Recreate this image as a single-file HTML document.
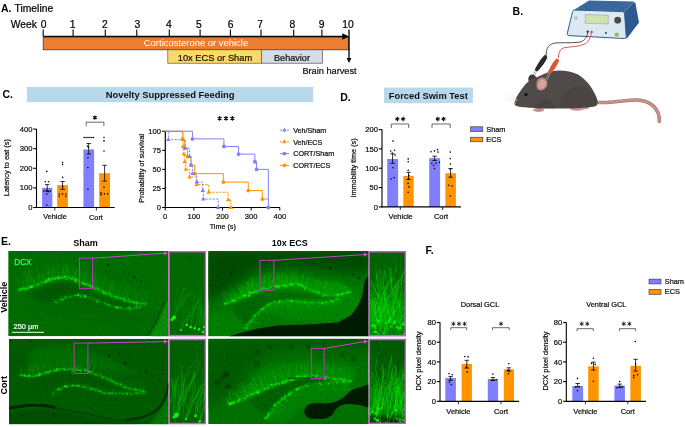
<!DOCTYPE html>
<html><head><meta charset="utf-8"><style>
html,body{margin:0;padding:0;background:#fff;width:685px;height:427px;overflow:hidden}
svg{display:block;will-change:transform;filter:blur(0.3px);font-family:"Liberation Sans", sans-serif}
</style></head><body>
<svg width="685" height="427" viewBox="0 0 685 427">
<defs>
<filter id="b03" x="-50%" y="-50%" width="200%" height="200%"><feGaussianBlur stdDeviation="0.35"/></filter>
<filter id="b05" x="-20%" y="-20%" width="140%" height="140%"><feGaussianBlur stdDeviation="0.5"/></filter>
<filter id="b1" x="-20%" y="-20%" width="140%" height="140%"><feGaussianBlur stdDeviation="1"/></filter>
<filter id="b3" x="-30%" y="-30%" width="160%" height="160%"><feGaussianBlur stdDeviation="2.5"/></filter>
<filter id="b6" x="-30%" y="-30%" width="160%" height="160%"><feGaussianBlur stdDeviation="6"/></filter>
<filter id="noise" x="0" y="0" width="100%" height="100%"><feTurbulence type="fractalNoise" baseFrequency="0.45" numOctaves="2" seed="3"/><feColorMatrix type="matrix" values="0 0 0 0 0  0 0 0 0 0  0 0 0 0 0  0 0 0 -1.4 0.85"/></filter>
</defs>
<text x="1" y="11.6" font-size="10.5" text-anchor="start" font-weight="bold" fill="#000" >A.</text>
<text x="14.6" y="11.6" font-size="10.3" text-anchor="start" font-weight="normal" fill="#000" stroke="#000" stroke-width="0.22" >Timeline</text>
<text x="10.8" y="28" font-size="10.3" text-anchor="start" font-weight="normal" fill="#000" stroke="#000" stroke-width="0.22" >Week</text>
<text x="43.5" y="28" font-size="10.3" text-anchor="middle" font-weight="normal" fill="#000" stroke="#000" stroke-width="0.22" >0</text>
<line x1="43.2" y1="29.6" x2="43.2" y2="36.5" stroke="#000" stroke-width="1.1" />
<text x="72.6" y="28" font-size="10.3" text-anchor="middle" font-weight="normal" fill="#000" stroke="#000" stroke-width="0.22" >1</text>
<line x1="73.1" y1="29.6" x2="73.1" y2="36.5" stroke="#000" stroke-width="1.1" />
<text x="104.8" y="28" font-size="10.3" text-anchor="middle" font-weight="normal" fill="#000" stroke="#000" stroke-width="0.22" >2</text>
<line x1="105.3" y1="29.6" x2="105.3" y2="36.5" stroke="#000" stroke-width="1.1" />
<text x="137.4" y="28" font-size="10.3" text-anchor="middle" font-weight="normal" fill="#000" stroke="#000" stroke-width="0.22" >3</text>
<line x1="136.8" y1="29.6" x2="136.8" y2="36.5" stroke="#000" stroke-width="1.1" />
<text x="168.9" y="28" font-size="10.3" text-anchor="middle" font-weight="normal" fill="#000" stroke="#000" stroke-width="0.22" >4</text>
<line x1="169.3" y1="29.6" x2="169.3" y2="36.5" stroke="#000" stroke-width="1.1" />
<text x="198.9" y="28" font-size="10.3" text-anchor="middle" font-weight="normal" fill="#000" stroke="#000" stroke-width="0.22" >5</text>
<line x1="200.1" y1="29.6" x2="200.1" y2="36.5" stroke="#000" stroke-width="1.1" />
<text x="230.7" y="28" font-size="10.3" text-anchor="middle" font-weight="normal" fill="#000" stroke="#000" stroke-width="0.22" >6</text>
<line x1="230.4" y1="29.6" x2="230.4" y2="36.5" stroke="#000" stroke-width="1.1" />
<text x="260.1" y="28" font-size="10.3" text-anchor="middle" font-weight="normal" fill="#000" stroke="#000" stroke-width="0.22" >7</text>
<line x1="261.0" y1="29.6" x2="261.0" y2="36.5" stroke="#000" stroke-width="1.1" />
<text x="292.3" y="28" font-size="10.3" text-anchor="middle" font-weight="normal" fill="#000" stroke="#000" stroke-width="0.22" >8</text>
<line x1="293.7" y1="29.6" x2="293.7" y2="36.5" stroke="#000" stroke-width="1.1" />
<text x="321.6" y="28" font-size="10.3" text-anchor="middle" font-weight="normal" fill="#000" stroke="#000" stroke-width="0.22" >9</text>
<line x1="321.9" y1="29.6" x2="321.9" y2="36.5" stroke="#000" stroke-width="1.1" />
<text x="348.0" y="28" font-size="10.3" text-anchor="middle" font-weight="normal" fill="#000" stroke="#000" stroke-width="0.22" >10</text>
<line x1="43.2" y1="36.5" x2="344" y2="36.5" stroke="#000" stroke-width="1.3" />
<rect x="43.2" y="37.2" width="305.6" height="12.6" fill="#ed7d31" stroke="#3a3a3a" stroke-width="0.8"/>
<text x="196" y="46.4" font-size="9.45" text-anchor="middle" font-weight="normal" fill="#fff" >Corticosterone or vehicle</text>
<path d="M342.3,33.2 L349.2,36.5 L342.3,39.8 Z" fill="#000"/>
<rect x="167.8" y="49.8" width="93.6" height="13.4" fill="#ffd966" stroke="#555" stroke-width="0.7"/>
<text x="215" y="60.6" font-size="9.3" text-anchor="middle" font-weight="normal" fill="#111" stroke="#111" stroke-width="0.22" >10x ECS or Sham</text>
<rect x="261.4" y="49.8" width="61" height="13.4" fill="#d6dce5" stroke="#555" stroke-width="0.7"/>
<text x="292" y="60.6" font-size="9.1" text-anchor="middle" font-weight="normal" fill="#111" stroke="#111" stroke-width="0.22" >Behavior</text>
<line x1="349" y1="29.4" x2="349" y2="59" stroke="#000" stroke-width="1.3" />
<path d="M346.6,58 L349,63 L351.4,58 Z" fill="#000"/>
<text x="329.5" y="74" font-size="9.2" text-anchor="middle" font-weight="normal" fill="#111" stroke="#111" stroke-width="0.22" >Brain harvest</text>
<text x="2.4" y="98.3" font-size="10.5" text-anchor="start" font-weight="bold" fill="#000" >C.</text>
<rect x="26.9" y="87" width="286.3" height="15.2" fill="#b8d8eb" />
<text x="170.2" y="98.3" font-size="9.4" text-anchor="middle" font-weight="bold" fill="#111" >Novelty Suppressed Feeding</text>
<rect x="42.1" y="187.89" width="10.2" height="19.610000000000014" fill="#8080ff" />
<rect x="57.2" y="185.1446" width="10.7" height="22.355400000000003" fill="#ff9300" />
<rect x="83.4" y="149.4544" width="10.7" height="58.04560000000001" fill="#8080ff" />
<rect x="99.2" y="173.1825" width="10.8" height="34.317499999999995" fill="#ff9300" />
<line x1="36.5" y1="129.0" x2="36.5" y2="208" stroke="#000" stroke-width="1.1" />
<line x1="33.3" y1="207.5" x2="36.5" y2="207.5" stroke="#000" stroke-width="1.1" />
<text x="32.5" y="210.1" font-size="7.6" text-anchor="end" font-weight="normal" fill="#111" stroke="#111" stroke-width="0.22" >0</text>
<line x1="33.3" y1="187.89" x2="36.5" y2="187.89" stroke="#000" stroke-width="1.1" />
<text x="32.5" y="190.48999999999998" font-size="7.6" text-anchor="end" font-weight="normal" fill="#111" stroke="#111" stroke-width="0.22" >100</text>
<line x1="33.3" y1="168.28" x2="36.5" y2="168.28" stroke="#000" stroke-width="1.1" />
<text x="32.5" y="170.88" font-size="7.6" text-anchor="end" font-weight="normal" fill="#111" stroke="#111" stroke-width="0.22" >200</text>
<line x1="33.3" y1="148.67000000000002" x2="36.5" y2="148.67000000000002" stroke="#000" stroke-width="1.1" />
<text x="32.5" y="151.27" font-size="7.6" text-anchor="end" font-weight="normal" fill="#111" stroke="#111" stroke-width="0.22" >300</text>
<line x1="33.3" y1="129.06" x2="36.5" y2="129.06" stroke="#000" stroke-width="1.1" />
<text x="32.5" y="131.66" font-size="7.6" text-anchor="end" font-weight="normal" fill="#111" stroke="#111" stroke-width="0.22" >400</text>
<line x1="36" y1="207.5" x2="114.7" y2="207.5" stroke="#000" stroke-width="1.2" />
<line x1="54.8" y1="207.5" x2="54.8" y2="210.5" stroke="#000" stroke-width="0.8" />
<line x1="96.4" y1="207.5" x2="96.4" y2="210.5" stroke="#000" stroke-width="0.8" />
<text x="55" y="219.3" font-size="7.3" text-anchor="middle" font-weight="normal" fill="#111" stroke="#111" stroke-width="0.22" >Vehicle</text>
<text x="96" y="219.8" font-size="7.3" text-anchor="middle" font-weight="normal" fill="#111" stroke="#111" stroke-width="0.22" >Cort</text>
<text x="0" y="0" font-size="7.4" text-anchor="middle" font-weight="normal" fill="#111" stroke="#111" stroke-width="0.22" transform="translate(9.4,167.6) rotate(-90)">Latency to eat (s)</text>
<line x1="47.2" y1="184.6" x2="47.2" y2="191.0" stroke="#000" stroke-width="0.8" />
<line x1="45.0" y1="184.6" x2="49.400000000000006" y2="184.6" stroke="#000" stroke-width="0.8" />
<line x1="45.0" y1="191.0" x2="49.400000000000006" y2="191.0" stroke="#000" stroke-width="0.8" />
<line x1="62.6" y1="181.5" x2="62.6" y2="189.3" stroke="#000" stroke-width="0.8" />
<line x1="60.4" y1="181.5" x2="64.8" y2="181.5" stroke="#000" stroke-width="0.8" />
<line x1="60.4" y1="189.3" x2="64.8" y2="189.3" stroke="#000" stroke-width="0.8" />
<line x1="88.7" y1="143.5" x2="88.7" y2="154.0" stroke="#000" stroke-width="0.8" />
<line x1="86.5" y1="143.5" x2="90.9" y2="143.5" stroke="#000" stroke-width="0.8" />
<line x1="86.5" y1="154.0" x2="90.9" y2="154.0" stroke="#000" stroke-width="0.8" />
<line x1="104.6" y1="165.3" x2="104.6" y2="181.1" stroke="#000" stroke-width="0.8" />
<line x1="102.39999999999999" y1="165.3" x2="106.8" y2="165.3" stroke="#000" stroke-width="0.8" />
<line x1="102.39999999999999" y1="181.1" x2="106.8" y2="181.1" stroke="#000" stroke-width="0.8" />
<circle cx="46.8" cy="171.4" r="0.8" fill="#000"/>
<circle cx="45.3" cy="181.7" r="0.8" fill="#000"/>
<circle cx="48.6" cy="181.7" r="0.8" fill="#000"/>
<circle cx="43.9" cy="191.1" r="0.8" fill="#000"/>
<circle cx="46.8" cy="191.1" r="0.8" fill="#000"/>
<circle cx="50.3" cy="191.1" r="0.8" fill="#000"/>
<circle cx="46.8" cy="194" r="0.8" fill="#000"/>
<circle cx="46.8" cy="205.1" r="0.8" fill="#000"/>
<circle cx="48.3" cy="191.6" r="0.8" fill="#000"/>
<circle cx="62.6" cy="162.6" r="0.8" fill="#000"/>
<circle cx="62.6" cy="164.5" r="0.8" fill="#000"/>
<circle cx="62.6" cy="177.4" r="0.8" fill="#000"/>
<circle cx="62.6" cy="186.7" r="0.8" fill="#000"/>
<circle cx="59.3" cy="194" r="0.8" fill="#000"/>
<circle cx="62.6" cy="194" r="0.8" fill="#000"/>
<circle cx="65.9" cy="194" r="0.8" fill="#000"/>
<circle cx="59.3" cy="196.3" r="0.8" fill="#000"/>
<circle cx="65.9" cy="196.3" r="0.8" fill="#000"/>
<circle cx="84.2" cy="137.5" r="0.8" fill="#000"/>
<circle cx="86.1" cy="137.5" r="0.8" fill="#000"/>
<circle cx="88.0" cy="137.5" r="0.8" fill="#000"/>
<circle cx="89.9" cy="137.5" r="0.8" fill="#000"/>
<circle cx="91.8" cy="137.5" r="0.8" fill="#000"/>
<circle cx="93.5" cy="137.5" r="0.8" fill="#000"/>
<circle cx="87.4" cy="146" r="0.8" fill="#000"/>
<circle cx="88.4" cy="147.3" r="0.8" fill="#000"/>
<circle cx="87.9" cy="157.8" r="0.8" fill="#000"/>
<circle cx="87.9" cy="167.6" r="0.8" fill="#000"/>
<circle cx="87.9" cy="189.2" r="0.8" fill="#000"/>
<circle cx="104" cy="137.5" r="0.8" fill="#000"/>
<circle cx="104" cy="140.9" r="0.8" fill="#000"/>
<circle cx="104" cy="151" r="0.8" fill="#000"/>
<circle cx="104" cy="187.3" r="0.8" fill="#000"/>
<circle cx="101" cy="192.9" r="0.8" fill="#000"/>
<circle cx="104.4" cy="193.9" r="0.8" fill="#000"/>
<circle cx="107.8" cy="193.9" r="0.8" fill="#000"/>
<circle cx="101" cy="194.8" r="0.8" fill="#000"/>
<path d="M86.2,126.2 L86.2,122.2 L103.9,122.2 L103.9,126.2" stroke="#444" stroke-width="0.8" fill="none"/>
<path d="M94.90,115.40L94.90,119.80M92.99,116.50L96.81,118.70M96.81,116.50L92.99,118.70" stroke="#111" stroke-width="1.15" fill="none"/>
<line x1="165.3" y1="131.0" x2="165.3" y2="208" stroke="#000" stroke-width="1.2" />
<line x1="162.1" y1="207.5" x2="165.3" y2="207.5" stroke="#000" stroke-width="1.0" />
<text x="161.0" y="210.2" font-size="7.6" text-anchor="end" font-weight="normal" fill="#111" stroke="#111" stroke-width="0.22" >0</text>
<line x1="162.1" y1="188.4375" x2="165.3" y2="188.4375" stroke="#000" stroke-width="1.0" />
<text x="161.0" y="191.1375" font-size="7.6" text-anchor="end" font-weight="normal" fill="#111" stroke="#111" stroke-width="0.22" >25</text>
<line x1="162.1" y1="169.375" x2="165.3" y2="169.375" stroke="#000" stroke-width="1.0" />
<text x="161.0" y="172.075" font-size="7.6" text-anchor="end" font-weight="normal" fill="#111" stroke="#111" stroke-width="0.22" >50</text>
<line x1="162.1" y1="150.3125" x2="165.3" y2="150.3125" stroke="#000" stroke-width="1.0" />
<text x="161.0" y="153.0125" font-size="7.6" text-anchor="end" font-weight="normal" fill="#111" stroke="#111" stroke-width="0.22" >75</text>
<line x1="162.1" y1="131.25" x2="165.3" y2="131.25" stroke="#000" stroke-width="1.0" />
<text x="161.0" y="133.95" font-size="7.6" text-anchor="end" font-weight="normal" fill="#111" stroke="#111" stroke-width="0.22" >100</text>
<line x1="165.3" y1="207.5" x2="280" y2="207.5" stroke="#000" stroke-width="1.2" />
<line x1="165.2" y1="207.5" x2="165.2" y2="210.5" stroke="#000" stroke-width="1.0" />
<text x="165.2" y="219.3" font-size="7.6" text-anchor="middle" font-weight="normal" fill="#111" stroke="#111" stroke-width="0.22" >0</text>
<line x1="193.85" y1="207.5" x2="193.85" y2="210.5" stroke="#000" stroke-width="1.0" />
<text x="193.85" y="219.3" font-size="7.6" text-anchor="middle" font-weight="normal" fill="#111" stroke="#111" stroke-width="0.22" >100</text>
<line x1="222.5" y1="207.5" x2="222.5" y2="210.5" stroke="#000" stroke-width="1.0" />
<text x="222.5" y="219.3" font-size="7.6" text-anchor="middle" font-weight="normal" fill="#111" stroke="#111" stroke-width="0.22" >200</text>
<line x1="251.14999999999998" y1="207.5" x2="251.14999999999998" y2="210.5" stroke="#000" stroke-width="1.0" />
<text x="251.14999999999998" y="219.3" font-size="7.6" text-anchor="middle" font-weight="normal" fill="#111" stroke="#111" stroke-width="0.22" >300</text>
<line x1="279.79999999999995" y1="207.5" x2="279.79999999999995" y2="210.5" stroke="#000" stroke-width="1.0" />
<text x="279.79999999999995" y="219.3" font-size="7.6" text-anchor="middle" font-weight="normal" fill="#111" stroke="#111" stroke-width="0.22" >400</text>
<text x="222.8" y="229.2" font-size="7.2" text-anchor="middle" font-weight="normal" fill="#111" stroke="#111" stroke-width="0.22" >Time (s)</text>
<text x="0" y="0" font-size="7.3" text-anchor="middle" font-weight="normal" fill="#111" stroke="#111" stroke-width="0.22" transform="translate(144.2,168.3) rotate(-90)">Probability of survival</text>
<path d="M219.60,116.10L219.60,120.70M217.61,117.25L221.59,119.55M221.59,117.25L217.61,119.55" stroke="#111" stroke-width="1.2" fill="none"/>
<path d="M226.00,116.10L226.00,120.70M224.01,117.25L227.99,119.55M227.99,117.25L224.01,119.55" stroke="#111" stroke-width="1.2" fill="none"/>
<path d="M232.40,116.10L232.40,120.70M230.41,117.25L234.39,119.55M234.39,117.25L230.41,119.55" stroke="#111" stroke-width="1.2" fill="none"/>
<path d="M165.20,131.25 H182.96 V139.71 H184.68 V148.18 H187.55 V156.64 H190.98 V165.11 H194.71 V173.65 H223.36 V182.11 H248.28 V190.57 H262.32 V199.04 H268.34" stroke="#ff9300" stroke-width="1.0" fill="none" />
<circle cx="182.96" cy="139.71" r="1.9" fill="#ff9300"/>
<circle cx="184.68" cy="148.18" r="1.9" fill="#ff9300"/>
<circle cx="187.55" cy="156.64" r="1.9" fill="#ff9300"/>
<circle cx="190.98" cy="165.11" r="1.9" fill="#ff9300"/>
<circle cx="194.71" cy="173.65" r="1.9" fill="#ff9300"/>
<circle cx="223.36" cy="182.11" r="1.9" fill="#ff9300"/>
<circle cx="248.28" cy="190.57" r="1.9" fill="#ff9300"/>
<circle cx="262.32" cy="199.04" r="1.9" fill="#ff9300"/>
<path d="M165.20,131.25 H182.39 V138.88 H182.96 V146.50 H183.82 V154.12 H184.68 V161.75 H185.83 V169.38 H189.55 V177.00 H196.71 V184.62 H208.75 V192.25 H228.23 V199.88 H230.81 V207.50" stroke="#ff9300" stroke-width="1.0" fill="none" stroke-dasharray="2.2,1.4"/>
<path d="M182.39,136.38 L184.69,140.28 L180.09,140.28 Z" fill="#ff9300"/>
<path d="M182.96,144.00 L185.26,147.90 L180.66,147.90 Z" fill="#ff9300"/>
<path d="M183.82,151.62 L186.12,155.53 L181.52,155.53 Z" fill="#ff9300"/>
<path d="M184.68,159.25 L186.98,163.15 L182.38,163.15 Z" fill="#ff9300"/>
<path d="M185.83,166.88 L188.13,170.78 L183.53,170.78 Z" fill="#ff9300"/>
<path d="M189.55,174.50 L191.85,178.40 L187.25,178.40 Z" fill="#ff9300"/>
<path d="M196.71,182.12 L199.01,186.03 L194.41,186.03 Z" fill="#ff9300"/>
<path d="M208.75,189.75 L211.05,193.65 L206.45,193.65 Z" fill="#ff9300"/>
<path d="M228.23,197.38 L230.53,201.28 L225.93,201.28 Z" fill="#ff9300"/>
<path d="M230.81,205.00 L233.11,208.90 L228.51,208.90 Z" fill="#ff9300"/>
<path d="M165.20,131.25 H168.35 V139.71 H185.25 V148.18 H189.55 V156.64 H190.98 V165.11 H192.42 V173.65 H196.71 V182.11 H202.73 V190.57 H203.30 V199.04 H218.20 V207.50" stroke="#8080ff" stroke-width="1.0" fill="none" stroke-dasharray="2.2,1.4"/>
<path d="M168.35,137.21 L170.65,141.11 L166.05,141.11 Z" fill="#8080ff"/>
<path d="M185.25,145.68 L187.56,149.58 L182.95,149.58 Z" fill="#8080ff"/>
<path d="M189.55,154.14 L191.85,158.04 L187.25,158.04 Z" fill="#8080ff"/>
<path d="M190.98,162.61 L193.28,166.51 L188.68,166.51 Z" fill="#8080ff"/>
<path d="M192.42,171.15 L194.72,175.05 L190.12,175.05 Z" fill="#8080ff"/>
<path d="M196.71,179.61 L199.01,183.51 L194.41,183.51 Z" fill="#8080ff"/>
<path d="M202.73,188.07 L205.03,191.97 L200.43,191.97 Z" fill="#8080ff"/>
<path d="M203.30,196.54 L205.60,200.44 L201.00,200.44 Z" fill="#8080ff"/>
<path d="M218.20,205.00 L220.50,208.90 L215.90,208.90 Z" fill="#8080ff"/>
<path d="M165.20,131.25 H192.42 V138.88 H223.93 V146.50 H238.54 V154.12 H254.87 V161.75 H256.59 V169.38 H268.34 V207.50" stroke="#8080ff" stroke-width="1.0" fill="none" />
<circle cx="192.42" cy="138.88" r="1.9" fill="#8080ff"/>
<circle cx="223.93" cy="146.50" r="1.9" fill="#8080ff"/>
<circle cx="238.54" cy="154.12" r="1.9" fill="#8080ff"/>
<circle cx="254.87" cy="161.75" r="1.9" fill="#8080ff"/>
<circle cx="256.59" cy="169.38" r="1.9" fill="#8080ff"/>
<circle cx="268.34" cy="207.50" r="1.9" fill="#8080ff"/>
<path d="M279.8,130.1 H289" stroke="#8080ff" stroke-width="1" stroke-dasharray="2.2,1.4"/>
<path d="M284.40,127.60 L286.70,131.50 L282.10,131.50 Z" fill="#8080ff"/>
<text x="293.2" y="132.79999999999998" font-size="7.2" text-anchor="start" font-weight="normal" fill="#111" stroke="#111" stroke-width="0.22" >Veh/Sham</text>
<path d="M279.8,141.85 H289" stroke="#ff9300" stroke-width="1" stroke-dasharray="2.2,1.4"/>
<path d="M284.40,139.35 L286.70,143.25 L282.10,143.25 Z" fill="#ff9300"/>
<text x="293.2" y="144.54999999999998" font-size="7.2" text-anchor="start" font-weight="normal" fill="#111" stroke="#111" stroke-width="0.22" >Veh/ECS</text>
<path d="M279.8,153.6 H289" stroke="#8080ff" stroke-width="1" />
<circle cx="284.40" cy="153.60" r="1.9" fill="#8080ff"/>
<text x="293.2" y="156.29999999999998" font-size="7.2" text-anchor="start" font-weight="normal" fill="#111" stroke="#111" stroke-width="0.22" >CORT/Sham</text>
<path d="M279.8,165.35 H289" stroke="#ff9300" stroke-width="1" />
<circle cx="284.40" cy="165.35" r="1.9" fill="#ff9300"/>
<text x="293.2" y="168.04999999999998" font-size="7.2" text-anchor="start" font-weight="normal" fill="#111" stroke="#111" stroke-width="0.22" >CORT/ECS</text>
<text x="340.2" y="100.8" font-size="10.5" text-anchor="start" font-weight="bold" fill="#000" >D.</text>
<rect x="384" y="87.6" width="88.9" height="15.5" fill="#b8d8eb" />
<text x="428.3" y="99" font-size="9.3" text-anchor="middle" font-weight="bold" fill="#111" >Forced Swim Test</text>
<rect x="387.2" y="158.974" width="10.9" height="47.926000000000016" fill="#8080ff" />
<rect x="403.3" y="175.98000000000002" width="10.4" height="30.919999999999987" fill="#ff9300" />
<rect x="429.2" y="158.20100000000002" width="10.9" height="48.698999999999984" fill="#8080ff" />
<rect x="445.4" y="173.2745" width="10.5" height="33.62550000000002" fill="#ff9300" />
<line x1="382" y1="129.6" x2="382" y2="207.4" stroke="#000" stroke-width="1.1" />
<line x1="378.8" y1="206.9" x2="382" y2="206.9" stroke="#000" stroke-width="1.1" />
<text x="378.0" y="209.5" font-size="7.6" text-anchor="end" font-weight="normal" fill="#111" stroke="#111" stroke-width="0.22" >0</text>
<line x1="378.8" y1="187.57500000000002" x2="382" y2="187.57500000000002" stroke="#000" stroke-width="1.1" />
<text x="378.0" y="190.175" font-size="7.6" text-anchor="end" font-weight="normal" fill="#111" stroke="#111" stroke-width="0.22" >50</text>
<line x1="378.8" y1="168.25" x2="382" y2="168.25" stroke="#000" stroke-width="1.1" />
<text x="378.0" y="170.85" font-size="7.6" text-anchor="end" font-weight="normal" fill="#111" stroke="#111" stroke-width="0.22" >100</text>
<line x1="378.8" y1="148.925" x2="382" y2="148.925" stroke="#000" stroke-width="1.1" />
<text x="378.0" y="151.525" font-size="7.6" text-anchor="end" font-weight="normal" fill="#111" stroke="#111" stroke-width="0.22" >150</text>
<line x1="378.8" y1="129.60000000000002" x2="382" y2="129.60000000000002" stroke="#000" stroke-width="1.1" />
<text x="378.0" y="132.20000000000002" font-size="7.6" text-anchor="end" font-weight="normal" fill="#111" stroke="#111" stroke-width="0.22" >200</text>
<line x1="381.5" y1="206.9" x2="460.9" y2="206.9" stroke="#000" stroke-width="1.2" />
<line x1="400.3" y1="206.9" x2="400.3" y2="210" stroke="#000" stroke-width="0.8" />
<line x1="442.6" y1="206.9" x2="442.6" y2="210" stroke="#000" stroke-width="0.8" />
<text x="400.7" y="219.1" font-size="7.5" text-anchor="middle" font-weight="normal" fill="#111" stroke="#111" stroke-width="0.22" >Vehicle</text>
<text x="441" y="219.1" font-size="7.5" text-anchor="middle" font-weight="normal" fill="#111" stroke="#111" stroke-width="0.22" >Cort</text>
<text x="0" y="0" font-size="7.3" text-anchor="middle" font-weight="normal" fill="#111" stroke="#111" stroke-width="0.22" transform="translate(356.2,168) rotate(-90)">Immobility time (s)</text>
<line x1="392.6" y1="153.9" x2="392.6" y2="163.3" stroke="#000" stroke-width="0.8" />
<line x1="390.40000000000003" y1="153.9" x2="394.8" y2="153.9" stroke="#000" stroke-width="0.8" />
<line x1="390.40000000000003" y1="163.3" x2="394.8" y2="163.3" stroke="#000" stroke-width="0.8" />
<line x1="408.5" y1="172.3" x2="408.5" y2="179.5" stroke="#000" stroke-width="0.8" />
<line x1="406.3" y1="172.3" x2="410.7" y2="172.3" stroke="#000" stroke-width="0.8" />
<line x1="406.3" y1="179.5" x2="410.7" y2="179.5" stroke="#000" stroke-width="0.8" />
<line x1="434.6" y1="156.2" x2="434.6" y2="160.5" stroke="#000" stroke-width="0.8" />
<line x1="432.40000000000003" y1="156.2" x2="436.8" y2="156.2" stroke="#000" stroke-width="0.8" />
<line x1="432.40000000000003" y1="160.5" x2="436.8" y2="160.5" stroke="#000" stroke-width="0.8" />
<line x1="450.6" y1="168.5" x2="450.6" y2="177.2" stroke="#000" stroke-width="0.8" />
<line x1="448.40000000000003" y1="168.5" x2="452.8" y2="168.5" stroke="#000" stroke-width="0.8" />
<line x1="448.40000000000003" y1="177.2" x2="452.8" y2="177.2" stroke="#000" stroke-width="0.8" />
<circle cx="393" cy="141.1" r="0.8" fill="#000"/>
<circle cx="390.7" cy="151" r="0.8" fill="#000"/>
<circle cx="394.6" cy="150.2" r="0.8" fill="#000"/>
<circle cx="392.3" cy="153" r="0.8" fill="#000"/>
<circle cx="395.1" cy="155.1" r="0.8" fill="#000"/>
<circle cx="393" cy="167.7" r="0.8" fill="#000"/>
<circle cx="390.9" cy="179" r="0.8" fill="#000"/>
<circle cx="394.1" cy="177.8" r="0.8" fill="#000"/>
<circle cx="408.2" cy="158.9" r="0.8" fill="#000"/>
<circle cx="408.2" cy="161.8" r="0.8" fill="#000"/>
<circle cx="408.2" cy="170.3" r="0.8" fill="#000"/>
<circle cx="409" cy="175.5" r="0.8" fill="#000"/>
<circle cx="408.5" cy="179" r="0.8" fill="#000"/>
<circle cx="408.1" cy="183.4" r="0.8" fill="#000"/>
<circle cx="409" cy="186.9" r="0.8" fill="#000"/>
<circle cx="408.1" cy="192.2" r="0.8" fill="#000"/>
<circle cx="431" cy="151.8" r="0.8" fill="#000"/>
<circle cx="434.5" cy="150.9" r="0.8" fill="#000"/>
<circle cx="438" cy="152.1" r="0.8" fill="#000"/>
<circle cx="431.9" cy="163.2" r="0.8" fill="#000"/>
<circle cx="435.9" cy="163.2" r="0.8" fill="#000"/>
<circle cx="439.4" cy="162.3" r="0.8" fill="#000"/>
<circle cx="433.6" cy="165.5" r="0.8" fill="#000"/>
<circle cx="434.5" cy="168.5" r="0.8" fill="#000"/>
<circle cx="437.5" cy="149.6" r="0.8" fill="#000"/>
<circle cx="450.3" cy="152.1" r="0.8" fill="#000"/>
<circle cx="450.3" cy="158.8" r="0.8" fill="#000"/>
<circle cx="450.3" cy="164.1" r="0.8" fill="#000"/>
<circle cx="450.3" cy="169.3" r="0.8" fill="#000"/>
<circle cx="448.6" cy="185.2" r="0.8" fill="#000"/>
<circle cx="452.1" cy="186" r="0.8" fill="#000"/>
<circle cx="450.3" cy="196" r="0.8" fill="#000"/>
<path d="M391.3,128 L391.3,124 L408.7,124 L408.7,128" stroke="#444" stroke-width="0.8" fill="none"/>
<path d="M432.0,128 L432.0,124 L450.2,124 L450.2,128" stroke="#444" stroke-width="0.8" fill="none"/>
<path d="M397.40,116.80L397.40,121.20M395.49,117.90L399.31,120.10M399.31,117.90L395.49,120.10" stroke="#111" stroke-width="1.15" fill="none"/>
<path d="M403.20,116.80L403.20,121.20M401.29,117.90L405.11,120.10M405.11,117.90L401.29,120.10" stroke="#111" stroke-width="1.15" fill="none"/>
<path d="M437.80,116.80L437.80,121.20M435.89,117.90L439.71,120.10M439.71,117.90L435.89,120.10" stroke="#111" stroke-width="1.15" fill="none"/>
<path d="M443.60,116.80L443.60,121.20M441.69,117.90L445.51,120.10M445.51,117.90L441.69,120.10" stroke="#111" stroke-width="1.15" fill="none"/>
<rect x="470.5" y="126.8" width="12.3" height="4.8" fill="#8080ff" stroke="#333" stroke-width="0.6"/>
<rect x="470.5" y="137.2" width="12.3" height="4.6" fill="#ff9300" stroke="#333" stroke-width="0.6"/>
<text x="486.3" y="131.6" font-size="7.35" text-anchor="start" font-weight="normal" fill="#111" stroke="#111" stroke-width="0.22" >Sham</text>
<text x="486.3" y="142.1" font-size="7.35" text-anchor="start" font-weight="normal" fill="#111" stroke="#111" stroke-width="0.22" >ECS</text>
<text x="425.6" y="254" font-size="10.5" text-anchor="start" font-weight="bold" fill="#000" >F.</text>
<rect x="649" y="279.1" width="12" height="4.8" fill="#8080ff" stroke="#333" stroke-width="0.6"/>
<rect x="649" y="289.6" width="12" height="4.7" fill="#ff9300" stroke="#333" stroke-width="0.6"/>
<text x="664.8" y="284" font-size="7.35" text-anchor="start" font-weight="normal" fill="#111" stroke="#111" stroke-width="0.22" >Sham</text>
<text x="664.8" y="294.3" font-size="7.35" text-anchor="start" font-weight="normal" fill="#111" stroke="#111" stroke-width="0.22" >ECS</text>
<text x="480" y="307.2" font-size="7.4" text-anchor="middle" font-weight="normal" fill="#111" stroke="#111" stroke-width="0.22" >Dorsal GCL</text>
<rect x="445.3" y="377.95550000000003" width="10.599999999999966" height="23.344499999999982" fill="#8080ff" />
<rect x="461.6" y="363.87" width="10.299999999999955" height="37.43000000000001" fill="#ff9300" />
<rect x="487.8" y="378.9405" width="10.300000000000011" height="22.359500000000025" fill="#8080ff" />
<rect x="503.8" y="369.386" width="10.199999999999989" height="31.913999999999987" fill="#ff9300" />
<line x1="440" y1="322.2" x2="440" y2="401.8" stroke="#000" stroke-width="1.1" />
<line x1="436.8" y1="401.3" x2="440" y2="401.3" stroke="#000" stroke-width="1.1" />
<text x="436.0" y="403.90000000000003" font-size="7.6" text-anchor="end" font-weight="normal" fill="#111" stroke="#111" stroke-width="0.22" >0</text>
<line x1="436.8" y1="381.6" x2="440" y2="381.6" stroke="#000" stroke-width="1.1" />
<text x="436.0" y="384.20000000000005" font-size="7.6" text-anchor="end" font-weight="normal" fill="#111" stroke="#111" stroke-width="0.22" >20</text>
<line x1="436.8" y1="361.90000000000003" x2="440" y2="361.90000000000003" stroke="#000" stroke-width="1.1" />
<text x="436.0" y="364.50000000000006" font-size="7.6" text-anchor="end" font-weight="normal" fill="#111" stroke="#111" stroke-width="0.22" >40</text>
<line x1="436.8" y1="342.2" x2="440" y2="342.2" stroke="#000" stroke-width="1.1" />
<text x="436.0" y="344.8" font-size="7.6" text-anchor="end" font-weight="normal" fill="#111" stroke="#111" stroke-width="0.22" >60</text>
<line x1="436.8" y1="322.5" x2="440" y2="322.5" stroke="#000" stroke-width="1.1" />
<text x="436.0" y="325.1" font-size="7.6" text-anchor="end" font-weight="normal" fill="#111" stroke="#111" stroke-width="0.22" >80</text>
<line x1="439.5" y1="401.3" x2="519.1" y2="401.3" stroke="#000" stroke-width="1.2" />
<line x1="458.4" y1="401.3" x2="458.4" y2="404.3" stroke="#000" stroke-width="0.8" />
<line x1="501" y1="401.3" x2="501" y2="404.3" stroke="#000" stroke-width="0.8" />
<text x="458.4" y="413.5" font-size="7.5" text-anchor="middle" font-weight="normal" fill="#111" stroke="#111" stroke-width="0.22" >Vehicle</text>
<text x="501" y="413.5" font-size="7.5" text-anchor="middle" font-weight="normal" fill="#111" stroke="#111" stroke-width="0.22" >Cort</text>
<text x="0" y="0" font-size="7.5" text-anchor="middle" font-weight="normal" fill="#111" stroke="#111" stroke-width="0.22" transform="translate(421.2,361) rotate(-90)">DCX pixel density</text>
<line x1="450.6" y1="376.6" x2="450.6" y2="380.3" stroke="#000" stroke-width="0.8" />
<line x1="448.40000000000003" y1="376.6" x2="452.8" y2="376.6" stroke="#000" stroke-width="0.8" />
<line x1="448.40000000000003" y1="380.3" x2="452.8" y2="380.3" stroke="#000" stroke-width="0.8" />
<line x1="466.8" y1="360.3" x2="466.8" y2="368.1" stroke="#000" stroke-width="0.8" />
<line x1="464.6" y1="360.3" x2="469.0" y2="360.3" stroke="#000" stroke-width="0.8" />
<line x1="464.6" y1="368.1" x2="469.0" y2="368.1" stroke="#000" stroke-width="0.8" />
<line x1="492.9" y1="377.5" x2="492.9" y2="380.5" stroke="#000" stroke-width="0.8" />
<line x1="490.7" y1="377.5" x2="495.09999999999997" y2="377.5" stroke="#000" stroke-width="0.8" />
<line x1="490.7" y1="380.5" x2="495.09999999999997" y2="380.5" stroke="#000" stroke-width="0.8" />
<line x1="508.9" y1="367.8" x2="508.9" y2="371" stroke="#000" stroke-width="0.8" />
<line x1="506.7" y1="367.8" x2="511.09999999999997" y2="367.8" stroke="#000" stroke-width="0.8" />
<line x1="506.7" y1="371" x2="511.09999999999997" y2="371" stroke="#000" stroke-width="0.8" />
<circle cx="449" cy="373.8" r="0.8" fill="#000"/>
<circle cx="452.2" cy="374.7" r="0.8" fill="#000"/>
<circle cx="450.3" cy="380.3" r="0.8" fill="#000"/>
<circle cx="451.3" cy="384.6" r="0.8" fill="#000"/>
<circle cx="449.4" cy="382.2" r="0.8" fill="#000"/>
<circle cx="464.8" cy="356.5" r="0.8" fill="#000"/>
<circle cx="468.1" cy="356.9" r="0.8" fill="#000"/>
<circle cx="466.3" cy="367.2" r="0.8" fill="#000"/>
<circle cx="467.2" cy="371.9" r="0.8" fill="#000"/>
<circle cx="492.9" cy="374.1" r="0.8" fill="#000"/>
<circle cx="491.6" cy="380.3" r="0.8" fill="#000"/>
<circle cx="494.4" cy="380.3" r="0.8" fill="#000"/>
<circle cx="496.3" cy="379.8" r="0.8" fill="#000"/>
<circle cx="508.8" cy="363.8" r="0.8" fill="#000"/>
<circle cx="507.5" cy="370.4" r="0.8" fill="#000"/>
<circle cx="509.4" cy="370.9" r="0.8" fill="#000"/>
<circle cx="508.4" cy="373.8" r="0.8" fill="#000"/>
<path d="M450.8,330.2 L450.8,327.7 L466.7,327.7 L466.7,330.2" stroke="#444" stroke-width="0.8" fill="none"/>
<path d="M453.40,321.60L453.40,326.00M451.49,322.70L455.31,324.90M455.31,322.70L451.49,324.90" stroke="#111" stroke-width="0.85" fill="none"/>
<path d="M459.00,321.60L459.00,326.00M457.09,322.70L460.91,324.90M460.91,322.70L457.09,324.90" stroke="#111" stroke-width="0.85" fill="none"/>
<path d="M464.60,321.60L464.60,326.00M462.69,322.70L466.51,324.90M466.51,322.70L462.69,324.90" stroke="#111" stroke-width="0.85" fill="none"/>
<path d="M492.5,330.2 L492.5,327.7 L509.2,327.7 L509.2,330.2" stroke="#444" stroke-width="0.8" fill="none"/>
<path d="M501.00,321.60L501.00,326.00M499.09,322.70L502.91,324.90M502.91,322.70L499.09,324.90" stroke="#111" stroke-width="0.85" fill="none"/>
<text x="606.3" y="307.2" font-size="7.4" text-anchor="middle" font-weight="normal" fill="#111" stroke="#111" stroke-width="0.22" >Ventral GCL</text>
<rect x="572.3" y="386.0325" width="10.800000000000068" height="15.267499999999984" fill="#8080ff" />
<rect x="588.2" y="366.3325" width="10.5" height="34.96750000000003" fill="#ff9300" />
<rect x="614.4" y="385.54" width="10.5" height="15.759999999999991" fill="#8080ff" />
<rect x="630.4" y="365.84000000000003" width="10.5" height="35.45999999999998" fill="#ff9300" />
<line x1="566.3" y1="322.2" x2="566.3" y2="401.8" stroke="#000" stroke-width="1.1" />
<line x1="563.0999999999999" y1="401.3" x2="566.3" y2="401.3" stroke="#000" stroke-width="1.1" />
<text x="562.3" y="403.90000000000003" font-size="7.6" text-anchor="end" font-weight="normal" fill="#111" stroke="#111" stroke-width="0.22" >0</text>
<line x1="563.0999999999999" y1="381.6" x2="566.3" y2="381.6" stroke="#000" stroke-width="1.1" />
<text x="562.3" y="384.20000000000005" font-size="7.6" text-anchor="end" font-weight="normal" fill="#111" stroke="#111" stroke-width="0.22" >20</text>
<line x1="563.0999999999999" y1="361.90000000000003" x2="566.3" y2="361.90000000000003" stroke="#000" stroke-width="1.1" />
<text x="562.3" y="364.50000000000006" font-size="7.6" text-anchor="end" font-weight="normal" fill="#111" stroke="#111" stroke-width="0.22" >40</text>
<line x1="563.0999999999999" y1="342.2" x2="566.3" y2="342.2" stroke="#000" stroke-width="1.1" />
<text x="562.3" y="344.8" font-size="7.6" text-anchor="end" font-weight="normal" fill="#111" stroke="#111" stroke-width="0.22" >60</text>
<line x1="563.0999999999999" y1="322.5" x2="566.3" y2="322.5" stroke="#000" stroke-width="1.1" />
<text x="562.3" y="325.1" font-size="7.6" text-anchor="end" font-weight="normal" fill="#111" stroke="#111" stroke-width="0.22" >80</text>
<line x1="565.8" y1="401.3" x2="646" y2="401.3" stroke="#000" stroke-width="1.2" />
<line x1="585.4" y1="401.3" x2="585.4" y2="404.3" stroke="#000" stroke-width="0.8" />
<line x1="627.8" y1="401.3" x2="627.8" y2="404.3" stroke="#000" stroke-width="0.8" />
<text x="585.4" y="413.5" font-size="7.5" text-anchor="middle" font-weight="normal" fill="#111" stroke="#111" stroke-width="0.22" >Vehicle</text>
<text x="627.8" y="413.5" font-size="7.5" text-anchor="middle" font-weight="normal" fill="#111" stroke="#111" stroke-width="0.22" >Cort</text>
<text x="0" y="0" font-size="7.5" text-anchor="middle" font-weight="normal" fill="#111" stroke="#111" stroke-width="0.22" transform="translate(547.6,361) rotate(-90)">DCX pixel density</text>
<line x1="577.7" y1="383.5" x2="577.7" y2="386.9" stroke="#000" stroke-width="0.8" />
<line x1="575.5" y1="383.5" x2="579.9000000000001" y2="383.5" stroke="#000" stroke-width="0.8" />
<line x1="575.5" y1="386.9" x2="579.9000000000001" y2="386.9" stroke="#000" stroke-width="0.8" />
<line x1="593.5" y1="362.1" x2="593.5" y2="370" stroke="#000" stroke-width="0.8" />
<line x1="591.3" y1="362.1" x2="595.7" y2="362.1" stroke="#000" stroke-width="0.8" />
<line x1="591.3" y1="370" x2="595.7" y2="370" stroke="#000" stroke-width="0.8" />
<line x1="619.7" y1="384.1" x2="619.7" y2="387.5" stroke="#000" stroke-width="0.8" />
<line x1="617.5" y1="384.1" x2="621.9000000000001" y2="384.1" stroke="#000" stroke-width="0.8" />
<line x1="617.5" y1="387.5" x2="621.9000000000001" y2="387.5" stroke="#000" stroke-width="0.8" />
<line x1="635.6" y1="359.3" x2="635.6" y2="371" stroke="#000" stroke-width="0.8" />
<line x1="633.4" y1="359.3" x2="637.8000000000001" y2="359.3" stroke="#000" stroke-width="0.8" />
<line x1="633.4" y1="371" x2="637.8000000000001" y2="371" stroke="#000" stroke-width="0.8" />
<circle cx="577.5" cy="378.4" r="0.8" fill="#000"/>
<circle cx="575.6" cy="386.9" r="0.8" fill="#000"/>
<circle cx="579.4" cy="386.5" r="0.8" fill="#000"/>
<circle cx="577.5" cy="390.6" r="0.8" fill="#000"/>
<circle cx="593.4" cy="358.2" r="0.8" fill="#000"/>
<circle cx="591.6" cy="363.4" r="0.8" fill="#000"/>
<circle cx="595.3" cy="364.4" r="0.8" fill="#000"/>
<circle cx="593.4" cy="381.3" r="0.8" fill="#000"/>
<circle cx="619.7" cy="381.6" r="0.8" fill="#000"/>
<circle cx="616.9" cy="387.8" r="0.8" fill="#000"/>
<circle cx="619.7" cy="386.9" r="0.8" fill="#000"/>
<circle cx="622.5" cy="386.9" r="0.8" fill="#000"/>
<circle cx="635.3" cy="341.5" r="0.8" fill="#000"/>
<circle cx="635.6" cy="364" r="0.8" fill="#000"/>
<circle cx="633.8" cy="375.6" r="0.8" fill="#000"/>
<circle cx="637.5" cy="374.7" r="0.8" fill="#000"/>
<circle cx="633.8" cy="377.5" r="0.8" fill="#000"/>
<path d="M577,331.2 L577,328.7 L593.3,328.7 L593.3,331.2" stroke="#444" stroke-width="0.8" fill="none"/>
<path d="M581.70,321.60L581.70,326.00M579.79,322.70L583.61,324.90M583.61,322.70L579.79,324.90" stroke="#111" stroke-width="0.85" fill="none"/>
<path d="M587.30,321.60L587.30,326.00M585.39,322.70L589.21,324.90M589.21,322.70L585.39,324.90" stroke="#111" stroke-width="0.85" fill="none"/>
<path d="M619.4,331.2 L619.4,328.7 L635.7,328.7 L635.7,331.2" stroke="#444" stroke-width="0.8" fill="none"/>
<path d="M623.80,321.60L623.80,326.00M621.89,322.70L625.71,324.90M625.71,322.70L621.89,324.90" stroke="#111" stroke-width="0.85" fill="none"/>
<path d="M629.40,321.60L629.40,326.00M627.49,322.70L631.31,324.90M631.31,322.70L627.49,324.90" stroke="#111" stroke-width="0.85" fill="none"/>
<text x="1" y="244.7" font-size="10.5" text-anchor="start" font-weight="bold" fill="#000" >E.</text>
<text x="85.6" y="246.4" font-size="9" text-anchor="middle" font-weight="bold" fill="#000" >Sham</text>
<text x="289.8" y="246.4" font-size="9" text-anchor="middle" font-weight="bold" fill="#000" >10x ECS</text>
<text x="0" y="0" font-size="9" text-anchor="middle" font-weight="bold" fill="#000" transform="translate(6.6,297.2) rotate(-90)">Vehicle</text>
<text x="0" y="0" font-size="9" text-anchor="middle" font-weight="bold" fill="#000" transform="translate(6.6,385.2) rotate(-90)">Cort</text>
<clipPath id="cp1"><rect x="8.2" y="251" width="160.3" height="85.3"/></clipPath>
<g clip-path="url(#cp1)">
<rect x="8.2" y="251" width="160.3" height="85.3" fill="#017001" />
<path d="M30.0,292.0 C35.0,290.5 51.7,283.8 60.0,283.0 C68.3,282.2 73.3,284.8 80.0,287.0 C86.7,289.2 92.5,293.3 100.0,296.0 C107.5,298.7 117.3,301.3 125.0,303.0 C132.7,304.7 145.2,305.0 146.0,306.0 C146.8,307.0 136.0,308.8 130.0,309.0 C124.0,309.2 116.7,308.5 110.0,307.0 C103.3,305.5 96.7,301.5 90.0,300.0 C83.3,298.5 76.7,297.7 70.0,298.0 C63.3,298.3 55.8,301.7 50.0,302.0 C44.2,302.3 38.3,301.7 35.0,300.0 C31.7,298.3 30.8,293.3 30.0,292.0 Z" fill="#015601" opacity="0.8" filter="url(#b3)"/>
<path d="M55.0,306.0 C60.0,305.3 75.0,301.0 85.0,302.0 C95.0,303.0 105.0,309.7 115.0,312.0 C125.0,314.3 136.7,316.0 145.0,316.0 C153.3,316.0 161.7,311.3 165.0,312.0 C168.3,312.7 169.2,318.0 165.0,320.0 C160.8,322.0 149.2,324.0 140.0,324.0 C130.8,324.0 120.0,322.0 110.0,320.0 C100.0,318.0 88.7,313.3 80.0,312.0 C71.3,310.7 62.2,313.0 58.0,312.0 C53.8,311.0 55.5,307.0 55.0,306.0 Z" fill="#016601" opacity="0.5" filter="url(#b3)"/>
<path d="M25.0,282.0 C28.3,280.0 38.3,272.7 45.0,270.0 C51.7,267.3 58.3,266.0 65.0,266.0 C71.7,266.0 77.5,267.3 85.0,270.0 C92.5,272.7 100.8,277.8 110.0,282.0 C119.2,286.2 138.3,292.5 140.0,295.0 C141.7,297.5 127.5,298.2 120.0,297.0 C112.5,295.8 102.5,291.0 95.0,288.0 C87.5,285.0 81.7,280.7 75.0,279.0 C68.3,277.3 61.7,276.8 55.0,278.0 C48.3,279.2 40.0,285.3 35.0,286.0 C30.0,286.7 26.7,282.7 25.0,282.0 Z" fill="#038203" opacity="0.4" filter="url(#b3)"/>
<path d="M150.0,336.0 C151.3,333.7 155.5,327.0 158.0,322.0 C160.5,317.0 162.7,309.7 165.0,306.0 C167.3,302.3 170.8,294.3 172.0,300.0 C173.2,305.7 175.7,334.0 172.0,340.0 C168.3,346.0 153.7,336.7 150.0,336.0 Z" fill="#079a07" opacity="0.8" filter="url(#b1)"/>
<path d="M164,302 C160,315 155,327 146,336" stroke="#014a01" stroke-width="1.2" fill="none" opacity="0.7" filter="url(#b05)"/>
<path d="M36,311 C60,313 80,318 100,321 C115,324 125,330 140,336" stroke="#015001" stroke-width="1" fill="none" opacity="0.3" filter="url(#b05)"/>
<path d="M100,270 C115,275 130,282 150,290" stroke="#015001" stroke-width="0.8" fill="none" opacity="0.3" filter="url(#b05)"/>
<path d="M19.0,289.5 C20.5,289.2 24.9,288.3 28.0,287.5 C31.1,286.7 34.6,286.0 37.9,284.8 C41.2,283.6 44.2,281.7 47.8,280.5 C51.4,279.3 56.1,277.9 59.7,277.5 C63.4,277.1 66.7,277.2 69.7,277.9 C72.7,278.6 74.7,280.3 77.7,281.5 C80.7,282.7 84.9,284.2 87.6,285.3 C90.3,286.4 90.6,286.4 94.0,287.8 C97.4,289.2 103.3,292.0 107.9,293.8 C112.5,295.6 117.1,297.2 121.8,298.8 C126.5,300.4 131.8,302.3 135.8,303.1 C139.8,303.9 144.0,303.6 145.7,303.7" stroke="#04c804" stroke-width="3.5" fill="none" opacity="0.35" filter="url(#b1)" stroke-linecap="round"/>
<line x1="19.0" y1="289.5" x2="17.0" y2="278.6" stroke="#0cd80a" stroke-width="0.68" opacity="0.27"/>
<line x1="20.1" y1="289.3" x2="18.1" y2="277.6" stroke="#0cd80a" stroke-width="0.46" opacity="0.29"/>
<line x1="21.2" y1="289.0" x2="20.6" y2="275.7" stroke="#0cd80a" stroke-width="0.43" opacity="0.22"/>
<line x1="22.3" y1="288.8" x2="22.1" y2="282.2" stroke="#0cd80a" stroke-width="0.61" opacity="0.14"/>
<line x1="23.4" y1="288.5" x2="24.4" y2="270.8" stroke="#0cd80a" stroke-width="0.60" opacity="0.32"/>
<line x1="24.5" y1="288.3" x2="20.9" y2="281.8" stroke="#0cd80a" stroke-width="0.56" opacity="0.15"/>
<line x1="25.6" y1="288.0" x2="22.7" y2="280.8" stroke="#0cd80a" stroke-width="0.41" opacity="0.27"/>
<line x1="26.7" y1="287.8" x2="26.5" y2="276.8" stroke="#0cd80a" stroke-width="0.56" opacity="0.33"/>
<line x1="27.7" y1="287.6" x2="26.3" y2="275.9" stroke="#0cd80a" stroke-width="0.54" opacity="0.22"/>
<line x1="28.8" y1="287.3" x2="29.4" y2="269.3" stroke="#0cd80a" stroke-width="0.65" opacity="0.35"/>
<line x1="29.9" y1="287.0" x2="26.0" y2="278.5" stroke="#0cd80a" stroke-width="0.49" opacity="0.15"/>
<line x1="31.0" y1="286.7" x2="26.2" y2="272.4" stroke="#0cd80a" stroke-width="0.65" opacity="0.25"/>
<line x1="32.1" y1="286.4" x2="31.1" y2="268.9" stroke="#0cd80a" stroke-width="0.40" opacity="0.20"/>
<line x1="33.2" y1="286.1" x2="28.4" y2="269.9" stroke="#0cd80a" stroke-width="0.69" opacity="0.25"/>
<line x1="34.2" y1="285.8" x2="33.0" y2="279.6" stroke="#0cd80a" stroke-width="0.63" opacity="0.21"/>
<line x1="35.3" y1="285.5" x2="33.0" y2="279.4" stroke="#0cd80a" stroke-width="0.69" opacity="0.36"/>
<line x1="36.4" y1="285.2" x2="33.6" y2="278.9" stroke="#0cd80a" stroke-width="0.43" opacity="0.15"/>
<line x1="37.5" y1="284.9" x2="30.6" y2="271.1" stroke="#0cd80a" stroke-width="0.57" opacity="0.27"/>
<line x1="38.5" y1="284.5" x2="36.4" y2="277.0" stroke="#0cd80a" stroke-width="0.44" opacity="0.33"/>
<line x1="39.5" y1="284.1" x2="36.5" y2="277.9" stroke="#0cd80a" stroke-width="0.46" opacity="0.21"/>
<line x1="40.6" y1="283.6" x2="36.6" y2="266.5" stroke="#0cd80a" stroke-width="0.49" opacity="0.40"/>
<line x1="41.6" y1="283.2" x2="37.9" y2="276.0" stroke="#0cd80a" stroke-width="0.66" opacity="0.33"/>
<line x1="42.6" y1="282.7" x2="41.9" y2="276.1" stroke="#0cd80a" stroke-width="0.46" opacity="0.21"/>
<line x1="43.7" y1="282.3" x2="36.2" y2="269.1" stroke="#0cd80a" stroke-width="0.49" opacity="0.15"/>
<line x1="44.7" y1="281.9" x2="42.4" y2="275.7" stroke="#0cd80a" stroke-width="0.47" opacity="0.32"/>
<line x1="45.7" y1="281.4" x2="41.4" y2="272.3" stroke="#0cd80a" stroke-width="0.69" opacity="0.28"/>
<line x1="46.7" y1="281.0" x2="44.4" y2="268.5" stroke="#0cd80a" stroke-width="0.45" opacity="0.18"/>
<line x1="47.8" y1="280.5" x2="44.1" y2="264.1" stroke="#0cd80a" stroke-width="0.47" opacity="0.19"/>
<line x1="48.9" y1="280.2" x2="49.1" y2="265.5" stroke="#0cd80a" stroke-width="0.46" opacity="0.42"/>
<line x1="49.9" y1="280.0" x2="46.9" y2="263.7" stroke="#0cd80a" stroke-width="0.53" opacity="0.16"/>
<line x1="51.0" y1="279.7" x2="51.2" y2="273.8" stroke="#0cd80a" stroke-width="0.47" opacity="0.35"/>
<line x1="52.1" y1="279.4" x2="51.7" y2="270.8" stroke="#0cd80a" stroke-width="0.58" opacity="0.22"/>
<line x1="53.2" y1="279.1" x2="52.3" y2="271.6" stroke="#0cd80a" stroke-width="0.42" opacity="0.20"/>
<line x1="54.3" y1="278.9" x2="53.8" y2="266.4" stroke="#0cd80a" stroke-width="0.58" opacity="0.22"/>
<line x1="55.4" y1="278.6" x2="48.4" y2="263.1" stroke="#0cd80a" stroke-width="0.40" opacity="0.21"/>
<line x1="56.5" y1="278.3" x2="51.1" y2="268.7" stroke="#0cd80a" stroke-width="0.45" opacity="0.24"/>
<line x1="57.5" y1="278.0" x2="51.9" y2="266.8" stroke="#0cd80a" stroke-width="0.51" opacity="0.40"/>
<line x1="58.6" y1="277.8" x2="55.9" y2="260.2" stroke="#0cd80a" stroke-width="0.61" opacity="0.31"/>
<line x1="59.7" y1="277.5" x2="58.0" y2="270.5" stroke="#0cd80a" stroke-width="0.41" opacity="0.41"/>
<line x1="60.8" y1="277.5" x2="65.3" y2="264.0" stroke="#0cd80a" stroke-width="0.41" opacity="0.33"/>
<line x1="62.0" y1="277.6" x2="64.0" y2="266.3" stroke="#0cd80a" stroke-width="0.50" opacity="0.44"/>
<line x1="63.1" y1="277.6" x2="63.5" y2="271.3" stroke="#0cd80a" stroke-width="0.62" opacity="0.41"/>
<line x1="64.2" y1="277.7" x2="66.6" y2="263.2" stroke="#0cd80a" stroke-width="0.64" opacity="0.41"/>
<line x1="65.3" y1="277.7" x2="66.8" y2="268.0" stroke="#0cd80a" stroke-width="0.67" opacity="0.40"/>
<line x1="66.4" y1="277.8" x2="68.7" y2="267.4" stroke="#0cd80a" stroke-width="0.66" opacity="0.31"/>
<line x1="67.5" y1="277.8" x2="67.1" y2="264.5" stroke="#0cd80a" stroke-width="0.57" opacity="0.32"/>
<line x1="68.7" y1="277.9" x2="69.5" y2="271.5" stroke="#0cd80a" stroke-width="0.70" opacity="0.40"/>
<line x1="69.8" y1="277.9" x2="74.9" y2="264.3" stroke="#0cd80a" stroke-width="0.62" opacity="0.31"/>
<line x1="70.8" y1="278.4" x2="77.2" y2="269.5" stroke="#0cd80a" stroke-width="0.43" opacity="0.36"/>
<line x1="71.8" y1="278.9" x2="74.5" y2="273.7" stroke="#0cd80a" stroke-width="0.54" opacity="0.20"/>
<line x1="72.8" y1="279.3" x2="78.6" y2="266.4" stroke="#0cd80a" stroke-width="0.58" opacity="0.41"/>
<line x1="73.9" y1="279.8" x2="75.0" y2="271.2" stroke="#0cd80a" stroke-width="0.49" opacity="0.34"/>
<line x1="74.9" y1="280.2" x2="76.7" y2="272.5" stroke="#0cd80a" stroke-width="0.67" opacity="0.33"/>
<line x1="75.9" y1="280.7" x2="82.6" y2="272.0" stroke="#0cd80a" stroke-width="0.50" opacity="0.33"/>
<line x1="76.9" y1="281.2" x2="79.9" y2="273.8" stroke="#0cd80a" stroke-width="0.64" opacity="0.41"/>
<line x1="78.0" y1="281.6" x2="82.8" y2="265.8" stroke="#0cd80a" stroke-width="0.57" opacity="0.23"/>
<line x1="79.0" y1="282.0" x2="81.5" y2="275.3" stroke="#0cd80a" stroke-width="0.65" opacity="0.39"/>
<line x1="80.0" y1="282.4" x2="88.6" y2="270.9" stroke="#0cd80a" stroke-width="0.48" opacity="0.18"/>
<line x1="81.1" y1="282.8" x2="83.6" y2="272.0" stroke="#0cd80a" stroke-width="0.46" opacity="0.26"/>
<line x1="82.1" y1="283.2" x2="86.9" y2="270.8" stroke="#0cd80a" stroke-width="0.49" opacity="0.39"/>
<line x1="83.2" y1="283.6" x2="89.1" y2="266.8" stroke="#0cd80a" stroke-width="0.42" opacity="0.14"/>
<line x1="84.2" y1="284.0" x2="85.7" y2="267.7" stroke="#0cd80a" stroke-width="0.61" opacity="0.31"/>
<line x1="85.3" y1="284.4" x2="90.1" y2="276.4" stroke="#0cd80a" stroke-width="0.41" opacity="0.17"/>
<line x1="86.3" y1="284.8" x2="87.2" y2="273.7" stroke="#0cd80a" stroke-width="0.65" opacity="0.20"/>
<line x1="87.4" y1="285.2" x2="88.0" y2="278.1" stroke="#0cd80a" stroke-width="0.59" opacity="0.27"/>
<line x1="88.4" y1="285.6" x2="94.4" y2="273.7" stroke="#0cd80a" stroke-width="0.64" opacity="0.42"/>
<line x1="89.5" y1="286.0" x2="92.1" y2="272.3" stroke="#0cd80a" stroke-width="0.54" opacity="0.19"/>
<line x1="90.5" y1="286.4" x2="92.4" y2="281.2" stroke="#0cd80a" stroke-width="0.61" opacity="0.19"/>
<line x1="91.5" y1="286.8" x2="94.0" y2="278.3" stroke="#0cd80a" stroke-width="0.61" opacity="0.29"/>
<line x1="92.6" y1="287.2" x2="99.2" y2="275.9" stroke="#0cd80a" stroke-width="0.52" opacity="0.37"/>
<line x1="93.6" y1="287.7" x2="95.7" y2="271.0" stroke="#0cd80a" stroke-width="0.68" opacity="0.35"/>
<line x1="94.7" y1="288.1" x2="97.3" y2="281.5" stroke="#0cd80a" stroke-width="0.59" opacity="0.41"/>
<line x1="95.7" y1="288.5" x2="100.1" y2="279.4" stroke="#0cd80a" stroke-width="0.66" opacity="0.20"/>
<line x1="96.7" y1="289.0" x2="103.2" y2="272.9" stroke="#0cd80a" stroke-width="0.60" opacity="0.10"/>
<line x1="97.7" y1="289.4" x2="105.9" y2="277.4" stroke="#0cd80a" stroke-width="0.59" opacity="0.18"/>
<line x1="98.8" y1="289.9" x2="103.6" y2="283.4" stroke="#0cd80a" stroke-width="0.69" opacity="0.22"/>
<line x1="99.8" y1="290.3" x2="106.5" y2="280.1" stroke="#0cd80a" stroke-width="0.50" opacity="0.21"/>
<line x1="100.8" y1="290.7" x2="105.9" y2="275.4" stroke="#0cd80a" stroke-width="0.42" opacity="0.14"/>
<line x1="101.9" y1="291.2" x2="108.5" y2="280.8" stroke="#0cd80a" stroke-width="0.55" opacity="0.07"/>
<line x1="102.9" y1="291.6" x2="105.2" y2="276.2" stroke="#0cd80a" stroke-width="0.64" opacity="0.10"/>
<line x1="103.9" y1="292.1" x2="109.2" y2="284.0" stroke="#0cd80a" stroke-width="0.44" opacity="0.09"/>
<line x1="104.9" y1="292.5" x2="111.1" y2="282.3" stroke="#0cd80a" stroke-width="0.65" opacity="0.18"/>
<line x1="106.0" y1="293.0" x2="112.8" y2="277.0" stroke="#0cd80a" stroke-width="0.68" opacity="0.08"/>
<line x1="107.0" y1="293.4" x2="110.4" y2="285.9" stroke="#0cd80a" stroke-width="0.49" opacity="0.18"/>
<line x1="108.0" y1="293.8" x2="112.8" y2="281.3" stroke="#0cd80a" stroke-width="0.65" opacity="0.16"/>
<line x1="109.1" y1="294.2" x2="111.6" y2="285.2" stroke="#0cd80a" stroke-width="0.65" opacity="0.21"/>
<line x1="110.1" y1="294.6" x2="114.4" y2="287.8" stroke="#0cd80a" stroke-width="0.69" opacity="0.15"/>
<line x1="111.2" y1="295.0" x2="113.3" y2="282.5" stroke="#0cd80a" stroke-width="0.56" opacity="0.15"/>
<line x1="112.2" y1="295.4" x2="113.1" y2="282.4" stroke="#0cd80a" stroke-width="0.69" opacity="0.15"/>
<line x1="113.3" y1="295.7" x2="118.5" y2="286.7" stroke="#0cd80a" stroke-width="0.57" opacity="0.15"/>
<line x1="114.4" y1="296.1" x2="115.5" y2="282.1" stroke="#0cd80a" stroke-width="0.56" opacity="0.13"/>
<line x1="115.4" y1="296.5" x2="125.3" y2="282.1" stroke="#0cd80a" stroke-width="0.48" opacity="0.14"/>
<line x1="116.5" y1="296.9" x2="118.6" y2="290.2" stroke="#0cd80a" stroke-width="0.64" opacity="0.21"/>
<line x1="117.5" y1="297.3" x2="120.2" y2="286.2" stroke="#0cd80a" stroke-width="0.46" opacity="0.17"/>
<line x1="118.6" y1="297.6" x2="120.7" y2="280.7" stroke="#0cd80a" stroke-width="0.63" opacity="0.07"/>
<line x1="119.6" y1="298.0" x2="121.0" y2="290.3" stroke="#0cd80a" stroke-width="0.61" opacity="0.12"/>
<line x1="120.7" y1="298.4" x2="124.7" y2="289.4" stroke="#0cd80a" stroke-width="0.43" opacity="0.19"/>
<line x1="121.7" y1="298.8" x2="124.1" y2="292.3" stroke="#0cd80a" stroke-width="0.48" opacity="0.10"/>
<line x1="122.8" y1="299.1" x2="125.9" y2="287.4" stroke="#0cd80a" stroke-width="0.51" opacity="0.13"/>
<line x1="123.9" y1="299.4" x2="125.0" y2="287.4" stroke="#0cd80a" stroke-width="0.46" opacity="0.17"/>
<line x1="124.9" y1="299.8" x2="129.1" y2="287.0" stroke="#0cd80a" stroke-width="0.66" opacity="0.17"/>
<line x1="126.0" y1="300.1" x2="128.2" y2="284.1" stroke="#0cd80a" stroke-width="0.62" opacity="0.20"/>
<line x1="127.1" y1="300.4" x2="130.2" y2="283.9" stroke="#0cd80a" stroke-width="0.49" opacity="0.22"/>
<line x1="128.2" y1="300.8" x2="132.7" y2="294.0" stroke="#0cd80a" stroke-width="0.67" opacity="0.09"/>
<line x1="129.2" y1="301.1" x2="132.8" y2="293.4" stroke="#0cd80a" stroke-width="0.48" opacity="0.08"/>
<line x1="130.3" y1="301.4" x2="134.2" y2="286.0" stroke="#0cd80a" stroke-width="0.64" opacity="0.09"/>
<line x1="131.4" y1="301.7" x2="135.5" y2="292.1" stroke="#0cd80a" stroke-width="0.41" opacity="0.10"/>
<line x1="132.4" y1="302.1" x2="139.7" y2="290.1" stroke="#0cd80a" stroke-width="0.69" opacity="0.09"/>
<line x1="133.5" y1="302.4" x2="138.7" y2="291.8" stroke="#0cd80a" stroke-width="0.55" opacity="0.18"/>
<line x1="134.6" y1="302.7" x2="134.9" y2="294.9" stroke="#0cd80a" stroke-width="0.43" opacity="0.07"/>
<line x1="135.6" y1="303.1" x2="139.4" y2="291.3" stroke="#0cd80a" stroke-width="0.57" opacity="0.09"/>
<line x1="136.8" y1="303.2" x2="135.9" y2="295.5" stroke="#0cd80a" stroke-width="0.65" opacity="0.23"/>
<line x1="137.9" y1="303.2" x2="134.8" y2="286.4" stroke="#0cd80a" stroke-width="0.42" opacity="0.22"/>
<line x1="139.0" y1="303.3" x2="141.4" y2="292.3" stroke="#0cd80a" stroke-width="0.50" opacity="0.14"/>
<line x1="140.1" y1="303.4" x2="140.3" y2="291.5" stroke="#0cd80a" stroke-width="0.58" opacity="0.07"/>
<line x1="141.2" y1="303.4" x2="145.0" y2="289.7" stroke="#0cd80a" stroke-width="0.45" opacity="0.14"/>
<line x1="142.3" y1="303.5" x2="142.4" y2="288.8" stroke="#0cd80a" stroke-width="0.46" opacity="0.09"/>
<line x1="143.5" y1="303.6" x2="140.8" y2="292.0" stroke="#0cd80a" stroke-width="0.67" opacity="0.20"/>
<line x1="144.6" y1="303.6" x2="148.5" y2="289.9" stroke="#0cd80a" stroke-width="0.59" opacity="0.13"/>
<line x1="145.7" y1="303.7" x2="146.5" y2="290.8" stroke="#0cd80a" stroke-width="0.69" opacity="0.20"/>
<path d="M19.0,289.5 C20.5,289.2 24.9,288.3 28.0,287.5 C31.1,286.7 34.6,286.0 37.9,284.8 C41.2,283.6 44.2,281.7 47.8,280.5 C51.4,279.3 56.1,277.9 59.7,277.5 C63.4,277.1 66.7,277.2 69.7,277.9 C72.7,278.6 74.7,280.3 77.7,281.5 C80.7,282.7 84.9,284.2 87.6,285.3 C90.3,286.4 90.6,286.4 94.0,287.8 C97.4,289.2 103.3,292.0 107.9,293.8 C112.5,295.6 117.1,297.2 121.8,298.8 C126.5,300.4 131.8,302.3 135.8,303.1 C139.8,303.9 144.0,303.6 145.7,303.7" stroke="#0cf40b" stroke-width="1.1" fill="none" opacity="0.44999999999999996" stroke-dasharray="1.8,3.7,3.2,3.3,3.4,2.2,3.7,3.6,3.1,3.3,3.3,2.2,3.2,1.2,2.0,2.4,1.0,2.1,2.9,2.9,1.7,3.8,3.0,2.0,3.0,2.7,2.6,2.2,4.0,2.9,3.1,3.3,3.9,1.1,2.8,3.2,1.8,2.2,1.2,1.6,2.1,1.3,1.8,3.7,2.7,2.5,3.9,2.7,4.0,2.9,3.4,1.2,2.8,3.3,1.1,3.8,1.5,2.4,1.5,2.5" filter="url(#b03)"/>
<circle cx="18.2" cy="289.9" r="0.70" fill="#0bf00b" opacity="0.69" filter="url(#b03)"/>
<circle cx="20.3" cy="290.3" r="0.89" fill="#0bf00b" opacity="0.63" filter="url(#b03)"/>
<circle cx="20.4" cy="288.5" r="0.51" fill="#0bf00b" opacity="0.61" filter="url(#b03)"/>
<circle cx="21.0" cy="289.3" r="1.03" fill="#0bf00b" opacity="0.69" filter="url(#b03)"/>
<circle cx="24.3" cy="289.5" r="1.16" fill="#0bf00b" opacity="0.51" filter="url(#b03)"/>
<circle cx="22.8" cy="288.3" r="0.83" fill="#0bf00b" opacity="1.00" filter="url(#b03)"/>
<circle cx="26.4" cy="289.7" r="0.67" fill="#0bf00b" opacity="0.87" filter="url(#b03)"/>
<circle cx="26.0" cy="288.4" r="0.58" fill="#0bf00b" opacity="0.96" filter="url(#b03)"/>
<circle cx="27.3" cy="288.4" r="0.97" fill="#0bf00b" opacity="0.73" filter="url(#b03)"/>
<circle cx="29.0" cy="288.0" r="1.07" fill="#0bf00b" opacity="0.54" filter="url(#b03)"/>
<circle cx="29.7" cy="287.4" r="0.84" fill="#0bf00b" opacity="0.75" filter="url(#b03)"/>
<circle cx="30.8" cy="286.1" r="0.69" fill="#0bf00b" opacity="0.86" filter="url(#b03)"/>
<circle cx="30.4" cy="286.2" r="0.94" fill="#0bf00b" opacity="0.89" filter="url(#b03)"/>
<circle cx="31.6" cy="287.1" r="1.19" fill="#0bf00b" opacity="0.99" filter="url(#b03)"/>
<circle cx="32.8" cy="286.1" r="0.68" fill="#0bf00b" opacity="0.48" filter="url(#b03)"/>
<circle cx="37.9" cy="284.0" r="0.76" fill="#0bf00b" opacity="0.74" filter="url(#b03)"/>
<circle cx="42.0" cy="282.8" r="0.58" fill="#0bf00b" opacity="0.93" filter="url(#b03)"/>
<circle cx="42.1" cy="282.9" r="0.77" fill="#0bf00b" opacity="0.55" filter="url(#b03)"/>
<circle cx="45.8" cy="282.1" r="1.02" fill="#0bf00b" opacity="0.99" filter="url(#b03)"/>
<circle cx="45.6" cy="281.5" r="0.57" fill="#0bf00b" opacity="0.96" filter="url(#b03)"/>
<circle cx="46.5" cy="281.3" r="0.89" fill="#0bf00b" opacity="0.74" filter="url(#b03)"/>
<circle cx="47.7" cy="280.5" r="0.72" fill="#0bf00b" opacity="0.98" filter="url(#b03)"/>
<circle cx="46.7" cy="279.8" r="0.85" fill="#0bf00b" opacity="0.90" filter="url(#b03)"/>
<circle cx="49.4" cy="281.3" r="0.73" fill="#0bf00b" opacity="0.98" filter="url(#b03)"/>
<circle cx="49.2" cy="279.0" r="1.16" fill="#0bf00b" opacity="0.99" filter="url(#b03)"/>
<circle cx="49.5" cy="280.3" r="0.71" fill="#0bf00b" opacity="0.65" filter="url(#b03)"/>
<circle cx="52.3" cy="280.1" r="0.76" fill="#0bf00b" opacity="0.67" filter="url(#b03)"/>
<circle cx="51.7" cy="279.8" r="0.64" fill="#0bf00b" opacity="0.79" filter="url(#b03)"/>
<circle cx="52.6" cy="278.4" r="1.09" fill="#0bf00b" opacity="0.79" filter="url(#b03)"/>
<circle cx="55.6" cy="278.1" r="0.54" fill="#0bf00b" opacity="0.56" filter="url(#b03)"/>
<circle cx="55.3" cy="278.8" r="1.09" fill="#0bf00b" opacity="0.71" filter="url(#b03)"/>
<circle cx="57.0" cy="277.9" r="0.56" fill="#0bf00b" opacity="0.89" filter="url(#b03)"/>
<circle cx="57.2" cy="278.0" r="0.94" fill="#0bf00b" opacity="0.55" filter="url(#b03)"/>
<circle cx="58.5" cy="278.4" r="1.04" fill="#0bf00b" opacity="0.76" filter="url(#b03)"/>
<circle cx="58.5" cy="277.0" r="0.74" fill="#0bf00b" opacity="1.00" filter="url(#b03)"/>
<circle cx="58.6" cy="277.6" r="0.55" fill="#0bf00b" opacity="0.82" filter="url(#b03)"/>
<circle cx="61.2" cy="277.9" r="1.19" fill="#0bf00b" opacity="0.66" filter="url(#b03)"/>
<circle cx="64.7" cy="276.4" r="0.95" fill="#0bf00b" opacity="0.76" filter="url(#b03)"/>
<circle cx="64.0" cy="278.1" r="0.60" fill="#0bf00b" opacity="0.89" filter="url(#b03)"/>
<circle cx="66.1" cy="277.1" r="0.77" fill="#0bf00b" opacity="0.77" filter="url(#b03)"/>
<circle cx="66.1" cy="279.4" r="0.83" fill="#0bf00b" opacity="0.88" filter="url(#b03)"/>
<circle cx="68.0" cy="277.3" r="0.54" fill="#0bf00b" opacity="0.73" filter="url(#b03)"/>
<circle cx="69.3" cy="278.4" r="0.75" fill="#0bf00b" opacity="0.80" filter="url(#b03)"/>
<circle cx="70.5" cy="278.2" r="0.63" fill="#0bf00b" opacity="0.63" filter="url(#b03)"/>
<circle cx="71.6" cy="279.6" r="0.72" fill="#0bf00b" opacity="0.78" filter="url(#b03)"/>
<circle cx="73.0" cy="278.4" r="0.78" fill="#0bf00b" opacity="1.00" filter="url(#b03)"/>
<circle cx="71.7" cy="278.0" r="0.56" fill="#0bf00b" opacity="0.96" filter="url(#b03)"/>
<circle cx="75.2" cy="279.3" r="0.77" fill="#0bf00b" opacity="0.77" filter="url(#b03)"/>
<circle cx="75.4" cy="280.2" r="1.15" fill="#0bf00b" opacity="0.97" filter="url(#b03)"/>
<circle cx="76.5" cy="279.2" r="0.82" fill="#0bf00b" opacity="0.61" filter="url(#b03)"/>
<circle cx="75.6" cy="281.8" r="0.60" fill="#0bf00b" opacity="0.98" filter="url(#b03)"/>
<circle cx="76.6" cy="279.8" r="0.69" fill="#0bf00b" opacity="0.77" filter="url(#b03)"/>
<circle cx="81.7" cy="284.5" r="0.60" fill="#0bf00b" opacity="0.54" filter="url(#b03)"/>
<circle cx="82.6" cy="283.1" r="0.84" fill="#0bf00b" opacity="0.73" filter="url(#b03)"/>
<circle cx="83.7" cy="283.1" r="1.10" fill="#0bf00b" opacity="0.64" filter="url(#b03)"/>
<circle cx="82.9" cy="282.6" r="1.14" fill="#0bf00b" opacity="0.52" filter="url(#b03)"/>
<circle cx="84.9" cy="284.2" r="0.85" fill="#0bf00b" opacity="1.00" filter="url(#b03)"/>
<circle cx="85.5" cy="284.8" r="0.71" fill="#0bf00b" opacity="0.73" filter="url(#b03)"/>
<circle cx="85.5" cy="283.8" r="0.98" fill="#0bf00b" opacity="0.53" filter="url(#b03)"/>
<circle cx="87.1" cy="283.7" r="0.59" fill="#0bf00b" opacity="0.72" filter="url(#b03)"/>
<circle cx="87.9" cy="284.2" r="0.83" fill="#0bf00b" opacity="0.63" filter="url(#b03)"/>
<circle cx="90.4" cy="286.0" r="0.94" fill="#0bf00b" opacity="1.00" filter="url(#b03)"/>
<circle cx="91.6" cy="285.8" r="0.56" fill="#0bf00b" opacity="0.57" filter="url(#b03)"/>
<circle cx="91.3" cy="287.1" r="0.72" fill="#0bf00b" opacity="0.62" filter="url(#b03)"/>
<circle cx="92.3" cy="287.7" r="0.57" fill="#0bf00b" opacity="0.82" filter="url(#b03)"/>
<circle cx="93.8" cy="288.2" r="0.63" fill="#0bf00b" opacity="0.58" filter="url(#b03)"/>
<circle cx="96.1" cy="288.8" r="1.19" fill="#0bf00b" opacity="0.37" filter="url(#b03)"/>
<circle cx="98.1" cy="288.9" r="0.86" fill="#0bf00b" opacity="0.44" filter="url(#b03)"/>
<circle cx="97.6" cy="287.8" r="0.77" fill="#0bf00b" opacity="0.34" filter="url(#b03)"/>
<circle cx="98.7" cy="288.8" r="0.72" fill="#0bf00b" opacity="0.48" filter="url(#b03)"/>
<circle cx="102.5" cy="291.2" r="0.74" fill="#0bf00b" opacity="0.44" filter="url(#b03)"/>
<circle cx="102.4" cy="291.6" r="0.86" fill="#0bf00b" opacity="0.48" filter="url(#b03)"/>
<circle cx="102.3" cy="290.2" r="0.61" fill="#0bf00b" opacity="0.47" filter="url(#b03)"/>
<circle cx="103.3" cy="292.9" r="0.86" fill="#0bf00b" opacity="0.41" filter="url(#b03)"/>
<circle cx="103.8" cy="293.5" r="1.20" fill="#0bf00b" opacity="0.45" filter="url(#b03)"/>
<circle cx="104.2" cy="291.4" r="0.52" fill="#0bf00b" opacity="0.44" filter="url(#b03)"/>
<circle cx="104.7" cy="293.4" r="0.99" fill="#0bf00b" opacity="0.34" filter="url(#b03)"/>
<circle cx="106.0" cy="294.6" r="0.82" fill="#0bf00b" opacity="0.46" filter="url(#b03)"/>
<circle cx="106.2" cy="294.1" r="0.88" fill="#0bf00b" opacity="0.26" filter="url(#b03)"/>
<circle cx="109.6" cy="292.4" r="1.07" fill="#0bf00b" opacity="0.42" filter="url(#b03)"/>
<circle cx="110.3" cy="294.1" r="1.03" fill="#0bf00b" opacity="0.35" filter="url(#b03)"/>
<circle cx="111.1" cy="295.7" r="1.07" fill="#0bf00b" opacity="0.38" filter="url(#b03)"/>
<circle cx="111.7" cy="296.4" r="1.02" fill="#0bf00b" opacity="0.36" filter="url(#b03)"/>
<circle cx="114.0" cy="296.5" r="0.52" fill="#0bf00b" opacity="0.40" filter="url(#b03)"/>
<circle cx="115.9" cy="296.8" r="0.90" fill="#0bf00b" opacity="0.34" filter="url(#b03)"/>
<circle cx="116.4" cy="296.7" r="0.97" fill="#0bf00b" opacity="0.29" filter="url(#b03)"/>
<circle cx="118.6" cy="297.9" r="1.13" fill="#0bf00b" opacity="0.51" filter="url(#b03)"/>
<circle cx="117.3" cy="297.1" r="0.70" fill="#0bf00b" opacity="0.51" filter="url(#b03)"/>
<circle cx="116.4" cy="297.8" r="0.98" fill="#0bf00b" opacity="0.49" filter="url(#b03)"/>
<circle cx="121.7" cy="298.9" r="1.13" fill="#0bf00b" opacity="0.34" filter="url(#b03)"/>
<circle cx="123.7" cy="299.4" r="1.13" fill="#0bf00b" opacity="0.46" filter="url(#b03)"/>
<circle cx="125.2" cy="298.4" r="0.67" fill="#0bf00b" opacity="0.49" filter="url(#b03)"/>
<circle cx="124.1" cy="301.1" r="1.18" fill="#0bf00b" opacity="0.38" filter="url(#b03)"/>
<circle cx="126.8" cy="301.2" r="0.67" fill="#0bf00b" opacity="0.26" filter="url(#b03)"/>
<circle cx="128.8" cy="299.3" r="0.97" fill="#0bf00b" opacity="0.50" filter="url(#b03)"/>
<circle cx="125.8" cy="301.1" r="0.66" fill="#0bf00b" opacity="0.46" filter="url(#b03)"/>
<circle cx="129.7" cy="301.7" r="0.59" fill="#0bf00b" opacity="0.40" filter="url(#b03)"/>
<circle cx="129.8" cy="302.6" r="0.52" fill="#0bf00b" opacity="0.29" filter="url(#b03)"/>
<circle cx="131.9" cy="301.1" r="0.75" fill="#0bf00b" opacity="0.42" filter="url(#b03)"/>
<circle cx="131.8" cy="301.9" r="1.13" fill="#0bf00b" opacity="0.33" filter="url(#b03)"/>
<circle cx="133.5" cy="301.9" r="1.10" fill="#0bf00b" opacity="0.45" filter="url(#b03)"/>
<circle cx="133.8" cy="302.5" r="1.10" fill="#0bf00b" opacity="0.51" filter="url(#b03)"/>
<circle cx="136.5" cy="304.2" r="0.63" fill="#0bf00b" opacity="0.50" filter="url(#b03)"/>
<circle cx="136.5" cy="303.2" r="1.01" fill="#0bf00b" opacity="0.34" filter="url(#b03)"/>
<circle cx="137.5" cy="302.2" r="1.00" fill="#0bf00b" opacity="0.28" filter="url(#b03)"/>
<circle cx="137.4" cy="303.5" r="1.10" fill="#0bf00b" opacity="0.28" filter="url(#b03)"/>
<circle cx="137.6" cy="302.6" r="1.00" fill="#0bf00b" opacity="0.39" filter="url(#b03)"/>
<circle cx="143.3" cy="302.8" r="0.66" fill="#0bf00b" opacity="0.33" filter="url(#b03)"/>
<circle cx="143.6" cy="303.0" r="0.69" fill="#0bf00b" opacity="0.43" filter="url(#b03)"/>
<circle cx="144.4" cy="304.7" r="0.81" fill="#0bf00b" opacity="0.40" filter="url(#b03)"/>
<circle cx="145.2" cy="303.6" r="0.88" fill="#0bf00b" opacity="0.37" filter="url(#b03)"/>
<circle cx="145.4" cy="305.0" r="0.67" fill="#0bf00b" opacity="0.33" filter="url(#b03)"/>
<path d="M55.8,302.7 C57.4,301.9 62.4,298.9 65.7,297.8 C69.0,296.7 72.1,296.0 75.7,295.8 C79.3,295.6 83.5,295.8 87.6,296.8 C91.6,297.8 95.6,300.1 100.0,301.7 C104.4,303.3 109.3,305.4 113.9,306.7 C118.5,307.9 123.2,309.3 127.8,309.2 C132.4,309.1 139.4,306.5 141.7,306.0" stroke="#04c804" stroke-width="2.5" fill="none" opacity="0.25" filter="url(#b1)" stroke-linecap="round"/>
<line x1="55.8" y1="302.7" x2="52.9" y2="298.9" stroke="#0cd80a" stroke-width="0.67" opacity="0.30"/>
<line x1="57.6" y1="301.8" x2="56.6" y2="299.8" stroke="#0cd80a" stroke-width="0.63" opacity="0.17"/>
<line x1="59.5" y1="300.9" x2="56.5" y2="294.9" stroke="#0cd80a" stroke-width="0.45" opacity="0.21"/>
<line x1="61.3" y1="300.0" x2="58.6" y2="295.5" stroke="#0cd80a" stroke-width="0.60" opacity="0.25"/>
<line x1="63.1" y1="299.1" x2="61.1" y2="294.9" stroke="#0cd80a" stroke-width="0.65" opacity="0.23"/>
<line x1="64.9" y1="298.2" x2="64.1" y2="293.6" stroke="#0cd80a" stroke-width="0.45" opacity="0.25"/>
<line x1="66.9" y1="297.6" x2="66.5" y2="294.7" stroke="#0cd80a" stroke-width="0.47" opacity="0.18"/>
<line x1="68.9" y1="297.2" x2="68.7" y2="291.3" stroke="#0cd80a" stroke-width="0.64" opacity="0.14"/>
<line x1="70.9" y1="296.8" x2="69.3" y2="292.6" stroke="#0cd80a" stroke-width="0.57" opacity="0.19"/>
<line x1="72.9" y1="296.4" x2="72.5" y2="294.1" stroke="#0cd80a" stroke-width="0.61" opacity="0.21"/>
<line x1="74.9" y1="296.0" x2="72.4" y2="290.1" stroke="#0cd80a" stroke-width="0.45" opacity="0.09"/>
<line x1="76.9" y1="295.9" x2="77.1" y2="291.4" stroke="#0cd80a" stroke-width="0.53" opacity="0.15"/>
<line x1="78.9" y1="296.1" x2="77.9" y2="290.1" stroke="#0cd80a" stroke-width="0.67" opacity="0.21"/>
<line x1="80.9" y1="296.2" x2="82.2" y2="291.6" stroke="#0cd80a" stroke-width="0.47" opacity="0.12"/>
<line x1="83.0" y1="296.4" x2="82.3" y2="292.9" stroke="#0cd80a" stroke-width="0.49" opacity="0.22"/>
<line x1="85.0" y1="296.6" x2="84.7" y2="291.9" stroke="#0cd80a" stroke-width="0.58" opacity="0.11"/>
<line x1="87.0" y1="296.8" x2="86.3" y2="290.7" stroke="#0cd80a" stroke-width="0.48" opacity="0.12"/>
<line x1="89.0" y1="297.3" x2="91.9" y2="292.7" stroke="#0cd80a" stroke-width="0.64" opacity="0.10"/>
<line x1="90.9" y1="298.1" x2="92.1" y2="294.2" stroke="#0cd80a" stroke-width="0.46" opacity="0.29"/>
<line x1="92.8" y1="298.8" x2="93.6" y2="296.7" stroke="#0cd80a" stroke-width="0.63" opacity="0.30"/>
<line x1="94.6" y1="299.6" x2="95.6" y2="296.9" stroke="#0cd80a" stroke-width="0.62" opacity="0.10"/>
<line x1="96.5" y1="300.3" x2="98.4" y2="297.6" stroke="#0cd80a" stroke-width="0.44" opacity="0.17"/>
<line x1="98.4" y1="301.1" x2="99.6" y2="297.7" stroke="#0cd80a" stroke-width="0.42" opacity="0.10"/>
<line x1="100.3" y1="301.8" x2="103.7" y2="295.7" stroke="#0cd80a" stroke-width="0.62" opacity="0.14"/>
<line x1="102.3" y1="302.5" x2="103.5" y2="299.4" stroke="#0cd80a" stroke-width="0.47" opacity="0.19"/>
<line x1="104.2" y1="303.2" x2="105.9" y2="296.8" stroke="#0cd80a" stroke-width="0.50" opacity="0.30"/>
<line x1="106.1" y1="303.9" x2="106.4" y2="298.8" stroke="#0cd80a" stroke-width="0.52" opacity="0.23"/>
<line x1="108.0" y1="304.6" x2="108.6" y2="302.3" stroke="#0cd80a" stroke-width="0.61" opacity="0.27"/>
<line x1="109.9" y1="305.3" x2="112.7" y2="301.1" stroke="#0cd80a" stroke-width="0.54" opacity="0.17"/>
<line x1="111.8" y1="306.0" x2="113.5" y2="300.0" stroke="#0cd80a" stroke-width="0.63" opacity="0.14"/>
<line x1="113.8" y1="306.7" x2="114.4" y2="302.9" stroke="#0cd80a" stroke-width="0.56" opacity="0.12"/>
<line x1="115.8" y1="307.0" x2="115.8" y2="303.9" stroke="#0cd80a" stroke-width="0.54" opacity="0.15"/>
<line x1="117.8" y1="307.4" x2="119.7" y2="303.6" stroke="#0cd80a" stroke-width="0.60" opacity="0.27"/>
<line x1="119.8" y1="307.8" x2="120.1" y2="304.7" stroke="#0cd80a" stroke-width="0.42" opacity="0.24"/>
<line x1="121.8" y1="308.1" x2="121.9" y2="304.2" stroke="#0cd80a" stroke-width="0.41" opacity="0.13"/>
<line x1="123.8" y1="308.5" x2="124.2" y2="305.1" stroke="#0cd80a" stroke-width="0.68" opacity="0.24"/>
<line x1="125.8" y1="308.8" x2="126.1" y2="305.4" stroke="#0cd80a" stroke-width="0.45" opacity="0.29"/>
<line x1="127.8" y1="309.2" x2="129.1" y2="305.6" stroke="#0cd80a" stroke-width="0.62" opacity="0.28"/>
<line x1="129.8" y1="308.7" x2="129.1" y2="306.7" stroke="#0cd80a" stroke-width="0.52" opacity="0.11"/>
<line x1="131.8" y1="308.3" x2="129.7" y2="302.2" stroke="#0cd80a" stroke-width="0.63" opacity="0.20"/>
<line x1="133.8" y1="307.8" x2="133.1" y2="305.6" stroke="#0cd80a" stroke-width="0.47" opacity="0.10"/>
<line x1="135.7" y1="307.4" x2="135.3" y2="304.6" stroke="#0cd80a" stroke-width="0.41" opacity="0.16"/>
<line x1="137.7" y1="306.9" x2="136.9" y2="302.8" stroke="#0cd80a" stroke-width="0.44" opacity="0.24"/>
<line x1="139.7" y1="306.5" x2="139.4" y2="303.1" stroke="#0cd80a" stroke-width="0.60" opacity="0.12"/>
<line x1="141.7" y1="306.0" x2="140.6" y2="303.1" stroke="#0cd80a" stroke-width="0.61" opacity="0.18"/>
<path d="M55.8,302.7 C57.4,301.9 62.4,298.9 65.7,297.8 C69.0,296.7 72.1,296.0 75.7,295.8 C79.3,295.6 83.5,295.8 87.6,296.8 C91.6,297.8 95.6,300.1 100.0,301.7 C104.4,303.3 109.3,305.4 113.9,306.7 C118.5,307.9 123.2,309.3 127.8,309.2 C132.4,309.1 139.4,306.5 141.7,306.0" stroke="#0cf40b" stroke-width="1.1" fill="none" opacity="0.3" stroke-dasharray="2.2,3.6,1.7,1.9,2.0,1.6,1.1,1.1,2.9,2.7,3.4,3.9,1.9,3.0,3.8,1.6,3.1,3.0,3.9,3.6,1.7,2.9,1.3,2.3,2.2,1.2,2.2,2.0,2.5,1.8,1.5,2.2,2.4,1.5,3.0,1.7,1.3,2.0,2.3,1.5,2.7,3.1,2.7,3.1,1.1,2.2,2.1,1.2,2.2,1.2,2.5,2.8,2.4,2.0,1.8,1.1,2.0,3.7,2.7,1.8" filter="url(#b03)"/>
<circle cx="55.3" cy="302.1" r="0.74" fill="#0bf00b" opacity="0.71" filter="url(#b03)"/>
<circle cx="60.7" cy="299.3" r="0.93" fill="#0bf00b" opacity="0.51" filter="url(#b03)"/>
<circle cx="63.7" cy="299.6" r="0.81" fill="#0bf00b" opacity="0.74" filter="url(#b03)"/>
<circle cx="61.8" cy="300.1" r="0.98" fill="#0bf00b" opacity="0.45" filter="url(#b03)"/>
<circle cx="65.7" cy="298.0" r="0.63" fill="#0bf00b" opacity="0.43" filter="url(#b03)"/>
<circle cx="65.0" cy="297.5" r="0.50" fill="#0bf00b" opacity="0.56" filter="url(#b03)"/>
<circle cx="66.3" cy="296.9" r="1.04" fill="#0bf00b" opacity="0.37" filter="url(#b03)"/>
<circle cx="70.4" cy="297.2" r="0.51" fill="#0bf00b" opacity="0.67" filter="url(#b03)"/>
<circle cx="70.6" cy="297.6" r="0.61" fill="#0bf00b" opacity="0.42" filter="url(#b03)"/>
<circle cx="75.8" cy="295.2" r="0.79" fill="#0bf00b" opacity="0.49" filter="url(#b03)"/>
<circle cx="75.1" cy="295.0" r="0.95" fill="#0bf00b" opacity="0.49" filter="url(#b03)"/>
<circle cx="78.1" cy="294.4" r="1.19" fill="#0bf00b" opacity="0.67" filter="url(#b03)"/>
<circle cx="78.7" cy="295.6" r="1.09" fill="#0bf00b" opacity="0.55" filter="url(#b03)"/>
<circle cx="78.1" cy="295.8" r="0.94" fill="#0bf00b" opacity="0.51" filter="url(#b03)"/>
<circle cx="80.8" cy="297.2" r="1.06" fill="#0bf00b" opacity="0.50" filter="url(#b03)"/>
<circle cx="80.7" cy="295.6" r="1.00" fill="#0bf00b" opacity="0.47" filter="url(#b03)"/>
<circle cx="84.2" cy="295.2" r="0.90" fill="#0bf00b" opacity="0.51" filter="url(#b03)"/>
<circle cx="86.0" cy="296.1" r="0.61" fill="#0bf00b" opacity="0.42" filter="url(#b03)"/>
<circle cx="85.6" cy="296.2" r="0.96" fill="#0bf00b" opacity="0.74" filter="url(#b03)"/>
<circle cx="84.9" cy="296.9" r="1.05" fill="#0bf00b" opacity="0.72" filter="url(#b03)"/>
<circle cx="98.1" cy="299.2" r="0.53" fill="#0bf00b" opacity="0.63" filter="url(#b03)"/>
<circle cx="96.2" cy="300.3" r="0.70" fill="#0bf00b" opacity="0.64" filter="url(#b03)"/>
<circle cx="97.0" cy="302.0" r="1.08" fill="#0bf00b" opacity="0.69" filter="url(#b03)"/>
<circle cx="106.1" cy="305.0" r="0.79" fill="#0bf00b" opacity="0.40" filter="url(#b03)"/>
<circle cx="104.8" cy="303.3" r="0.65" fill="#0bf00b" opacity="0.45" filter="url(#b03)"/>
<circle cx="108.5" cy="305.0" r="1.15" fill="#0bf00b" opacity="0.44" filter="url(#b03)"/>
<circle cx="108.0" cy="304.7" r="0.73" fill="#0bf00b" opacity="0.35" filter="url(#b03)"/>
<circle cx="110.7" cy="306.4" r="0.73" fill="#0bf00b" opacity="0.37" filter="url(#b03)"/>
<circle cx="116.1" cy="307.1" r="1.12" fill="#0bf00b" opacity="0.47" filter="url(#b03)"/>
<circle cx="116.3" cy="307.3" r="0.84" fill="#0bf00b" opacity="0.75" filter="url(#b03)"/>
<circle cx="116.3" cy="308.6" r="0.84" fill="#0bf00b" opacity="0.51" filter="url(#b03)"/>
<circle cx="118.0" cy="307.3" r="0.93" fill="#0bf00b" opacity="0.68" filter="url(#b03)"/>
<circle cx="118.5" cy="308.0" r="0.70" fill="#0bf00b" opacity="0.44" filter="url(#b03)"/>
<circle cx="121.7" cy="306.9" r="0.62" fill="#0bf00b" opacity="0.35" filter="url(#b03)"/>
<circle cx="121.3" cy="308.3" r="0.55" fill="#0bf00b" opacity="0.49" filter="url(#b03)"/>
<circle cx="121.1" cy="307.3" r="0.86" fill="#0bf00b" opacity="0.34" filter="url(#b03)"/>
<circle cx="126.3" cy="308.3" r="0.67" fill="#0bf00b" opacity="0.72" filter="url(#b03)"/>
<circle cx="129.3" cy="307.6" r="1.04" fill="#0bf00b" opacity="0.74" filter="url(#b03)"/>
<circle cx="130.4" cy="310.1" r="0.78" fill="#0bf00b" opacity="0.63" filter="url(#b03)"/>
<circle cx="134.4" cy="307.8" r="0.73" fill="#0bf00b" opacity="0.64" filter="url(#b03)"/>
<circle cx="136.8" cy="306.5" r="0.95" fill="#0bf00b" opacity="0.48" filter="url(#b03)"/>
<circle cx="136.3" cy="308.8" r="0.73" fill="#0bf00b" opacity="0.38" filter="url(#b03)"/>
<circle cx="139.4" cy="307.8" r="0.88" fill="#0bf00b" opacity="0.62" filter="url(#b03)"/>
<circle cx="107.9" cy="264.9" r="1.28" fill="#032a03" opacity="0.75" filter="url(#b05)"/>
<circle cx="123.8" cy="271.9" r="0.96" fill="#032a03" opacity="0.75" filter="url(#b05)"/>
<circle cx="134.2" cy="276.9" r="1.28" fill="#032a03" opacity="0.75" filter="url(#b05)"/>
<circle cx="140.7" cy="280.9" r="0.88" fill="#032a03" opacity="0.75" filter="url(#b05)"/>
<circle cx="146" cy="283" r="0.64" fill="#032a03" opacity="0.75" filter="url(#b05)"/>
<circle cx="129" cy="274" r="0.56" fill="#032a03" opacity="0.75" filter="url(#b05)"/>
<rect x="8.2" y="251" width="160.3" height="85.3" fill="#000" filter="url(#noise)" opacity="0.22"/>
</g>
<clipPath id="cp2"><rect x="168.5" y="251" width="37.6" height="85.3"/></clipPath>
<g clip-path="url(#cp2)">
<rect x="168.5" y="251" width="37.6" height="85.3" fill="#026c02" />
<path d="M173.7,317.5 C174.1,316.8 175.5,314.5 176.5,313.0 C177.4,311.5 178.5,310.1 179.4,308.6 C180.2,307.0 180.8,305.3 181.5,303.7 C182.3,302.1 183.1,300.5 183.7,298.9 C184.3,297.2 184.8,295.5 185.2,293.8 C185.6,292.1 185.9,289.5 186.1,288.6" stroke="#0ce80b" stroke-width="0.55" fill="none" opacity="0.24" stroke-linecap="round"/>
<path d="M181.5,303.7 C182.0,303.3 183.4,302.2 184.2,301.3 C185.0,300.4 185.5,299.3 186.1,298.2 C186.7,297.2 187.4,296.2 188.0,295.2 C188.6,294.1 188.8,292.8 189.6,291.9 C190.3,291.0 191.5,290.6 192.5,289.8 C193.4,289.0 194.6,287.7 195.1,287.3" stroke="#0ce80b" stroke-width="0.44" fill="none" opacity="0.21" stroke-linecap="round"/>
<path d="M174.4,317.5 C174.3,316.7 173.8,314.1 174.0,312.5 C174.2,310.8 175.4,309.3 175.7,307.7 C176.0,306.1 176.0,304.3 176.0,302.7 C176.0,301.0 175.5,299.3 175.7,297.6 C175.9,296.0 176.9,294.4 177.0,292.7 C177.2,291.1 176.8,288.5 176.7,287.7" stroke="#0ce80b" stroke-width="0.51" fill="none" opacity="0.30" stroke-linecap="round"/>
<path d="M175.7,307.7 C175.8,307.3 176.1,305.9 176.5,305.1 C176.8,304.3 177.5,303.6 177.9,302.8 C178.3,302.0 178.6,301.1 179.1,300.4 C179.5,299.6 180.3,299.0 180.7,298.2 C181.0,297.4 181.1,296.4 181.3,295.6 C181.6,294.7 182.1,293.4 182.2,293.0" stroke="#0ce80b" stroke-width="0.41" fill="none" opacity="0.25" stroke-linecap="round"/>
<path d="M172.2,319.5 C172.7,318.7 174.8,316.6 175.5,314.9 C176.2,313.2 175.9,311.1 176.4,309.3 C176.9,307.5 177.9,305.8 178.7,304.1 C179.4,302.3 180.3,300.6 180.9,298.9 C181.6,297.1 182.2,295.3 182.7,293.5 C183.3,291.7 184.1,289.0 184.4,288.1" stroke="#0ce80b" stroke-width="0.69" fill="none" opacity="0.38" stroke-linecap="round"/>
<path d="M176.4,309.3 C176.9,308.9 178.5,307.9 179.4,307.0 C180.4,306.2 181.1,305.1 181.9,304.1 C182.7,303.1 183.3,302.0 184.1,301.0 C184.8,300.0 185.7,299.1 186.5,298.1 C187.2,297.1 187.7,295.9 188.6,295.0 C189.4,294.1 191.0,292.9 191.5,292.5" stroke="#0ce80b" stroke-width="0.55" fill="none" opacity="0.32" stroke-linecap="round"/>
<path d="M171.7,319.5 C172.2,318.8 173.7,316.5 174.7,315.0 C175.6,313.5 176.5,312.0 177.5,310.4 C178.4,308.9 179.5,307.5 180.4,305.9 C181.3,304.4 181.7,302.5 182.8,301.1 C183.8,299.6 185.6,298.7 186.6,297.3 C187.5,295.8 188.1,293.0 188.4,292.2" stroke="#0ce80b" stroke-width="0.42" fill="none" opacity="0.21" stroke-linecap="round"/>
<path d="M177.5,310.4 C177.9,310.1 179.2,309.2 180.0,308.5 C180.8,307.8 181.5,307.1 182.2,306.3 C183.0,305.5 183.6,304.7 184.2,303.8 C184.9,303.0 185.4,302.0 186.2,301.3 C187.0,300.6 188.0,300.3 188.9,299.7 C189.8,299.2 191.1,298.3 191.6,298.0" stroke="#0ce80b" stroke-width="0.34" fill="none" opacity="0.18" stroke-linecap="round"/>
<path d="M186.5,325.0 C186.7,324.2 187.3,321.5 188.0,319.9 C188.7,318.4 189.9,317.0 190.9,315.5 C191.9,314.1 192.9,312.6 193.7,311.1 C194.5,309.5 194.9,307.8 195.7,306.2 C196.5,304.6 197.6,303.2 198.4,301.6 C199.1,300.0 199.8,297.5 200.1,296.7" stroke="#0ce80b" stroke-width="0.67" fill="none" opacity="0.39" stroke-linecap="round"/>
<path d="M193.7,311.1 C193.6,310.6 193.2,309.0 193.2,308.0 C193.2,306.9 193.6,305.9 193.8,304.9 C194.0,303.8 194.3,302.8 194.4,301.8 C194.5,300.7 194.4,299.6 194.5,298.6 C194.7,297.5 195.2,296.5 195.2,295.5 C195.2,294.5 194.8,292.9 194.7,292.4" stroke="#0ce80b" stroke-width="0.54" fill="none" opacity="0.33" stroke-linecap="round"/>
<path d="M186.4,325.0 C186.4,324.3 186.5,322.3 186.9,321.1 C187.2,319.8 187.9,318.6 188.4,317.4 C189.0,316.2 189.7,315.1 190.2,313.9 C190.7,312.6 191.1,311.4 191.5,310.1 C191.8,308.8 192.1,307.5 192.3,306.2 C192.4,304.9 192.5,302.9 192.6,302.3" stroke="#0ce80b" stroke-width="0.47" fill="none" opacity="0.21" stroke-linecap="round"/>
<path d="M190.2,313.9 C190.1,313.6 189.9,312.8 189.6,312.3 C189.4,311.8 189.2,311.4 189.0,310.9 C188.8,310.4 188.6,309.9 188.4,309.3 C188.3,308.8 188.3,308.2 188.2,307.7 C188.1,307.2 187.9,306.7 187.8,306.2 C187.7,305.6 187.7,304.8 187.7,304.5" stroke="#0ce80b" stroke-width="0.37" fill="none" opacity="0.18" stroke-linecap="round"/>
<path d="M190.7,327.2 C190.8,326.6 191.2,324.9 191.3,323.8 C191.5,322.7 191.3,321.5 191.5,320.3 C191.7,319.2 192.4,318.2 192.7,317.1 C193.0,316.0 193.0,314.8 193.1,313.7 C193.3,312.5 193.5,311.4 193.7,310.2 C193.8,309.1 194.0,307.4 194.1,306.8" stroke="#0ce80b" stroke-width="0.46" fill="none" opacity="0.34" stroke-linecap="round"/>
<path d="M192.7,317.1 C192.9,316.9 193.6,316.4 193.9,316.0 C194.3,315.6 194.5,315.0 194.7,314.5 C195.0,314.1 195.2,313.6 195.5,313.1 C195.8,312.6 196.2,312.2 196.5,311.8 C196.8,311.3 197.0,310.8 197.3,310.3 C197.7,309.9 198.3,309.3 198.5,309.1" stroke="#0ce80b" stroke-width="0.37" fill="none" opacity="0.29" stroke-linecap="round"/>
<path d="M191.0,327.2 C191.1,326.7 191.6,325.1 191.7,324.0 C191.8,323.0 191.5,321.9 191.6,320.8 C191.7,319.7 192.1,318.7 192.2,317.6 C192.4,316.6 192.5,315.5 192.5,314.4 C192.4,313.3 192.0,312.3 192.0,311.2 C192.0,310.1 192.5,308.5 192.6,308.0" stroke="#0ce80b" stroke-width="0.50" fill="none" opacity="0.26" stroke-linecap="round"/>
<path d="M191.6,320.8 C191.5,320.5 191.0,319.6 190.8,319.0 C190.6,318.3 190.6,317.6 190.3,317.1 C190.0,316.5 189.4,316.0 189.2,315.4 C188.9,314.8 189.0,314.1 188.8,313.5 C188.6,312.9 188.2,312.3 188.0,311.7 C187.7,311.1 187.6,310.1 187.5,309.7" stroke="#0ce80b" stroke-width="0.40" fill="none" opacity="0.22" stroke-linecap="round"/>
<path d="M194.7,328.2 C195.1,327.5 196.2,325.3 197.0,323.9 C197.8,322.4 198.8,321.2 199.5,319.7 C200.2,318.2 200.5,316.6 201.0,315.0 C201.4,313.5 201.6,311.8 202.2,310.3 C202.8,308.8 203.8,307.4 204.7,306.1 C205.6,304.8 207.2,302.9 207.8,302.3" stroke="#0ce80b" stroke-width="0.49" fill="none" opacity="0.39" stroke-linecap="round"/>
<path d="M201.0,315.0 C200.9,314.5 200.4,312.8 200.4,311.7 C200.3,310.6 200.6,309.5 200.7,308.4 C200.7,307.3 200.5,306.2 200.5,305.1 C200.5,303.9 200.7,302.8 200.7,301.7 C200.7,300.6 200.4,299.5 200.4,298.4 C200.5,297.3 200.7,295.6 200.8,295.0" stroke="#0ce80b" stroke-width="0.39" fill="none" opacity="0.33" stroke-linecap="round"/>
<path d="M195.1,328.2 C195.1,327.6 195.1,325.7 195.4,324.6 C195.7,323.4 196.4,322.4 196.8,321.2 C197.1,320.1 197.3,318.8 197.7,317.7 C198.2,316.6 198.9,315.6 199.4,314.5 C200.0,313.4 200.4,312.3 200.8,311.2 C201.2,310.0 201.9,308.3 202.1,307.8" stroke="#0ce80b" stroke-width="0.51" fill="none" opacity="0.24" stroke-linecap="round"/>
<path d="M197.7,317.7 C197.7,317.4 197.7,316.4 197.7,315.7 C197.7,315.1 197.5,314.4 197.5,313.7 C197.4,313.1 197.3,312.4 197.2,311.7 C197.2,311.1 197.5,310.4 197.4,309.7 C197.3,309.1 197.0,308.5 196.8,307.8 C196.5,307.2 196.2,306.3 196.1,306.0" stroke="#0ce80b" stroke-width="0.41" fill="none" opacity="0.20" stroke-linecap="round"/>
<path d="M199.2,329.3 C199.2,328.8 199.2,327.2 199.3,326.2 C199.5,325.1 199.9,324.1 200.1,323.1 C200.2,322.1 200.2,321.0 200.2,320.0 C200.2,318.9 200.2,317.9 200.2,316.8 C200.2,315.8 199.9,314.7 200.0,313.7 C200.2,312.7 200.8,311.2 200.9,310.7" stroke="#0ce80b" stroke-width="0.59" fill="none" opacity="0.28" stroke-linecap="round"/>
<path d="M200.1,323.1 C200.0,322.9 199.9,322.3 199.8,321.8 C199.8,321.4 199.8,321.0 199.7,320.6 C199.7,320.1 199.6,319.7 199.5,319.3 C199.5,318.9 199.3,318.4 199.2,318.0 C199.2,317.6 199.1,317.2 199.0,316.7 C199.0,316.3 198.8,315.7 198.8,315.5" stroke="#0ce80b" stroke-width="0.47" fill="none" opacity="0.24" stroke-linecap="round"/>
<path d="M199.4,329.3 C199.6,328.4 200.1,325.8 200.6,324.1 C201.1,322.4 201.7,320.7 202.4,319.1 C203.1,317.5 203.9,315.9 204.8,314.3 C205.6,312.7 206.5,311.2 207.4,309.7 C208.3,308.2 209.6,306.8 210.1,305.1 C210.6,303.5 210.3,300.7 210.4,299.8" stroke="#0ce80b" stroke-width="0.49" fill="none" opacity="0.38" stroke-linecap="round"/>
<path d="M204.8,314.3 C205.0,314.0 205.5,312.9 206.0,312.2 C206.4,311.5 206.8,310.7 207.3,310.1 C207.8,309.4 208.3,308.9 208.9,308.3 C209.5,307.7 210.1,307.1 210.6,306.5 C211.2,305.9 211.6,305.2 212.1,304.6 C212.7,304.0 213.7,303.2 214.0,303.0" stroke="#0ce80b" stroke-width="0.39" fill="none" opacity="0.33" stroke-linecap="round"/>
<path d="M203.5,332.0 C203.3,331.0 202.8,327.8 202.7,325.8 C202.5,323.7 202.8,321.5 202.5,319.5 C202.2,317.4 201.6,315.3 201.1,313.3 C200.6,311.3 200.0,309.3 199.4,307.2 C198.8,305.2 197.9,303.3 197.5,301.2 C197.1,299.2 197.2,296.0 197.1,294.9" stroke="#0ce80b" stroke-width="0.54" fill="none" opacity="0.34" stroke-linecap="round"/>
<path d="M202.5,319.5 C202.3,318.8 201.7,316.7 201.3,315.4 C200.9,314.0 200.8,312.6 200.2,311.3 C199.6,310.0 198.7,309.0 198.0,307.7 C197.3,306.5 196.8,305.2 196.2,303.9 C195.7,302.6 195.1,301.3 194.5,300.0 C193.9,298.7 193.1,296.8 192.9,296.1" stroke="#0ce80b" stroke-width="0.43" fill="none" opacity="0.29" stroke-linecap="round"/>
<path d="M203.2,332.0 C203.5,331.2 204.9,328.9 205.3,327.2 C205.7,325.6 205.4,323.7 205.5,322.0 C205.7,320.3 205.8,318.5 206.1,316.8 C206.4,315.1 206.8,313.4 207.4,311.7 C207.9,310.1 208.9,308.5 209.3,306.8 C209.7,305.2 209.8,302.5 209.9,301.7" stroke="#0ce80b" stroke-width="0.59" fill="none" opacity="0.22" stroke-linecap="round"/>
<path d="M205.5,322.0 C205.4,321.5 205.1,320.1 205.0,319.2 C204.8,318.2 204.5,317.3 204.4,316.3 C204.4,315.4 204.6,314.4 204.6,313.5 C204.7,312.5 204.9,311.5 204.8,310.6 C204.7,309.7 204.0,308.8 203.8,307.9 C203.7,307.0 204.0,305.5 204.0,305.0" stroke="#0ce80b" stroke-width="0.48" fill="none" opacity="0.19" stroke-linecap="round"/>
<path d="M203.7,327.0 C203.7,326.3 204.0,324.2 203.9,322.8 C203.8,321.4 203.3,320.0 203.2,318.6 C203.1,317.2 203.4,315.8 203.3,314.4 C203.1,313.0 202.5,311.6 202.2,310.3 C201.9,308.9 201.5,307.5 201.4,306.1 C201.3,304.7 201.6,302.6 201.6,301.9" stroke="#0ce80b" stroke-width="0.47" fill="none" opacity="0.31" stroke-linecap="round"/>
<path d="M203.2,318.6 C203.2,318.3 203.2,317.3 203.3,316.6 C203.5,316.0 203.9,315.4 204.0,314.8 C204.2,314.1 204.1,313.4 204.3,312.8 C204.5,312.2 204.9,311.7 205.2,311.1 C205.5,310.5 205.8,309.9 206.1,309.3 C206.4,308.7 206.8,307.8 207.0,307.5" stroke="#0ce80b" stroke-width="0.37" fill="none" opacity="0.27" stroke-linecap="round"/>
<path d="M203.7,327.0 C203.8,326.5 204.1,324.9 204.5,323.9 C204.8,322.9 205.4,322.0 205.7,321.0 C206.0,319.9 206.1,318.9 206.3,317.8 C206.5,316.8 206.6,315.7 206.7,314.6 C206.9,313.6 207.1,312.5 207.3,311.5 C207.5,310.4 207.7,308.9 207.8,308.3" stroke="#0ce80b" stroke-width="0.59" fill="none" opacity="0.32" stroke-linecap="round"/>
<path d="M205.7,321.0 C205.6,320.6 205.3,319.6 205.1,318.9 C204.8,318.3 204.4,317.6 204.3,316.9 C204.2,316.2 204.4,315.5 204.3,314.8 C204.2,314.1 204.0,313.4 203.8,312.7 C203.7,312.0 203.5,311.3 203.3,310.6 C203.1,310.0 202.8,309.0 202.7,308.6" stroke="#0ce80b" stroke-width="0.47" fill="none" opacity="0.28" stroke-linecap="round"/>
<path d="M181.1,330.0 C181.2,329.4 181.6,327.4 181.9,326.2 C182.2,324.9 182.6,323.7 183.0,322.4 C183.3,321.1 183.6,319.9 183.8,318.6 C184.1,317.3 184.3,316.0 184.6,314.7 C184.8,313.4 184.8,312.1 185.3,310.9 C185.8,309.7 187.1,308.1 187.4,307.6" stroke="#0ce80b" stroke-width="0.53" fill="none" opacity="0.21" stroke-linecap="round"/>
<path d="M183.8,318.6 C183.8,318.3 183.6,317.5 183.5,316.9 C183.4,316.4 183.4,315.8 183.5,315.3 C183.5,314.7 183.5,314.2 183.6,313.6 C183.6,313.1 183.7,312.5 183.7,312.0 C183.7,311.4 183.5,310.9 183.5,310.3 C183.5,309.8 183.7,309.0 183.8,308.7" stroke="#0ce80b" stroke-width="0.43" fill="none" opacity="0.18" stroke-linecap="round"/>
<path d="M181.0,330.0 C181.3,329.5 182.2,327.9 182.6,326.8 C183.0,325.7 183.0,324.5 183.4,323.4 C183.8,322.3 184.5,321.3 185.1,320.3 C185.8,319.3 186.5,318.4 187.1,317.3 C187.6,316.3 187.9,315.1 188.4,314.1 C189.0,313.0 190.0,311.6 190.4,311.1" stroke="#0ce80b" stroke-width="0.65" fill="none" opacity="0.38" stroke-linecap="round"/>
<path d="M185.1,320.3 C185.4,320.1 186.3,319.7 186.7,319.3 C187.1,318.9 187.4,318.3 187.7,317.8 C188.1,317.4 188.6,316.9 189.0,316.5 C189.5,316.1 190.0,315.8 190.5,315.4 C191.0,315.1 191.4,314.7 191.9,314.3 C192.4,314.0 193.2,313.5 193.5,313.3" stroke="#0ce80b" stroke-width="0.52" fill="none" opacity="0.32" stroke-linecap="round"/>
<path d="M193.7,333.1 C193.9,332.1 194.2,329.0 194.6,327.0 C195.0,325.0 195.6,323.1 196.1,321.1 C196.6,319.2 197.0,317.2 197.6,315.2 C198.1,313.2 199.1,311.4 199.4,309.4 C199.8,307.4 199.8,305.3 199.7,303.3 C199.7,301.3 199.3,298.2 199.2,297.2" stroke="#09d008" stroke-width="0.66" fill="none" opacity="0.18" stroke-linecap="round"/>
<path d="M197.6,315.2 C197.9,314.7 199.1,313.4 199.7,312.4 C200.4,311.4 200.8,310.3 201.2,309.2 C201.7,308.1 202.0,307.0 202.3,305.8 C202.7,304.7 202.9,303.5 203.3,302.4 C203.7,301.3 204.3,300.3 204.9,299.3 C205.4,298.2 206.4,296.7 206.7,296.2" stroke="#09d008" stroke-width="0.53" fill="none" opacity="0.15" stroke-linecap="round"/>
<path d="M166.6,323.0 C166.5,322.4 166.2,320.6 165.9,319.4 C165.6,318.2 165.1,317.0 164.9,315.8 C164.8,314.6 164.9,313.3 164.9,312.1 C164.9,310.9 164.8,309.6 164.7,308.4 C164.6,307.2 164.4,305.9 164.3,304.7 C164.2,303.5 164.0,301.6 164.0,301.0" stroke="#09d008" stroke-width="0.67" fill="none" opacity="0.27" stroke-linecap="round"/>
<path d="M164.9,315.8 C165.1,315.4 165.6,314.4 165.7,313.7 C165.9,313.0 165.8,312.3 165.9,311.5 C166.0,310.8 166.2,310.1 166.3,309.4 C166.3,308.6 166.1,307.9 166.2,307.2 C166.3,306.5 166.9,305.8 167.0,305.1 C167.2,304.4 167.1,303.3 167.1,302.9" stroke="#09d008" stroke-width="0.54" fill="none" opacity="0.23" stroke-linecap="round"/>
<path d="M199.9,329.6 C199.9,328.8 199.7,326.6 199.6,325.1 C199.6,323.6 199.6,322.1 199.4,320.7 C199.2,319.2 198.4,317.8 198.3,316.3 C198.2,314.9 198.6,313.4 198.7,311.9 C198.8,310.4 198.8,308.9 198.9,307.4 C198.9,305.9 199.0,303.7 199.0,302.9" stroke="#0ce80b" stroke-width="0.40" fill="none" opacity="0.18" stroke-linecap="round"/>
<path d="M198.3,316.3 C198.2,316.0 197.7,315.1 197.4,314.5 C197.2,313.8 197.0,313.2 196.8,312.5 C196.5,311.9 196.4,311.2 196.0,310.6 C195.7,310.0 195.0,309.7 194.7,309.1 C194.4,308.5 194.4,307.7 194.2,307.1 C193.9,306.5 193.1,305.7 192.9,305.4" stroke="#0ce80b" stroke-width="0.32" fill="none" opacity="0.15" stroke-linecap="round"/>
<path d="M180.1,329.2 C180.2,328.4 180.8,326.0 181.0,324.4 C181.2,322.8 181.1,321.2 181.1,319.6 C181.0,317.9 180.7,316.3 180.8,314.7 C181.0,313.1 181.5,311.5 181.9,309.9 C182.2,308.3 182.5,306.7 182.9,305.2 C183.3,303.6 184.1,301.3 184.3,300.5" stroke="#13f811" stroke-width="0.60" fill="none" opacity="0.14" stroke-linecap="round"/>
<path d="M181.1,319.6 C181.2,319.1 181.6,317.8 182.0,316.9 C182.4,316.0 182.8,315.2 183.2,314.4 C183.7,313.5 184.4,312.9 184.9,312.1 C185.3,311.2 185.4,310.2 185.9,309.4 C186.4,308.6 187.2,308.1 187.7,307.3 C188.2,306.5 188.7,305.1 188.9,304.7" stroke="#13f811" stroke-width="0.48" fill="none" opacity="0.12" stroke-linecap="round"/>
<circle cx="174.0" cy="317.5" r="2.0" fill="#11ff10" opacity="0.95" filter="url(#b03)"/>
<circle cx="172.0" cy="319.5" r="1.5" fill="#11ff10" opacity="0.95" filter="url(#b03)"/>
<circle cx="186.6" cy="325.0" r="1.3" fill="#11ff10" opacity="0.95" filter="url(#b03)"/>
<circle cx="190.7" cy="327.2" r="1.4" fill="#11ff10" opacity="0.95" filter="url(#b03)"/>
<circle cx="194.8" cy="328.2" r="1.3" fill="#11ff10" opacity="0.95" filter="url(#b03)"/>
<circle cx="199.0" cy="329.3" r="1.4" fill="#11ff10" opacity="0.95" filter="url(#b03)"/>
<circle cx="203.0" cy="332.0" r="1.5" fill="#11ff10" opacity="0.95" filter="url(#b03)"/>
<circle cx="204.0" cy="327.0" r="1.2" fill="#11ff10" opacity="0.95" filter="url(#b03)"/>
<circle cx="181.0" cy="330.0" r="1.0" fill="#11ff10" opacity="0.95" filter="url(#b03)"/>
<rect x="168.5" y="251" width="37.6" height="85.3" fill="#000" filter="url(#noise)" opacity="0.2"/>
</g>
<rect x="169.2" y="251.7" width="36.2" height="83.89999999999999" fill="none" stroke="#f040f0" stroke-width="1.4"/>
<rect x="79.5" y="258.2" width="13.099999999999994" height="30.19999999999999" fill="none" stroke="#b038b0" stroke-width="1.1"/>
<line x1="92.6" y1="258.2" x2="165" y2="253.2" stroke="#e040e0" stroke-width="0.9"/>
<path d="M164,251.1 L168,253.2 L164,255.29999999999998 Z" fill="#e040e0"/>
<text x="14.3" y="264.6" font-size="8.2" text-anchor="start" font-weight="normal" fill="#22ff66" stroke="#22ff66" stroke-width="0.25">DCX</text>
<text x="13.6" y="328.8" font-size="7.4" text-anchor="start" font-weight="normal" fill="#f0fff0" stroke="#f0fff0" stroke-width="0.2">250 µm</text>
<line x1="11.8" y1="332.3" x2="43.9" y2="332.3" stroke="#f0fff0" stroke-width="1.0" />
<clipPath id="cp3"><rect x="208.2" y="251.1" width="160.3" height="85.2"/></clipPath>
<g clip-path="url(#cp3)">
<rect x="208.2" y="251.1" width="160.3" height="85.2" fill="#027a02" />
<path d="M205.0,248.0 C220.8,248.0 272.5,248.0 300.0,248.0 C327.5,248.0 358.3,244.0 370.0,248.0 C381.7,252.0 376.7,268.0 370.0,272.0 C363.3,276.0 343.3,272.7 330.0,272.0 C316.7,271.3 301.7,268.3 290.0,268.0 C278.3,267.7 268.3,267.7 260.0,270.0 C251.7,272.3 246.7,277.8 240.0,282.0 C233.3,286.2 225.8,292.0 220.0,295.0 C214.2,298.0 207.5,307.8 205.0,300.0 C202.5,292.2 205.0,256.7 205.0,248.0 Z" fill="#004e00" opacity="1.0" filter="url(#b6)"/>
<path d="M285.0,280.0 C292.5,280.5 318.3,281.3 330.0,283.0 C341.7,284.7 350.0,286.3 355.0,290.0 C360.0,293.7 360.8,300.3 360.0,305.0 C359.2,309.7 356.7,315.2 350.0,318.0 C343.3,320.8 330.0,321.7 320.0,322.0 C310.0,322.3 298.3,321.7 290.0,320.0 C281.7,318.3 274.7,315.3 270.0,312.0 C265.3,308.7 259.5,305.3 262.0,300.0 C264.5,294.7 281.2,283.3 285.0,280.0 Z" fill="#049004" opacity="0.7" filter="url(#b3)"/>
<path d="M228.0,298.0 C230.8,295.8 239.3,288.5 245.0,285.0 C250.7,281.5 254.5,278.7 262.0,277.0 C269.5,275.3 280.3,274.5 290.0,275.0 C299.7,275.5 310.8,278.5 320.0,280.0 C329.2,281.5 340.0,282.3 345.0,284.0 C350.0,285.7 352.5,288.7 350.0,290.0 C347.5,291.3 338.3,293.0 330.0,292.0 C321.7,291.0 309.2,285.0 300.0,284.0 C290.8,283.0 282.5,284.8 275.0,286.0 C267.5,287.2 261.2,288.7 255.0,291.0 C248.8,293.3 242.5,298.8 238.0,300.0 C233.5,301.2 229.7,298.3 228.0,298.0 Z" fill="#059605" opacity="0.6" filter="url(#b3)"/>
<path d="M232.0,306.0 C235.8,304.3 247.0,298.5 255.0,296.0 C263.0,293.5 270.8,291.3 280.0,291.0 C289.2,290.7 300.8,292.8 310.0,294.0 C319.2,295.2 330.0,297.0 335.0,298.0 C340.0,299.0 343.3,299.8 340.0,300.0 C336.7,300.2 323.3,299.0 315.0,299.0 C306.7,299.0 297.5,299.2 290.0,300.0 C282.5,300.8 275.3,301.8 270.0,304.0 C264.7,306.2 261.7,309.7 258.0,313.0 C254.3,316.3 251.3,323.2 248.0,324.0 C244.7,324.8 240.7,321.0 238.0,318.0 C235.3,315.0 233.0,308.0 232.0,306.0 Z" fill="#026002" opacity="0.6" filter="url(#b1)"/>
<path d="M208.0,315.0 C210.8,314.5 219.7,311.2 225.0,312.0 C230.3,312.8 236.7,317.0 240.0,320.0 C243.3,323.0 246.7,327.0 245.0,330.0 C243.3,333.0 236.2,336.7 230.0,338.0 C223.8,339.3 211.7,341.8 208.0,338.0 C204.3,334.2 208.0,318.8 208.0,315.0 Z" fill="#048a04" opacity="0.5" filter="url(#b3)"/>
<path d="M225.0,340.0 L229.9,336.0 L241.8,332.6 L257.8,328.6 L277.7,325.6 L307.9,324.6 L337.8,322.6 L351.7,314.7 L358.6,304.7 L362.6,294.8 L364.6,280.9 L368.0,276.0 L372.0,276.0 L372.0,345.0 L225.0,345.0 Z" fill="#021c02" opacity="1.0" filter="url(#b05)"/>
<path d="M225.9,303.7 C227.9,302.9 233.9,300.4 237.9,298.8 C241.9,297.2 246.2,295.3 249.8,293.8 C253.4,292.3 255.7,291.0 259.7,289.8 C263.7,288.6 269.0,287.6 273.7,286.8 C278.4,286.0 283.9,285.2 288.0,284.8 C292.1,284.4 294.0,283.3 298.0,284.3 C302.0,285.3 306.9,288.9 311.9,290.8 C316.9,292.7 322.5,295.3 327.8,295.8 C333.1,296.3 340.1,294.5 343.7,293.8 C347.3,293.1 348.7,292.1 349.7,291.8" stroke="#04c804" stroke-width="4" fill="none" opacity="0.3" filter="url(#b1)" stroke-linecap="round"/>
<line x1="225.9" y1="303.7" x2="223.0" y2="294.0" stroke="#0cd80a" stroke-width="0.60" opacity="0.22"/>
<line x1="226.7" y1="303.4" x2="224.5" y2="299.0" stroke="#0cd80a" stroke-width="0.48" opacity="0.48"/>
<line x1="227.4" y1="303.1" x2="223.4" y2="291.2" stroke="#0cd80a" stroke-width="0.57" opacity="0.42"/>
<line x1="228.2" y1="302.8" x2="225.5" y2="296.9" stroke="#0cd80a" stroke-width="0.45" opacity="0.51"/>
<line x1="228.9" y1="302.5" x2="227.9" y2="297.1" stroke="#0cd80a" stroke-width="0.42" opacity="0.43"/>
<line x1="229.7" y1="302.2" x2="226.0" y2="294.4" stroke="#0cd80a" stroke-width="0.65" opacity="0.17"/>
<line x1="230.4" y1="301.9" x2="229.7" y2="296.4" stroke="#0cd80a" stroke-width="0.55" opacity="0.20"/>
<line x1="231.2" y1="301.5" x2="229.3" y2="285.8" stroke="#0cd80a" stroke-width="0.43" opacity="0.33"/>
<line x1="231.9" y1="301.2" x2="228.9" y2="295.7" stroke="#0cd80a" stroke-width="0.59" opacity="0.23"/>
<line x1="232.7" y1="300.9" x2="225.0" y2="290.9" stroke="#0cd80a" stroke-width="0.45" opacity="0.48"/>
<line x1="233.5" y1="300.6" x2="229.5" y2="292.2" stroke="#0cd80a" stroke-width="0.58" opacity="0.35"/>
<line x1="234.2" y1="300.3" x2="228.6" y2="293.2" stroke="#0cd80a" stroke-width="0.62" opacity="0.54"/>
<line x1="235.0" y1="300.0" x2="230.5" y2="284.9" stroke="#0cd80a" stroke-width="0.51" opacity="0.30"/>
<line x1="235.7" y1="299.7" x2="232.2" y2="287.7" stroke="#0cd80a" stroke-width="0.43" opacity="0.26"/>
<line x1="236.5" y1="299.4" x2="233.2" y2="291.1" stroke="#0cd80a" stroke-width="0.64" opacity="0.36"/>
<line x1="237.2" y1="299.1" x2="236.2" y2="294.1" stroke="#0cd80a" stroke-width="0.53" opacity="0.36"/>
<line x1="238.0" y1="298.8" x2="234.9" y2="292.2" stroke="#0cd80a" stroke-width="0.52" opacity="0.46"/>
<line x1="238.7" y1="298.5" x2="236.6" y2="292.9" stroke="#0cd80a" stroke-width="0.45" opacity="0.43"/>
<line x1="239.5" y1="298.1" x2="236.8" y2="293.6" stroke="#0cd80a" stroke-width="0.50" opacity="0.41"/>
<line x1="240.2" y1="297.8" x2="238.0" y2="292.9" stroke="#0cd80a" stroke-width="0.46" opacity="0.27"/>
<line x1="241.0" y1="297.5" x2="239.7" y2="287.4" stroke="#0cd80a" stroke-width="0.54" opacity="0.53"/>
<line x1="241.7" y1="297.2" x2="240.8" y2="290.6" stroke="#0cd80a" stroke-width="0.51" opacity="0.24"/>
<line x1="242.5" y1="296.9" x2="240.5" y2="283.8" stroke="#0cd80a" stroke-width="0.40" opacity="0.27"/>
<line x1="243.2" y1="296.6" x2="236.9" y2="284.7" stroke="#0cd80a" stroke-width="0.47" opacity="0.17"/>
<line x1="244.0" y1="296.2" x2="242.3" y2="291.3" stroke="#0cd80a" stroke-width="0.70" opacity="0.55"/>
<line x1="244.7" y1="295.9" x2="238.2" y2="287.8" stroke="#0cd80a" stroke-width="0.50" opacity="0.47"/>
<line x1="245.5" y1="295.6" x2="241.1" y2="282.2" stroke="#0cd80a" stroke-width="0.47" opacity="0.37"/>
<line x1="246.3" y1="295.3" x2="243.0" y2="285.7" stroke="#0cd80a" stroke-width="0.48" opacity="0.53"/>
<line x1="247.0" y1="295.0" x2="238.6" y2="282.8" stroke="#0cd80a" stroke-width="0.49" opacity="0.50"/>
<line x1="247.8" y1="294.7" x2="246.7" y2="286.8" stroke="#0cd80a" stroke-width="0.55" opacity="0.43"/>
<line x1="248.5" y1="294.3" x2="241.7" y2="283.7" stroke="#0cd80a" stroke-width="0.49" opacity="0.26"/>
<line x1="249.3" y1="294.0" x2="245.8" y2="282.1" stroke="#0cd80a" stroke-width="0.44" opacity="0.51"/>
<line x1="250.0" y1="293.7" x2="245.1" y2="285.6" stroke="#0cd80a" stroke-width="0.53" opacity="0.54"/>
<line x1="250.8" y1="293.4" x2="247.4" y2="282.9" stroke="#0cd80a" stroke-width="0.68" opacity="0.54"/>
<line x1="251.5" y1="293.1" x2="245.9" y2="281.0" stroke="#0cd80a" stroke-width="0.58" opacity="0.51"/>
<line x1="252.3" y1="292.8" x2="247.8" y2="279.9" stroke="#0cd80a" stroke-width="0.50" opacity="0.31"/>
<line x1="253.0" y1="292.5" x2="248.6" y2="280.2" stroke="#0cd80a" stroke-width="0.41" opacity="0.44"/>
<line x1="253.8" y1="292.2" x2="250.8" y2="277.6" stroke="#0cd80a" stroke-width="0.67" opacity="0.52"/>
<line x1="254.5" y1="291.9" x2="252.3" y2="281.3" stroke="#0cd80a" stroke-width="0.51" opacity="0.20"/>
<line x1="255.3" y1="291.6" x2="251.1" y2="283.9" stroke="#0cd80a" stroke-width="0.68" opacity="0.43"/>
<line x1="256.1" y1="291.3" x2="252.7" y2="280.9" stroke="#0cd80a" stroke-width="0.44" opacity="0.37"/>
<line x1="256.8" y1="291.0" x2="251.3" y2="279.6" stroke="#0cd80a" stroke-width="0.47" opacity="0.32"/>
<line x1="257.6" y1="290.7" x2="255.3" y2="282.5" stroke="#0cd80a" stroke-width="0.44" opacity="0.20"/>
<line x1="258.3" y1="290.4" x2="256.1" y2="282.3" stroke="#0cd80a" stroke-width="0.63" opacity="0.42"/>
<line x1="259.1" y1="290.0" x2="252.2" y2="276.4" stroke="#0cd80a" stroke-width="0.41" opacity="0.35"/>
<line x1="259.9" y1="289.8" x2="256.0" y2="280.8" stroke="#0cd80a" stroke-width="0.60" opacity="0.30"/>
<line x1="260.6" y1="289.6" x2="258.3" y2="282.5" stroke="#0cd80a" stroke-width="0.68" opacity="0.17"/>
<line x1="261.4" y1="289.4" x2="258.5" y2="281.1" stroke="#0cd80a" stroke-width="0.46" opacity="0.33"/>
<line x1="262.2" y1="289.3" x2="262.5" y2="282.0" stroke="#0cd80a" stroke-width="0.55" opacity="0.43"/>
<line x1="263.0" y1="289.1" x2="261.5" y2="282.6" stroke="#0cd80a" stroke-width="0.58" opacity="0.49"/>
<line x1="263.8" y1="288.9" x2="262.1" y2="281.5" stroke="#0cd80a" stroke-width="0.66" opacity="0.49"/>
<line x1="264.6" y1="288.7" x2="263.3" y2="281.5" stroke="#0cd80a" stroke-width="0.63" opacity="0.32"/>
<line x1="265.4" y1="288.6" x2="264.0" y2="276.3" stroke="#0cd80a" stroke-width="0.69" opacity="0.38"/>
<line x1="266.2" y1="288.4" x2="262.5" y2="276.5" stroke="#0cd80a" stroke-width="0.62" opacity="0.29"/>
<line x1="267.0" y1="288.2" x2="264.0" y2="278.3" stroke="#0cd80a" stroke-width="0.49" opacity="0.22"/>
<line x1="267.8" y1="288.1" x2="266.5" y2="280.9" stroke="#0cd80a" stroke-width="0.48" opacity="0.18"/>
<line x1="268.6" y1="287.9" x2="264.0" y2="274.9" stroke="#0cd80a" stroke-width="0.68" opacity="0.40"/>
<line x1="269.4" y1="287.7" x2="269.5" y2="278.6" stroke="#0cd80a" stroke-width="0.67" opacity="0.29"/>
<line x1="270.2" y1="287.5" x2="269.4" y2="281.4" stroke="#0cd80a" stroke-width="0.65" opacity="0.40"/>
<line x1="271.0" y1="287.4" x2="267.5" y2="274.3" stroke="#0cd80a" stroke-width="0.59" opacity="0.27"/>
<line x1="271.8" y1="287.2" x2="269.2" y2="278.2" stroke="#0cd80a" stroke-width="0.52" opacity="0.32"/>
<line x1="272.6" y1="287.0" x2="267.1" y2="274.3" stroke="#0cd80a" stroke-width="0.46" opacity="0.26"/>
<line x1="273.4" y1="286.9" x2="270.3" y2="271.5" stroke="#0cd80a" stroke-width="0.42" opacity="0.49"/>
<line x1="274.2" y1="286.7" x2="275.0" y2="272.2" stroke="#0cd80a" stroke-width="0.51" opacity="0.45"/>
<line x1="275.0" y1="286.6" x2="272.1" y2="278.9" stroke="#0cd80a" stroke-width="0.66" opacity="0.49"/>
<line x1="275.8" y1="286.5" x2="276.5" y2="279.4" stroke="#0cd80a" stroke-width="0.41" opacity="0.28"/>
<line x1="276.6" y1="286.4" x2="275.0" y2="281.7" stroke="#0cd80a" stroke-width="0.45" opacity="0.44"/>
<line x1="277.4" y1="286.3" x2="274.9" y2="278.6" stroke="#0cd80a" stroke-width="0.46" opacity="0.29"/>
<line x1="278.3" y1="286.2" x2="277.2" y2="271.7" stroke="#0cd80a" stroke-width="0.43" opacity="0.43"/>
<line x1="279.1" y1="286.1" x2="277.2" y2="275.4" stroke="#0cd80a" stroke-width="0.56" opacity="0.42"/>
<line x1="279.9" y1="285.9" x2="278.0" y2="272.3" stroke="#0cd80a" stroke-width="0.59" opacity="0.34"/>
<line x1="280.7" y1="285.8" x2="278.2" y2="274.2" stroke="#0cd80a" stroke-width="0.52" opacity="0.36"/>
<line x1="281.5" y1="285.7" x2="278.0" y2="273.4" stroke="#0cd80a" stroke-width="0.68" opacity="0.35"/>
<line x1="282.3" y1="285.6" x2="281.9" y2="271.2" stroke="#0cd80a" stroke-width="0.69" opacity="0.43"/>
<line x1="283.1" y1="285.5" x2="281.2" y2="276.1" stroke="#0cd80a" stroke-width="0.58" opacity="0.46"/>
<line x1="283.9" y1="285.4" x2="278.9" y2="272.1" stroke="#0cd80a" stroke-width="0.42" opacity="0.21"/>
<line x1="284.7" y1="285.3" x2="282.4" y2="280.0" stroke="#0cd80a" stroke-width="0.40" opacity="0.26"/>
<line x1="285.5" y1="285.1" x2="285.4" y2="279.1" stroke="#0cd80a" stroke-width="0.58" opacity="0.54"/>
<line x1="286.3" y1="285.0" x2="286.5" y2="269.5" stroke="#0cd80a" stroke-width="0.68" opacity="0.18"/>
<line x1="287.1" y1="284.9" x2="288.0" y2="277.6" stroke="#0cd80a" stroke-width="0.54" opacity="0.24"/>
<line x1="287.9" y1="284.8" x2="285.5" y2="271.8" stroke="#0cd80a" stroke-width="0.56" opacity="0.29"/>
<line x1="288.8" y1="284.8" x2="286.6" y2="277.6" stroke="#0cd80a" stroke-width="0.58" opacity="0.53"/>
<line x1="289.6" y1="284.7" x2="291.3" y2="269.0" stroke="#0cd80a" stroke-width="0.68" opacity="0.30"/>
<line x1="290.4" y1="284.7" x2="292.0" y2="276.7" stroke="#0cd80a" stroke-width="0.58" opacity="0.42"/>
<line x1="291.2" y1="284.6" x2="290.2" y2="279.8" stroke="#0cd80a" stroke-width="0.54" opacity="0.45"/>
<line x1="292.0" y1="284.6" x2="293.5" y2="270.6" stroke="#0cd80a" stroke-width="0.50" opacity="0.31"/>
<line x1="292.8" y1="284.6" x2="296.3" y2="270.5" stroke="#0cd80a" stroke-width="0.55" opacity="0.24"/>
<line x1="293.6" y1="284.5" x2="293.3" y2="272.7" stroke="#0cd80a" stroke-width="0.51" opacity="0.25"/>
<line x1="294.5" y1="284.5" x2="294.6" y2="275.4" stroke="#0cd80a" stroke-width="0.44" opacity="0.37"/>
<line x1="295.3" y1="284.4" x2="296.8" y2="269.0" stroke="#0cd80a" stroke-width="0.48" opacity="0.33"/>
<line x1="296.1" y1="284.4" x2="296.6" y2="278.5" stroke="#0cd80a" stroke-width="0.59" opacity="0.23"/>
<line x1="296.9" y1="284.4" x2="297.0" y2="273.4" stroke="#0cd80a" stroke-width="0.57" opacity="0.31"/>
<line x1="297.7" y1="284.3" x2="296.6" y2="276.1" stroke="#0cd80a" stroke-width="0.70" opacity="0.29"/>
<line x1="298.5" y1="284.5" x2="302.7" y2="275.0" stroke="#0cd80a" stroke-width="0.45" opacity="0.32"/>
<line x1="299.2" y1="284.9" x2="301.5" y2="278.2" stroke="#0cd80a" stroke-width="0.51" opacity="0.30"/>
<line x1="300.0" y1="285.2" x2="304.7" y2="270.7" stroke="#0cd80a" stroke-width="0.50" opacity="0.42"/>
<line x1="300.7" y1="285.6" x2="304.7" y2="277.2" stroke="#0cd80a" stroke-width="0.59" opacity="0.13"/>
<line x1="301.4" y1="285.9" x2="303.9" y2="273.8" stroke="#0cd80a" stroke-width="0.48" opacity="0.33"/>
<line x1="302.2" y1="286.3" x2="310.4" y2="272.6" stroke="#0cd80a" stroke-width="0.45" opacity="0.23"/>
<line x1="302.9" y1="286.6" x2="307.7" y2="280.2" stroke="#0cd80a" stroke-width="0.47" opacity="0.16"/>
<line x1="303.7" y1="286.9" x2="309.6" y2="276.6" stroke="#0cd80a" stroke-width="0.58" opacity="0.24"/>
<line x1="304.4" y1="287.3" x2="310.6" y2="273.1" stroke="#0cd80a" stroke-width="0.68" opacity="0.22"/>
<line x1="305.1" y1="287.6" x2="308.6" y2="278.2" stroke="#0cd80a" stroke-width="0.61" opacity="0.31"/>
<line x1="305.9" y1="288.0" x2="309.1" y2="281.3" stroke="#0cd80a" stroke-width="0.62" opacity="0.24"/>
<line x1="306.6" y1="288.3" x2="312.5" y2="277.6" stroke="#0cd80a" stroke-width="0.61" opacity="0.21"/>
<line x1="307.3" y1="288.7" x2="308.6" y2="280.5" stroke="#0cd80a" stroke-width="0.67" opacity="0.32"/>
<line x1="308.1" y1="289.0" x2="314.1" y2="282.1" stroke="#0cd80a" stroke-width="0.67" opacity="0.15"/>
<line x1="308.8" y1="289.4" x2="314.2" y2="276.3" stroke="#0cd80a" stroke-width="0.49" opacity="0.18"/>
<line x1="309.6" y1="289.7" x2="311.1" y2="280.4" stroke="#0cd80a" stroke-width="0.42" opacity="0.14"/>
<line x1="310.3" y1="290.1" x2="312.2" y2="282.0" stroke="#0cd80a" stroke-width="0.44" opacity="0.33"/>
<line x1="311.0" y1="290.4" x2="314.8" y2="282.2" stroke="#0cd80a" stroke-width="0.58" opacity="0.36"/>
<line x1="311.8" y1="290.7" x2="313.5" y2="284.5" stroke="#0cd80a" stroke-width="0.66" opacity="0.35"/>
<line x1="312.6" y1="291.0" x2="317.4" y2="276.6" stroke="#0cd80a" stroke-width="0.51" opacity="0.16"/>
<line x1="313.3" y1="291.3" x2="320.0" y2="277.8" stroke="#0cd80a" stroke-width="0.57" opacity="0.32"/>
<line x1="314.1" y1="291.5" x2="316.6" y2="284.2" stroke="#0cd80a" stroke-width="0.67" opacity="0.14"/>
<line x1="314.9" y1="291.7" x2="316.2" y2="280.1" stroke="#0cd80a" stroke-width="0.65" opacity="0.33"/>
<line x1="315.7" y1="292.0" x2="318.8" y2="280.4" stroke="#0cd80a" stroke-width="0.41" opacity="0.24"/>
<line x1="316.4" y1="292.2" x2="318.6" y2="283.7" stroke="#0cd80a" stroke-width="0.42" opacity="0.35"/>
<line x1="317.2" y1="292.5" x2="320.8" y2="282.4" stroke="#0cd80a" stroke-width="0.65" opacity="0.35"/>
<line x1="318.0" y1="292.7" x2="321.6" y2="282.4" stroke="#0cd80a" stroke-width="0.65" opacity="0.21"/>
<line x1="318.8" y1="293.0" x2="319.1" y2="278.1" stroke="#0cd80a" stroke-width="0.64" opacity="0.25"/>
<line x1="319.6" y1="293.2" x2="326.2" y2="283.5" stroke="#0cd80a" stroke-width="0.47" opacity="0.22"/>
<line x1="320.3" y1="293.5" x2="326.4" y2="281.1" stroke="#0cd80a" stroke-width="0.56" opacity="0.32"/>
<line x1="321.1" y1="293.7" x2="327.3" y2="283.0" stroke="#0cd80a" stroke-width="0.60" opacity="0.21"/>
<line x1="321.9" y1="293.9" x2="322.3" y2="285.9" stroke="#0cd80a" stroke-width="0.44" opacity="0.12"/>
<line x1="322.7" y1="294.2" x2="324.1" y2="278.5" stroke="#0cd80a" stroke-width="0.58" opacity="0.15"/>
<line x1="323.4" y1="294.4" x2="328.4" y2="279.6" stroke="#0cd80a" stroke-width="0.45" opacity="0.33"/>
<line x1="324.2" y1="294.7" x2="332.3" y2="282.7" stroke="#0cd80a" stroke-width="0.47" opacity="0.22"/>
<line x1="325.0" y1="294.9" x2="327.1" y2="282.9" stroke="#0cd80a" stroke-width="0.57" opacity="0.30"/>
<line x1="325.8" y1="295.2" x2="332.1" y2="283.6" stroke="#0cd80a" stroke-width="0.63" opacity="0.19"/>
<line x1="326.6" y1="295.4" x2="330.0" y2="282.6" stroke="#0cd80a" stroke-width="0.45" opacity="0.12"/>
<line x1="327.3" y1="295.7" x2="329.9" y2="284.2" stroke="#0cd80a" stroke-width="0.43" opacity="0.24"/>
<line x1="328.1" y1="295.8" x2="326.0" y2="286.6" stroke="#0cd80a" stroke-width="0.57" opacity="0.25"/>
<line x1="328.9" y1="295.7" x2="330.7" y2="285.1" stroke="#0cd80a" stroke-width="0.67" opacity="0.19"/>
<line x1="329.7" y1="295.6" x2="326.3" y2="281.4" stroke="#0cd80a" stroke-width="0.68" opacity="0.13"/>
<line x1="330.6" y1="295.5" x2="331.7" y2="287.2" stroke="#0cd80a" stroke-width="0.60" opacity="0.30"/>
<line x1="331.4" y1="295.4" x2="328.9" y2="288.7" stroke="#0cd80a" stroke-width="0.69" opacity="0.13"/>
<line x1="332.2" y1="295.3" x2="331.1" y2="288.6" stroke="#0cd80a" stroke-width="0.65" opacity="0.29"/>
<line x1="333.0" y1="295.1" x2="333.7" y2="279.2" stroke="#0cd80a" stroke-width="0.53" opacity="0.35"/>
<line x1="333.8" y1="295.0" x2="330.6" y2="287.3" stroke="#0cd80a" stroke-width="0.69" opacity="0.34"/>
<line x1="334.6" y1="294.9" x2="332.9" y2="282.9" stroke="#0cd80a" stroke-width="0.46" opacity="0.17"/>
<line x1="335.4" y1="294.8" x2="333.4" y2="289.7" stroke="#0cd80a" stroke-width="0.54" opacity="0.35"/>
<line x1="336.2" y1="294.7" x2="334.4" y2="279.6" stroke="#0cd80a" stroke-width="0.60" opacity="0.24"/>
<line x1="337.0" y1="294.6" x2="337.0" y2="281.1" stroke="#0cd80a" stroke-width="0.70" opacity="0.33"/>
<line x1="337.8" y1="294.5" x2="337.0" y2="282.2" stroke="#0cd80a" stroke-width="0.45" opacity="0.24"/>
<line x1="338.6" y1="294.4" x2="335.4" y2="285.2" stroke="#0cd80a" stroke-width="0.46" opacity="0.22"/>
<line x1="339.5" y1="294.3" x2="339.1" y2="287.6" stroke="#0cd80a" stroke-width="0.50" opacity="0.37"/>
<line x1="340.3" y1="294.2" x2="338.8" y2="281.9" stroke="#0cd80a" stroke-width="0.53" opacity="0.22"/>
<line x1="341.1" y1="294.1" x2="342.1" y2="287.2" stroke="#0cd80a" stroke-width="0.67" opacity="0.28"/>
<line x1="341.9" y1="294.0" x2="337.9" y2="282.6" stroke="#0cd80a" stroke-width="0.56" opacity="0.16"/>
<line x1="342.7" y1="293.9" x2="342.1" y2="285.5" stroke="#0cd80a" stroke-width="0.45" opacity="0.17"/>
<line x1="343.5" y1="293.8" x2="341.8" y2="281.0" stroke="#0cd80a" stroke-width="0.67" opacity="0.15"/>
<line x1="344.3" y1="293.6" x2="343.9" y2="287.8" stroke="#0cd80a" stroke-width="0.58" opacity="0.29"/>
<line x1="345.1" y1="293.3" x2="339.5" y2="283.8" stroke="#0cd80a" stroke-width="0.69" opacity="0.24"/>
<line x1="345.8" y1="293.1" x2="338.2" y2="280.2" stroke="#0cd80a" stroke-width="0.48" opacity="0.26"/>
<line x1="346.6" y1="292.8" x2="345.8" y2="285.3" stroke="#0cd80a" stroke-width="0.48" opacity="0.13"/>
<line x1="347.4" y1="292.6" x2="344.4" y2="286.6" stroke="#0cd80a" stroke-width="0.68" opacity="0.34"/>
<line x1="348.2" y1="292.3" x2="343.8" y2="280.8" stroke="#0cd80a" stroke-width="0.41" opacity="0.33"/>
<line x1="348.9" y1="292.1" x2="345.9" y2="286.6" stroke="#0cd80a" stroke-width="0.53" opacity="0.34"/>
<line x1="349.7" y1="291.8" x2="345.9" y2="286.1" stroke="#0cd80a" stroke-width="0.67" opacity="0.11"/>
<path d="M225.9,303.7 C227.9,302.9 233.9,300.4 237.9,298.8 C241.9,297.2 246.2,295.3 249.8,293.8 C253.4,292.3 255.7,291.0 259.7,289.8 C263.7,288.6 269.0,287.6 273.7,286.8 C278.4,286.0 283.9,285.2 288.0,284.8 C292.1,284.4 294.0,283.3 298.0,284.3 C302.0,285.3 306.9,288.9 311.9,290.8 C316.9,292.7 322.5,295.3 327.8,295.8 C333.1,296.3 340.1,294.5 343.7,293.8 C347.3,293.1 348.7,292.1 349.7,291.8" stroke="#0cf40b" stroke-width="1.1" fill="none" opacity="0.44999999999999996" stroke-dasharray="3.2,1.4,1.9,1.6,2.3,3.8,3.5,2.6,1.3,1.5,1.9,3.4,3.7,1.1,2.0,3.9,1.5,1.2,1.8,3.7,1.8,3.2,1.4,3.0,1.5,2.8,3.2,3.6,2.3,4.0,2.2,3.8,3.7,4.0,1.3,1.8,3.1,3.7,1.8,3.3,2.4,1.0,1.3,1.0,1.7,3.8,3.0,3.6,3.7,2.2,3.1,3.0,3.1,1.3,3.7,1.5,2.3,3.1,3.2,3.5" filter="url(#b03)"/>
<circle cx="226.5" cy="303.6" r="0.50" fill="#0bf00b" opacity="0.55" filter="url(#b03)"/>
<circle cx="224.9" cy="303.7" r="1.03" fill="#0bf00b" opacity="0.98" filter="url(#b03)"/>
<circle cx="227.5" cy="303.1" r="0.73" fill="#0bf00b" opacity="0.65" filter="url(#b03)"/>
<circle cx="229.2" cy="302.7" r="0.74" fill="#0bf00b" opacity="0.50" filter="url(#b03)"/>
<circle cx="229.1" cy="302.5" r="0.54" fill="#0bf00b" opacity="0.52" filter="url(#b03)"/>
<circle cx="232.0" cy="300.2" r="0.66" fill="#0bf00b" opacity="0.50" filter="url(#b03)"/>
<circle cx="232.7" cy="301.3" r="1.01" fill="#0bf00b" opacity="0.52" filter="url(#b03)"/>
<circle cx="231.8" cy="300.5" r="0.56" fill="#0bf00b" opacity="0.56" filter="url(#b03)"/>
<circle cx="234.5" cy="301.6" r="1.15" fill="#0bf00b" opacity="0.75" filter="url(#b03)"/>
<circle cx="233.7" cy="300.2" r="0.94" fill="#0bf00b" opacity="0.84" filter="url(#b03)"/>
<circle cx="233.2" cy="300.9" r="1.02" fill="#0bf00b" opacity="0.61" filter="url(#b03)"/>
<circle cx="235.5" cy="299.9" r="0.86" fill="#0bf00b" opacity="0.58" filter="url(#b03)"/>
<circle cx="237.6" cy="299.0" r="0.80" fill="#0bf00b" opacity="0.67" filter="url(#b03)"/>
<circle cx="239.4" cy="297.7" r="0.57" fill="#0bf00b" opacity="0.93" filter="url(#b03)"/>
<circle cx="242.9" cy="295.7" r="0.95" fill="#0bf00b" opacity="0.71" filter="url(#b03)"/>
<circle cx="243.4" cy="295.9" r="0.88" fill="#0bf00b" opacity="0.67" filter="url(#b03)"/>
<circle cx="245.5" cy="296.0" r="1.18" fill="#0bf00b" opacity="0.54" filter="url(#b03)"/>
<circle cx="246.0" cy="295.7" r="0.70" fill="#0bf00b" opacity="0.77" filter="url(#b03)"/>
<circle cx="244.7" cy="295.4" r="1.08" fill="#0bf00b" opacity="0.90" filter="url(#b03)"/>
<circle cx="249.9" cy="292.8" r="0.99" fill="#0bf00b" opacity="0.81" filter="url(#b03)"/>
<circle cx="249.2" cy="295.9" r="1.12" fill="#0bf00b" opacity="0.94" filter="url(#b03)"/>
<circle cx="249.5" cy="292.0" r="1.19" fill="#0bf00b" opacity="0.46" filter="url(#b03)"/>
<circle cx="250.6" cy="293.5" r="1.16" fill="#0bf00b" opacity="0.88" filter="url(#b03)"/>
<circle cx="253.8" cy="292.8" r="1.16" fill="#0bf00b" opacity="0.68" filter="url(#b03)"/>
<circle cx="255.0" cy="292.5" r="0.59" fill="#0bf00b" opacity="0.81" filter="url(#b03)"/>
<circle cx="253.6" cy="292.0" r="0.85" fill="#0bf00b" opacity="0.46" filter="url(#b03)"/>
<circle cx="256.1" cy="291.2" r="1.13" fill="#0bf00b" opacity="0.51" filter="url(#b03)"/>
<circle cx="255.1" cy="292.1" r="0.52" fill="#0bf00b" opacity="0.69" filter="url(#b03)"/>
<circle cx="256.1" cy="290.6" r="0.62" fill="#0bf00b" opacity="0.48" filter="url(#b03)"/>
<circle cx="257.5" cy="292.4" r="0.89" fill="#0bf00b" opacity="0.65" filter="url(#b03)"/>
<circle cx="261.7" cy="291.2" r="0.65" fill="#0bf00b" opacity="0.71" filter="url(#b03)"/>
<circle cx="260.3" cy="289.8" r="1.10" fill="#0bf00b" opacity="0.86" filter="url(#b03)"/>
<circle cx="264.8" cy="289.5" r="0.60" fill="#0bf00b" opacity="0.88" filter="url(#b03)"/>
<circle cx="263.7" cy="288.2" r="0.85" fill="#0bf00b" opacity="0.77" filter="url(#b03)"/>
<circle cx="262.6" cy="288.6" r="0.80" fill="#0bf00b" opacity="0.82" filter="url(#b03)"/>
<circle cx="268.9" cy="289.4" r="0.73" fill="#0bf00b" opacity="0.45" filter="url(#b03)"/>
<circle cx="267.6" cy="289.0" r="0.93" fill="#0bf00b" opacity="0.89" filter="url(#b03)"/>
<circle cx="270.4" cy="287.2" r="0.71" fill="#0bf00b" opacity="0.53" filter="url(#b03)"/>
<circle cx="275.5" cy="285.5" r="0.53" fill="#0bf00b" opacity="0.63" filter="url(#b03)"/>
<circle cx="275.4" cy="286.5" r="0.69" fill="#0bf00b" opacity="0.88" filter="url(#b03)"/>
<circle cx="277.1" cy="286.3" r="0.84" fill="#0bf00b" opacity="0.99" filter="url(#b03)"/>
<circle cx="277.3" cy="286.2" r="1.16" fill="#0bf00b" opacity="0.90" filter="url(#b03)"/>
<circle cx="276.6" cy="287.3" r="1.14" fill="#0bf00b" opacity="0.57" filter="url(#b03)"/>
<circle cx="278.4" cy="286.6" r="0.98" fill="#0bf00b" opacity="0.51" filter="url(#b03)"/>
<circle cx="279.4" cy="286.4" r="1.08" fill="#0bf00b" opacity="0.66" filter="url(#b03)"/>
<circle cx="279.1" cy="287.2" r="1.19" fill="#0bf00b" opacity="0.52" filter="url(#b03)"/>
<circle cx="282.0" cy="285.9" r="0.60" fill="#0bf00b" opacity="0.92" filter="url(#b03)"/>
<circle cx="283.8" cy="285.1" r="0.91" fill="#0bf00b" opacity="0.97" filter="url(#b03)"/>
<circle cx="283.4" cy="286.3" r="0.97" fill="#0bf00b" opacity="0.80" filter="url(#b03)"/>
<circle cx="286.1" cy="287.0" r="0.80" fill="#0bf00b" opacity="0.82" filter="url(#b03)"/>
<circle cx="285.9" cy="286.0" r="1.02" fill="#0bf00b" opacity="0.58" filter="url(#b03)"/>
<circle cx="287.5" cy="285.3" r="0.60" fill="#0bf00b" opacity="0.93" filter="url(#b03)"/>
<circle cx="287.8" cy="284.4" r="1.02" fill="#0bf00b" opacity="0.55" filter="url(#b03)"/>
<circle cx="291.1" cy="284.8" r="0.92" fill="#0bf00b" opacity="0.89" filter="url(#b03)"/>
<circle cx="290.3" cy="285.0" r="0.76" fill="#0bf00b" opacity="0.85" filter="url(#b03)"/>
<circle cx="290.4" cy="283.8" r="1.02" fill="#0bf00b" opacity="0.61" filter="url(#b03)"/>
<circle cx="292.5" cy="285.1" r="0.79" fill="#0bf00b" opacity="0.76" filter="url(#b03)"/>
<circle cx="293.2" cy="285.3" r="0.72" fill="#0bf00b" opacity="0.93" filter="url(#b03)"/>
<circle cx="292.8" cy="283.8" r="0.87" fill="#0bf00b" opacity="0.70" filter="url(#b03)"/>
<circle cx="298.6" cy="284.5" r="1.01" fill="#0bf00b" opacity="0.67" filter="url(#b03)"/>
<circle cx="295.8" cy="283.8" r="1.06" fill="#0bf00b" opacity="0.52" filter="url(#b03)"/>
<circle cx="299.7" cy="284.1" r="0.80" fill="#0bf00b" opacity="0.52" filter="url(#b03)"/>
<circle cx="299.2" cy="286.0" r="0.86" fill="#0bf00b" opacity="0.45" filter="url(#b03)"/>
<circle cx="302.4" cy="284.7" r="0.98" fill="#0bf00b" opacity="0.49" filter="url(#b03)"/>
<circle cx="301.3" cy="285.3" r="0.98" fill="#0bf00b" opacity="0.48" filter="url(#b03)"/>
<circle cx="302.0" cy="285.4" r="0.99" fill="#0bf00b" opacity="0.50" filter="url(#b03)"/>
<circle cx="302.8" cy="286.6" r="1.10" fill="#0bf00b" opacity="0.46" filter="url(#b03)"/>
<circle cx="301.6" cy="286.3" r="0.59" fill="#0bf00b" opacity="0.49" filter="url(#b03)"/>
<circle cx="305.1" cy="288.2" r="0.66" fill="#0bf00b" opacity="0.51" filter="url(#b03)"/>
<circle cx="304.5" cy="289.3" r="1.11" fill="#0bf00b" opacity="0.57" filter="url(#b03)"/>
<circle cx="305.6" cy="287.8" r="1.17" fill="#0bf00b" opacity="0.35" filter="url(#b03)"/>
<circle cx="307.0" cy="286.8" r="0.78" fill="#0bf00b" opacity="0.43" filter="url(#b03)"/>
<circle cx="311.1" cy="290.5" r="0.62" fill="#0bf00b" opacity="0.64" filter="url(#b03)"/>
<circle cx="315.2" cy="291.8" r="0.93" fill="#0bf00b" opacity="0.39" filter="url(#b03)"/>
<circle cx="315.7" cy="291.0" r="0.52" fill="#0bf00b" opacity="0.67" filter="url(#b03)"/>
<circle cx="317.1" cy="292.2" r="0.90" fill="#0bf00b" opacity="0.49" filter="url(#b03)"/>
<circle cx="318.4" cy="292.6" r="1.06" fill="#0bf00b" opacity="0.66" filter="url(#b03)"/>
<circle cx="318.3" cy="292.0" r="0.84" fill="#0bf00b" opacity="0.53" filter="url(#b03)"/>
<circle cx="319.0" cy="292.8" r="1.11" fill="#0bf00b" opacity="0.40" filter="url(#b03)"/>
<circle cx="323.0" cy="293.6" r="0.77" fill="#0bf00b" opacity="0.65" filter="url(#b03)"/>
<circle cx="325.7" cy="294.5" r="1.14" fill="#0bf00b" opacity="0.44" filter="url(#b03)"/>
<circle cx="323.1" cy="296.0" r="1.08" fill="#0bf00b" opacity="0.52" filter="url(#b03)"/>
<circle cx="325.6" cy="295.6" r="0.68" fill="#0bf00b" opacity="0.41" filter="url(#b03)"/>
<circle cx="337.4" cy="296.5" r="0.52" fill="#0bf00b" opacity="0.46" filter="url(#b03)"/>
<circle cx="337.4" cy="294.2" r="1.18" fill="#0bf00b" opacity="0.61" filter="url(#b03)"/>
<circle cx="338.1" cy="295.8" r="0.87" fill="#0bf00b" opacity="0.55" filter="url(#b03)"/>
<circle cx="337.6" cy="294.5" r="0.93" fill="#0bf00b" opacity="0.44" filter="url(#b03)"/>
<circle cx="339.2" cy="294.9" r="1.09" fill="#0bf00b" opacity="0.61" filter="url(#b03)"/>
<circle cx="341.1" cy="294.3" r="0.87" fill="#0bf00b" opacity="0.46" filter="url(#b03)"/>
<circle cx="342.5" cy="294.5" r="0.57" fill="#0bf00b" opacity="0.61" filter="url(#b03)"/>
<circle cx="341.7" cy="294.6" r="1.00" fill="#0bf00b" opacity="0.32" filter="url(#b03)"/>
<circle cx="342.4" cy="293.7" r="0.99" fill="#0bf00b" opacity="0.51" filter="url(#b03)"/>
<circle cx="344.3" cy="293.2" r="0.74" fill="#0bf00b" opacity="0.40" filter="url(#b03)"/>
<circle cx="343.1" cy="293.4" r="1.11" fill="#0bf00b" opacity="0.33" filter="url(#b03)"/>
<circle cx="346.6" cy="293.4" r="1.20" fill="#0bf00b" opacity="0.67" filter="url(#b03)"/>
<circle cx="347.6" cy="292.7" r="1.13" fill="#0bf00b" opacity="0.35" filter="url(#b03)"/>
<circle cx="350.4" cy="291.7" r="1.06" fill="#0bf00b" opacity="0.44" filter="url(#b03)"/>
<circle cx="349.3" cy="292.5" r="0.90" fill="#0bf00b" opacity="0.63" filter="url(#b03)"/>
<path d="M245.8,327.6 C247.5,325.5 252.2,318.5 255.8,314.7 C259.4,310.9 263.7,306.9 267.7,304.7 C271.7,302.5 276.2,302.4 279.6,301.7 C283.0,301.0 284.6,300.5 288.0,300.5 C291.4,300.5 295.2,301.3 299.9,301.7 C304.5,302.1 310.6,302.7 315.9,302.7 C321.2,302.7 327.8,302.3 331.8,301.7 C335.8,301.1 338.4,299.3 339.7,298.8" stroke="#04c804" stroke-width="3" fill="none" opacity="0.3" filter="url(#b1)" stroke-linecap="round"/>
<line x1="245.8" y1="327.6" x2="252.8" y2="331.4" stroke="#0cd80a" stroke-width="0.51" opacity="0.31"/>
<line x1="246.5" y1="326.7" x2="249.5" y2="328.8" stroke="#0cd80a" stroke-width="0.53" opacity="0.38"/>
<line x1="247.2" y1="325.7" x2="250.3" y2="328.0" stroke="#0cd80a" stroke-width="0.48" opacity="0.37"/>
<line x1="248.0" y1="324.8" x2="256.0" y2="328.9" stroke="#0cd80a" stroke-width="0.49" opacity="0.32"/>
<line x1="248.7" y1="323.9" x2="252.0" y2="326.7" stroke="#0cd80a" stroke-width="0.48" opacity="0.33"/>
<line x1="249.4" y1="322.9" x2="252.6" y2="327.0" stroke="#0cd80a" stroke-width="0.58" opacity="0.31"/>
<line x1="250.1" y1="322.0" x2="254.3" y2="325.5" stroke="#0cd80a" stroke-width="0.51" opacity="0.24"/>
<line x1="250.9" y1="321.1" x2="257.0" y2="323.8" stroke="#0cd80a" stroke-width="0.60" opacity="0.39"/>
<line x1="251.6" y1="320.1" x2="254.0" y2="323.5" stroke="#0cd80a" stroke-width="0.54" opacity="0.28"/>
<line x1="252.3" y1="319.2" x2="259.8" y2="325.0" stroke="#0cd80a" stroke-width="0.64" opacity="0.36"/>
<line x1="253.0" y1="318.3" x2="257.3" y2="323.3" stroke="#0cd80a" stroke-width="0.47" opacity="0.34"/>
<line x1="253.7" y1="317.3" x2="256.3" y2="319.8" stroke="#0cd80a" stroke-width="0.68" opacity="0.17"/>
<line x1="254.5" y1="316.4" x2="260.2" y2="320.1" stroke="#0cd80a" stroke-width="0.53" opacity="0.23"/>
<line x1="255.2" y1="315.5" x2="261.8" y2="318.1" stroke="#0cd80a" stroke-width="0.51" opacity="0.18"/>
<line x1="255.9" y1="314.6" x2="260.5" y2="322.8" stroke="#0cd80a" stroke-width="0.44" opacity="0.28"/>
<line x1="256.8" y1="313.8" x2="262.4" y2="320.1" stroke="#0cd80a" stroke-width="0.59" opacity="0.31"/>
<line x1="257.8" y1="313.1" x2="259.5" y2="316.9" stroke="#0cd80a" stroke-width="0.49" opacity="0.15"/>
<line x1="258.7" y1="312.3" x2="264.7" y2="319.9" stroke="#0cd80a" stroke-width="0.69" opacity="0.20"/>
<line x1="259.6" y1="311.5" x2="264.6" y2="315.3" stroke="#0cd80a" stroke-width="0.61" opacity="0.15"/>
<line x1="260.5" y1="310.8" x2="262.9" y2="312.8" stroke="#0cd80a" stroke-width="0.68" opacity="0.32"/>
<line x1="261.4" y1="310.0" x2="268.2" y2="316.4" stroke="#0cd80a" stroke-width="0.49" opacity="0.28"/>
<line x1="262.3" y1="309.3" x2="268.0" y2="314.1" stroke="#0cd80a" stroke-width="0.70" opacity="0.38"/>
<line x1="263.2" y1="308.5" x2="268.0" y2="312.1" stroke="#0cd80a" stroke-width="0.62" opacity="0.37"/>
<line x1="264.1" y1="307.8" x2="267.7" y2="315.5" stroke="#0cd80a" stroke-width="0.68" opacity="0.28"/>
<line x1="265.0" y1="307.0" x2="270.8" y2="314.0" stroke="#0cd80a" stroke-width="0.54" opacity="0.36"/>
<line x1="265.9" y1="306.2" x2="271.2" y2="309.7" stroke="#0cd80a" stroke-width="0.41" opacity="0.38"/>
<line x1="266.8" y1="305.5" x2="268.2" y2="308.5" stroke="#0cd80a" stroke-width="0.46" opacity="0.34"/>
<line x1="267.7" y1="304.7" x2="270.6" y2="309.7" stroke="#0cd80a" stroke-width="0.45" opacity="0.20"/>
<line x1="268.8" y1="304.4" x2="269.5" y2="307.9" stroke="#0cd80a" stroke-width="0.49" opacity="0.15"/>
<line x1="270.0" y1="304.1" x2="272.4" y2="308.6" stroke="#0cd80a" stroke-width="0.49" opacity="0.28"/>
<line x1="271.1" y1="303.8" x2="271.8" y2="312.2" stroke="#0cd80a" stroke-width="0.55" opacity="0.23"/>
<line x1="272.3" y1="303.6" x2="272.4" y2="307.5" stroke="#0cd80a" stroke-width="0.55" opacity="0.20"/>
<line x1="273.4" y1="303.3" x2="275.2" y2="307.1" stroke="#0cd80a" stroke-width="0.50" opacity="0.31"/>
<line x1="274.5" y1="303.0" x2="277.7" y2="309.8" stroke="#0cd80a" stroke-width="0.63" opacity="0.36"/>
<line x1="275.7" y1="302.7" x2="277.4" y2="306.2" stroke="#0cd80a" stroke-width="0.60" opacity="0.13"/>
<line x1="276.8" y1="302.4" x2="277.0" y2="308.7" stroke="#0cd80a" stroke-width="0.64" opacity="0.29"/>
<line x1="278.0" y1="302.1" x2="281.2" y2="308.5" stroke="#0cd80a" stroke-width="0.70" opacity="0.39"/>
<line x1="279.1" y1="301.8" x2="282.8" y2="309.4" stroke="#0cd80a" stroke-width="0.44" opacity="0.27"/>
<line x1="280.3" y1="301.6" x2="280.9" y2="305.7" stroke="#0cd80a" stroke-width="0.61" opacity="0.14"/>
<line x1="281.4" y1="301.4" x2="281.9" y2="305.8" stroke="#0cd80a" stroke-width="0.51" opacity="0.15"/>
<line x1="282.6" y1="301.3" x2="285.3" y2="308.6" stroke="#0cd80a" stroke-width="0.51" opacity="0.18"/>
<line x1="283.8" y1="301.1" x2="283.3" y2="308.6" stroke="#0cd80a" stroke-width="0.45" opacity="0.39"/>
<line x1="284.9" y1="300.9" x2="284.7" y2="306.5" stroke="#0cd80a" stroke-width="0.69" opacity="0.33"/>
<line x1="286.1" y1="300.8" x2="286.4" y2="304.8" stroke="#0cd80a" stroke-width="0.41" opacity="0.18"/>
<line x1="287.3" y1="300.6" x2="290.3" y2="308.8" stroke="#0cd80a" stroke-width="0.69" opacity="0.14"/>
<line x1="288.4" y1="300.5" x2="287.1" y2="307.8" stroke="#0cd80a" stroke-width="0.56" opacity="0.37"/>
<line x1="289.6" y1="300.7" x2="287.9" y2="308.3" stroke="#0cd80a" stroke-width="0.68" opacity="0.12"/>
<line x1="290.8" y1="300.8" x2="288.2" y2="309.8" stroke="#0cd80a" stroke-width="0.55" opacity="0.26"/>
<line x1="292.0" y1="300.9" x2="290.0" y2="307.4" stroke="#0cd80a" stroke-width="0.70" opacity="0.15"/>
<line x1="293.1" y1="301.0" x2="293.1" y2="305.8" stroke="#0cd80a" stroke-width="0.43" opacity="0.17"/>
<line x1="294.3" y1="301.1" x2="292.0" y2="308.7" stroke="#0cd80a" stroke-width="0.60" opacity="0.21"/>
<line x1="295.5" y1="301.3" x2="296.6" y2="307.2" stroke="#0cd80a" stroke-width="0.43" opacity="0.17"/>
<line x1="296.7" y1="301.4" x2="296.5" y2="304.8" stroke="#0cd80a" stroke-width="0.64" opacity="0.17"/>
<line x1="297.8" y1="301.5" x2="299.3" y2="308.6" stroke="#0cd80a" stroke-width="0.46" opacity="0.33"/>
<line x1="299.0" y1="301.6" x2="298.8" y2="306.4" stroke="#0cd80a" stroke-width="0.67" opacity="0.27"/>
<line x1="300.2" y1="301.7" x2="297.2" y2="310.3" stroke="#0cd80a" stroke-width="0.65" opacity="0.28"/>
<line x1="301.4" y1="301.8" x2="300.9" y2="306.0" stroke="#0cd80a" stroke-width="0.56" opacity="0.30"/>
<line x1="302.5" y1="301.9" x2="299.7" y2="311.4" stroke="#0cd80a" stroke-width="0.43" opacity="0.38"/>
<line x1="303.7" y1="301.9" x2="301.7" y2="311.0" stroke="#0cd80a" stroke-width="0.55" opacity="0.22"/>
<line x1="304.9" y1="302.0" x2="303.4" y2="307.1" stroke="#0cd80a" stroke-width="0.65" opacity="0.29"/>
<line x1="306.1" y1="302.1" x2="306.1" y2="311.2" stroke="#0cd80a" stroke-width="0.67" opacity="0.18"/>
<line x1="307.2" y1="302.2" x2="307.6" y2="308.1" stroke="#0cd80a" stroke-width="0.58" opacity="0.19"/>
<line x1="308.4" y1="302.2" x2="307.4" y2="307.8" stroke="#0cd80a" stroke-width="0.54" opacity="0.23"/>
<line x1="309.6" y1="302.3" x2="308.9" y2="306.5" stroke="#0cd80a" stroke-width="0.44" opacity="0.38"/>
<line x1="310.8" y1="302.4" x2="309.7" y2="310.6" stroke="#0cd80a" stroke-width="0.42" opacity="0.27"/>
<line x1="312.0" y1="302.5" x2="310.2" y2="309.9" stroke="#0cd80a" stroke-width="0.64" opacity="0.39"/>
<line x1="313.1" y1="302.5" x2="310.0" y2="311.2" stroke="#0cd80a" stroke-width="0.42" opacity="0.16"/>
<line x1="314.3" y1="302.6" x2="314.6" y2="307.8" stroke="#0cd80a" stroke-width="0.43" opacity="0.21"/>
<line x1="315.5" y1="302.7" x2="317.1" y2="311.7" stroke="#0cd80a" stroke-width="0.49" opacity="0.19"/>
<line x1="316.7" y1="302.7" x2="318.1" y2="306.6" stroke="#0cd80a" stroke-width="0.52" opacity="0.25"/>
<line x1="317.8" y1="302.6" x2="318.3" y2="308.4" stroke="#0cd80a" stroke-width="0.59" opacity="0.12"/>
<line x1="319.0" y1="302.5" x2="320.0" y2="308.0" stroke="#0cd80a" stroke-width="0.45" opacity="0.29"/>
<line x1="320.2" y1="302.4" x2="321.9" y2="307.4" stroke="#0cd80a" stroke-width="0.67" opacity="0.22"/>
<line x1="321.4" y1="302.4" x2="321.7" y2="307.6" stroke="#0cd80a" stroke-width="0.45" opacity="0.20"/>
<line x1="322.5" y1="302.3" x2="323.5" y2="306.7" stroke="#0cd80a" stroke-width="0.49" opacity="0.17"/>
<line x1="323.7" y1="302.2" x2="323.3" y2="308.8" stroke="#0cd80a" stroke-width="0.48" opacity="0.19"/>
<line x1="324.9" y1="302.1" x2="324.6" y2="306.2" stroke="#0cd80a" stroke-width="0.56" opacity="0.36"/>
<line x1="326.1" y1="302.1" x2="327.1" y2="308.2" stroke="#0cd80a" stroke-width="0.63" opacity="0.33"/>
<line x1="327.3" y1="302.0" x2="327.0" y2="306.9" stroke="#0cd80a" stroke-width="0.69" opacity="0.28"/>
<line x1="328.4" y1="301.9" x2="328.9" y2="305.2" stroke="#0cd80a" stroke-width="0.53" opacity="0.27"/>
<line x1="329.6" y1="301.8" x2="328.7" y2="306.0" stroke="#0cd80a" stroke-width="0.51" opacity="0.26"/>
<line x1="330.8" y1="301.8" x2="331.0" y2="308.2" stroke="#0cd80a" stroke-width="0.61" opacity="0.15"/>
<line x1="332.0" y1="301.6" x2="333.6" y2="308.0" stroke="#0cd80a" stroke-width="0.55" opacity="0.16"/>
<line x1="333.1" y1="301.2" x2="334.5" y2="305.4" stroke="#0cd80a" stroke-width="0.48" opacity="0.28"/>
<line x1="334.2" y1="300.8" x2="338.9" y2="307.1" stroke="#0cd80a" stroke-width="0.58" opacity="0.19"/>
<line x1="335.3" y1="300.4" x2="338.3" y2="308.5" stroke="#0cd80a" stroke-width="0.50" opacity="0.26"/>
<line x1="336.4" y1="300.0" x2="337.1" y2="304.8" stroke="#0cd80a" stroke-width="0.53" opacity="0.16"/>
<line x1="337.5" y1="299.6" x2="339.0" y2="303.2" stroke="#0cd80a" stroke-width="0.61" opacity="0.29"/>
<line x1="338.6" y1="299.2" x2="341.2" y2="305.7" stroke="#0cd80a" stroke-width="0.51" opacity="0.31"/>
<line x1="339.7" y1="298.8" x2="340.6" y2="302.9" stroke="#0cd80a" stroke-width="0.56" opacity="0.36"/>
<path d="M245.8,327.6 C247.5,325.5 252.2,318.5 255.8,314.7 C259.4,310.9 263.7,306.9 267.7,304.7 C271.7,302.5 276.2,302.4 279.6,301.7 C283.0,301.0 284.6,300.5 288.0,300.5 C291.4,300.5 295.2,301.3 299.9,301.7 C304.5,302.1 310.6,302.7 315.9,302.7 C321.2,302.7 327.8,302.3 331.8,301.7 C335.8,301.1 338.4,299.3 339.7,298.8" stroke="#0cf40b" stroke-width="1.1" fill="none" opacity="0.36" stroke-dasharray="1.7,3.5,2.2,3.3,3.6,3.2,2.7,4.0,3.2,3.8,1.3,1.4,1.7,1.5,2.2,2.8,2.7,3.8,3.5,1.6,3.0,3.1,2.9,3.2,1.3,1.4,2.5,2.4,1.2,1.4,3.8,3.8,1.8,2.8,3.2,1.6,1.6,1.1,3.6,3.3,3.9,2.1,3.2,3.1,1.2,3.2,2.4,3.4,2.6,1.8,3.4,2.6,3.7,2.8,1.1,2.8,3.1,2.2,2.3,2.3" filter="url(#b03)"/>
<circle cx="244.4" cy="328.2" r="1.08" fill="#0bf00b" opacity="0.53" filter="url(#b03)"/>
<circle cx="246.8" cy="327.8" r="0.66" fill="#0bf00b" opacity="0.63" filter="url(#b03)"/>
<circle cx="246.9" cy="328.4" r="1.10" fill="#0bf00b" opacity="0.44" filter="url(#b03)"/>
<circle cx="246.8" cy="324.7" r="0.95" fill="#0bf00b" opacity="0.65" filter="url(#b03)"/>
<circle cx="249.4" cy="321.7" r="0.67" fill="#0bf00b" opacity="0.47" filter="url(#b03)"/>
<circle cx="251.0" cy="321.4" r="0.74" fill="#0bf00b" opacity="0.57" filter="url(#b03)"/>
<circle cx="250.6" cy="321.1" r="1.02" fill="#0bf00b" opacity="0.40" filter="url(#b03)"/>
<circle cx="252.6" cy="320.0" r="0.61" fill="#0bf00b" opacity="0.78" filter="url(#b03)"/>
<circle cx="252.1" cy="319.2" r="0.64" fill="#0bf00b" opacity="0.46" filter="url(#b03)"/>
<circle cx="254.9" cy="315.4" r="1.17" fill="#0bf00b" opacity="0.58" filter="url(#b03)"/>
<circle cx="254.5" cy="315.9" r="0.97" fill="#0bf00b" opacity="0.54" filter="url(#b03)"/>
<circle cx="258.5" cy="313.9" r="1.10" fill="#0bf00b" opacity="0.39" filter="url(#b03)"/>
<circle cx="260.1" cy="311.5" r="1.06" fill="#0bf00b" opacity="0.58" filter="url(#b03)"/>
<circle cx="260.5" cy="311.1" r="0.60" fill="#0bf00b" opacity="0.44" filter="url(#b03)"/>
<circle cx="262.5" cy="309.5" r="0.86" fill="#0bf00b" opacity="0.50" filter="url(#b03)"/>
<circle cx="261.8" cy="309.2" r="0.89" fill="#0bf00b" opacity="0.71" filter="url(#b03)"/>
<circle cx="261.7" cy="309.0" r="1.10" fill="#0bf00b" opacity="0.50" filter="url(#b03)"/>
<circle cx="263.1" cy="309.3" r="1.13" fill="#0bf00b" opacity="0.55" filter="url(#b03)"/>
<circle cx="265.0" cy="305.3" r="0.54" fill="#0bf00b" opacity="0.48" filter="url(#b03)"/>
<circle cx="267.3" cy="305.9" r="0.89" fill="#0bf00b" opacity="0.57" filter="url(#b03)"/>
<circle cx="265.2" cy="308.3" r="0.76" fill="#0bf00b" opacity="0.41" filter="url(#b03)"/>
<circle cx="267.8" cy="304.8" r="1.14" fill="#0bf00b" opacity="0.70" filter="url(#b03)"/>
<circle cx="269.8" cy="304.1" r="0.79" fill="#0bf00b" opacity="0.78" filter="url(#b03)"/>
<circle cx="270.7" cy="303.3" r="0.74" fill="#0bf00b" opacity="0.72" filter="url(#b03)"/>
<circle cx="276.7" cy="303.8" r="0.57" fill="#0bf00b" opacity="0.41" filter="url(#b03)"/>
<circle cx="274.6" cy="301.6" r="0.98" fill="#0bf00b" opacity="0.74" filter="url(#b03)"/>
<circle cx="280.4" cy="301.0" r="1.09" fill="#0bf00b" opacity="0.42" filter="url(#b03)"/>
<circle cx="278.4" cy="302.8" r="0.88" fill="#0bf00b" opacity="0.56" filter="url(#b03)"/>
<circle cx="279.4" cy="301.3" r="1.15" fill="#0bf00b" opacity="0.80" filter="url(#b03)"/>
<circle cx="288.0" cy="299.9" r="0.84" fill="#0bf00b" opacity="0.37" filter="url(#b03)"/>
<circle cx="292.4" cy="300.4" r="0.95" fill="#0bf00b" opacity="0.80" filter="url(#b03)"/>
<circle cx="291.1" cy="301.3" r="1.19" fill="#0bf00b" opacity="0.61" filter="url(#b03)"/>
<circle cx="292.9" cy="301.0" r="0.59" fill="#0bf00b" opacity="0.38" filter="url(#b03)"/>
<circle cx="293.1" cy="302.2" r="0.65" fill="#0bf00b" opacity="0.38" filter="url(#b03)"/>
<circle cx="300.3" cy="301.7" r="0.94" fill="#0bf00b" opacity="0.41" filter="url(#b03)"/>
<circle cx="299.3" cy="300.7" r="0.60" fill="#0bf00b" opacity="0.57" filter="url(#b03)"/>
<circle cx="304.8" cy="302.4" r="1.01" fill="#0bf00b" opacity="0.57" filter="url(#b03)"/>
<circle cx="305.7" cy="302.5" r="0.77" fill="#0bf00b" opacity="0.48" filter="url(#b03)"/>
<circle cx="310.3" cy="302.4" r="0.62" fill="#0bf00b" opacity="0.57" filter="url(#b03)"/>
<circle cx="318.7" cy="302.6" r="0.61" fill="#0bf00b" opacity="0.67" filter="url(#b03)"/>
<circle cx="321.6" cy="303.4" r="0.94" fill="#0bf00b" opacity="0.48" filter="url(#b03)"/>
<circle cx="322.8" cy="303.0" r="1.15" fill="#0bf00b" opacity="0.51" filter="url(#b03)"/>
<circle cx="322.5" cy="303.2" r="0.63" fill="#0bf00b" opacity="0.38" filter="url(#b03)"/>
<circle cx="325.4" cy="301.3" r="0.52" fill="#0bf00b" opacity="0.76" filter="url(#b03)"/>
<circle cx="326.4" cy="302.4" r="1.05" fill="#0bf00b" opacity="0.46" filter="url(#b03)"/>
<circle cx="326.2" cy="302.3" r="0.83" fill="#0bf00b" opacity="0.69" filter="url(#b03)"/>
<circle cx="333.0" cy="301.5" r="0.91" fill="#0bf00b" opacity="0.74" filter="url(#b03)"/>
<circle cx="331.8" cy="301.6" r="0.58" fill="#0bf00b" opacity="0.40" filter="url(#b03)"/>
<circle cx="331.3" cy="301.0" r="0.95" fill="#0bf00b" opacity="0.73" filter="url(#b03)"/>
<circle cx="335.8" cy="298.9" r="0.89" fill="#0bf00b" opacity="0.53" filter="url(#b03)"/>
<circle cx="337.4" cy="298.7" r="1.00" fill="#0bf00b" opacity="0.68" filter="url(#b03)"/>
<circle cx="217" cy="275.3" r="1.04" fill="#032a03" opacity="0.75" filter="url(#b05)"/>
<circle cx="230.9" cy="273.3" r="1.20" fill="#032a03" opacity="0.75" filter="url(#b05)"/>
<circle cx="221.9" cy="278.9" r="0.80" fill="#032a03" opacity="0.75" filter="url(#b05)"/>
<circle cx="211" cy="285.2" r="1.04" fill="#032a03" opacity="0.75" filter="url(#b05)"/>
<circle cx="236.5" cy="260" r="0.88" fill="#032a03" opacity="0.75" filter="url(#b05)"/>
<circle cx="266.7" cy="259" r="1.04" fill="#032a03" opacity="0.75" filter="url(#b05)"/>
<circle cx="279.6" cy="256.6" r="0.96" fill="#032a03" opacity="0.75" filter="url(#b05)"/>
<circle cx="228.9" cy="279.9" r="0.72" fill="#032a03" opacity="0.75" filter="url(#b05)"/>
<circle cx="312.5" cy="263" r="0.96" fill="#032a03" opacity="0.75" filter="url(#b05)"/>
<circle cx="330.2" cy="267.9" r="1.28" fill="#032a03" opacity="0.75" filter="url(#b05)"/>
<circle cx="352.7" cy="274.5" r="1.04" fill="#032a03" opacity="0.75" filter="url(#b05)"/>
<circle cx="358.6" cy="277.9" r="1.28" fill="#032a03" opacity="0.75" filter="url(#b05)"/>
<circle cx="343.7" cy="273.9" r="0.64" fill="#032a03" opacity="0.75" filter="url(#b05)"/>
<rect x="208.2" y="251" width="160.3" height="85.3" fill="#000" filter="url(#noise)" opacity="0.22"/>
</g>
<clipPath id="cp4"><rect x="368.5" y="251.1" width="37.5" height="85.2"/></clipPath>
<g clip-path="url(#cp4)">
<rect x="368.5" y="251.1" width="37.5" height="85.2" fill="#026602" />
<rect x="363.5" y="305" width="47.5" height="36.30000000000001" fill="#06a006" filter="url(#b6)" opacity="0.5"/>
<path d="M407.2,333.8 C407.5,333.4 408.3,332.4 408.9,331.7 C409.4,331.0 410.1,330.4 410.5,329.6 C410.9,328.8 411.0,327.8 411.3,327.0 C411.5,326.2 412.0,325.4 412.3,324.5 C412.5,323.7 412.6,322.7 413.0,321.9 C413.4,321.2 414.5,320.3 414.8,320.0" stroke="#09d008" stroke-width="0.30" fill="none" opacity="0.37" stroke-linecap="round"/>
<path d="M410.5,329.6 C410.7,329.3 411.2,328.5 411.7,328.2 C412.1,327.8 412.8,327.7 413.3,327.4 C413.8,327.1 414.3,326.7 414.8,326.3 C415.3,326.0 415.7,325.5 416.1,325.1 C416.6,324.7 416.9,324.2 417.4,323.8 C417.9,323.5 418.8,323.1 419.0,323.0" stroke="#09d008" stroke-width="0.24" fill="none" opacity="0.31" stroke-linecap="round"/>
<path d="M390.9,319.4 C391.4,318.1 393.0,314.3 394.0,311.7 C394.9,309.1 395.5,306.4 396.5,303.8 C397.5,301.2 398.5,298.6 399.9,296.2 C401.3,293.9 403.3,291.9 405.0,289.7 C406.7,287.5 408.4,285.3 410.1,283.1 C411.8,281.0 414.5,277.8 415.4,276.7" stroke="#09d008" stroke-width="0.39" fill="none" opacity="0.75" stroke-linecap="round"/>
<path d="M396.5,303.8 C397.0,303.3 398.3,301.8 399.2,300.8 C400.1,299.8 400.7,298.6 401.7,297.6 C402.6,296.7 403.9,296.1 404.8,295.2 C405.7,294.2 406.3,292.8 407.3,292.0 C408.3,291.1 409.7,290.9 410.8,290.1 C411.9,289.4 413.4,288.0 414.0,287.6" stroke="#09d008" stroke-width="0.31" fill="none" opacity="0.64" stroke-linecap="round"/>
<path d="M388.0,328.9 C388.2,327.7 388.6,323.9 389.5,321.6 C390.3,319.3 391.7,317.2 392.8,315.0 C394.0,312.8 395.1,310.5 396.2,308.3 C397.3,306.1 398.2,303.7 399.4,301.6 C400.6,299.4 402.0,297.3 403.4,295.3 C404.8,293.2 407.0,290.3 407.8,289.2" stroke="#09d008" stroke-width="0.33" fill="none" opacity="0.53" stroke-linecap="round"/>
<path d="M396.2,308.3 C396.5,307.9 397.6,306.7 398.3,305.9 C399.0,305.2 399.6,304.3 400.4,303.6 C401.2,302.9 402.2,302.4 403.1,301.8 C404.0,301.2 404.9,300.8 405.7,300.1 C406.6,299.4 407.3,298.6 408.0,297.8 C408.7,297.0 409.7,295.8 410.1,295.4" stroke="#09d008" stroke-width="0.26" fill="none" opacity="0.45" stroke-linecap="round"/>
<path d="M369.7,320.2 C369.8,319.6 370.3,317.7 370.5,316.5 C370.7,315.2 370.9,314.0 370.9,312.7 C370.9,311.5 370.6,310.2 370.6,308.9 C370.5,307.7 370.2,306.4 370.4,305.2 C370.5,303.9 371.1,302.7 371.4,301.5 C371.8,300.3 372.2,298.5 372.4,297.9" stroke="#13f811" stroke-width="0.34" fill="none" opacity="0.50" stroke-linecap="round"/>
<path d="M370.9,312.7 C370.9,312.5 371.1,311.7 371.2,311.2 C371.4,310.7 371.8,310.3 371.9,309.8 C372.1,309.3 372.1,308.7 372.2,308.2 C372.4,307.7 372.4,307.2 372.6,306.7 C372.8,306.2 373.2,305.8 373.4,305.3 C373.6,304.8 373.7,304.1 373.8,303.8" stroke="#13f811" stroke-width="0.27" fill="none" opacity="0.43" stroke-linecap="round"/>
<path d="M377.9,324.0 C378.2,322.5 379.4,318.2 380.0,315.3 C380.6,312.4 380.6,309.4 381.2,306.5 C381.8,303.6 383.7,300.8 383.9,297.9 C384.1,295.0 382.6,292.1 382.4,289.1 C382.3,286.1 382.8,283.1 383.2,280.2 C383.5,277.2 384.3,272.8 384.5,271.4" stroke="#0ce80b" stroke-width="0.27" fill="none" opacity="0.76" stroke-linecap="round"/>
<path d="M383.9,297.9 C384.1,297.3 384.8,295.5 385.2,294.3 C385.6,293.1 385.9,291.9 386.3,290.6 C386.7,289.4 387.0,288.2 387.6,287.0 C388.2,285.9 388.9,284.9 389.7,283.9 C390.5,282.9 391.6,282.1 392.4,281.1 C393.1,280.0 394.0,278.3 394.3,277.7" stroke="#0ce80b" stroke-width="0.21" fill="none" opacity="0.65" stroke-linecap="round"/>
<path d="M386.7,335.1 C386.8,334.6 387.0,333.3 387.3,332.5 C387.5,331.6 388.0,330.8 388.4,330.0 C388.8,329.2 389.2,328.5 389.7,327.7 C390.1,326.9 390.6,326.2 390.9,325.3 C391.1,324.5 390.9,323.5 391.1,322.6 C391.2,321.8 391.6,320.5 391.7,320.0" stroke="#13f811" stroke-width="0.40" fill="none" opacity="0.70" stroke-linecap="round"/>
<path d="M388.4,330.0 C388.4,329.8 388.7,329.3 388.9,328.9 C389.2,328.6 389.5,328.4 389.8,328.1 C390.1,327.8 390.3,327.4 390.6,327.1 C390.8,326.8 391.0,326.4 391.3,326.1 C391.5,325.8 392.0,325.6 392.2,325.3 C392.5,325.0 392.8,324.4 392.9,324.2" stroke="#13f811" stroke-width="0.32" fill="none" opacity="0.59" stroke-linecap="round"/>
<path d="M405.6,319.5 C405.5,318.4 404.9,315.1 404.6,312.9 C404.3,310.7 404.4,308.3 403.9,306.2 C403.3,304.0 401.9,302.1 401.3,299.9 C400.7,297.8 400.8,295.4 400.2,293.3 C399.6,291.1 398.1,289.2 397.6,287.0 C397.2,284.9 397.5,281.4 397.5,280.3" stroke="#0ce80b" stroke-width="0.49" fill="none" opacity="0.50" stroke-linecap="round"/>
<path d="M403.9,306.2 C403.9,305.7 404.1,304.1 404.4,303.1 C404.6,302.1 405.1,301.1 405.4,300.1 C405.6,299.1 405.6,298.0 405.8,297.0 C405.9,296.0 406.1,294.9 406.5,293.9 C406.8,293.0 407.5,292.1 407.9,291.2 C408.4,290.2 409.1,288.8 409.3,288.4" stroke="#0ce80b" stroke-width="0.39" fill="none" opacity="0.42" stroke-linecap="round"/>
<path d="M365.9,329.5 C365.8,328.2 365.7,324.6 365.3,322.2 C364.8,319.8 363.6,317.5 363.3,315.2 C363.0,312.8 363.7,310.2 363.4,307.8 C363.1,305.5 362.1,303.2 361.4,300.8 C360.7,298.5 359.9,296.2 359.4,293.8 C358.9,291.4 358.5,287.8 358.3,286.6" stroke="#09d008" stroke-width="0.45" fill="none" opacity="0.88" stroke-linecap="round"/>
<path d="M363.4,307.8 C363.7,307.1 364.7,304.9 365.4,303.5 C366.1,302.1 367.2,300.8 367.7,299.3 C368.1,297.9 367.9,296.2 368.2,294.6 C368.4,293.0 368.7,291.5 369.2,290.0 C369.7,288.5 370.6,287.1 371.3,285.7 C371.9,284.2 372.8,282.0 373.1,281.3" stroke="#09d008" stroke-width="0.36" fill="none" opacity="0.75" stroke-linecap="round"/>
<path d="M382.3,324.5 C382.1,323.9 381.2,322.1 380.8,320.8 C380.4,319.6 380.3,318.2 380.2,316.9 C380.1,315.6 380.4,314.2 380.2,313.0 C380.0,311.7 379.3,310.5 378.9,309.2 C378.6,307.9 378.1,306.7 378.0,305.4 C377.9,304.1 378.2,302.1 378.2,301.4" stroke="#0ce80b" stroke-width="0.26" fill="none" opacity="0.54" stroke-linecap="round"/>
<path d="M380.2,316.9 C380.0,316.6 379.6,315.5 379.2,314.9 C378.8,314.3 378.2,313.8 377.8,313.2 C377.5,312.6 377.4,311.8 377.0,311.1 C376.7,310.5 376.0,310.0 375.7,309.4 C375.3,308.8 375.0,308.1 374.8,307.4 C374.5,306.7 374.3,305.6 374.2,305.2" stroke="#0ce80b" stroke-width="0.21" fill="none" opacity="0.46" stroke-linecap="round"/>
<path d="M376.7,330.8 C377.0,330.1 377.6,327.7 378.4,326.3 C379.1,324.9 380.4,323.8 381.3,322.5 C382.3,321.2 383.4,320.0 384.3,318.6 C385.2,317.3 385.9,315.8 386.8,314.5 C387.7,313.1 388.7,311.9 389.6,310.6 C390.6,309.2 391.9,307.2 392.3,306.5" stroke="#09d008" stroke-width="0.39" fill="none" opacity="0.63" stroke-linecap="round"/>
<path d="M384.3,318.6 C384.2,318.1 383.9,316.7 384.0,315.7 C384.1,314.8 384.8,313.9 384.9,312.9 C385.1,312.0 385.0,311.0 385.0,310.0 C385.0,309.1 384.7,308.1 384.7,307.1 C384.6,306.1 384.8,305.2 384.7,304.2 C384.7,303.2 384.6,301.8 384.5,301.3" stroke="#09d008" stroke-width="0.32" fill="none" opacity="0.54" stroke-linecap="round"/>
<path d="M384.9,330.3 C384.9,329.7 384.8,327.8 384.8,326.5 C384.9,325.2 385.0,324.0 385.2,322.7 C385.4,321.5 385.8,320.2 386.2,319.0 C386.6,317.8 387.2,316.6 387.4,315.4 C387.6,314.2 387.5,312.8 387.5,311.6 C387.4,310.3 387.0,308.4 386.9,307.8" stroke="#13f811" stroke-width="0.35" fill="none" opacity="0.52" stroke-linecap="round"/>
<path d="M386.2,319.0 C386.2,318.7 386.2,317.6 386.1,316.9 C386.1,316.2 386.1,315.5 386.0,314.8 C385.9,314.1 385.8,313.4 385.7,312.7 C385.5,312.0 385.4,311.3 385.2,310.7 C385.0,310.0 384.8,309.3 384.6,308.6 C384.3,308.0 384.0,307.0 383.9,306.6" stroke="#13f811" stroke-width="0.28" fill="none" opacity="0.44" stroke-linecap="round"/>
<path d="M372.1,326.2 C372.0,325.4 371.2,323.0 371.0,321.4 C370.9,319.8 371.3,318.1 371.2,316.5 C371.2,314.8 370.9,313.2 370.6,311.6 C370.4,309.9 369.9,308.3 369.7,306.7 C369.5,305.1 369.6,303.4 369.2,301.8 C368.8,300.2 367.6,298.0 367.3,297.2" stroke="#0ce80b" stroke-width="0.34" fill="none" opacity="0.73" stroke-linecap="round"/>
<path d="M370.6,311.6 C370.7,311.0 370.8,309.4 370.8,308.4 C370.8,307.3 370.7,306.3 370.6,305.2 C370.5,304.2 370.5,303.1 370.5,302.0 C370.5,301.0 370.4,299.9 370.5,298.9 C370.6,297.8 370.7,296.7 371.0,295.7 C371.2,294.7 371.8,293.2 371.9,292.7" stroke="#0ce80b" stroke-width="0.28" fill="none" opacity="0.62" stroke-linecap="round"/>
<path d="M374.9,327.8 C375.4,326.7 376.7,323.3 377.4,321.0 C378.1,318.6 378.5,316.2 379.0,313.9 C379.6,311.5 380.4,309.2 380.8,306.8 C381.2,304.4 380.7,301.9 381.2,299.6 C381.7,297.2 382.9,295.0 383.7,292.7 C384.5,290.4 385.6,287.0 386.0,285.8" stroke="#09d008" stroke-width="0.26" fill="none" opacity="0.90" stroke-linecap="round"/>
<path d="M380.8,306.8 C380.7,306.1 380.4,304.1 380.2,302.8 C379.9,301.4 379.3,300.1 379.1,298.8 C378.8,297.4 379.0,296.0 378.7,294.7 C378.5,293.3 377.8,292.0 377.6,290.7 C377.3,289.4 377.5,287.9 377.2,286.6 C376.8,285.3 375.9,283.4 375.6,282.8" stroke="#09d008" stroke-width="0.20" fill="none" opacity="0.76" stroke-linecap="round"/>
<path d="M376.1,324.7 C376.1,324.0 376.1,321.7 375.9,320.2 C375.8,318.7 375.4,317.2 375.3,315.7 C375.3,314.2 375.7,312.7 375.7,311.2 C375.6,309.7 375.1,308.2 375.1,306.7 C375.1,305.2 375.8,303.7 375.9,302.2 C376.0,300.7 375.8,298.5 375.8,297.7" stroke="#09d008" stroke-width="0.26" fill="none" opacity="0.90" stroke-linecap="round"/>
<path d="M375.3,315.7 C375.4,315.3 375.9,314.3 376.1,313.5 C376.2,312.8 375.9,312.0 376.0,311.3 C376.1,310.5 376.5,309.8 376.6,309.1 C376.8,308.3 376.7,307.5 376.9,306.8 C377.1,306.1 377.6,305.4 377.7,304.6 C377.8,303.9 377.8,302.7 377.8,302.4" stroke="#09d008" stroke-width="0.21" fill="none" opacity="0.77" stroke-linecap="round"/>
<path d="M395.1,323.4 C394.8,322.8 393.8,320.9 393.3,319.6 C392.7,318.3 392.0,317.0 391.8,315.6 C391.6,314.3 392.2,312.8 392.0,311.4 C391.8,310.0 391.2,308.7 390.8,307.3 C390.5,305.9 390.4,304.5 390.0,303.1 C389.6,301.8 388.7,299.8 388.5,299.2" stroke="#13f811" stroke-width="0.34" fill="none" opacity="0.72" stroke-linecap="round"/>
<path d="M391.8,315.6 C391.8,315.2 392.1,313.9 392.1,313.1 C392.2,312.2 392.1,311.3 392.1,310.5 C392.1,309.6 391.9,308.7 391.9,307.9 C392.0,307.0 392.2,306.2 392.3,305.3 C392.4,304.4 392.3,303.6 392.4,302.7 C392.4,301.8 392.6,300.5 392.7,300.1" stroke="#13f811" stroke-width="0.27" fill="none" opacity="0.61" stroke-linecap="round"/>
<path d="M385.1,323.7 C385.0,322.6 385.0,319.2 384.7,316.9 C384.4,314.7 384.0,312.4 383.4,310.2 C382.8,308.0 381.5,306.0 381.0,303.8 C380.5,301.6 380.3,299.3 380.3,297.0 C380.3,294.8 381.2,292.5 381.1,290.2 C381.0,288.0 380.2,284.6 380.0,283.5" stroke="#0ce80b" stroke-width="0.29" fill="none" opacity="0.86" stroke-linecap="round"/>
<path d="M381.0,303.8 C380.8,303.1 380.3,300.8 379.7,299.3 C379.2,297.9 378.4,296.5 377.6,295.1 C376.8,293.8 375.6,292.7 374.8,291.4 C373.9,290.1 373.2,288.7 372.5,287.3 C371.8,285.9 371.4,284.4 370.7,283.0 C370.0,281.6 368.5,279.8 368.1,279.1" stroke="#0ce80b" stroke-width="0.24" fill="none" opacity="0.73" stroke-linecap="round"/>
<path d="M404.9,319.6 C405.3,318.7 406.3,315.6 407.3,313.8 C408.3,311.9 410.0,310.4 410.8,308.5 C411.6,306.6 411.2,304.2 411.9,302.3 C412.6,300.3 414.1,298.6 415.0,296.7 C415.9,294.8 416.6,292.8 417.4,290.8 C418.1,288.9 419.2,285.9 419.6,284.9" stroke="#0ce80b" stroke-width="0.42" fill="none" opacity="0.64" stroke-linecap="round"/>
<path d="M410.8,308.5 C411.2,307.9 412.1,306.0 412.9,304.9 C413.7,303.8 414.7,302.8 415.8,301.9 C416.8,301.0 418.0,300.2 419.1,299.4 C420.2,298.6 421.3,297.7 422.5,297.0 C423.6,296.2 425.0,295.6 425.9,294.6 C426.8,293.6 427.7,291.6 428.0,291.0" stroke="#0ce80b" stroke-width="0.34" fill="none" opacity="0.55" stroke-linecap="round"/>
<path d="M385.7,332.7 C385.4,331.8 384.5,329.2 384.0,327.4 C383.6,325.6 383.2,323.8 382.9,322.0 C382.7,320.1 382.7,318.3 382.5,316.5 C382.3,314.6 382.0,312.8 381.6,311.0 C381.2,309.2 380.5,307.5 380.2,305.7 C379.8,303.9 379.7,301.1 379.6,300.2" stroke="#0ce80b" stroke-width="0.31" fill="none" opacity="0.33" stroke-linecap="round"/>
<path d="M382.5,316.5 C382.6,315.9 382.8,314.2 383.2,313.1 C383.5,312.0 384.3,311.1 384.6,310.0 C384.8,308.9 384.5,307.7 384.5,306.5 C384.6,305.4 384.9,304.3 385.0,303.1 C385.1,302.0 384.8,300.8 385.0,299.7 C385.2,298.6 385.9,297.0 386.1,296.5" stroke="#0ce80b" stroke-width="0.25" fill="none" opacity="0.28" stroke-linecap="round"/>
<path d="M399.2,322.7 C399.5,321.9 400.5,319.5 401.4,318.0 C402.3,316.5 403.6,315.3 404.5,313.8 C405.4,312.3 406.1,310.7 406.6,309.0 C407.2,307.4 407.3,305.6 407.6,303.9 C408.0,302.2 408.5,300.5 409.0,298.9 C409.5,297.2 410.4,294.8 410.7,293.9" stroke="#13f811" stroke-width="0.45" fill="none" opacity="0.90" stroke-linecap="round"/>
<path d="M404.5,313.8 C404.4,313.2 404.2,311.5 404.2,310.4 C404.2,309.3 404.3,308.2 404.6,307.0 C404.8,305.9 405.2,304.9 405.5,303.8 C405.8,302.7 406.3,301.6 406.4,300.5 C406.5,299.4 406.1,298.3 406.0,297.2 C405.9,296.0 405.8,294.4 405.8,293.8" stroke="#13f811" stroke-width="0.36" fill="none" opacity="0.76" stroke-linecap="round"/>
<path d="M405.2,322.2 C405.3,321.1 405.8,317.5 406.1,315.2 C406.3,312.8 406.3,310.4 406.5,308.1 C406.7,305.7 407.2,303.4 407.5,301.0 C407.8,298.7 407.8,296.2 408.4,294.0 C408.9,291.7 410.3,289.6 410.9,287.3 C411.5,285.0 412.0,281.5 412.2,280.3" stroke="#0ce80b" stroke-width="0.28" fill="none" opacity="0.86" stroke-linecap="round"/>
<path d="M407.5,301.0 C408.0,300.5 409.4,299.0 410.2,297.8 C411.0,296.7 411.5,295.4 412.3,294.2 C413.1,293.1 414.3,292.3 415.1,291.2 C415.9,290.0 416.3,288.7 417.0,287.5 C417.7,286.3 418.6,285.2 419.3,284.0 C420.0,282.8 420.9,280.9 421.2,280.3" stroke="#0ce80b" stroke-width="0.22" fill="none" opacity="0.73" stroke-linecap="round"/>
<path d="M368.5,324.2 C368.7,322.6 369.0,317.9 369.7,314.9 C370.4,311.8 372.2,308.9 372.5,305.9 C372.8,302.8 371.4,299.6 371.7,296.5 C372.0,293.5 373.4,290.5 374.3,287.5 C375.1,284.5 375.8,281.4 376.7,278.4 C377.6,275.4 379.1,271.0 379.5,269.5" stroke="#0ce80b" stroke-width="0.46" fill="none" opacity="0.48" stroke-linecap="round"/>
<path d="M371.7,296.5 C372.1,295.6 372.9,292.8 373.8,291.1 C374.7,289.3 376.0,287.8 376.9,286.1 C377.8,284.3 378.4,282.5 379.3,280.7 C380.1,278.9 381.1,277.3 381.8,275.4 C382.6,273.6 383.0,271.7 383.7,269.9 C384.3,268.0 385.5,265.3 385.8,264.4" stroke="#0ce80b" stroke-width="0.37" fill="none" opacity="0.41" stroke-linecap="round"/>
<path d="M367.9,326.6 C367.9,325.9 368.0,323.7 368.0,322.3 C368.1,320.9 368.0,319.4 368.3,318.0 C368.6,316.7 369.7,315.4 369.9,314.1 C370.1,312.7 369.6,311.2 369.5,309.8 C369.4,308.4 369.1,306.9 369.2,305.5 C369.3,304.1 370.0,302.1 370.2,301.4" stroke="#0ce80b" stroke-width="0.38" fill="none" opacity="0.44" stroke-linecap="round"/>
<path d="M368.3,318.0 C368.4,317.7 368.8,316.7 369.1,316.1 C369.4,315.5 369.8,314.9 370.1,314.3 C370.5,313.6 370.8,313.0 371.1,312.4 C371.4,311.8 371.6,311.1 372.0,310.5 C372.4,309.9 373.0,309.5 373.4,308.9 C373.8,308.3 374.3,307.4 374.5,307.1" stroke="#0ce80b" stroke-width="0.30" fill="none" opacity="0.37" stroke-linecap="round"/>
<path d="M381.0,332.5 C381.0,331.3 381.0,327.8 380.9,325.5 C380.9,323.1 381.2,320.8 380.9,318.5 C380.5,316.2 379.6,314.0 379.0,311.7 C378.3,309.5 377.5,307.3 376.8,305.0 C376.2,302.8 375.8,300.5 375.1,298.3 C374.3,296.1 372.9,292.8 372.5,291.8" stroke="#09d008" stroke-width="0.50" fill="none" opacity="0.32" stroke-linecap="round"/>
<path d="M379.0,311.7 C378.9,311.1 378.6,309.4 378.7,308.2 C378.7,307.1 379.2,305.9 379.5,304.8 C379.9,303.7 380.4,302.6 380.8,301.5 C381.1,300.4 381.5,299.3 381.7,298.2 C381.9,297.0 381.8,295.8 382.0,294.6 C382.2,293.5 382.7,291.8 382.9,291.2" stroke="#09d008" stroke-width="0.40" fill="none" opacity="0.27" stroke-linecap="round"/>
<path d="M398.6,322.9 C399.1,322.0 400.8,319.4 402.0,317.7 C403.2,316.0 404.6,314.5 405.7,312.8 C406.9,311.1 407.6,309.1 408.6,307.3 C409.7,305.5 411.0,303.9 412.0,302.1 C413.0,300.3 413.6,298.3 414.8,296.6 C416.0,294.9 418.3,292.8 419.0,292.0" stroke="#13f811" stroke-width="0.45" fill="none" opacity="0.44" stroke-linecap="round"/>
<path d="M408.6,307.3 C408.9,307.0 409.9,306.1 410.5,305.5 C411.2,304.9 411.9,304.4 412.6,303.8 C413.2,303.2 413.9,302.7 414.6,302.1 C415.2,301.5 415.8,300.8 416.5,300.3 C417.2,299.8 418.2,299.7 418.9,299.3 C419.7,298.9 420.8,298.2 421.2,298.0" stroke="#13f811" stroke-width="0.36" fill="none" opacity="0.38" stroke-linecap="round"/>
<path d="M384.7,330.8 C385.1,330.0 386.7,327.5 387.5,325.7 C388.3,324.0 388.5,322.0 389.3,320.2 C390.2,318.5 391.5,317.0 392.5,315.4 C393.5,313.7 394.3,311.9 395.3,310.2 C396.3,308.6 397.6,307.1 398.6,305.5 C399.6,303.8 400.9,301.2 401.3,300.3" stroke="#0ce80b" stroke-width="0.49" fill="none" opacity="0.56" stroke-linecap="round"/>
<path d="M389.3,320.2 C389.3,319.7 389.0,318.3 389.0,317.3 C388.9,316.3 389.1,315.3 389.2,314.3 C389.3,313.3 389.4,312.4 389.6,311.4 C389.7,310.4 390.0,309.4 390.0,308.4 C390.0,307.5 389.8,306.5 389.8,305.5 C389.9,304.5 390.3,303.0 390.3,302.6" stroke="#0ce80b" stroke-width="0.39" fill="none" opacity="0.47" stroke-linecap="round"/>
<path d="M399.6,336.1 C399.5,335.4 399.4,333.2 399.2,331.8 C398.9,330.3 398.4,329.0 398.1,327.5 C397.8,326.1 397.6,324.6 397.5,323.2 C397.3,321.8 397.3,320.3 397.1,318.9 C396.8,317.4 396.1,316.1 396.0,314.6 C395.9,313.2 396.3,311.0 396.4,310.3" stroke="#0ce80b" stroke-width="0.30" fill="none" opacity="0.54" stroke-linecap="round"/>
<path d="M397.5,323.2 C397.3,322.7 397.0,321.2 396.7,320.3 C396.4,319.3 395.9,318.4 395.5,317.5 C395.1,316.6 394.9,315.6 394.4,314.7 C393.9,313.8 393.2,313.1 392.7,312.2 C392.2,311.3 392.0,310.3 391.5,309.4 C391.0,308.6 390.0,307.4 389.7,307.0" stroke="#0ce80b" stroke-width="0.24" fill="none" opacity="0.46" stroke-linecap="round"/>
<path d="M382.5,332.9 C382.4,332.4 382.1,330.8 381.7,329.8 C381.4,328.8 380.8,327.9 380.4,326.9 C380.1,325.9 379.8,324.8 379.6,323.8 C379.4,322.8 379.4,321.6 379.1,320.6 C378.7,319.6 378.1,318.7 377.6,317.8 C377.2,316.8 376.5,315.4 376.3,314.9" stroke="#0ce80b" stroke-width="0.27" fill="none" opacity="0.76" stroke-linecap="round"/>
<path d="M379.6,323.8 C379.6,323.6 379.4,322.8 379.4,322.4 C379.3,321.9 379.4,321.4 379.4,320.9 C379.4,320.4 379.4,319.9 379.4,319.4 C379.4,319.0 379.3,318.5 379.4,318.0 C379.4,317.5 379.5,317.0 379.6,316.6 C379.6,316.1 379.8,315.4 379.8,315.1" stroke="#0ce80b" stroke-width="0.22" fill="none" opacity="0.64" stroke-linecap="round"/>
<path d="M376.3,319.7 C376.3,319.2 376.5,317.7 376.4,316.8 C376.3,315.9 375.8,315.0 375.7,314.0 C375.5,313.1 375.4,312.1 375.3,311.2 C375.2,310.2 375.2,309.3 375.2,308.3 C375.2,307.4 375.3,306.4 375.3,305.5 C375.3,304.5 375.2,303.1 375.1,302.6" stroke="#09d008" stroke-width="0.27" fill="none" opacity="0.39" stroke-linecap="round"/>
<path d="M375.7,314.0 C375.6,313.8 375.3,313.0 375.1,312.5 C374.9,312.0 374.6,311.5 374.3,311.0 C374.0,310.5 373.7,310.1 373.3,309.7 C373.0,309.2 372.5,308.9 372.2,308.4 C371.9,308.0 371.7,307.4 371.5,306.9 C371.2,306.4 371.0,305.6 370.9,305.4" stroke="#09d008" stroke-width="0.22" fill="none" opacity="0.33" stroke-linecap="round"/>
<path d="M370.3,326.9 C370.4,325.7 370.4,322.2 371.0,319.9 C371.5,317.7 373.0,315.7 373.5,313.4 C374.0,311.2 373.7,308.8 373.7,306.5 C373.7,304.1 373.5,301.8 373.4,299.5 C373.3,297.2 373.0,294.8 373.2,292.5 C373.5,290.2 374.8,286.9 375.1,285.8" stroke="#0ce80b" stroke-width="0.31" fill="none" opacity="0.35" stroke-linecap="round"/>
<path d="M373.7,306.5 C373.5,305.9 372.6,304.2 372.4,303.0 C372.2,301.8 372.5,300.5 372.5,299.3 C372.4,298.1 372.3,296.8 372.0,295.6 C371.8,294.4 371.4,293.2 371.1,292.0 C370.8,290.8 370.6,289.6 370.3,288.4 C369.9,287.2 369.1,285.5 368.9,285.0" stroke="#0ce80b" stroke-width="0.25" fill="none" opacity="0.29" stroke-linecap="round"/>
<path d="M390.2,322.2 C390.5,321.2 391.7,318.3 392.2,316.2 C392.7,314.2 392.7,312.1 393.2,310.1 C393.6,308.0 394.2,306.1 394.8,304.1 C395.4,302.1 396.4,300.2 396.8,298.1 C397.2,296.1 397.1,294.0 397.3,291.9 C397.5,289.9 397.8,286.8 397.9,285.7" stroke="#09d008" stroke-width="0.43" fill="none" opacity="0.51" stroke-linecap="round"/>
<path d="M393.2,310.1 C393.1,309.4 392.7,307.3 392.5,305.9 C392.3,304.5 392.2,303.1 392.2,301.7 C392.2,300.2 392.5,298.8 392.5,297.4 C392.5,296.0 392.4,294.6 392.4,293.2 C392.5,291.8 392.9,290.4 392.8,289.0 C392.7,287.6 392.1,285.5 391.9,284.8" stroke="#09d008" stroke-width="0.35" fill="none" opacity="0.43" stroke-linecap="round"/>
<path d="M370.8,320.3 C370.9,318.7 370.8,313.9 371.2,310.8 C371.5,307.7 372.2,304.6 372.8,301.5 C373.4,298.4 374.1,295.3 374.8,292.2 C375.6,289.1 377.1,286.1 377.2,283.0 C377.4,279.9 376.1,276.8 375.9,273.7 C375.7,270.5 376.0,265.8 376.0,264.2" stroke="#13f811" stroke-width="0.38" fill="none" opacity="0.45" stroke-linecap="round"/>
<path d="M372.8,301.5 C373.3,300.6 375.0,298.3 375.8,296.5 C376.6,294.8 377.0,292.9 377.8,291.2 C378.7,289.4 380.1,287.9 380.7,286.2 C381.3,284.4 381.0,282.3 381.5,280.5 C382.0,278.6 383.2,277.0 383.9,275.2 C384.6,273.4 385.4,270.7 385.7,269.8" stroke="#13f811" stroke-width="0.31" fill="none" opacity="0.38" stroke-linecap="round"/>
<path d="M401.7,334.4 C401.8,333.9 401.7,332.3 402.0,331.3 C402.2,330.3 402.9,329.4 403.3,328.4 C403.6,327.4 403.7,326.3 403.9,325.3 C404.2,324.3 404.6,323.3 404.8,322.3 C405.0,321.2 405.0,320.1 405.1,319.1 C405.3,318.1 405.6,316.5 405.6,316.0" stroke="#13f811" stroke-width="0.33" fill="none" opacity="0.57" stroke-linecap="round"/>
<path d="M403.3,328.4 C403.2,328.2 403.0,327.4 402.9,326.9 C402.9,326.4 402.9,325.9 402.9,325.4 C402.9,324.8 402.9,324.3 402.8,323.8 C402.6,323.3 402.2,322.9 402.1,322.4 C401.9,321.9 401.9,321.4 401.8,320.9 C401.8,320.4 401.7,319.6 401.7,319.4" stroke="#13f811" stroke-width="0.27" fill="none" opacity="0.49" stroke-linecap="round"/>
<path d="M367.4,329.5 C367.2,328.3 366.5,324.7 366.4,322.2 C366.3,319.8 366.6,317.3 366.9,314.9 C367.3,312.5 368.3,310.2 368.6,307.8 C368.9,305.3 368.8,302.9 368.9,300.4 C369.0,298.0 369.4,295.5 369.3,293.1 C369.2,290.7 368.5,287.0 368.4,285.8" stroke="#13f811" stroke-width="0.38" fill="none" opacity="0.34" stroke-linecap="round"/>
<path d="M366.9,314.9 C366.6,314.2 365.2,312.2 364.6,310.7 C364.0,309.2 363.9,307.6 363.4,306.1 C363.0,304.6 362.3,303.1 361.7,301.6 C361.0,300.2 360.2,298.8 359.5,297.3 C358.8,295.9 358.2,294.4 357.4,293.0 C356.7,291.6 355.3,289.7 354.9,289.0" stroke="#13f811" stroke-width="0.31" fill="none" opacity="0.29" stroke-linecap="round"/>
<path d="M393.5,328.3 C393.1,326.7 391.8,321.8 390.6,318.7 C389.4,315.6 387.2,312.9 386.3,309.7 C385.4,306.6 385.7,303.1 385.2,299.8 C384.8,296.5 384.0,293.2 383.6,289.9 C383.2,286.6 383.5,283.2 382.9,280.0 C382.4,276.7 380.6,272.0 380.1,270.4" stroke="#13f811" stroke-width="0.36" fill="none" opacity="0.71" stroke-linecap="round"/>
<path d="M386.3,309.7 C385.7,308.8 383.8,306.0 382.8,303.9 C381.8,301.9 381.7,299.5 380.6,297.5 C379.5,295.6 377.6,294.1 376.2,292.4 C374.8,290.6 373.5,288.8 372.1,287.0 C370.7,285.2 369.3,283.4 368.0,281.6 C366.6,279.8 364.6,277.1 363.9,276.2" stroke="#13f811" stroke-width="0.29" fill="none" opacity="0.61" stroke-linecap="round"/>
<path d="M370.6,325.0 C370.8,324.3 371.3,322.2 371.5,320.7 C371.6,319.3 371.3,317.8 371.6,316.4 C371.9,315.0 372.9,313.8 373.3,312.4 C373.6,311.0 373.7,309.6 373.8,308.1 C373.9,306.7 373.8,305.2 374.0,303.8 C374.2,302.4 374.9,300.3 375.1,299.6" stroke="#09d008" stroke-width="0.37" fill="none" opacity="0.85" stroke-linecap="round"/>
<path d="M371.6,316.4 C371.6,315.9 371.9,314.5 372.0,313.5 C372.1,312.5 371.9,311.5 371.9,310.5 C371.9,309.6 371.9,308.6 371.9,307.6 C372.0,306.6 371.9,305.6 372.0,304.6 C372.1,303.7 372.2,302.7 372.4,301.7 C372.6,300.8 372.8,299.3 372.9,298.8" stroke="#09d008" stroke-width="0.29" fill="none" opacity="0.72" stroke-linecap="round"/>
<path d="M392.3,319.4 C392.9,318.1 394.6,314.2 395.8,311.6 C397.0,309.0 398.5,306.6 399.6,303.9 C400.6,301.3 401.7,298.5 402.2,295.8 C402.7,293.0 402.1,289.9 402.7,287.2 C403.3,284.4 404.9,281.9 405.9,279.2 C406.9,276.6 408.0,272.4 408.4,271.0" stroke="#0ce80b" stroke-width="0.33" fill="none" opacity="0.60" stroke-linecap="round"/>
<path d="M399.6,303.9 C400.1,303.6 401.6,302.8 402.4,302.0 C403.2,301.2 403.6,300.0 404.2,299.0 C404.8,298.0 405.2,296.9 405.9,296.0 C406.7,295.2 407.8,294.6 408.6,293.8 C409.3,293.0 409.9,291.9 410.7,291.1 C411.5,290.3 413.0,289.4 413.5,289.1" stroke="#0ce80b" stroke-width="0.26" fill="none" opacity="0.51" stroke-linecap="round"/>
<path d="M385.6,323.5 C385.8,323.0 386.4,321.7 386.7,320.8 C386.9,319.9 387.0,318.9 387.4,318.1 C387.7,317.2 388.4,316.5 388.8,315.6 C389.2,314.7 389.5,313.8 389.9,313.0 C390.2,312.1 390.6,311.2 391.0,310.4 C391.4,309.5 392.1,308.2 392.3,307.8" stroke="#13f811" stroke-width="0.30" fill="none" opacity="0.57" stroke-linecap="round"/>
<path d="M388.8,315.6 C388.9,315.5 389.3,315.0 389.6,314.8 C389.9,314.5 390.3,314.3 390.5,314.0 C390.8,313.7 391.0,313.3 391.2,313.0 C391.4,312.6 391.6,312.3 391.9,312.0 C392.1,311.7 392.4,311.4 392.6,311.1 C392.9,310.8 393.2,310.3 393.3,310.1" stroke="#13f811" stroke-width="0.24" fill="none" opacity="0.48" stroke-linecap="round"/>
<path d="M376.9,323.1 C376.8,322.4 376.4,320.4 376.2,319.0 C376.0,317.7 375.7,316.3 375.6,314.9 C375.5,313.6 375.5,312.2 375.4,310.8 C375.3,309.4 375.3,308.0 375.0,306.7 C374.8,305.3 374.4,304.0 374.1,302.6 C373.7,301.3 373.3,299.2 373.2,298.6" stroke="#0ce80b" stroke-width="0.26" fill="none" opacity="0.50" stroke-linecap="round"/>
<path d="M375.6,314.9 C375.5,314.6 375.2,313.6 375.0,312.9 C374.8,312.2 374.5,311.6 374.3,310.9 C374.1,310.2 374.2,309.4 373.9,308.8 C373.7,308.1 373.1,307.6 372.8,307.0 C372.5,306.3 372.4,305.6 372.1,305.0 C371.8,304.3 371.3,303.4 371.1,303.1" stroke="#0ce80b" stroke-width="0.20" fill="none" opacity="0.43" stroke-linecap="round"/>
<path d="M407.3,328.3 C407.7,327.1 408.5,323.1 409.5,320.7 C410.6,318.3 412.6,316.3 413.6,313.9 C414.5,311.5 414.7,308.8 415.2,306.2 C415.7,303.6 416.0,300.9 416.4,298.3 C416.7,295.7 417.2,293.1 417.5,290.5 C417.8,287.8 418.2,283.9 418.3,282.6" stroke="#13f811" stroke-width="0.49" fill="none" opacity="0.79" stroke-linecap="round"/>
<path d="M413.6,313.9 C414.0,313.3 415.2,311.5 416.2,310.4 C417.1,309.2 418.4,308.4 419.3,307.2 C420.2,306.1 420.7,304.6 421.6,303.4 C422.5,302.3 423.6,301.3 424.6,300.2 C425.6,299.1 426.5,298.0 427.6,296.9 C428.7,295.9 430.4,294.6 431.0,294.2" stroke="#13f811" stroke-width="0.39" fill="none" opacity="0.67" stroke-linecap="round"/>
<path d="M396.8,334.9 C396.7,333.8 396.7,330.4 396.2,328.2 C395.6,326.1 394.4,324.1 393.5,322.1 C392.6,320.1 391.7,318.0 390.8,316.0 C389.9,313.9 388.7,312.0 388.2,309.9 C387.7,307.7 388.1,305.4 387.8,303.2 C387.6,301.0 386.9,297.7 386.7,296.6" stroke="#09d008" stroke-width="0.38" fill="none" opacity="0.74" stroke-linecap="round"/>
<path d="M393.5,322.1 C393.7,321.4 394.5,319.5 394.8,318.1 C395.2,316.8 395.2,315.3 395.5,314.0 C395.8,312.6 396.4,311.3 396.7,309.9 C397.0,308.6 397.0,307.2 397.2,305.8 C397.3,304.4 397.4,303.0 397.6,301.6 C397.9,300.2 398.6,298.2 398.8,297.5" stroke="#09d008" stroke-width="0.31" fill="none" opacity="0.63" stroke-linecap="round"/>
<path d="M395.9,322.4 C395.8,321.8 395.6,320.0 395.4,318.8 C395.2,317.6 394.8,316.4 394.6,315.2 C394.5,314.0 394.8,312.7 394.6,311.5 C394.5,310.4 393.7,309.3 393.5,308.1 C393.2,306.9 393.2,305.7 393.2,304.4 C393.2,303.2 393.2,301.4 393.2,300.8" stroke="#0ce80b" stroke-width="0.28" fill="none" opacity="0.48" stroke-linecap="round"/>
<path d="M394.6,311.5 C394.7,311.2 395.2,310.1 395.2,309.3 C395.3,308.6 394.9,307.8 394.9,307.0 C394.9,306.3 395.2,305.5 395.3,304.7 C395.4,304.0 395.4,303.2 395.5,302.4 C395.6,301.7 395.9,300.9 396.0,300.2 C396.1,299.4 396.1,298.3 396.1,297.9" stroke="#0ce80b" stroke-width="0.22" fill="none" opacity="0.41" stroke-linecap="round"/>
<path d="M406.2,334.2 C406.2,333.3 406.5,330.5 406.3,328.6 C406.0,326.8 405.3,325.0 404.7,323.2 C404.2,321.4 403.2,319.7 403.0,317.8 C402.8,316.0 403.5,314.1 403.5,312.2 C403.4,310.4 403.0,308.5 402.8,306.6 C402.7,304.8 402.7,302.0 402.7,301.0" stroke="#13f811" stroke-width="0.39" fill="none" opacity="0.43" stroke-linecap="round"/>
<path d="M404.7,323.2 C404.5,322.7 403.8,321.0 403.3,319.9 C402.9,318.8 402.5,317.7 402.1,316.6 C401.7,315.5 401.3,314.4 400.9,313.2 C400.6,312.1 400.3,311.0 399.9,309.9 C399.5,308.7 399.0,307.7 398.6,306.5 C398.2,305.4 397.8,303.7 397.7,303.1" stroke="#13f811" stroke-width="0.31" fill="none" opacity="0.37" stroke-linecap="round"/>
<path d="M381.2,333.2 C381.5,332.4 382.3,330.1 382.8,328.6 C383.4,327.0 384.1,325.5 384.5,323.9 C384.9,322.4 384.7,320.6 385.2,319.1 C385.6,317.5 386.3,316.0 387.1,314.5 C387.9,313.1 389.2,311.9 389.8,310.5 C390.4,309.0 390.5,306.4 390.7,305.6" stroke="#0ce80b" stroke-width="0.36" fill="none" opacity="0.33" stroke-linecap="round"/>
<path d="M384.5,323.9 C384.8,323.7 385.6,323.0 386.2,322.6 C386.7,322.1 387.3,321.7 387.8,321.2 C388.4,320.8 389.0,320.3 389.5,319.9 C390.1,319.4 390.5,318.8 391.0,318.3 C391.5,317.7 392.1,317.3 392.5,316.7 C392.9,316.1 393.3,315.1 393.4,314.8" stroke="#0ce80b" stroke-width="0.29" fill="none" opacity="0.28" stroke-linecap="round"/>
<path d="M379.2,321.8 C379.4,320.9 380.5,318.2 380.7,316.3 C380.8,314.5 380.1,312.6 380.1,310.7 C380.1,308.8 380.5,306.9 380.9,305.1 C381.2,303.2 381.7,301.4 382.2,299.6 C382.6,297.7 383.4,296.0 383.8,294.1 C384.1,292.3 384.0,289.4 384.1,288.5" stroke="#13f811" stroke-width="0.41" fill="none" opacity="0.50" stroke-linecap="round"/>
<path d="M380.1,310.7 C380.1,310.2 380.2,308.7 380.1,307.7 C379.9,306.8 379.5,305.8 379.3,304.8 C379.2,303.9 379.2,302.9 379.2,301.9 C379.2,300.9 379.4,299.9 379.2,298.9 C379.1,298.0 378.6,297.1 378.3,296.1 C378.0,295.2 377.7,293.7 377.6,293.2" stroke="#13f811" stroke-width="0.33" fill="none" opacity="0.43" stroke-linecap="round"/>
<path d="M384.0,323.6 C383.7,322.1 382.9,317.6 382.1,314.7 C381.4,311.8 379.8,309.1 379.2,306.1 C378.6,303.2 379.1,300.0 378.8,297.0 C378.5,294.0 377.6,291.0 377.4,288.0 C377.2,285.0 377.8,281.9 377.6,278.9 C377.3,275.9 376.3,271.5 376.0,270.0" stroke="#13f811" stroke-width="0.27" fill="none" opacity="0.47" stroke-linecap="round"/>
<path d="M379.2,306.1 C378.9,305.5 378.0,303.7 377.4,302.5 C376.8,301.3 376.3,300.1 375.6,298.9 C375.0,297.7 374.4,296.5 373.6,295.4 C372.8,294.3 371.7,293.5 370.8,292.5 C369.9,291.5 369.1,290.4 368.2,289.4 C367.3,288.4 366.0,286.9 365.6,286.4" stroke="#13f811" stroke-width="0.22" fill="none" opacity="0.40" stroke-linecap="round"/>
<path d="M378.2,325.8 C378.5,325.0 379.6,322.6 380.0,320.9 C380.4,319.2 380.2,317.4 380.5,315.7 C380.8,314.0 381.4,312.3 381.9,310.7 C382.4,309.0 383.3,307.4 383.7,305.8 C384.2,304.1 384.0,302.3 384.4,300.6 C384.7,298.9 385.6,296.4 385.9,295.6" stroke="#0ce80b" stroke-width="0.47" fill="none" opacity="0.95" stroke-linecap="round"/>
<path d="M380.5,315.7 C380.3,315.2 379.5,313.9 379.1,312.9 C378.8,312.0 378.5,311.0 378.3,310.0 C378.1,309.0 378.2,307.9 377.9,306.9 C377.6,305.9 376.8,305.1 376.6,304.1 C376.3,303.2 376.5,302.1 376.3,301.1 C376.2,300.1 375.7,298.6 375.5,298.1" stroke="#0ce80b" stroke-width="0.38" fill="none" opacity="0.80" stroke-linecap="round"/>
<path d="M387.2,335.5 C387.3,333.9 387.3,328.9 387.6,325.7 C387.9,322.4 388.8,319.2 389.1,315.9 C389.5,312.7 389.4,309.4 389.6,306.1 C389.7,302.8 389.7,299.5 390.0,296.3 C390.4,293.0 391.2,289.8 391.7,286.6 C392.2,283.3 392.7,278.4 392.9,276.8" stroke="#09d008" stroke-width="0.31" fill="none" opacity="0.61" stroke-linecap="round"/>
<path d="M389.1,315.9 C388.9,315.1 388.2,312.6 387.7,311.0 C387.3,309.3 386.7,307.7 386.2,306.1 C385.7,304.5 385.2,302.8 384.6,301.2 C384.1,299.6 383.4,298.0 382.8,296.4 C382.2,294.8 381.7,293.2 381.1,291.6 C380.5,290.0 379.4,287.6 379.1,286.9" stroke="#09d008" stroke-width="0.25" fill="none" opacity="0.52" stroke-linecap="round"/>
<path d="M384.2,319.8 C384.7,319.1 386.3,317.0 387.1,315.4 C387.8,313.9 388.3,312.2 388.7,310.5 C389.1,308.8 389.0,306.9 389.6,305.3 C390.2,303.7 391.4,302.3 392.1,300.7 C392.9,299.1 393.5,297.5 394.0,295.8 C394.5,294.1 394.9,291.5 395.0,290.7" stroke="#13f811" stroke-width="0.37" fill="none" opacity="0.71" stroke-linecap="round"/>
<path d="M389.6,305.3 C390.1,305.0 391.5,304.1 392.4,303.4 C393.3,302.7 394.1,301.9 394.9,301.2 C395.8,300.5 396.7,299.8 397.6,299.1 C398.5,298.5 399.5,297.9 400.3,297.1 C401.0,296.3 401.4,295.1 402.0,294.3 C402.7,293.4 403.9,292.2 404.3,291.8" stroke="#13f811" stroke-width="0.30" fill="none" opacity="0.60" stroke-linecap="round"/>
<path d="M397.0,327.5 C397.3,326.5 398.2,323.4 398.7,321.3 C399.2,319.2 399.9,317.1 400.0,315.0 C400.2,312.8 399.4,310.6 399.8,308.5 C400.2,306.4 401.9,304.6 402.5,302.6 C403.0,300.5 402.7,298.2 403.2,296.2 C403.8,294.1 405.3,291.2 405.7,290.2" stroke="#0ce80b" stroke-width="0.41" fill="none" opacity="0.40" stroke-linecap="round"/>
<path d="M400.0,315.0 C400.3,314.4 400.9,312.8 401.6,311.8 C402.2,310.8 403.2,310.0 403.8,309.0 C404.5,308.0 404.7,306.8 405.4,305.8 C406.1,304.9 407.3,304.5 408.1,303.6 C408.8,302.7 409.1,301.4 409.8,300.5 C410.5,299.5 411.8,298.3 412.2,297.8" stroke="#0ce80b" stroke-width="0.33" fill="none" opacity="0.34" stroke-linecap="round"/>
<path d="M370.3,328.8 C370.0,327.6 369.0,323.9 368.3,321.4 C367.6,319.0 366.6,316.6 366.0,314.1 C365.4,311.6 365.4,309.0 364.9,306.5 C364.4,304.0 363.8,301.5 363.3,299.0 C362.7,296.5 362.1,294.0 361.8,291.5 C361.4,288.9 361.3,285.1 361.2,283.8" stroke="#13f811" stroke-width="0.42" fill="none" opacity="0.30" stroke-linecap="round"/>
<path d="M364.9,306.5 C365.3,305.8 366.7,303.9 367.3,302.5 C367.9,301.1 368.4,299.6 368.8,298.1 C369.2,296.6 369.1,295.0 369.6,293.6 C370.1,292.1 370.9,290.8 371.7,289.4 C372.5,288.1 373.8,287.0 374.4,285.6 C374.9,284.2 375.1,281.9 375.3,281.1" stroke="#13f811" stroke-width="0.34" fill="none" opacity="0.25" stroke-linecap="round"/>
<path d="M392.2,329.3 C392.0,327.7 392.0,322.7 391.3,319.5 C390.6,316.3 389.0,313.3 388.1,310.2 C387.1,307.0 386.4,303.8 385.7,300.6 C384.9,297.4 384.3,294.2 383.3,291.0 C382.4,287.8 380.7,284.9 380.1,281.7 C379.4,278.5 379.5,273.5 379.4,271.8" stroke="#13f811" stroke-width="0.37" fill="none" opacity="0.52" stroke-linecap="round"/>
<path d="M388.1,310.2 C387.6,309.3 386.4,306.6 385.2,305.2 C384.0,303.7 382.2,302.7 380.8,301.4 C379.3,300.1 377.8,298.9 376.5,297.5 C375.2,296.1 374.3,294.3 373.0,292.9 C371.7,291.5 370.2,290.3 368.8,289.0 C367.4,287.7 365.3,285.6 364.6,285.0" stroke="#13f811" stroke-width="0.30" fill="none" opacity="0.44" stroke-linecap="round"/>
<path d="M367.2,332.7 C367.2,332.1 367.0,330.4 367.0,329.2 C367.0,328.1 367.0,326.9 367.1,325.7 C367.2,324.6 367.3,323.4 367.5,322.3 C367.7,321.1 368.1,320.0 368.3,318.8 C368.4,317.7 368.4,316.5 368.5,315.3 C368.6,314.2 368.9,312.5 369.0,311.9" stroke="#13f811" stroke-width="0.43" fill="none" opacity="0.41" stroke-linecap="round"/>
<path d="M367.1,325.7 C367.2,325.5 367.5,324.9 367.7,324.5 C367.9,324.1 368.3,323.7 368.5,323.3 C368.7,322.9 368.6,322.4 368.8,321.9 C369.0,321.5 369.3,321.1 369.5,320.7 C369.7,320.3 369.8,319.8 370.1,319.4 C370.3,319.0 370.7,318.5 370.9,318.3" stroke="#13f811" stroke-width="0.34" fill="none" opacity="0.35" stroke-linecap="round"/>
<path d="M375.6,328.0 C375.9,327.2 376.8,324.7 377.4,323.1 C378.1,321.4 379.2,320.0 379.7,318.3 C380.2,316.6 379.7,314.7 380.2,313.0 C380.7,311.3 382.1,310.0 382.6,308.3 C383.2,306.7 383.0,304.8 383.3,303.1 C383.6,301.3 384.2,298.8 384.4,297.9" stroke="#09d008" stroke-width="0.30" fill="none" opacity="0.91" stroke-linecap="round"/>
<path d="M379.7,318.3 C379.5,317.9 378.7,316.6 378.5,315.7 C378.3,314.8 378.7,313.8 378.4,312.9 C378.2,312.0 377.5,311.2 377.2,310.3 C376.8,309.5 376.6,308.5 376.3,307.6 C375.9,306.8 375.4,306.0 375.0,305.1 C374.6,304.3 374.1,302.9 373.9,302.5" stroke="#09d008" stroke-width="0.24" fill="none" opacity="0.77" stroke-linecap="round"/>
<path d="M373.0,326.2 C373.4,325.3 374.7,322.8 375.6,321.1 C376.6,319.4 377.5,317.7 378.6,316.1 C379.7,314.6 381.4,313.4 382.3,311.7 C383.2,310.1 383.5,308.1 384.1,306.2 C384.6,304.4 384.8,302.4 385.4,300.6 C386.0,298.8 387.2,296.2 387.6,295.3" stroke="#0ce80b" stroke-width="0.44" fill="none" opacity="0.33" stroke-linecap="round"/>
<path d="M378.6,316.1 C379.0,315.7 380.4,314.4 381.3,313.5 C382.2,312.7 383.1,311.8 384.1,311.0 C385.1,310.3 386.2,309.7 387.2,308.9 C388.2,308.1 389.1,307.3 390.1,306.5 C391.1,305.7 392.1,305.0 393.2,304.3 C394.2,303.5 395.7,302.5 396.2,302.1" stroke="#0ce80b" stroke-width="0.35" fill="none" opacity="0.28" stroke-linecap="round"/>
<path d="M379.8,319.6 C380.0,318.5 380.8,315.2 381.1,313.0 C381.4,310.8 381.5,308.5 381.5,306.2 C381.5,304.0 381.3,301.7 381.1,299.5 C380.8,297.2 380.3,295.0 380.2,292.8 C380.1,290.5 380.6,288.3 380.7,286.0 C380.7,283.8 380.7,280.4 380.7,279.2" stroke="#13f811" stroke-width="0.36" fill="none" opacity="0.62" stroke-linecap="round"/>
<path d="M381.1,299.5 C380.7,299.0 379.5,297.7 378.9,296.8 C378.3,295.8 377.8,294.7 377.3,293.7 C376.7,292.7 375.9,291.8 375.5,290.7 C375.0,289.7 374.8,288.5 374.4,287.4 C374.1,286.3 373.8,285.2 373.3,284.2 C372.7,283.2 371.4,281.9 371.1,281.5" stroke="#13f811" stroke-width="0.29" fill="none" opacity="0.52" stroke-linecap="round"/>
<path d="M404.5,329.0 C404.5,328.4 404.6,326.5 404.4,325.4 C404.1,324.3 403.3,323.3 402.8,322.2 C402.3,321.2 401.6,320.1 401.4,319.0 C401.1,317.9 401.6,316.6 401.3,315.5 C401.0,314.3 400.1,313.4 399.8,312.3 C399.4,311.2 399.4,309.3 399.3,308.8" stroke="#0ce80b" stroke-width="0.27" fill="none" opacity="0.45" stroke-linecap="round"/>
<path d="M401.4,319.0 C401.4,318.7 401.4,317.8 401.5,317.2 C401.6,316.6 401.8,316.0 402.0,315.5 C402.2,314.9 402.4,314.3 402.6,313.8 C402.8,313.2 403.2,312.7 403.3,312.1 C403.5,311.5 403.7,310.9 403.8,310.4 C403.9,309.8 403.9,308.9 403.9,308.6" stroke="#0ce80b" stroke-width="0.21" fill="none" opacity="0.38" stroke-linecap="round"/>
<path d="M365.5,328.6 C366.5,327.2 369.4,323.2 371.2,320.4 C373.0,317.6 374.8,314.8 376.1,311.8 C377.5,308.8 378.1,305.5 379.3,302.4 C380.6,299.4 382.0,296.4 383.6,293.5 C385.2,290.6 387.0,287.8 388.9,285.0 C390.7,282.3 393.7,278.3 394.6,277.0" stroke="#0ce80b" stroke-width="0.43" fill="none" opacity="0.41" stroke-linecap="round"/>
<path d="M379.3,302.4 C380.0,302.0 382.0,300.6 383.4,299.9 C384.8,299.2 386.3,298.7 387.8,298.1 C389.3,297.5 390.8,297.0 392.2,296.2 C393.5,295.4 394.7,294.3 396.0,293.4 C397.2,292.4 398.4,291.3 399.7,290.4 C401.0,289.5 403.2,288.4 403.9,288.1" stroke="#0ce80b" stroke-width="0.34" fill="none" opacity="0.35" stroke-linecap="round"/>
<path d="M397.9,330.9 C397.8,330.1 397.3,327.8 396.9,326.3 C396.6,324.8 396.1,323.3 395.8,321.8 C395.4,320.3 395.1,318.8 394.8,317.3 C394.4,315.8 393.9,314.3 393.7,312.8 C393.5,311.2 393.7,309.6 393.8,308.1 C393.9,306.6 394.3,304.3 394.4,303.5" stroke="#13f811" stroke-width="0.31" fill="none" opacity="0.56" stroke-linecap="round"/>
<path d="M395.8,321.8 C395.9,321.5 396.4,320.7 396.7,320.1 C397.0,319.5 397.4,319.0 397.7,318.4 C397.9,317.8 397.9,317.1 398.0,316.5 C398.2,315.9 398.2,315.2 398.4,314.6 C398.6,314.0 399.0,313.5 399.3,312.8 C399.5,312.2 399.6,311.3 399.7,310.9" stroke="#13f811" stroke-width="0.25" fill="none" opacity="0.47" stroke-linecap="round"/>
<path d="M386.0,329.1 C386.5,327.9 387.9,324.4 388.9,322.0 C389.9,319.7 391.4,317.5 391.9,315.0 C392.5,312.6 391.7,309.8 392.2,307.4 C392.8,305.0 394.9,303.0 395.5,300.6 C396.1,298.1 395.2,295.3 395.8,292.9 C396.5,290.6 399.0,287.4 399.6,286.3" stroke="#0ce80b" stroke-width="0.47" fill="none" opacity="0.88" stroke-linecap="round"/>
<path d="M391.9,315.0 C392.5,314.5 394.1,312.9 395.1,311.9 C396.2,310.8 397.2,309.7 398.4,308.7 C399.5,307.6 400.8,306.8 401.8,305.7 C402.8,304.6 403.4,303.1 404.5,302.1 C405.5,301.0 407.1,300.4 408.1,299.3 C409.1,298.2 410.0,296.1 410.4,295.4" stroke="#0ce80b" stroke-width="0.38" fill="none" opacity="0.75" stroke-linecap="round"/>
<path d="M367.4,335.4 C367.8,334.3 368.4,331.0 369.4,329.1 C370.4,327.1 372.4,325.7 373.3,323.7 C374.1,321.7 373.9,319.3 374.6,317.2 C375.3,315.1 376.8,313.3 377.4,311.2 C378.0,309.1 377.7,306.8 378.3,304.7 C379.0,302.6 380.6,299.7 381.1,298.6" stroke="#13f811" stroke-width="0.28" fill="none" opacity="0.87" stroke-linecap="round"/>
<path d="M373.3,323.7 C373.5,323.3 374.2,322.1 374.7,321.4 C375.1,320.6 375.6,319.8 376.1,319.0 C376.6,318.2 376.9,317.4 377.5,316.6 C378.0,315.9 378.6,315.2 379.3,314.6 C379.9,313.9 380.7,313.4 381.3,312.7 C381.9,312.1 382.7,310.9 382.9,310.6" stroke="#13f811" stroke-width="0.22" fill="none" opacity="0.74" stroke-linecap="round"/>
<path d="M395.7,320.0 C395.4,318.6 394.4,314.4 394.0,311.5 C393.6,308.7 393.7,305.8 393.2,302.9 C392.8,300.1 391.8,297.3 391.6,294.4 C391.4,291.6 392.1,288.7 391.9,285.8 C391.7,283.0 390.4,280.2 390.3,277.3 C390.1,274.5 390.7,270.1 390.7,268.7" stroke="#09d008" stroke-width="0.47" fill="none" opacity="0.41" stroke-linecap="round"/>
<path d="M393.2,302.9 C393.5,302.3 394.3,300.4 394.8,299.2 C395.4,297.9 396.3,296.8 396.7,295.6 C397.2,294.3 397.2,292.9 397.5,291.6 C397.9,290.3 398.5,289.1 399.0,287.8 C399.5,286.6 400.0,285.3 400.6,284.1 C401.2,282.9 402.2,281.1 402.5,280.5" stroke="#09d008" stroke-width="0.38" fill="none" opacity="0.35" stroke-linecap="round"/>
<path d="M388.0,333.9 C387.7,332.5 386.5,328.5 386.1,325.8 C385.7,323.1 386.0,320.2 385.6,317.5 C385.2,314.8 384.2,312.1 383.6,309.4 C383.0,306.7 383.1,303.8 382.3,301.2 C381.5,298.6 379.9,296.2 378.8,293.6 C377.8,291.1 376.4,287.2 375.9,285.9" stroke="#09d008" stroke-width="0.25" fill="none" opacity="0.83" stroke-linecap="round"/>
<path d="M385.6,317.5 C385.3,316.8 384.4,314.7 383.7,313.3 C383.0,312.0 382.3,310.5 381.4,309.3 C380.5,308.1 379.2,307.2 378.2,306.0 C377.3,304.8 376.5,303.5 375.6,302.3 C374.7,301.0 373.9,299.7 372.8,298.6 C371.7,297.5 369.9,296.2 369.3,295.7" stroke="#09d008" stroke-width="0.20" fill="none" opacity="0.71" stroke-linecap="round"/>
<path d="M372.4,325.3 C372.4,324.3 372.1,321.5 372.3,319.6 C372.4,317.7 372.9,315.9 373.3,314.0 C373.7,312.1 374.0,310.3 374.4,308.4 C374.8,306.6 375.3,304.7 375.7,302.9 C376.1,301.0 376.6,299.2 376.8,297.3 C376.9,295.4 376.7,292.6 376.7,291.6" stroke="#0ce80b" stroke-width="0.48" fill="none" opacity="0.33" stroke-linecap="round"/>
<path d="M373.3,314.0 C373.3,313.6 373.3,312.3 373.2,311.4 C373.1,310.6 372.9,309.7 372.8,308.9 C372.7,308.0 372.6,307.2 372.4,306.3 C372.2,305.5 371.6,304.8 371.5,303.9 C371.4,303.1 371.8,302.2 371.6,301.4 C371.5,300.5 370.8,299.4 370.7,299.0" stroke="#0ce80b" stroke-width="0.38" fill="none" opacity="0.28" stroke-linecap="round"/>
<path d="M403.2,336.0 C403.2,335.1 403.2,332.4 403.1,330.6 C403.0,328.8 402.5,327.0 402.6,325.3 C402.7,323.5 403.3,321.7 403.6,320.0 C403.8,318.2 404.1,316.4 404.3,314.7 C404.5,312.9 404.5,311.1 404.9,309.3 C405.2,307.6 406.1,305.0 406.4,304.2" stroke="#09d008" stroke-width="0.40" fill="none" opacity="0.46" stroke-linecap="round"/>
<path d="M403.6,320.0 C403.5,319.6 403.2,318.5 403.0,317.7 C402.8,317.0 402.4,316.3 402.1,315.6 C401.8,314.9 401.3,314.3 401.1,313.5 C400.9,312.8 400.9,312.0 400.8,311.3 C400.6,310.5 400.5,309.7 400.2,309.0 C399.9,308.3 399.2,307.4 399.0,307.1" stroke="#09d008" stroke-width="0.32" fill="none" opacity="0.39" stroke-linecap="round"/>
<path d="M368.4,336.2 C369.0,334.7 371.5,330.3 372.4,327.2 C373.3,324.0 372.7,320.5 373.6,317.3 C374.5,314.2 376.6,311.4 377.9,308.4 C379.2,305.4 380.2,302.2 381.3,299.1 C382.5,296.0 383.6,292.9 384.8,289.8 C385.9,286.7 387.8,282.2 388.4,280.6" stroke="#09d008" stroke-width="0.43" fill="none" opacity="0.50" stroke-linecap="round"/>
<path d="M373.6,317.3 C373.6,316.6 373.5,314.6 373.5,313.2 C373.4,311.8 373.1,310.4 373.1,309.1 C373.1,307.7 373.6,306.3 373.5,304.9 C373.5,303.6 373.1,302.2 372.9,300.8 C372.7,299.5 372.4,298.1 372.4,296.7 C372.4,295.4 372.6,293.3 372.7,292.6" stroke="#09d008" stroke-width="0.34" fill="none" opacity="0.42" stroke-linecap="round"/>
<path d="M399.7,327.6 C400.0,327.2 400.9,326.0 401.5,325.2 C402.1,324.5 402.6,323.6 403.1,322.8 C403.7,322.0 404.2,321.2 404.7,320.4 C405.3,319.6 405.9,318.8 406.4,318.0 C407.0,317.2 407.4,316.3 407.9,315.5 C408.5,314.7 409.4,313.6 409.8,313.2" stroke="#0ce80b" stroke-width="0.39" fill="none" opacity="0.89" stroke-linecap="round"/>
<path d="M403.1,322.8 C403.3,322.7 403.6,322.1 403.9,321.7 C404.2,321.4 404.6,321.2 404.9,320.9 C405.2,320.6 405.5,320.3 405.8,320.0 C406.1,319.7 406.4,319.3 406.7,319.0 C407.0,318.7 407.2,318.2 407.4,317.9 C407.7,317.6 408.3,317.2 408.5,317.1" stroke="#0ce80b" stroke-width="0.31" fill="none" opacity="0.76" stroke-linecap="round"/>
<path d="M388.7,321.1 C388.6,320.2 388.1,317.2 388.0,315.3 C387.9,313.3 388.4,311.3 388.0,309.4 C387.6,307.5 386.4,305.8 385.8,303.9 C385.3,302.0 384.9,300.0 384.9,298.0 C384.8,296.1 385.2,294.1 385.3,292.1 C385.3,290.2 385.2,287.2 385.1,286.2" stroke="#09d008" stroke-width="0.33" fill="none" opacity="0.30" stroke-linecap="round"/>
<path d="M388.0,309.4 C388.1,308.9 388.2,307.6 388.3,306.7 C388.3,305.8 388.3,305.0 388.3,304.1 C388.3,303.2 388.1,302.3 388.2,301.4 C388.3,300.6 388.8,299.8 388.9,298.9 C389.1,298.0 389.1,297.1 389.2,296.3 C389.2,295.4 389.1,294.1 389.1,293.6" stroke="#09d008" stroke-width="0.26" fill="none" opacity="0.26" stroke-linecap="round"/>
<path d="M397.9,331.8 C398.2,330.2 399.5,325.6 400.0,322.4 C400.6,319.3 401.3,316.1 401.4,312.9 C401.4,309.7 400.5,306.5 400.4,303.3 C400.3,300.1 400.6,296.9 400.8,293.7 C401.0,290.5 401.5,287.3 401.7,284.2 C401.9,281.0 402.0,276.1 402.1,274.5" stroke="#13f811" stroke-width="0.27" fill="none" opacity="0.74" stroke-linecap="round"/>
<path d="M401.4,312.9 C401.5,312.0 402.0,309.4 402.3,307.7 C402.6,305.9 402.6,304.1 403.2,302.5 C403.8,300.8 405.1,299.4 405.9,297.9 C406.7,296.3 407.4,294.7 408.0,293.0 C408.6,291.4 408.9,289.6 409.6,287.9 C410.2,286.3 411.5,283.9 411.8,283.1" stroke="#13f811" stroke-width="0.22" fill="none" opacity="0.63" stroke-linecap="round"/>
<path d="M371.9,330.1 C372.4,328.7 374.0,324.6 374.7,321.8 C375.4,319.0 375.2,315.9 376.2,313.2 C377.2,310.5 379.5,308.4 380.6,305.7 C381.8,303.1 382.2,300.1 382.9,297.3 C383.6,294.5 383.7,291.4 384.8,288.8 C385.9,286.1 388.6,282.5 389.4,281.3" stroke="#09d008" stroke-width="0.42" fill="none" opacity="0.84" stroke-linecap="round"/>
<path d="M380.6,305.7 C381.3,305.1 383.4,303.4 384.6,302.1 C385.8,300.8 386.8,299.3 387.8,297.8 C388.8,296.3 389.7,294.8 390.6,293.2 C391.5,291.7 392.4,290.1 393.4,288.6 C394.3,287.1 395.2,285.5 396.3,284.2 C397.5,282.9 399.8,281.3 400.5,280.8" stroke="#09d008" stroke-width="0.34" fill="none" opacity="0.72" stroke-linecap="round"/>
<path d="M381.8,326.7 C381.5,326.0 380.5,323.9 380.0,322.5 C379.5,321.0 379.3,319.4 378.8,318.0 C378.3,316.5 377.3,315.2 376.9,313.7 C376.5,312.2 376.8,310.6 376.4,309.1 C376.1,307.6 375.2,306.2 374.9,304.7 C374.6,303.2 374.7,300.8 374.6,300.0" stroke="#09d008" stroke-width="0.50" fill="none" opacity="0.73" stroke-linecap="round"/>
<path d="M378.8,318.0 C378.5,317.7 377.7,317.1 377.2,316.6 C376.7,316.1 376.3,315.5 375.8,315.0 C375.4,314.4 374.9,313.9 374.5,313.4 C374.1,312.8 373.7,312.2 373.3,311.7 C372.8,311.1 372.3,310.7 371.8,310.2 C371.3,309.7 370.5,309.0 370.3,308.7" stroke="#09d008" stroke-width="0.40" fill="none" opacity="0.62" stroke-linecap="round"/>
<path d="M381.9,335.0 C382.6,334.0 385.3,331.3 386.3,329.1 C387.3,326.9 387.2,324.3 388.0,322.0 C388.8,319.7 389.9,317.5 391.2,315.4 C392.4,313.3 394.0,311.4 395.5,309.5 C397.0,307.6 398.6,305.7 400.1,303.8 C401.6,301.9 403.8,299.0 404.6,298.0" stroke="#13f811" stroke-width="0.35" fill="none" opacity="0.76" stroke-linecap="round"/>
<path d="M388.0,322.0 C388.1,321.3 388.6,319.1 388.6,317.6 C388.6,316.1 388.4,314.7 388.2,313.2 C388.1,311.7 387.9,310.3 387.8,308.8 C387.6,307.3 387.5,305.9 387.4,304.4 C387.2,302.9 386.7,301.5 386.8,300.0 C386.9,298.6 387.8,296.5 388.0,295.8" stroke="#13f811" stroke-width="0.28" fill="none" opacity="0.64" stroke-linecap="round"/>
<path d="M382.9,324.8 C382.9,324.0 382.9,321.7 383.1,320.2 C383.2,318.7 383.6,317.2 383.9,315.7 C384.2,314.3 384.7,312.8 385.0,311.3 C385.3,309.8 385.6,308.3 385.7,306.8 C385.9,305.3 386.0,303.8 386.0,302.2 C385.9,300.7 385.5,298.5 385.4,297.7" stroke="#09d008" stroke-width="0.30" fill="none" opacity="0.63" stroke-linecap="round"/>
<path d="M385.0,311.3 C384.7,310.9 383.7,309.8 383.2,309.0 C382.7,308.2 382.3,307.3 382.0,306.4 C381.6,305.4 381.5,304.5 381.3,303.5 C381.0,302.6 381.0,301.5 380.6,300.7 C380.2,299.8 379.3,299.2 378.8,298.4 C378.3,297.6 377.9,296.1 377.8,295.7" stroke="#09d008" stroke-width="0.24" fill="none" opacity="0.53" stroke-linecap="round"/>
<path d="M380.5,320.0 C381.0,318.4 382.4,313.8 383.4,310.8 C384.4,307.7 385.1,304.6 386.3,301.6 C387.5,298.7 389.0,295.8 390.6,293.0 C392.3,290.3 394.5,287.9 396.4,285.3 C398.2,282.7 400.3,280.2 401.8,277.4 C403.4,274.6 405.0,270.0 405.7,268.6" stroke="#13f811" stroke-width="0.47" fill="none" opacity="0.76" stroke-linecap="round"/>
<path d="M386.3,301.6 C387.0,300.9 388.9,298.7 390.1,297.1 C391.4,295.6 392.6,294.1 393.8,292.5 C395.1,291.0 396.2,289.4 397.5,287.9 C398.8,286.5 400.2,285.1 401.5,283.6 C402.8,282.1 403.9,280.5 405.1,278.9 C406.3,277.4 408.2,275.1 408.8,274.4" stroke="#13f811" stroke-width="0.37" fill="none" opacity="0.65" stroke-linecap="round"/>
<path d="M397.4,329.9 C397.8,328.8 398.9,325.7 399.4,323.5 C399.8,321.4 399.8,319.1 400.2,316.9 C400.6,314.8 401.1,312.6 401.8,310.5 C402.5,308.4 403.6,306.5 404.4,304.4 C405.3,302.4 406.5,300.4 407.0,298.3 C407.5,296.2 407.4,292.8 407.5,291.7" stroke="#09d008" stroke-width="0.34" fill="none" opacity="0.40" stroke-linecap="round"/>
<path d="M400.2,316.9 C400.2,316.5 400.3,315.0 400.2,314.1 C400.1,313.1 399.7,312.2 399.6,311.2 C399.5,310.3 399.7,309.3 399.6,308.3 C399.4,307.4 399.0,306.5 398.7,305.6 C398.4,304.7 397.9,303.8 397.6,302.9 C397.3,302.0 396.8,300.6 396.7,300.2" stroke="#09d008" stroke-width="0.27" fill="none" opacity="0.34" stroke-linecap="round"/>
<path d="M382.9,322.3 C382.5,321.0 381.3,317.0 380.6,314.3 C379.8,311.7 378.7,309.1 378.4,306.3 C378.0,303.6 378.1,300.8 378.3,298.1 C378.4,295.3 379.2,292.5 379.1,289.8 C378.9,287.1 378.0,284.4 377.6,281.6 C377.2,278.9 376.7,274.8 376.5,273.4" stroke="#13f811" stroke-width="0.44" fill="none" opacity="0.88" stroke-linecap="round"/>
<path d="M378.3,298.1 C377.9,297.4 376.5,295.4 376.0,294.0 C375.5,292.5 375.8,290.8 375.3,289.4 C374.9,287.9 374.1,286.5 373.4,285.1 C372.7,283.7 372.0,282.4 371.2,281.0 C370.5,279.6 369.7,278.3 368.9,277.0 C368.1,275.6 366.8,273.7 366.3,273.1" stroke="#13f811" stroke-width="0.35" fill="none" opacity="0.75" stroke-linecap="round"/>
<path d="M403.6,323.2 C404.5,321.9 407.6,318.0 408.9,315.0 C410.1,312.1 410.3,308.7 411.2,305.6 C412.1,302.5 413.4,299.5 414.4,296.4 C415.4,293.3 416.2,290.2 417.2,287.0 C418.1,283.9 419.1,280.8 419.8,277.7 C420.5,274.5 421.3,269.7 421.6,268.1" stroke="#13f811" stroke-width="0.41" fill="none" opacity="0.92" stroke-linecap="round"/>
<path d="M411.2,305.6 C411.3,304.9 411.3,302.7 411.5,301.2 C411.7,299.8 412.2,298.4 412.4,296.9 C412.7,295.5 412.9,294.0 412.8,292.6 C412.8,291.1 412.2,289.7 412.0,288.3 C411.9,286.8 412.1,285.4 412.0,283.9 C411.8,282.5 411.3,280.3 411.1,279.6" stroke="#13f811" stroke-width="0.32" fill="none" opacity="0.78" stroke-linecap="round"/>
<path d="M366.2,335.7 C366.2,335.1 366.3,333.4 366.2,332.4 C366.0,331.3 365.5,330.2 365.4,329.1 C365.4,328.1 365.8,327.0 365.9,325.9 C366.0,324.8 366.1,323.7 366.1,322.6 C366.0,321.5 365.7,320.4 365.6,319.3 C365.5,318.2 365.3,316.6 365.2,316.0" stroke="#09d008" stroke-width="0.48" fill="none" opacity="0.34" stroke-linecap="round"/>
<path d="M365.9,325.9 C366.1,325.6 366.7,324.9 366.9,324.3 C367.1,323.8 367.1,323.2 367.3,322.6 C367.4,322.0 367.5,321.4 367.8,320.9 C368.0,320.4 368.5,319.9 368.9,319.5 C369.2,319.0 369.5,318.4 369.8,317.9 C370.0,317.4 370.3,316.5 370.5,316.3" stroke="#09d008" stroke-width="0.38" fill="none" opacity="0.29" stroke-linecap="round"/>
<path d="M409.0,335.3 C408.6,334.1 407.2,330.8 406.8,328.6 C406.4,326.3 406.8,323.8 406.6,321.5 C406.3,319.2 405.5,316.9 405.2,314.6 C404.9,312.3 404.8,309.9 404.7,307.6 C404.7,305.2 405.1,302.9 404.8,300.6 C404.6,298.2 403.7,294.8 403.4,293.7" stroke="#13f811" stroke-width="0.33" fill="none" opacity="0.42" stroke-linecap="round"/>
<path d="M405.2,314.6 C405.3,314.1 405.6,312.6 405.9,311.7 C406.2,310.7 406.5,309.7 406.9,308.8 C407.3,307.9 407.9,307.0 408.2,306.1 C408.4,305.1 408.3,304.0 408.6,303.1 C408.8,302.1 409.4,301.2 409.6,300.2 C409.8,299.3 409.8,297.7 409.8,297.2" stroke="#13f811" stroke-width="0.26" fill="none" opacity="0.36" stroke-linecap="round"/>
<path d="M389.6,320.4 C389.5,319.0 389.4,314.8 389.2,312.0 C389.0,309.2 388.8,306.4 388.4,303.6 C387.9,300.9 386.7,298.2 386.6,295.4 C386.6,292.7 388.1,289.9 388.1,287.2 C388.0,284.4 386.9,281.7 386.3,279.0 C385.7,276.2 384.7,272.2 384.4,270.8" stroke="#0ce80b" stroke-width="0.47" fill="none" opacity="0.67" stroke-linecap="round"/>
<path d="M386.6,295.4 C387.0,294.6 388.1,292.2 388.6,290.6 C389.1,288.9 389.1,287.0 389.6,285.4 C390.2,283.8 391.4,282.3 392.0,280.7 C392.6,279.1 392.6,277.2 393.2,275.6 C393.8,273.9 394.8,272.4 395.6,270.9 C396.3,269.3 397.5,266.9 397.8,266.1" stroke="#0ce80b" stroke-width="0.38" fill="none" opacity="0.57" stroke-linecap="round"/>
<path d="M376.9,326.1 C376.8,324.9 376.5,321.1 376.1,318.6 C375.6,316.1 374.5,313.8 374.1,311.3 C373.6,308.8 373.7,306.2 373.2,303.7 C372.7,301.3 371.8,298.9 371.2,296.4 C370.5,294.0 369.9,291.6 369.3,289.1 C368.7,286.6 368.0,282.9 367.7,281.7" stroke="#0ce80b" stroke-width="0.26" fill="none" opacity="0.86" stroke-linecap="round"/>
<path d="M374.1,311.3 C374.3,310.6 374.9,308.4 375.2,307.0 C375.6,305.6 375.8,304.1 376.2,302.7 C376.5,301.2 376.7,299.7 377.3,298.4 C377.9,297.0 378.9,295.9 379.6,294.6 C380.3,293.3 381.1,292.0 381.7,290.7 C382.4,289.4 383.2,287.3 383.6,286.7" stroke="#0ce80b" stroke-width="0.21" fill="none" opacity="0.73" stroke-linecap="round"/>
<path d="M404.3,323.1 C404.5,322.5 405.1,320.9 405.3,319.8 C405.5,318.7 405.4,317.5 405.5,316.4 C405.5,315.3 405.4,314.1 405.5,313.0 C405.6,311.9 405.8,310.7 406.0,309.6 C406.3,308.5 406.8,307.4 407.1,306.4 C407.4,305.3 407.9,303.6 408.0,303.1" stroke="#09d008" stroke-width="0.29" fill="none" opacity="0.41" stroke-linecap="round"/>
<path d="M405.5,316.4 C405.5,316.1 405.4,315.3 405.3,314.8 C405.3,314.2 405.2,313.7 405.1,313.2 C404.9,312.6 404.8,312.1 404.6,311.6 C404.3,311.1 403.9,310.7 403.7,310.2 C403.5,309.7 403.5,309.1 403.4,308.6 C403.2,308.1 403.0,307.3 402.9,307.0" stroke="#09d008" stroke-width="0.23" fill="none" opacity="0.34" stroke-linecap="round"/>
<path d="M391.5,332.7 C391.4,332.0 390.6,330.0 390.4,328.7 C390.3,327.3 390.7,325.9 390.6,324.6 C390.5,323.2 390.0,321.9 389.9,320.5 C389.7,319.2 389.7,317.8 389.5,316.4 C389.3,315.1 389.0,313.7 388.6,312.4 C388.3,311.1 387.7,309.1 387.5,308.4" stroke="#09d008" stroke-width="0.47" fill="none" opacity="0.39" stroke-linecap="round"/>
<path d="M390.6,324.6 C390.7,324.1 391.0,322.8 391.2,322.0 C391.5,321.1 391.6,320.2 391.8,319.3 C392.1,318.5 392.4,317.6 392.6,316.8 C392.8,315.9 392.6,314.9 392.9,314.1 C393.1,313.2 393.7,312.5 394.1,311.7 C394.4,310.8 395.0,309.6 395.2,309.2" stroke="#09d008" stroke-width="0.37" fill="none" opacity="0.33" stroke-linecap="round"/>
<path d="M372.5,320.8 C372.4,319.5 372.1,315.6 371.9,313.1 C371.7,310.5 371.9,307.8 371.3,305.3 C370.6,302.8 368.7,300.6 368.1,298.2 C367.4,295.7 367.9,292.9 367.4,290.4 C366.9,287.8 365.7,285.4 365.3,282.9 C364.9,280.3 364.9,276.4 364.9,275.1" stroke="#13f811" stroke-width="0.44" fill="none" opacity="0.83" stroke-linecap="round"/>
<path d="M368.1,298.2 C368.0,297.5 367.6,295.6 367.4,294.3 C367.2,293.0 366.7,291.8 366.7,290.5 C366.7,289.2 367.1,287.9 367.2,286.6 C367.4,285.3 367.3,284.0 367.5,282.7 C367.8,281.4 368.4,280.2 368.7,279.0 C368.9,277.7 368.9,275.7 369.0,275.1" stroke="#13f811" stroke-width="0.35" fill="none" opacity="0.70" stroke-linecap="round"/>
<path d="M392.1,322.0 C392.3,320.9 392.9,317.8 393.2,315.7 C393.5,313.6 393.9,311.5 394.1,309.4 C394.2,307.3 394.1,305.2 394.0,303.1 C394.0,301.0 393.6,298.9 393.8,296.8 C394.0,294.7 395.0,292.7 395.3,290.6 C395.6,288.5 395.4,285.3 395.4,284.3" stroke="#09d008" stroke-width="0.34" fill="none" opacity="0.61" stroke-linecap="round"/>
<path d="M394.0,303.1 C394.0,302.6 394.2,301.2 394.0,300.4 C393.9,299.5 393.4,298.6 393.1,297.8 C392.8,296.9 392.6,296.0 392.3,295.2 C392.0,294.3 391.5,293.5 391.3,292.6 C391.0,291.7 391.0,290.8 390.8,289.9 C390.7,289.0 390.5,287.6 390.5,287.2" stroke="#09d008" stroke-width="0.27" fill="none" opacity="0.52" stroke-linecap="round"/>
<path d="M366.6,328.2 C366.3,327.3 365.2,324.8 364.8,323.1 C364.3,321.3 364.0,319.5 363.8,317.7 C363.6,315.9 364.0,314.1 363.8,312.3 C363.7,310.5 363.2,308.7 362.8,307.0 C362.4,305.2 361.8,303.5 361.4,301.8 C361.0,300.0 360.5,297.3 360.3,296.5" stroke="#09d008" stroke-width="0.47" fill="none" opacity="0.86" stroke-linecap="round"/>
<path d="M363.8,312.3 C363.9,311.8 364.1,310.3 364.4,309.4 C364.8,308.4 365.6,307.7 365.9,306.7 C366.3,305.8 366.3,304.7 366.5,303.8 C366.8,302.8 367.0,301.8 367.4,300.9 C367.8,299.9 368.3,299.1 368.8,298.2 C369.3,297.3 370.0,296.0 370.3,295.6" stroke="#09d008" stroke-width="0.37" fill="none" opacity="0.73" stroke-linecap="round"/>
<path d="M383.9,329.4 C384.0,328.2 384.3,324.7 384.6,322.3 C385.0,320.0 385.8,317.7 385.9,315.3 C386.0,313.0 385.2,310.6 385.2,308.2 C385.3,305.9 386.3,303.6 386.3,301.2 C386.4,298.9 385.6,296.5 385.5,294.2 C385.4,291.8 385.7,288.2 385.8,287.1" stroke="#0ce80b" stroke-width="0.39" fill="none" opacity="0.65" stroke-linecap="round"/>
<path d="M385.9,315.3 C385.7,314.5 384.9,312.2 384.4,310.7 C384.0,309.1 383.6,307.5 383.2,306.0 C382.8,304.4 382.4,302.8 381.9,301.3 C381.4,299.7 380.7,298.2 380.1,296.7 C379.5,295.2 378.7,293.8 378.3,292.2 C377.9,290.6 378.0,288.1 377.9,287.3" stroke="#0ce80b" stroke-width="0.31" fill="none" opacity="0.55" stroke-linecap="round"/>
<path d="M402.6,336.1 C403.2,334.9 405.3,331.3 406.2,328.7 C407.2,326.2 407.2,323.2 408.3,320.8 C409.4,318.3 411.4,316.3 412.8,313.9 C414.2,311.5 415.7,309.2 416.6,306.6 C417.6,304.1 417.8,301.3 418.6,298.7 C419.5,296.1 421.2,292.3 421.8,291.0" stroke="#0ce80b" stroke-width="0.44" fill="none" opacity="0.79" stroke-linecap="round"/>
<path d="M408.3,320.8 C408.6,320.3 409.7,318.7 410.4,317.7 C411.2,316.8 411.9,315.7 412.8,314.9 C413.7,314.1 415.0,313.7 416.0,313.0 C417.0,312.4 418.1,311.7 419.0,310.9 C419.9,310.0 420.7,309.1 421.6,308.2 C422.4,307.3 423.5,305.8 423.9,305.3" stroke="#0ce80b" stroke-width="0.35" fill="none" opacity="0.67" stroke-linecap="round"/>
<path d="M404.7,335.5 C404.3,333.9 403.3,329.0 402.5,325.8 C401.7,322.5 400.3,319.4 399.9,316.1 C399.4,312.9 400.1,309.5 399.6,306.2 C399.2,302.9 397.8,299.8 397.2,296.5 C396.6,293.2 396.4,289.9 395.8,286.6 C395.2,283.4 394.0,278.5 393.6,276.9" stroke="#09d008" stroke-width="0.33" fill="none" opacity="0.62" stroke-linecap="round"/>
<path d="M399.9,316.1 C399.9,315.3 399.9,312.8 400.3,311.2 C400.8,309.6 401.9,308.3 402.4,306.7 C402.9,305.1 403.2,303.5 403.5,301.9 C403.8,300.2 404.1,298.6 404.3,297.0 C404.5,295.3 404.4,293.7 404.7,292.0 C405.1,290.4 406.0,288.1 406.3,287.3" stroke="#09d008" stroke-width="0.27" fill="none" opacity="0.52" stroke-linecap="round"/>
<path d="M374.3,325.7 C374.6,325.3 375.7,323.9 376.4,323.0 C377.1,322.1 377.9,321.1 378.4,320.1 C379.0,319.1 379.2,317.9 379.8,316.9 C380.3,315.9 381.3,315.1 381.8,314.0 C382.3,313.0 382.2,311.7 382.7,310.7 C383.1,309.6 384.2,308.1 384.5,307.6" stroke="#09d008" stroke-width="0.35" fill="none" opacity="0.85" stroke-linecap="round"/>
<path d="M379.8,316.9 C379.8,316.6 380.0,315.8 380.0,315.2 C380.0,314.6 380.0,314.0 380.0,313.5 C379.9,312.9 379.9,312.3 379.9,311.7 C379.9,311.2 379.9,310.6 379.9,310.0 C380.0,309.5 380.2,308.9 380.4,308.4 C380.5,307.8 380.8,307.0 380.9,306.7" stroke="#09d008" stroke-width="0.28" fill="none" opacity="0.73" stroke-linecap="round"/>
<path d="M404.1,323.2 C403.8,321.6 402.8,316.8 401.9,313.7 C401.0,310.5 400.2,307.4 398.9,304.4 C397.6,301.4 395.5,298.8 394.2,295.8 C393.0,292.9 392.2,289.6 391.6,286.5 C391.0,283.3 391.4,279.9 390.8,276.8 C390.1,273.6 388.3,269.0 387.8,267.5" stroke="#0ce80b" stroke-width="0.47" fill="none" opacity="0.53" stroke-linecap="round"/>
<path d="M394.2,295.8 C394.7,294.8 396.3,291.7 396.9,289.6 C397.6,287.4 397.9,285.2 398.3,282.9 C398.6,280.7 398.5,278.4 398.9,276.1 C399.3,273.9 400.3,271.8 400.5,269.5 C400.8,267.3 400.2,264.9 400.4,262.7 C400.7,260.5 401.8,257.2 402.0,256.1" stroke="#0ce80b" stroke-width="0.38" fill="none" opacity="0.45" stroke-linecap="round"/>
<path d="M377.6,332.5 C377.7,331.6 377.8,328.7 378.2,326.8 C378.5,325.0 379.1,323.1 379.7,321.3 C380.3,319.5 381.3,317.8 381.9,316.1 C382.6,314.3 383.3,312.5 383.8,310.6 C384.3,308.8 384.3,306.8 384.9,305.0 C385.5,303.2 386.9,300.7 387.3,299.8" stroke="#09d008" stroke-width="0.37" fill="none" opacity="0.36" stroke-linecap="round"/>
<path d="M379.7,321.3 C379.5,320.7 378.9,319.0 378.4,317.8 C377.9,316.7 377.3,315.6 376.8,314.4 C376.4,313.2 376.0,312.0 375.8,310.8 C375.7,309.6 376.1,308.2 375.8,307.1 C375.5,305.9 374.6,304.9 374.1,303.7 C373.5,302.6 372.9,300.8 372.7,300.3" stroke="#09d008" stroke-width="0.30" fill="none" opacity="0.31" stroke-linecap="round"/>
<path d="M400.9,324.4 C401.2,323.4 402.3,320.6 402.9,318.7 C403.5,316.8 404.0,314.9 404.5,313.0 C405.0,311.1 405.2,309.0 406.1,307.2 C406.9,305.5 408.6,304.1 409.4,302.3 C410.2,300.5 410.0,298.3 410.9,296.5 C411.7,294.8 413.8,292.6 414.4,291.8" stroke="#0ce80b" stroke-width="0.32" fill="none" opacity="0.41" stroke-linecap="round"/>
<path d="M406.1,307.2 C406.4,306.9 407.5,305.7 408.3,305.0 C409.1,304.3 409.9,303.6 410.7,303.0 C411.6,302.5 412.7,302.1 413.6,301.6 C414.5,301.1 415.4,300.6 416.3,299.9 C417.1,299.3 417.8,298.5 418.5,297.8 C419.3,297.0 420.3,295.8 420.7,295.4" stroke="#0ce80b" stroke-width="0.26" fill="none" opacity="0.35" stroke-linecap="round"/>
<path d="M401.1,325.1 C400.7,323.6 399.2,319.0 398.6,315.9 C398.0,312.7 398.2,309.4 397.6,306.3 C396.9,303.2 395.8,300.1 394.8,297.1 C393.7,294.1 391.9,291.2 391.3,288.1 C390.8,285.0 391.3,281.7 391.2,278.5 C391.1,275.3 390.7,270.5 390.6,268.9" stroke="#13f811" stroke-width="0.32" fill="none" opacity="0.75" stroke-linecap="round"/>
<path d="M394.8,297.1 C394.6,296.0 394.0,292.8 394.1,290.6 C394.2,288.5 395.2,286.3 395.3,284.2 C395.4,282.0 394.7,279.8 394.8,277.7 C394.8,275.5 395.4,273.3 395.5,271.2 C395.7,269.0 396.0,266.8 396.0,264.6 C396.0,262.5 395.6,259.2 395.6,258.1" stroke="#13f811" stroke-width="0.26" fill="none" opacity="0.64" stroke-linecap="round"/>
<path d="M382.0,332.6 C381.8,332.0 380.9,330.0 380.5,328.6 C380.1,327.2 380.2,325.7 379.8,324.4 C379.4,323.0 378.5,321.8 378.2,320.4 C377.9,319.0 377.9,317.5 377.8,316.1 C377.6,314.7 377.5,313.3 377.3,311.8 C377.0,310.4 376.6,308.3 376.5,307.6" stroke="#0ce80b" stroke-width="0.42" fill="none" opacity="0.35" stroke-linecap="round"/>
<path d="M379.8,324.4 C380.0,324.0 380.6,323.1 380.8,322.4 C380.9,321.7 380.9,320.9 380.9,320.2 C381.0,319.4 381.1,318.7 381.3,318.0 C381.4,317.3 381.6,316.5 381.8,315.8 C382.0,315.1 382.3,314.5 382.7,313.8 C383.0,313.1 383.5,312.2 383.7,311.8" stroke="#0ce80b" stroke-width="0.34" fill="none" opacity="0.30" stroke-linecap="round"/>
<path d="M370.7,330.0 C370.7,329.3 370.7,327.1 370.5,325.7 C370.3,324.3 369.5,323.0 369.3,321.6 C369.1,320.2 369.1,318.7 369.0,317.3 C369.0,315.9 369.3,314.4 369.2,313.0 C369.0,311.6 368.4,310.2 368.2,308.8 C367.9,307.4 367.7,305.2 367.6,304.5" stroke="#13f811" stroke-width="0.48" fill="none" opacity="0.36" stroke-linecap="round"/>
<path d="M369.0,317.3 C368.9,317.0 368.5,316.2 368.3,315.7 C368.1,315.1 368.2,314.4 367.9,313.9 C367.7,313.4 367.1,313.0 366.9,312.5 C366.7,311.9 366.7,311.3 366.6,310.7 C366.5,310.1 366.4,309.5 366.3,308.9 C366.1,308.4 365.8,307.5 365.7,307.2" stroke="#13f811" stroke-width="0.38" fill="none" opacity="0.31" stroke-linecap="round"/>
<path d="M398.6,323.1 C398.2,322.3 397.2,319.6 396.5,317.9 C395.7,316.1 394.7,314.5 394.2,312.7 C393.6,310.9 393.3,309.0 393.0,307.2 C392.6,305.3 392.0,303.5 391.9,301.6 C391.7,299.7 392.4,297.7 392.0,295.9 C391.7,294.1 390.2,291.6 389.8,290.7" stroke="#09d008" stroke-width="0.28" fill="none" opacity="0.69" stroke-linecap="round"/>
<path d="M394.2,312.7 C393.8,312.3 392.5,311.2 391.9,310.3 C391.3,309.4 391.2,308.3 390.6,307.3 C390.1,306.4 389.1,305.7 388.6,304.8 C388.0,303.8 387.9,302.7 387.3,301.7 C386.8,300.8 385.7,300.2 385.2,299.3 C384.6,298.4 384.0,296.8 383.8,296.4" stroke="#09d008" stroke-width="0.22" fill="none" opacity="0.58" stroke-linecap="round"/>
<path d="M381.1,321.5 C381.6,320.0 383.2,315.6 384.0,312.6 C384.9,309.6 385.3,306.5 386.1,303.5 C386.9,300.5 387.9,297.5 388.6,294.5 C389.3,291.5 390.1,288.4 390.5,285.3 C390.9,282.3 390.9,279.1 390.8,276.0 C390.8,272.9 390.2,268.2 390.1,266.7" stroke="#09d008" stroke-width="0.44" fill="none" opacity="0.79" stroke-linecap="round"/>
<path d="M386.1,303.5 C386.6,303.0 388.2,301.7 388.9,300.5 C389.6,299.4 389.7,297.9 390.4,296.8 C391.1,295.6 392.4,294.8 393.0,293.7 C393.7,292.5 393.7,290.9 394.3,289.8 C395.0,288.7 396.2,287.8 397.1,286.8 C398.0,285.8 399.3,284.2 399.7,283.7" stroke="#09d008" stroke-width="0.35" fill="none" opacity="0.67" stroke-linecap="round"/>
<path d="M384.6,331.0 C384.5,329.5 383.8,324.7 383.7,321.5 C383.7,318.4 384.3,315.2 384.3,312.0 C384.4,308.8 383.8,305.6 384.0,302.5 C384.2,299.3 385.4,296.2 385.4,293.0 C385.3,289.9 383.4,286.7 383.5,283.7 C383.6,280.6 385.6,276.0 386.1,274.5" stroke="#09d008" stroke-width="0.46" fill="none" opacity="0.87" stroke-linecap="round"/>
<path d="M384.3,312.0 C384.9,311.2 386.9,308.7 387.8,306.8 C388.8,305.0 389.3,303.0 390.1,301.0 C390.8,299.1 391.4,297.1 392.1,295.2 C392.8,293.2 393.2,291.1 394.1,289.3 C395.1,287.4 396.6,285.9 397.7,284.2 C398.8,282.4 400.2,279.6 400.7,278.7" stroke="#09d008" stroke-width="0.36" fill="none" opacity="0.74" stroke-linecap="round"/>
<path d="M380.8,328.8 C380.6,327.9 380.2,325.3 379.7,323.6 C379.1,321.9 378.1,320.4 377.4,318.8 C376.7,317.2 375.9,315.6 375.2,314.0 C374.6,312.3 373.9,310.7 373.4,309.0 C372.8,307.3 372.6,305.6 372.2,303.9 C371.7,302.2 370.8,299.7 370.5,298.8" stroke="#13f811" stroke-width="0.49" fill="none" opacity="0.86" stroke-linecap="round"/>
<path d="M375.2,314.0 C375.2,313.4 375.3,311.6 375.3,310.4 C375.4,309.3 375.6,308.1 375.8,306.9 C375.9,305.8 376.0,304.6 376.3,303.4 C376.5,302.3 376.8,301.1 377.0,300.0 C377.3,298.8 377.7,297.7 377.9,296.5 C378.1,295.4 378.1,293.6 378.1,293.0" stroke="#13f811" stroke-width="0.39" fill="none" opacity="0.73" stroke-linecap="round"/>
<path d="M395.1,327.4 C395.4,326.8 396.4,325.1 396.8,323.9 C397.3,322.7 397.3,321.4 397.7,320.2 C398.1,319.0 398.9,317.9 399.4,316.7 C399.9,315.5 400.0,314.2 400.6,313.0 C401.1,311.8 402.1,310.9 402.6,309.7 C403.1,308.5 403.2,306.6 403.4,305.9" stroke="#13f811" stroke-width="0.27" fill="none" opacity="0.54" stroke-linecap="round"/>
<path d="M397.7,320.2 C397.8,319.9 398.0,319.0 398.1,318.5 C398.2,317.9 398.2,317.3 398.2,316.7 C398.2,316.1 398.0,315.5 398.0,315.0 C398.0,314.4 398.3,313.8 398.4,313.3 C398.5,312.7 398.5,312.1 398.5,311.5 C398.5,310.9 398.4,310.1 398.3,309.8" stroke="#13f811" stroke-width="0.22" fill="none" opacity="0.46" stroke-linecap="round"/>
<path d="M378.9,320.1 C378.6,319.2 378.0,316.2 377.4,314.2 C376.8,312.2 376.1,310.3 375.5,308.4 C374.9,306.4 374.4,304.4 373.9,302.5 C373.3,300.5 372.8,298.5 372.1,296.6 C371.4,294.7 370.3,292.9 369.6,291.0 C368.9,289.1 368.1,286.1 367.8,285.2" stroke="#09d008" stroke-width="0.47" fill="none" opacity="0.60" stroke-linecap="round"/>
<path d="M375.5,308.4 C375.4,307.9 375.3,306.4 375.2,305.3 C375.2,304.3 375.1,303.3 375.1,302.3 C375.2,301.3 375.4,300.3 375.4,299.2 C375.5,298.2 375.2,297.2 375.3,296.2 C375.5,295.2 375.9,294.2 376.2,293.3 C376.5,292.3 376.9,290.8 377.1,290.3" stroke="#09d008" stroke-width="0.38" fill="none" opacity="0.51" stroke-linecap="round"/>
<path d="M374.6,326.5 C374.4,325.8 374.0,323.5 373.8,322.0 C373.6,320.5 373.2,318.9 373.2,317.4 C373.2,315.9 373.6,314.4 373.7,312.8 C373.8,311.3 374.1,309.7 373.9,308.2 C373.8,306.7 373.1,305.3 372.8,303.8 C372.5,302.3 372.2,300.0 372.0,299.2" stroke="#0ce80b" stroke-width="0.41" fill="none" opacity="0.61" stroke-linecap="round"/>
<path d="M373.7,312.8 C373.8,312.4 374.1,311.2 374.3,310.3 C374.5,309.5 374.7,308.7 374.9,307.9 C375.2,307.1 375.5,306.3 375.7,305.5 C376.0,304.7 376.4,303.9 376.6,303.1 C376.8,302.3 376.7,301.4 376.9,300.6 C377.0,299.8 377.5,298.6 377.6,298.1" stroke="#0ce80b" stroke-width="0.33" fill="none" opacity="0.52" stroke-linecap="round"/>
<path d="M406.0,328.7 C406.3,327.3 407.2,323.3 407.6,320.6 C408.0,317.9 408.1,315.2 408.4,312.4 C408.7,309.7 408.9,307.0 409.4,304.3 C409.8,301.6 410.3,298.9 410.9,296.2 C411.5,293.5 412.4,290.9 413.1,288.3 C413.7,285.6 414.4,281.6 414.7,280.2" stroke="#0ce80b" stroke-width="0.49" fill="none" opacity="0.66" stroke-linecap="round"/>
<path d="M408.4,312.4 C408.8,311.7 410.0,309.5 411.1,308.2 C412.1,306.9 413.4,305.8 414.7,304.7 C415.9,303.5 417.2,302.5 418.5,301.4 C419.8,300.3 421.0,299.2 422.3,298.0 C423.5,296.9 424.8,295.8 426.0,294.6 C427.2,293.5 428.9,291.6 429.5,291.0" stroke="#0ce80b" stroke-width="0.39" fill="none" opacity="0.56" stroke-linecap="round"/>
<path d="M387.2,326.6 C387.1,325.6 386.9,322.7 386.8,320.7 C386.7,318.7 386.6,316.8 386.6,314.8 C386.7,312.8 387.2,310.8 387.1,308.9 C386.9,307.0 386.2,305.0 385.8,303.1 C385.3,301.2 384.4,299.3 384.3,297.4 C384.3,295.5 385.1,292.5 385.2,291.5" stroke="#13f811" stroke-width="0.37" fill="none" opacity="0.34" stroke-linecap="round"/>
<path d="M387.1,308.9 C387.0,308.5 386.6,307.3 386.3,306.5 C386.1,305.6 385.8,304.8 385.5,304.0 C385.3,303.2 385.1,302.4 384.8,301.6 C384.6,300.7 384.4,299.9 384.0,299.1 C383.6,298.4 382.9,297.8 382.5,297.0 C382.2,296.3 381.8,295.0 381.7,294.6" stroke="#13f811" stroke-width="0.29" fill="none" opacity="0.29" stroke-linecap="round"/>
<path d="M389.1,324.0 C389.1,323.1 388.8,320.4 389.2,318.7 C389.5,317.1 390.5,315.5 391.1,313.9 C391.7,312.2 392.3,310.6 392.8,308.9 C393.3,307.2 393.8,305.5 394.3,303.9 C394.8,302.2 395.1,300.4 395.7,298.8 C396.3,297.2 397.5,294.9 397.9,294.1" stroke="#09d008" stroke-width="0.47" fill="none" opacity="0.49" stroke-linecap="round"/>
<path d="M392.8,308.9 C393.2,308.4 394.3,307.0 395.1,306.2 C395.9,305.3 397.0,304.7 397.7,303.7 C398.5,302.8 399.0,301.7 399.5,300.6 C400.1,299.6 400.4,298.4 401.0,297.4 C401.7,296.4 402.6,295.6 403.3,294.6 C404.0,293.7 404.9,292.1 405.2,291.6" stroke="#09d008" stroke-width="0.37" fill="none" opacity="0.42" stroke-linecap="round"/>
<path d="M372.2,331.1 C372.8,329.6 375.0,325.2 375.9,322.0 C376.8,318.9 376.8,315.6 377.7,312.4 C378.5,309.3 379.6,306.2 380.9,303.2 C382.3,300.2 384.8,297.7 385.7,294.6 C386.6,291.6 385.3,287.9 386.3,284.9 C387.2,281.8 390.4,277.8 391.2,276.4" stroke="#09d008" stroke-width="0.26" fill="none" opacity="0.46" stroke-linecap="round"/>
<path d="M380.9,303.2 C381.5,302.6 383.3,301.0 384.3,299.7 C385.3,298.5 386.2,297.1 387.1,295.8 C388.1,294.5 389.0,293.2 390.0,291.9 C391.0,290.6 391.9,289.3 393.0,288.1 C394.1,286.9 395.4,285.9 396.5,284.8 C397.7,283.7 399.6,282.1 400.2,281.6" stroke="#09d008" stroke-width="0.21" fill="none" opacity="0.39" stroke-linecap="round"/>
<path d="M388.3,331.8 C388.4,331.1 388.6,328.9 388.8,327.4 C389.0,326.0 389.2,324.5 389.3,323.1 C389.4,321.6 389.3,320.1 389.4,318.7 C389.6,317.2 390.1,315.8 390.3,314.3 C390.5,312.9 390.3,311.4 390.5,309.9 C390.7,308.5 391.6,306.4 391.8,305.7" stroke="#13f811" stroke-width="0.26" fill="none" opacity="0.46" stroke-linecap="round"/>
<path d="M389.4,318.7 C389.4,318.2 389.0,316.7 388.9,315.7 C388.8,314.7 388.9,313.7 388.7,312.8 C388.4,311.8 387.7,311.0 387.4,310.1 C387.1,309.2 387.0,308.1 386.8,307.2 C386.7,306.2 386.8,305.2 386.5,304.2 C386.2,303.3 385.5,301.9 385.3,301.5" stroke="#13f811" stroke-width="0.21" fill="none" opacity="0.39" stroke-linecap="round"/>
<path d="M375.2,320.6 C375.5,320.3 376.3,319.3 376.7,318.5 C377.1,317.7 377.3,316.8 377.6,316.0 C377.8,315.2 378.1,314.3 378.4,313.5 C378.6,312.6 378.8,311.8 379.0,310.9 C379.2,310.1 379.4,309.2 379.6,308.4 C379.8,307.5 380.2,306.2 380.3,305.8" stroke="#0ce80b" stroke-width="0.37" fill="none" opacity="0.92" stroke-linecap="round"/>
<path d="M378.4,313.5 C378.4,313.3 378.3,312.7 378.4,312.4 C378.5,312.0 378.6,311.7 378.7,311.4 C378.9,311.0 379.0,310.7 379.1,310.3 C379.1,310.0 379.1,309.6 379.1,309.3 C379.2,308.9 379.5,308.6 379.6,308.3 C379.6,307.9 379.6,307.4 379.6,307.2" stroke="#0ce80b" stroke-width="0.29" fill="none" opacity="0.78" stroke-linecap="round"/>
<path d="M374.0,329.3 C374.6,328.5 376.2,325.8 377.4,324.2 C378.7,322.6 380.3,321.2 381.4,319.5 C382.5,317.8 383.3,315.9 384.0,313.9 C384.7,312.0 384.7,309.8 385.6,308.0 C386.4,306.2 388.2,304.8 389.2,303.1 C390.2,301.3 391.1,298.3 391.5,297.4" stroke="#09d008" stroke-width="0.31" fill="none" opacity="0.86" stroke-linecap="round"/>
<path d="M384.0,313.9 C384.0,313.4 384.1,311.9 384.3,310.8 C384.4,309.8 384.7,308.8 384.9,307.8 C385.0,306.7 385.3,305.7 385.3,304.7 C385.3,303.6 384.7,302.6 384.7,301.6 C384.7,300.6 385.1,299.6 385.1,298.5 C385.2,297.5 385.1,295.9 385.1,295.4" stroke="#09d008" stroke-width="0.25" fill="none" opacity="0.73" stroke-linecap="round"/>
<path d="M406.6,334.3 C407.0,332.8 408.5,328.1 408.8,324.9 C409.1,321.8 407.8,318.4 408.3,315.3 C408.8,312.2 411.2,309.4 411.8,306.2 C412.3,303.1 411.3,299.8 411.7,296.6 C412.0,293.4 413.8,290.4 414.0,287.2 C414.3,284.1 413.4,279.2 413.2,277.6" stroke="#13f811" stroke-width="0.40" fill="none" opacity="0.33" stroke-linecap="round"/>
<path d="M408.3,315.3 C408.9,314.6 411.1,312.8 412.0,311.3 C412.9,309.8 413.1,307.8 414.0,306.3 C414.9,304.9 416.5,303.8 417.6,302.4 C418.8,301.0 419.9,299.6 420.9,298.1 C421.8,296.6 422.4,294.8 423.3,293.3 C424.3,291.8 426.1,289.8 426.7,289.1" stroke="#13f811" stroke-width="0.32" fill="none" opacity="0.28" stroke-linecap="round"/>
<path d="M384.5,329.7 C385.1,328.5 386.7,324.8 388.1,322.4 C389.4,320.1 391.4,318.2 392.6,315.8 C393.8,313.4 394.6,310.8 395.2,308.2 C395.8,305.5 395.8,302.8 396.1,300.1 C396.4,297.5 396.5,294.8 397.0,292.1 C397.5,289.5 398.7,285.6 399.0,284.3" stroke="#0ce80b" stroke-width="0.35" fill="none" opacity="0.76" stroke-linecap="round"/>
<path d="M392.6,315.8 C392.7,315.2 392.8,313.4 392.8,312.2 C392.9,311.0 393.1,309.7 393.0,308.6 C392.9,307.4 392.2,306.2 392.2,305.0 C392.2,303.8 392.9,302.7 393.0,301.5 C393.2,300.3 393.0,299.1 393.1,297.9 C393.3,296.7 393.8,294.9 394.0,294.3" stroke="#0ce80b" stroke-width="0.28" fill="none" opacity="0.64" stroke-linecap="round"/>
<path d="M393.5,326.1 C393.6,325.7 393.7,324.2 393.8,323.3 C394.0,322.4 394.4,321.5 394.4,320.6 C394.5,319.6 394.1,318.7 394.2,317.8 C394.3,316.8 394.8,316.0 395.0,315.0 C395.1,314.1 394.8,313.2 394.9,312.2 C395.0,311.3 395.4,309.9 395.5,309.5" stroke="#13f811" stroke-width="0.48" fill="none" opacity="0.39" stroke-linecap="round"/>
<path d="M394.4,320.6 C394.4,320.3 394.3,319.3 394.1,318.8 C393.9,318.2 393.5,317.7 393.3,317.1 C393.0,316.5 392.9,315.9 392.7,315.3 C392.4,314.8 392.1,314.2 391.9,313.6 C391.7,313.1 391.5,312.5 391.3,311.9 C391.1,311.3 391.0,310.4 390.9,310.1" stroke="#13f811" stroke-width="0.38" fill="none" opacity="0.33" stroke-linecap="round"/>
<path d="M372.8,324.3 C373.0,323.5 373.4,321.3 373.7,319.8 C374.0,318.3 374.3,316.8 374.5,315.4 C374.8,313.9 374.9,312.3 375.1,310.9 C375.2,309.4 375.6,307.9 375.7,306.4 C375.8,304.9 375.9,303.3 375.8,301.8 C375.7,300.3 375.1,298.1 375.0,297.4" stroke="#13f811" stroke-width="0.37" fill="none" opacity="0.69" stroke-linecap="round"/>
<path d="M375.1,310.9 C374.9,310.5 374.5,309.5 374.3,308.8 C374.1,308.1 374.1,307.3 374.0,306.6 C373.9,305.8 373.7,305.1 373.6,304.4 C373.5,303.6 373.6,302.9 373.5,302.2 C373.5,301.4 373.5,300.7 373.5,299.9 C373.4,299.2 373.3,298.1 373.2,297.7" stroke="#13f811" stroke-width="0.30" fill="none" opacity="0.58" stroke-linecap="round"/>
<path d="M376.3,336.2 C376.8,335.4 378.4,333.1 379.2,331.5 C380.1,329.8 380.7,328.1 381.2,326.4 C381.8,324.6 381.8,322.7 382.5,321.0 C383.2,319.3 384.5,317.9 385.3,316.3 C386.0,314.6 386.4,312.8 386.8,311.0 C387.3,309.2 387.8,306.5 387.9,305.6" stroke="#13f811" stroke-width="0.41" fill="none" opacity="0.85" stroke-linecap="round"/>
<path d="M381.2,326.4 C381.4,325.8 382.0,324.3 382.0,323.3 C382.1,322.2 381.6,321.2 381.6,320.1 C381.5,319.0 381.7,318.0 381.8,316.9 C381.9,315.8 382.0,314.8 382.0,313.7 C382.0,312.6 382.0,311.6 382.0,310.5 C382.0,309.4 381.9,307.8 381.9,307.3" stroke="#13f811" stroke-width="0.33" fill="none" opacity="0.72" stroke-linecap="round"/>
<path d="M393.1,326.7 C393.0,325.9 392.4,323.4 392.5,321.7 C392.5,320.1 393.1,318.4 393.4,316.7 C393.6,315.1 393.8,313.4 393.8,311.7 C393.8,310.0 393.2,308.3 393.3,306.7 C393.4,305.0 394.0,303.4 394.3,301.7 C394.5,300.0 394.7,297.5 394.8,296.7" stroke="#13f811" stroke-width="0.38" fill="none" opacity="0.57" stroke-linecap="round"/>
<path d="M393.4,316.7 C393.5,316.4 394.1,315.2 394.4,314.5 C394.7,313.7 394.9,312.9 395.2,312.1 C395.4,311.3 395.6,310.4 396.0,309.7 C396.3,308.9 397.0,308.3 397.3,307.5 C397.7,306.8 397.7,305.9 397.9,305.1 C398.1,304.3 398.4,303.0 398.5,302.6" stroke="#13f811" stroke-width="0.30" fill="none" opacity="0.48" stroke-linecap="round"/>
<path d="M395.2,325.0 C395.5,323.6 396.5,319.2 397.3,316.3 C398.0,313.4 399.6,310.7 399.8,307.8 C400.1,304.8 398.5,301.8 398.8,298.9 C399.0,296.0 400.8,293.2 401.2,290.3 C401.6,287.3 400.9,284.3 401.2,281.3 C401.5,278.4 402.7,274.0 403.0,272.6" stroke="#13f811" stroke-width="0.33" fill="none" opacity="0.93" stroke-linecap="round"/>
<path d="M399.8,307.8 C399.6,306.8 399.0,303.9 398.7,302.0 C398.3,300.1 398.1,298.2 397.7,296.3 C397.3,294.4 397.0,292.4 396.4,290.6 C395.8,288.7 394.9,287.0 393.9,285.3 C393.0,283.6 391.6,282.2 390.6,280.5 C389.6,278.8 388.5,276.1 388.0,275.3" stroke="#13f811" stroke-width="0.27" fill="none" opacity="0.79" stroke-linecap="round"/>
<path d="M367.9,327.2 C368.7,325.8 370.8,321.6 372.5,319.0 C374.1,316.3 376.5,314.1 377.9,311.3 C379.3,308.5 379.8,305.3 381.0,302.4 C382.2,299.6 384.2,297.0 385.2,294.0 C386.2,291.1 385.8,287.6 387.1,284.8 C388.3,282.0 391.7,278.5 392.6,277.3" stroke="#13f811" stroke-width="0.31" fill="none" opacity="0.72" stroke-linecap="round"/>
<path d="M377.9,311.3 C378.6,310.8 380.9,309.5 382.3,308.5 C383.7,307.5 384.9,306.3 386.3,305.3 C387.7,304.3 389.4,303.7 390.7,302.6 C392.1,301.6 393.4,300.3 394.4,299.0 C395.5,297.7 396.2,296.1 397.1,294.6 C398.0,293.1 399.3,290.9 399.7,290.1" stroke="#13f811" stroke-width="0.25" fill="none" opacity="0.61" stroke-linecap="round"/>
<path d="M406.7,319.6 C406.7,319.1 406.7,317.7 406.9,316.8 C407.1,316.0 407.9,315.2 408.1,314.3 C408.4,313.5 408.4,312.5 408.5,311.6 C408.6,310.7 408.8,309.7 408.8,308.8 C408.8,307.9 408.7,307.0 408.8,306.0 C408.9,305.1 409.3,303.8 409.5,303.3" stroke="#09d008" stroke-width="0.45" fill="none" opacity="0.36" stroke-linecap="round"/>
<path d="M408.1,314.3 C408.1,314.1 408.1,313.6 408.1,313.2 C408.0,312.8 407.8,312.5 407.7,312.1 C407.7,311.7 407.7,311.3 407.7,310.9 C407.7,310.5 407.7,310.2 407.7,309.8 C407.6,309.4 407.5,309.0 407.5,308.6 C407.4,308.3 407.3,307.7 407.3,307.5" stroke="#09d008" stroke-width="0.36" fill="none" opacity="0.31" stroke-linecap="round"/>
<path d="M377.7,322.4 C378.2,320.8 379.3,315.9 380.4,312.8 C381.6,309.7 382.9,306.7 384.5,303.8 C386.1,300.9 388.2,298.4 390.0,295.6 C391.7,292.8 393.5,290.0 395.1,287.1 C396.8,284.3 398.4,281.4 399.9,278.5 C401.3,275.5 403.1,270.9 403.8,269.4" stroke="#09d008" stroke-width="0.43" fill="none" opacity="0.52" stroke-linecap="round"/>
<path d="M384.5,303.8 C384.5,302.8 384.4,299.9 384.4,298.0 C384.5,296.0 385.0,294.1 384.9,292.2 C384.9,290.2 384.3,288.3 384.2,286.4 C384.1,284.4 384.6,282.5 384.4,280.5 C384.2,278.6 383.4,276.8 382.9,274.9 C382.4,273.0 381.6,270.2 381.3,269.3" stroke="#09d008" stroke-width="0.34" fill="none" opacity="0.44" stroke-linecap="round"/>
<path d="M399.0,331.7 C398.9,331.3 398.5,330.1 398.4,329.2 C398.3,328.4 398.5,327.6 398.5,326.7 C398.5,325.9 398.4,325.0 398.3,324.2 C398.2,323.4 398.0,322.5 398.0,321.7 C398.0,320.9 398.3,320.1 398.4,319.2 C398.5,318.4 398.6,317.1 398.6,316.7" stroke="#13f811" stroke-width="0.43" fill="none" opacity="0.59" stroke-linecap="round"/>
<path d="M398.3,324.2 C398.4,324.0 398.6,323.5 398.8,323.1 C399.0,322.8 399.3,322.5 399.5,322.1 C399.7,321.8 400.0,321.5 400.1,321.1 C400.3,320.7 400.3,320.3 400.5,319.9 C400.6,319.6 400.9,319.3 401.1,319.0 C401.4,318.6 401.7,318.1 401.8,318.0" stroke="#13f811" stroke-width="0.35" fill="none" opacity="0.50" stroke-linecap="round"/>
<circle cx="389.1" cy="321.2" r="1.4" fill="#11ff10" opacity="0.81" filter="url(#b03)"/>
<circle cx="394.6" cy="321.8" r="1.6" fill="#11ff10" opacity="0.71" filter="url(#b03)"/>
<circle cx="394.5" cy="322.1" r="0.9" fill="#11ff10" opacity="0.62" filter="url(#b03)"/>
<circle cx="404.6" cy="334.3" r="1.4" fill="#11ff10" opacity="0.57" filter="url(#b03)"/>
<circle cx="398.0" cy="327.8" r="1.1" fill="#11ff10" opacity="0.77" filter="url(#b03)"/>
<circle cx="372.5" cy="332.8" r="0.9" fill="#11ff10" opacity="0.69" filter="url(#b03)"/>
<circle cx="396.5" cy="326.7" r="1.0" fill="#11ff10" opacity="0.75" filter="url(#b03)"/>
<circle cx="389.9" cy="319.2" r="1.4" fill="#11ff10" opacity="0.57" filter="url(#b03)"/>
<circle cx="400.6" cy="324.8" r="0.9" fill="#11ff10" opacity="0.72" filter="url(#b03)"/>
<circle cx="375.7" cy="332.0" r="1.5" fill="#11ff10" opacity="0.86" filter="url(#b03)"/>
<circle cx="374.8" cy="325.5" r="1.5" fill="#11ff10" opacity="0.78" filter="url(#b03)"/>
<circle cx="372.5" cy="325.7" r="1.6" fill="#11ff10" opacity="0.76" filter="url(#b03)"/>
<circle cx="379.0" cy="321.7" r="1.7" fill="#11ff10" opacity="0.58" filter="url(#b03)"/>
<circle cx="404.9" cy="318.3" r="1.0" fill="#11ff10" opacity="0.52" filter="url(#b03)"/>
<circle cx="376.9" cy="320.2" r="1.5" fill="#11ff10" opacity="0.64" filter="url(#b03)"/>
<circle cx="386.2" cy="322.9" r="1.2" fill="#11ff10" opacity="0.85" filter="url(#b03)"/>
<circle cx="374.9" cy="331.3" r="1.1" fill="#11ff10" opacity="0.93" filter="url(#b03)"/>
<circle cx="384.4" cy="333.1" r="1.7" fill="#11ff10" opacity="0.63" filter="url(#b03)"/>
<circle cx="404.9" cy="324.6" r="1.6" fill="#11ff10" opacity="0.71" filter="url(#b03)"/>
<circle cx="403.2" cy="323.9" r="1.4" fill="#11ff10" opacity="0.70" filter="url(#b03)"/>
<circle cx="390.5" cy="326.5" r="1.0" fill="#11ff10" opacity="0.81" filter="url(#b03)"/>
<circle cx="375.4" cy="328.0" r="1.3" fill="#11ff10" opacity="0.73" filter="url(#b03)"/>
<circle cx="394.0" cy="323.2" r="1.1" fill="#11ff10" opacity="0.79" filter="url(#b03)"/>
<circle cx="378.5" cy="334.4" r="1.4" fill="#11ff10" opacity="0.53" filter="url(#b03)"/>
<circle cx="386.1" cy="320.1" r="0.7" fill="#11ff10" opacity="0.81" filter="url(#b03)"/>
<circle cx="400.2" cy="328.1" r="1.5" fill="#11ff10" opacity="0.79" filter="url(#b03)"/>
<rect x="368.5" y="251.1" width="37.5" height="85.2" fill="#000" filter="url(#noise)" opacity="0.2"/>
</g>
<rect x="369.2" y="251.79999999999998" width="36.1" height="83.8" fill="none" stroke="#f040f0" stroke-width="1.4"/>
<rect x="260" y="260.3" width="13.899999999999977" height="29.899999999999977" fill="none" stroke="#b038b0" stroke-width="1.1"/>
<line x1="273.9" y1="260.3" x2="365" y2="254.6" stroke="#e040e0" stroke-width="0.9"/>
<path d="M364,252.5 L368,254.6 L364,256.7 Z" fill="#e040e0"/>
<clipPath id="cp5"><rect x="9" y="338.8" width="159.5" height="85.4"/></clipPath>
<g clip-path="url(#cp5)">
<rect x="9" y="338.8" width="159.5" height="85.4" fill="#015e01" />
<path d="M25.0,378.0 C30.0,377.0 45.0,373.0 55.0,372.0 C65.0,371.0 75.8,370.3 85.0,372.0 C94.2,373.7 100.8,378.7 110.0,382.0 C119.2,385.3 133.3,390.0 140.0,392.0 C146.7,394.0 151.7,393.3 150.0,394.0 C148.3,394.7 137.5,396.3 130.0,396.0 C122.5,395.7 112.5,393.3 105.0,392.0 C97.5,390.7 92.5,388.0 85.0,388.0 C77.5,388.0 67.5,392.0 60.0,392.0 C52.5,392.0 45.8,390.3 40.0,388.0 C34.2,385.7 27.5,379.7 25.0,378.0 Z" fill="#015801" opacity="0.6" filter="url(#b3)"/>
<path d="M30.0,350.0 C36.7,349.2 56.7,343.3 70.0,345.0 C83.3,346.7 98.3,355.0 110.0,360.0 C121.7,365.0 138.3,373.0 140.0,375.0 C141.7,377.0 129.2,373.5 120.0,372.0 C110.8,370.5 96.7,366.7 85.0,366.0 C73.3,365.3 59.2,367.0 50.0,368.0 C40.8,369.0 33.3,375.0 30.0,372.0 C26.7,369.0 30.0,353.7 30.0,350.0 Z" fill="#048204" opacity="0.5" filter="url(#b3)"/>
<path d="M8.0,412.0 C15.0,411.7 34.7,408.7 50.0,410.0 C65.3,411.3 85.0,417.7 100.0,420.0 C115.0,422.3 131.7,422.3 140.0,424.0 C148.3,425.7 172.0,429.0 150.0,430.0 C128.0,431.0 31.7,433.0 8.0,430.0 C-15.7,427.0 8.0,415.0 8.0,412.0 Z" fill="#014801" opacity="0.6" filter="url(#b1)"/>
<path d="M150.0,424.0 C151.3,422.3 155.5,417.7 158.0,414.0 C160.5,410.3 163.0,405.2 165.0,402.0 C167.0,398.8 169.2,390.3 170.0,395.0 C170.8,399.7 173.3,424.2 170.0,430.0 C166.7,435.8 153.3,431.0 150.0,430.0 C146.7,429.0 150.0,425.0 150.0,424.0 Z" fill="#048004" opacity="0.8" filter="url(#b1)"/>
<path d="M50.0,406.5 C53.1,407.2 62.2,409.4 68.5,410.6 C74.8,411.9 81.5,412.7 88.0,414.0 C94.5,415.3 101.3,417.4 107.5,418.5 C113.7,419.6 120.1,420.3 125.0,420.3 C129.9,420.3 134.8,418.8 136.7,418.5" stroke="#022a02" stroke-width="1.6" fill="none" opacity="0.45" filter="url(#b05)"/>
<path d="M125.0,420.3 C127.0,420.0 132.8,419.4 136.7,418.5 C140.6,417.6 144.9,416.6 148.4,415.0 C151.9,413.4 155.2,411.5 157.7,409.2 C160.2,406.9 162.0,403.9 163.6,401.0 C165.2,398.1 166.1,394.7 167.0,391.7 C167.9,388.7 168.7,384.4 169.0,383.0" stroke="#022a02" stroke-width="2.4" fill="none" opacity="0.8" filter="url(#b05)"/>
<path d="M8.0,408.5 C10.0,408.2 16.7,407.0 20.0,406.5 C23.3,406.0 24.0,405.7 28.0,405.5 C32.0,405.3 39.5,405.2 44.0,405.5 C48.5,405.8 53.2,407.2 55.0,407.5" stroke="#022402" stroke-width="3.2" fill="none" opacity="0.9" filter="url(#b05)"/>
<path d="M100.0,424.0 C101.7,423.4 105.8,420.8 110.0,420.5 C114.2,420.2 120.0,422.1 125.0,422.0 C130.0,421.9 135.8,419.7 140.0,420.0 C144.2,420.3 156.7,423.3 150.0,424.0 C143.3,424.7 108.3,424.0 100.0,424.0 Z" fill="#015401" opacity="0.6" filter="url(#b1)"/>
<path d="M20.1,375.3 C22.1,375.5 28.2,376.6 32.2,376.3 C36.2,376.0 40.3,374.3 44.3,373.3 C48.3,372.3 52.4,371.0 56.4,370.3 C60.4,369.6 63.8,369.3 68.5,369.3 C73.2,369.3 79.3,369.1 84.6,370.3 C89.9,371.5 95.5,374.5 100.1,376.3 C104.7,378.1 107.5,379.3 112.2,381.3 C116.9,383.3 122.9,386.7 128.3,388.4 C133.7,390.1 141.8,390.9 144.5,391.4" stroke="#04c804" stroke-width="3" fill="none" opacity="0.3" filter="url(#b1)" stroke-linecap="round"/>
<line x1="20.1" y1="375.3" x2="21.3" y2="369.2" stroke="#0cd80a" stroke-width="0.61" opacity="0.39"/>
<line x1="21.4" y1="375.4" x2="21.0" y2="369.8" stroke="#0cd80a" stroke-width="0.44" opacity="0.20"/>
<line x1="22.7" y1="375.5" x2="21.2" y2="365.0" stroke="#0cd80a" stroke-width="0.56" opacity="0.20"/>
<line x1="24.0" y1="375.6" x2="24.3" y2="369.0" stroke="#0cd80a" stroke-width="0.65" opacity="0.32"/>
<line x1="25.3" y1="375.7" x2="25.1" y2="371.7" stroke="#0cd80a" stroke-width="0.44" opacity="0.40"/>
<line x1="26.6" y1="375.8" x2="29.6" y2="365.0" stroke="#0cd80a" stroke-width="0.65" opacity="0.36"/>
<line x1="27.9" y1="375.9" x2="31.1" y2="363.8" stroke="#0cd80a" stroke-width="0.48" opacity="0.39"/>
<line x1="29.2" y1="376.1" x2="31.1" y2="368.0" stroke="#0cd80a" stroke-width="0.57" opacity="0.26"/>
<line x1="30.5" y1="376.2" x2="30.8" y2="369.0" stroke="#0cd80a" stroke-width="0.49" opacity="0.17"/>
<line x1="31.8" y1="376.3" x2="34.7" y2="365.3" stroke="#0cd80a" stroke-width="0.70" opacity="0.34"/>
<line x1="33.1" y1="376.1" x2="32.2" y2="367.2" stroke="#0cd80a" stroke-width="0.44" opacity="0.34"/>
<line x1="34.3" y1="375.8" x2="31.0" y2="368.6" stroke="#0cd80a" stroke-width="0.46" opacity="0.29"/>
<line x1="35.6" y1="375.5" x2="34.0" y2="369.5" stroke="#0cd80a" stroke-width="0.58" opacity="0.25"/>
<line x1="36.9" y1="375.1" x2="35.6" y2="370.2" stroke="#0cd80a" stroke-width="0.47" opacity="0.20"/>
<line x1="38.1" y1="374.8" x2="36.3" y2="369.5" stroke="#0cd80a" stroke-width="0.42" opacity="0.33"/>
<line x1="39.4" y1="374.5" x2="35.6" y2="362.5" stroke="#0cd80a" stroke-width="0.62" opacity="0.42"/>
<line x1="40.7" y1="374.2" x2="38.8" y2="370.3" stroke="#0cd80a" stroke-width="0.64" opacity="0.39"/>
<line x1="41.9" y1="373.9" x2="37.7" y2="365.1" stroke="#0cd80a" stroke-width="0.52" opacity="0.40"/>
<line x1="43.2" y1="373.6" x2="42.5" y2="361.6" stroke="#0cd80a" stroke-width="0.46" opacity="0.39"/>
<line x1="44.5" y1="373.3" x2="43.6" y2="366.0" stroke="#0cd80a" stroke-width="0.44" opacity="0.43"/>
<line x1="45.7" y1="372.9" x2="44.7" y2="363.6" stroke="#0cd80a" stroke-width="0.46" opacity="0.32"/>
<line x1="47.0" y1="372.6" x2="45.3" y2="363.6" stroke="#0cd80a" stroke-width="0.51" opacity="0.36"/>
<line x1="48.3" y1="372.3" x2="45.8" y2="365.8" stroke="#0cd80a" stroke-width="0.45" opacity="0.34"/>
<line x1="49.5" y1="372.0" x2="47.6" y2="367.5" stroke="#0cd80a" stroke-width="0.42" opacity="0.33"/>
<line x1="50.8" y1="371.7" x2="48.9" y2="362.9" stroke="#0cd80a" stroke-width="0.41" opacity="0.27"/>
<line x1="52.1" y1="371.4" x2="48.8" y2="365.2" stroke="#0cd80a" stroke-width="0.40" opacity="0.44"/>
<line x1="53.3" y1="371.1" x2="51.6" y2="366.4" stroke="#0cd80a" stroke-width="0.48" opacity="0.32"/>
<line x1="54.6" y1="370.7" x2="53.4" y2="366.3" stroke="#0cd80a" stroke-width="0.51" opacity="0.39"/>
<line x1="55.9" y1="370.4" x2="54.5" y2="366.7" stroke="#0cd80a" stroke-width="0.55" opacity="0.43"/>
<line x1="57.1" y1="370.2" x2="56.3" y2="361.7" stroke="#0cd80a" stroke-width="0.60" opacity="0.22"/>
<line x1="58.4" y1="370.1" x2="58.1" y2="366.0" stroke="#0cd80a" stroke-width="0.67" opacity="0.36"/>
<line x1="59.7" y1="370.0" x2="59.9" y2="363.8" stroke="#0cd80a" stroke-width="0.65" opacity="0.21"/>
<line x1="61.0" y1="369.9" x2="59.5" y2="360.8" stroke="#0cd80a" stroke-width="0.47" opacity="0.22"/>
<line x1="62.3" y1="369.8" x2="61.4" y2="364.1" stroke="#0cd80a" stroke-width="0.41" opacity="0.25"/>
<line x1="63.6" y1="369.7" x2="64.0" y2="365.0" stroke="#0cd80a" stroke-width="0.58" opacity="0.13"/>
<line x1="64.9" y1="369.6" x2="62.0" y2="359.0" stroke="#0cd80a" stroke-width="0.54" opacity="0.30"/>
<line x1="66.2" y1="369.5" x2="64.8" y2="362.7" stroke="#0cd80a" stroke-width="0.53" opacity="0.17"/>
<line x1="67.5" y1="369.4" x2="63.9" y2="358.2" stroke="#0cd80a" stroke-width="0.65" opacity="0.20"/>
<line x1="68.8" y1="369.3" x2="68.8" y2="362.7" stroke="#0cd80a" stroke-width="0.41" opacity="0.17"/>
<line x1="70.2" y1="369.4" x2="70.3" y2="362.2" stroke="#0cd80a" stroke-width="0.66" opacity="0.44"/>
<line x1="71.5" y1="369.5" x2="71.8" y2="365.2" stroke="#0cd80a" stroke-width="0.44" opacity="0.38"/>
<line x1="72.8" y1="369.6" x2="74.8" y2="363.0" stroke="#0cd80a" stroke-width="0.56" opacity="0.17"/>
<line x1="74.1" y1="369.6" x2="73.7" y2="365.7" stroke="#0cd80a" stroke-width="0.66" opacity="0.18"/>
<line x1="75.4" y1="369.7" x2="75.2" y2="361.5" stroke="#0cd80a" stroke-width="0.50" opacity="0.38"/>
<line x1="76.7" y1="369.8" x2="77.8" y2="364.1" stroke="#0cd80a" stroke-width="0.60" opacity="0.42"/>
<line x1="78.0" y1="369.9" x2="80.6" y2="361.7" stroke="#0cd80a" stroke-width="0.53" opacity="0.31"/>
<line x1="79.3" y1="370.0" x2="81.8" y2="360.8" stroke="#0cd80a" stroke-width="0.67" opacity="0.17"/>
<line x1="80.6" y1="370.0" x2="81.0" y2="364.9" stroke="#0cd80a" stroke-width="0.64" opacity="0.30"/>
<line x1="81.9" y1="370.1" x2="84.1" y2="363.9" stroke="#0cd80a" stroke-width="0.49" opacity="0.16"/>
<line x1="83.2" y1="370.2" x2="82.2" y2="365.9" stroke="#0cd80a" stroke-width="0.62" opacity="0.17"/>
<line x1="84.5" y1="370.3" x2="87.4" y2="360.3" stroke="#0cd80a" stroke-width="0.70" opacity="0.38"/>
<line x1="85.7" y1="370.7" x2="89.0" y2="363.7" stroke="#0cd80a" stroke-width="0.65" opacity="0.35"/>
<line x1="86.9" y1="371.2" x2="90.2" y2="365.5" stroke="#0cd80a" stroke-width="0.43" opacity="0.23"/>
<line x1="88.1" y1="371.7" x2="92.6" y2="359.5" stroke="#0cd80a" stroke-width="0.48" opacity="0.37"/>
<line x1="89.3" y1="372.1" x2="89.9" y2="364.2" stroke="#0cd80a" stroke-width="0.41" opacity="0.21"/>
<line x1="90.6" y1="372.6" x2="94.6" y2="367.0" stroke="#0cd80a" stroke-width="0.47" opacity="0.39"/>
<line x1="91.8" y1="373.1" x2="95.4" y2="362.0" stroke="#0cd80a" stroke-width="0.70" opacity="0.37"/>
<line x1="93.0" y1="373.5" x2="94.9" y2="365.5" stroke="#0cd80a" stroke-width="0.54" opacity="0.20"/>
<line x1="94.2" y1="374.0" x2="95.8" y2="365.4" stroke="#0cd80a" stroke-width="0.51" opacity="0.14"/>
<line x1="95.4" y1="374.5" x2="97.7" y2="369.3" stroke="#0cd80a" stroke-width="0.41" opacity="0.19"/>
<line x1="96.6" y1="375.0" x2="97.4" y2="369.5" stroke="#0cd80a" stroke-width="0.58" opacity="0.11"/>
<line x1="97.9" y1="375.4" x2="102.2" y2="364.3" stroke="#0cd80a" stroke-width="0.56" opacity="0.19"/>
<line x1="99.1" y1="375.9" x2="102.0" y2="370.8" stroke="#0cd80a" stroke-width="0.59" opacity="0.13"/>
<line x1="100.3" y1="376.4" x2="101.6" y2="363.8" stroke="#0cd80a" stroke-width="0.66" opacity="0.09"/>
<line x1="101.5" y1="376.9" x2="103.6" y2="365.5" stroke="#0cd80a" stroke-width="0.42" opacity="0.14"/>
<line x1="102.7" y1="377.4" x2="105.7" y2="365.4" stroke="#0cd80a" stroke-width="0.55" opacity="0.16"/>
<line x1="103.9" y1="377.9" x2="106.3" y2="372.3" stroke="#0cd80a" stroke-width="0.40" opacity="0.14"/>
<line x1="105.1" y1="378.4" x2="108.3" y2="368.0" stroke="#0cd80a" stroke-width="0.47" opacity="0.07"/>
<line x1="106.3" y1="378.9" x2="109.8" y2="369.2" stroke="#0cd80a" stroke-width="0.67" opacity="0.18"/>
<line x1="107.5" y1="379.4" x2="110.4" y2="375.5" stroke="#0cd80a" stroke-width="0.68" opacity="0.19"/>
<line x1="108.7" y1="379.9" x2="114.2" y2="369.8" stroke="#0cd80a" stroke-width="0.62" opacity="0.17"/>
<line x1="109.9" y1="380.4" x2="112.2" y2="371.4" stroke="#0cd80a" stroke-width="0.44" opacity="0.18"/>
<line x1="111.1" y1="380.9" x2="112.3" y2="371.6" stroke="#0cd80a" stroke-width="0.59" opacity="0.16"/>
<line x1="112.3" y1="381.4" x2="117.0" y2="374.2" stroke="#0cd80a" stroke-width="0.66" opacity="0.12"/>
<line x1="113.5" y1="381.9" x2="118.1" y2="371.5" stroke="#0cd80a" stroke-width="0.57" opacity="0.13"/>
<line x1="114.7" y1="382.4" x2="119.4" y2="370.9" stroke="#0cd80a" stroke-width="0.69" opacity="0.12"/>
<line x1="115.9" y1="382.9" x2="122.1" y2="375.0" stroke="#0cd80a" stroke-width="0.61" opacity="0.12"/>
<line x1="117.1" y1="383.5" x2="118.9" y2="379.2" stroke="#0cd80a" stroke-width="0.52" opacity="0.19"/>
<line x1="118.3" y1="384.0" x2="125.5" y2="375.6" stroke="#0cd80a" stroke-width="0.53" opacity="0.13"/>
<line x1="119.5" y1="384.5" x2="124.3" y2="376.9" stroke="#0cd80a" stroke-width="0.42" opacity="0.10"/>
<line x1="120.7" y1="385.0" x2="122.3" y2="380.1" stroke="#0cd80a" stroke-width="0.49" opacity="0.22"/>
<line x1="121.9" y1="385.6" x2="125.5" y2="381.1" stroke="#0cd80a" stroke-width="0.49" opacity="0.10"/>
<line x1="123.1" y1="386.1" x2="125.2" y2="373.5" stroke="#0cd80a" stroke-width="0.43" opacity="0.09"/>
<line x1="124.3" y1="386.6" x2="125.8" y2="382.4" stroke="#0cd80a" stroke-width="0.46" opacity="0.09"/>
<line x1="125.5" y1="387.2" x2="127.5" y2="383.7" stroke="#0cd80a" stroke-width="0.41" opacity="0.10"/>
<line x1="126.7" y1="387.7" x2="132.1" y2="380.5" stroke="#0cd80a" stroke-width="0.60" opacity="0.18"/>
<line x1="127.9" y1="388.2" x2="133.6" y2="379.7" stroke="#0cd80a" stroke-width="0.66" opacity="0.09"/>
<line x1="129.1" y1="388.5" x2="130.2" y2="384.3" stroke="#0cd80a" stroke-width="0.56" opacity="0.15"/>
<line x1="130.4" y1="388.8" x2="130.3" y2="377.8" stroke="#0cd80a" stroke-width="0.61" opacity="0.13"/>
<line x1="131.7" y1="389.0" x2="131.9" y2="381.3" stroke="#0cd80a" stroke-width="0.48" opacity="0.16"/>
<line x1="133.0" y1="389.3" x2="136.7" y2="381.1" stroke="#0cd80a" stroke-width="0.48" opacity="0.18"/>
<line x1="134.2" y1="389.5" x2="135.5" y2="384.9" stroke="#0cd80a" stroke-width="0.45" opacity="0.20"/>
<line x1="135.5" y1="389.7" x2="136.0" y2="377.1" stroke="#0cd80a" stroke-width="0.64" opacity="0.10"/>
<line x1="136.8" y1="390.0" x2="136.4" y2="383.3" stroke="#0cd80a" stroke-width="0.53" opacity="0.08"/>
<line x1="138.1" y1="390.2" x2="140.4" y2="380.2" stroke="#0cd80a" stroke-width="0.53" opacity="0.18"/>
<line x1="139.4" y1="390.4" x2="139.9" y2="384.4" stroke="#0cd80a" stroke-width="0.51" opacity="0.07"/>
<line x1="140.7" y1="390.7" x2="139.9" y2="378.7" stroke="#0cd80a" stroke-width="0.43" opacity="0.19"/>
<line x1="141.9" y1="390.9" x2="143.6" y2="379.7" stroke="#0cd80a" stroke-width="0.53" opacity="0.09"/>
<line x1="143.2" y1="391.2" x2="144.0" y2="387.3" stroke="#0cd80a" stroke-width="0.47" opacity="0.09"/>
<line x1="144.5" y1="391.4" x2="143.2" y2="379.3" stroke="#0cd80a" stroke-width="0.51" opacity="0.18"/>
<path d="M20.1,375.3 C22.1,375.5 28.2,376.6 32.2,376.3 C36.2,376.0 40.3,374.3 44.3,373.3 C48.3,372.3 52.4,371.0 56.4,370.3 C60.4,369.6 63.8,369.3 68.5,369.3 C73.2,369.3 79.3,369.1 84.6,370.3 C89.9,371.5 95.5,374.5 100.1,376.3 C104.7,378.1 107.5,379.3 112.2,381.3 C116.9,383.3 122.9,386.7 128.3,388.4 C133.7,390.1 141.8,390.9 144.5,391.4" stroke="#0cf40b" stroke-width="1.1" fill="none" opacity="0.44999999999999996" stroke-dasharray="3.2,1.3,3.2,2.7,2.9,3.8,3.4,2.8,3.3,2.5,2.7,3.5,2.9,2.1,1.1,3.4,2.0,2.3,1.9,2.7,2.2,3.5,2.8,2.7,3.3,2.3,2.6,3.3,3.2,3.2,3.7,2.7,2.7,1.6,1.7,2.3,2.5,3.7,1.1,2.0,3.2,2.4,3.5,1.5,3.3,2.3,2.7,1.2,2.2,3.4,3.2,2.7,2.3,1.1,3.1,2.3,3.2,2.8,2.2,3.6" filter="url(#b03)"/>
<circle cx="21.2" cy="375.5" r="0.94" fill="#0bf00b" opacity="0.44" filter="url(#b03)"/>
<circle cx="25.3" cy="375.7" r="0.84" fill="#0bf00b" opacity="0.48" filter="url(#b03)"/>
<circle cx="24.1" cy="375.5" r="0.99" fill="#0bf00b" opacity="0.67" filter="url(#b03)"/>
<circle cx="24.4" cy="376.5" r="0.79" fill="#0bf00b" opacity="0.42" filter="url(#b03)"/>
<circle cx="28.6" cy="375.9" r="1.06" fill="#0bf00b" opacity="0.74" filter="url(#b03)"/>
<circle cx="29.1" cy="376.1" r="0.71" fill="#0bf00b" opacity="0.73" filter="url(#b03)"/>
<circle cx="29.3" cy="375.7" r="0.85" fill="#0bf00b" opacity="0.69" filter="url(#b03)"/>
<circle cx="33.1" cy="376.7" r="0.77" fill="#0bf00b" opacity="0.73" filter="url(#b03)"/>
<circle cx="35.7" cy="375.7" r="1.20" fill="#0bf00b" opacity="0.61" filter="url(#b03)"/>
<circle cx="38.7" cy="375.7" r="0.95" fill="#0bf00b" opacity="0.48" filter="url(#b03)"/>
<circle cx="38.4" cy="375.3" r="0.87" fill="#0bf00b" opacity="0.78" filter="url(#b03)"/>
<circle cx="39.7" cy="373.5" r="0.80" fill="#0bf00b" opacity="0.79" filter="url(#b03)"/>
<circle cx="39.3" cy="374.8" r="1.04" fill="#0bf00b" opacity="0.53" filter="url(#b03)"/>
<circle cx="40.0" cy="374.3" r="1.03" fill="#0bf00b" opacity="0.62" filter="url(#b03)"/>
<circle cx="41.8" cy="375.1" r="0.82" fill="#0bf00b" opacity="0.50" filter="url(#b03)"/>
<circle cx="46.8" cy="372.2" r="1.14" fill="#0bf00b" opacity="0.46" filter="url(#b03)"/>
<circle cx="44.8" cy="374.9" r="0.51" fill="#0bf00b" opacity="0.59" filter="url(#b03)"/>
<circle cx="46.0" cy="373.0" r="0.73" fill="#0bf00b" opacity="0.41" filter="url(#b03)"/>
<circle cx="48.4" cy="372.9" r="0.93" fill="#0bf00b" opacity="0.72" filter="url(#b03)"/>
<circle cx="49.8" cy="371.0" r="0.90" fill="#0bf00b" opacity="0.67" filter="url(#b03)"/>
<circle cx="54.4" cy="370.8" r="1.02" fill="#0bf00b" opacity="0.56" filter="url(#b03)"/>
<circle cx="56.7" cy="369.2" r="0.92" fill="#0bf00b" opacity="0.86" filter="url(#b03)"/>
<circle cx="56.2" cy="371.3" r="0.55" fill="#0bf00b" opacity="0.68" filter="url(#b03)"/>
<circle cx="57.6" cy="369.0" r="1.07" fill="#0bf00b" opacity="0.64" filter="url(#b03)"/>
<circle cx="58.4" cy="370.8" r="0.71" fill="#0bf00b" opacity="0.43" filter="url(#b03)"/>
<circle cx="58.5" cy="370.2" r="0.80" fill="#0bf00b" opacity="0.43" filter="url(#b03)"/>
<circle cx="61.0" cy="369.0" r="0.98" fill="#0bf00b" opacity="0.55" filter="url(#b03)"/>
<circle cx="64.2" cy="369.8" r="0.73" fill="#0bf00b" opacity="0.78" filter="url(#b03)"/>
<circle cx="63.6" cy="368.4" r="0.80" fill="#0bf00b" opacity="0.84" filter="url(#b03)"/>
<circle cx="67.4" cy="369.7" r="0.76" fill="#0bf00b" opacity="0.83" filter="url(#b03)"/>
<circle cx="70.4" cy="368.7" r="0.64" fill="#0bf00b" opacity="0.44" filter="url(#b03)"/>
<circle cx="70.0" cy="369.4" r="0.65" fill="#0bf00b" opacity="0.57" filter="url(#b03)"/>
<circle cx="72.3" cy="368.6" r="0.51" fill="#0bf00b" opacity="0.75" filter="url(#b03)"/>
<circle cx="72.4" cy="371.3" r="1.18" fill="#0bf00b" opacity="0.43" filter="url(#b03)"/>
<circle cx="74.3" cy="370.2" r="0.78" fill="#0bf00b" opacity="0.79" filter="url(#b03)"/>
<circle cx="76.5" cy="370.1" r="0.95" fill="#0bf00b" opacity="0.81" filter="url(#b03)"/>
<circle cx="77.0" cy="370.9" r="0.57" fill="#0bf00b" opacity="0.50" filter="url(#b03)"/>
<circle cx="76.9" cy="368.0" r="0.74" fill="#0bf00b" opacity="0.52" filter="url(#b03)"/>
<circle cx="80.6" cy="370.8" r="1.17" fill="#0bf00b" opacity="0.62" filter="url(#b03)"/>
<circle cx="79.1" cy="370.4" r="0.76" fill="#0bf00b" opacity="0.60" filter="url(#b03)"/>
<circle cx="84.8" cy="370.5" r="1.14" fill="#0bf00b" opacity="0.43" filter="url(#b03)"/>
<circle cx="85.1" cy="369.7" r="0.51" fill="#0bf00b" opacity="0.56" filter="url(#b03)"/>
<circle cx="87.6" cy="370.7" r="0.61" fill="#0bf00b" opacity="0.71" filter="url(#b03)"/>
<circle cx="88.8" cy="371.1" r="0.78" fill="#0bf00b" opacity="0.70" filter="url(#b03)"/>
<circle cx="89.4" cy="371.8" r="1.09" fill="#0bf00b" opacity="0.59" filter="url(#b03)"/>
<circle cx="88.6" cy="372.3" r="0.64" fill="#0bf00b" opacity="0.67" filter="url(#b03)"/>
<circle cx="90.1" cy="371.6" r="0.81" fill="#0bf00b" opacity="0.57" filter="url(#b03)"/>
<circle cx="94.7" cy="374.8" r="0.74" fill="#0bf00b" opacity="0.41" filter="url(#b03)"/>
<circle cx="100.9" cy="374.6" r="1.03" fill="#0bf00b" opacity="0.41" filter="url(#b03)"/>
<circle cx="103.1" cy="376.8" r="0.83" fill="#0bf00b" opacity="0.24" filter="url(#b03)"/>
<circle cx="102.1" cy="377.9" r="1.19" fill="#0bf00b" opacity="0.22" filter="url(#b03)"/>
<circle cx="105.9" cy="377.9" r="1.09" fill="#0bf00b" opacity="0.20" filter="url(#b03)"/>
<circle cx="110.2" cy="378.5" r="1.18" fill="#0bf00b" opacity="0.28" filter="url(#b03)"/>
<circle cx="109.3" cy="380.2" r="0.56" fill="#0bf00b" opacity="0.30" filter="url(#b03)"/>
<circle cx="112.1" cy="381.0" r="1.15" fill="#0bf00b" opacity="0.21" filter="url(#b03)"/>
<circle cx="111.5" cy="380.7" r="0.64" fill="#0bf00b" opacity="0.23" filter="url(#b03)"/>
<circle cx="112.3" cy="382.3" r="1.01" fill="#0bf00b" opacity="0.31" filter="url(#b03)"/>
<circle cx="114.4" cy="381.9" r="0.87" fill="#0bf00b" opacity="0.30" filter="url(#b03)"/>
<circle cx="117.0" cy="384.1" r="0.94" fill="#0bf00b" opacity="0.21" filter="url(#b03)"/>
<circle cx="116.1" cy="383.7" r="1.07" fill="#0bf00b" opacity="0.33" filter="url(#b03)"/>
<circle cx="118.8" cy="385.4" r="0.64" fill="#0bf00b" opacity="0.34" filter="url(#b03)"/>
<circle cx="120.4" cy="383.6" r="0.78" fill="#0bf00b" opacity="0.41" filter="url(#b03)"/>
<circle cx="121.2" cy="384.6" r="1.11" fill="#0bf00b" opacity="0.42" filter="url(#b03)"/>
<circle cx="126.1" cy="387.3" r="0.97" fill="#0bf00b" opacity="0.36" filter="url(#b03)"/>
<circle cx="125.7" cy="387.3" r="0.59" fill="#0bf00b" opacity="0.32" filter="url(#b03)"/>
<circle cx="124.9" cy="387.0" r="1.17" fill="#0bf00b" opacity="0.24" filter="url(#b03)"/>
<circle cx="130.5" cy="387.8" r="0.81" fill="#0bf00b" opacity="0.37" filter="url(#b03)"/>
<circle cx="135.3" cy="389.1" r="1.05" fill="#0bf00b" opacity="0.41" filter="url(#b03)"/>
<circle cx="136.6" cy="390.1" r="1.15" fill="#0bf00b" opacity="0.33" filter="url(#b03)"/>
<circle cx="144.1" cy="391.8" r="0.70" fill="#0bf00b" opacity="0.25" filter="url(#b03)"/>
<circle cx="144.2" cy="392.1" r="1.11" fill="#0bf00b" opacity="0.23" filter="url(#b03)"/>
<circle cx="142.6" cy="391.0" r="0.97" fill="#0bf00b" opacity="0.31" filter="url(#b03)"/>
<path d="M52.4,394.4 C53.7,393.4 57.4,389.8 60.4,388.4 C63.4,387.0 66.8,386.1 70.5,385.8 C74.2,385.5 78.7,385.8 82.6,386.4 C86.5,387.0 90.1,388.2 94.0,389.4 C97.9,390.6 102.4,392.7 106.1,393.4 C109.8,394.1 111.8,393.4 116.2,393.4 C120.6,393.4 127.7,393.4 132.4,393.4 C137.1,393.4 142.5,393.4 144.5,393.4" stroke="#04c804" stroke-width="2.5" fill="none" opacity="0.25" filter="url(#b1)" stroke-linecap="round"/>
<line x1="52.4" y1="394.4" x2="48.9" y2="388.6" stroke="#0cd80a" stroke-width="0.41" opacity="0.12"/>
<line x1="54.0" y1="393.2" x2="49.7" y2="389.9" stroke="#0cd80a" stroke-width="0.48" opacity="0.23"/>
<line x1="55.5" y1="392.1" x2="53.8" y2="388.0" stroke="#0cd80a" stroke-width="0.58" opacity="0.20"/>
<line x1="57.1" y1="390.9" x2="54.6" y2="387.2" stroke="#0cd80a" stroke-width="0.63" opacity="0.14"/>
<line x1="58.6" y1="389.7" x2="54.1" y2="385.1" stroke="#0cd80a" stroke-width="0.49" opacity="0.17"/>
<line x1="60.2" y1="388.6" x2="57.8" y2="385.2" stroke="#0cd80a" stroke-width="0.45" opacity="0.12"/>
<line x1="62.0" y1="388.0" x2="59.7" y2="382.6" stroke="#0cd80a" stroke-width="0.56" opacity="0.22"/>
<line x1="63.9" y1="387.5" x2="62.8" y2="381.4" stroke="#0cd80a" stroke-width="0.41" opacity="0.14"/>
<line x1="65.8" y1="387.0" x2="65.4" y2="381.8" stroke="#0cd80a" stroke-width="0.61" opacity="0.33"/>
<line x1="67.7" y1="386.5" x2="66.1" y2="381.2" stroke="#0cd80a" stroke-width="0.50" opacity="0.25"/>
<line x1="69.6" y1="386.0" x2="68.5" y2="384.2" stroke="#0cd80a" stroke-width="0.56" opacity="0.21"/>
<line x1="71.5" y1="385.8" x2="70.9" y2="382.3" stroke="#0cd80a" stroke-width="0.55" opacity="0.12"/>
<line x1="73.4" y1="385.9" x2="73.4" y2="383.6" stroke="#0cd80a" stroke-width="0.47" opacity="0.32"/>
<line x1="75.4" y1="386.0" x2="74.9" y2="383.4" stroke="#0cd80a" stroke-width="0.62" opacity="0.23"/>
<line x1="77.3" y1="386.1" x2="76.8" y2="383.2" stroke="#0cd80a" stroke-width="0.66" opacity="0.15"/>
<line x1="79.3" y1="386.2" x2="80.1" y2="381.4" stroke="#0cd80a" stroke-width="0.46" opacity="0.30"/>
<line x1="81.2" y1="386.3" x2="81.9" y2="381.8" stroke="#0cd80a" stroke-width="0.40" opacity="0.21"/>
<line x1="83.2" y1="386.5" x2="86.1" y2="381.9" stroke="#0cd80a" stroke-width="0.62" opacity="0.30"/>
<line x1="85.0" y1="387.0" x2="86.0" y2="383.7" stroke="#0cd80a" stroke-width="0.46" opacity="0.23"/>
<line x1="86.9" y1="387.5" x2="90.1" y2="382.3" stroke="#0cd80a" stroke-width="0.61" opacity="0.18"/>
<line x1="88.8" y1="388.0" x2="89.3" y2="385.4" stroke="#0cd80a" stroke-width="0.50" opacity="0.22"/>
<line x1="90.7" y1="388.5" x2="92.1" y2="385.6" stroke="#0cd80a" stroke-width="0.50" opacity="0.14"/>
<line x1="92.6" y1="389.0" x2="93.0" y2="385.8" stroke="#0cd80a" stroke-width="0.46" opacity="0.10"/>
<line x1="94.5" y1="389.6" x2="95.3" y2="385.9" stroke="#0cd80a" stroke-width="0.66" opacity="0.06"/>
<line x1="96.3" y1="390.2" x2="98.4" y2="386.3" stroke="#0cd80a" stroke-width="0.68" opacity="0.16"/>
<line x1="98.2" y1="390.8" x2="98.5" y2="386.8" stroke="#0cd80a" stroke-width="0.68" opacity="0.17"/>
<line x1="100.0" y1="391.4" x2="100.4" y2="386.9" stroke="#0cd80a" stroke-width="0.70" opacity="0.12"/>
<line x1="101.9" y1="392.0" x2="104.7" y2="387.3" stroke="#0cd80a" stroke-width="0.43" opacity="0.16"/>
<line x1="103.7" y1="392.6" x2="104.7" y2="390.3" stroke="#0cd80a" stroke-width="0.43" opacity="0.18"/>
<line x1="105.6" y1="393.2" x2="106.0" y2="388.5" stroke="#0cd80a" stroke-width="0.66" opacity="0.18"/>
<line x1="107.5" y1="393.4" x2="107.8" y2="389.6" stroke="#0cd80a" stroke-width="0.41" opacity="0.12"/>
<line x1="109.4" y1="393.4" x2="110.9" y2="388.1" stroke="#0cd80a" stroke-width="0.64" opacity="0.09"/>
<line x1="111.4" y1="393.4" x2="112.4" y2="388.5" stroke="#0cd80a" stroke-width="0.56" opacity="0.16"/>
<line x1="113.3" y1="393.4" x2="112.4" y2="389.4" stroke="#0cd80a" stroke-width="0.67" opacity="0.15"/>
<line x1="115.3" y1="393.4" x2="114.3" y2="387.0" stroke="#0cd80a" stroke-width="0.58" opacity="0.12"/>
<line x1="117.2" y1="393.4" x2="116.8" y2="390.4" stroke="#0cd80a" stroke-width="0.59" opacity="0.10"/>
<line x1="119.2" y1="393.4" x2="118.6" y2="389.6" stroke="#0cd80a" stroke-width="0.50" opacity="0.06"/>
<line x1="121.1" y1="393.4" x2="120.6" y2="388.5" stroke="#0cd80a" stroke-width="0.46" opacity="0.12"/>
<line x1="123.1" y1="393.4" x2="123.6" y2="387.2" stroke="#0cd80a" stroke-width="0.67" opacity="0.15"/>
<line x1="125.0" y1="393.4" x2="124.2" y2="390.0" stroke="#0cd80a" stroke-width="0.45" opacity="0.16"/>
<line x1="127.0" y1="393.4" x2="126.5" y2="389.1" stroke="#0cd80a" stroke-width="0.42" opacity="0.12"/>
<line x1="128.9" y1="393.4" x2="129.2" y2="390.9" stroke="#0cd80a" stroke-width="0.64" opacity="0.10"/>
<line x1="130.9" y1="393.4" x2="131.9" y2="388.6" stroke="#0cd80a" stroke-width="0.50" opacity="0.07"/>
<line x1="132.8" y1="393.4" x2="132.6" y2="391.1" stroke="#0cd80a" stroke-width="0.70" opacity="0.16"/>
<line x1="134.8" y1="393.4" x2="135.7" y2="390.4" stroke="#0cd80a" stroke-width="0.40" opacity="0.13"/>
<line x1="136.7" y1="393.4" x2="136.6" y2="390.7" stroke="#0cd80a" stroke-width="0.60" opacity="0.06"/>
<line x1="138.7" y1="393.4" x2="139.0" y2="390.3" stroke="#0cd80a" stroke-width="0.54" opacity="0.09"/>
<line x1="140.6" y1="393.4" x2="141.4" y2="389.7" stroke="#0cd80a" stroke-width="0.64" opacity="0.15"/>
<line x1="142.6" y1="393.4" x2="143.0" y2="388.1" stroke="#0cd80a" stroke-width="0.56" opacity="0.07"/>
<line x1="144.5" y1="393.4" x2="142.9" y2="386.6" stroke="#0cd80a" stroke-width="0.54" opacity="0.07"/>
<path d="M52.4,394.4 C53.7,393.4 57.4,389.8 60.4,388.4 C63.4,387.0 66.8,386.1 70.5,385.8 C74.2,385.5 78.7,385.8 82.6,386.4 C86.5,387.0 90.1,388.2 94.0,389.4 C97.9,390.6 102.4,392.7 106.1,393.4 C109.8,394.1 111.8,393.4 116.2,393.4 C120.6,393.4 127.7,393.4 132.4,393.4 C137.1,393.4 142.5,393.4 144.5,393.4" stroke="#0cf40b" stroke-width="1.1" fill="none" opacity="0.3" stroke-dasharray="2.6,3.7,3.9,2.5,3.2,3.0,1.7,1.2,3.2,2.4,1.9,3.4,2.5,1.1,2.4,2.0,3.5,4.0,3.7,1.7,3.7,4.0,3.6,1.1,2.5,1.6,3.0,3.1,1.3,1.8,3.8,3.4,3.9,3.9,2.6,3.5,2.8,1.9,2.2,2.8,2.1,3.5,1.4,2.0,1.8,1.5,4.0,2.8,1.4,1.6,2.5,2.2,2.1,3.2,1.5,3.9,2.4,2.2,2.1,2.5" filter="url(#b03)"/>
<circle cx="58.1" cy="389.6" r="0.90" fill="#0bf00b" opacity="0.53" filter="url(#b03)"/>
<circle cx="58.1" cy="388.2" r="1.00" fill="#0bf00b" opacity="0.48" filter="url(#b03)"/>
<circle cx="60.2" cy="390.0" r="1.04" fill="#0bf00b" opacity="0.44" filter="url(#b03)"/>
<circle cx="62.4" cy="388.8" r="0.55" fill="#0bf00b" opacity="0.41" filter="url(#b03)"/>
<circle cx="61.5" cy="387.8" r="0.71" fill="#0bf00b" opacity="0.50" filter="url(#b03)"/>
<circle cx="65.1" cy="385.8" r="0.83" fill="#0bf00b" opacity="0.55" filter="url(#b03)"/>
<circle cx="65.3" cy="386.2" r="1.12" fill="#0bf00b" opacity="0.84" filter="url(#b03)"/>
<circle cx="66.8" cy="387.0" r="1.03" fill="#0bf00b" opacity="0.55" filter="url(#b03)"/>
<circle cx="66.5" cy="386.6" r="1.20" fill="#0bf00b" opacity="0.42" filter="url(#b03)"/>
<circle cx="73.1" cy="385.3" r="1.09" fill="#0bf00b" opacity="0.49" filter="url(#b03)"/>
<circle cx="72.2" cy="385.8" r="1.07" fill="#0bf00b" opacity="0.38" filter="url(#b03)"/>
<circle cx="71.6" cy="385.5" r="0.61" fill="#0bf00b" opacity="0.72" filter="url(#b03)"/>
<circle cx="77.2" cy="386.2" r="1.16" fill="#0bf00b" opacity="0.59" filter="url(#b03)"/>
<circle cx="79.6" cy="386.1" r="0.63" fill="#0bf00b" opacity="0.56" filter="url(#b03)"/>
<circle cx="78.6" cy="385.5" r="1.12" fill="#0bf00b" opacity="0.54" filter="url(#b03)"/>
<circle cx="82.9" cy="387.0" r="0.80" fill="#0bf00b" opacity="0.56" filter="url(#b03)"/>
<circle cx="84.5" cy="387.5" r="0.56" fill="#0bf00b" opacity="0.73" filter="url(#b03)"/>
<circle cx="86.8" cy="388.5" r="0.52" fill="#0bf00b" opacity="0.48" filter="url(#b03)"/>
<circle cx="90.5" cy="389.5" r="1.14" fill="#0bf00b" opacity="0.38" filter="url(#b03)"/>
<circle cx="90.7" cy="389.3" r="0.73" fill="#0bf00b" opacity="0.41" filter="url(#b03)"/>
<circle cx="92.5" cy="388.2" r="0.81" fill="#0bf00b" opacity="0.37" filter="url(#b03)"/>
<circle cx="94.0" cy="389.4" r="1.16" fill="#0bf00b" opacity="0.26" filter="url(#b03)"/>
<circle cx="96.4" cy="388.6" r="0.54" fill="#0bf00b" opacity="0.34" filter="url(#b03)"/>
<circle cx="95.2" cy="390.7" r="0.58" fill="#0bf00b" opacity="0.39" filter="url(#b03)"/>
<circle cx="95.2" cy="390.3" r="0.85" fill="#0bf00b" opacity="0.28" filter="url(#b03)"/>
<circle cx="99.0" cy="391.1" r="1.13" fill="#0bf00b" opacity="0.32" filter="url(#b03)"/>
<circle cx="99.8" cy="390.6" r="0.98" fill="#0bf00b" opacity="0.23" filter="url(#b03)"/>
<circle cx="98.3" cy="390.9" r="0.73" fill="#0bf00b" opacity="0.24" filter="url(#b03)"/>
<circle cx="101.6" cy="391.6" r="0.83" fill="#0bf00b" opacity="0.25" filter="url(#b03)"/>
<circle cx="103.7" cy="393.1" r="1.06" fill="#0bf00b" opacity="0.25" filter="url(#b03)"/>
<circle cx="104.5" cy="393.4" r="0.81" fill="#0bf00b" opacity="0.33" filter="url(#b03)"/>
<circle cx="101.6" cy="392.1" r="1.16" fill="#0bf00b" opacity="0.28" filter="url(#b03)"/>
<circle cx="108.9" cy="392.9" r="0.83" fill="#0bf00b" opacity="0.38" filter="url(#b03)"/>
<circle cx="108.0" cy="393.5" r="0.78" fill="#0bf00b" opacity="0.31" filter="url(#b03)"/>
<circle cx="109.5" cy="393.3" r="1.01" fill="#0bf00b" opacity="0.32" filter="url(#b03)"/>
<circle cx="110.5" cy="394.4" r="0.82" fill="#0bf00b" opacity="0.37" filter="url(#b03)"/>
<circle cx="112.8" cy="392.5" r="0.97" fill="#0bf00b" opacity="0.26" filter="url(#b03)"/>
<circle cx="110.4" cy="392.6" r="0.58" fill="#0bf00b" opacity="0.29" filter="url(#b03)"/>
<circle cx="115.6" cy="394.5" r="0.58" fill="#0bf00b" opacity="0.41" filter="url(#b03)"/>
<circle cx="119.4" cy="393.2" r="0.75" fill="#0bf00b" opacity="0.40" filter="url(#b03)"/>
<circle cx="122.7" cy="393.7" r="0.72" fill="#0bf00b" opacity="0.34" filter="url(#b03)"/>
<circle cx="122.7" cy="393.8" r="0.88" fill="#0bf00b" opacity="0.41" filter="url(#b03)"/>
<circle cx="122.7" cy="392.6" r="0.52" fill="#0bf00b" opacity="0.27" filter="url(#b03)"/>
<circle cx="127.2" cy="393.7" r="0.84" fill="#0bf00b" opacity="0.24" filter="url(#b03)"/>
<circle cx="124.7" cy="393.1" r="0.60" fill="#0bf00b" opacity="0.41" filter="url(#b03)"/>
<circle cx="127.1" cy="393.7" r="1.18" fill="#0bf00b" opacity="0.25" filter="url(#b03)"/>
<circle cx="127.2" cy="394.6" r="0.99" fill="#0bf00b" opacity="0.34" filter="url(#b03)"/>
<circle cx="131.4" cy="395.0" r="1.12" fill="#0bf00b" opacity="0.23" filter="url(#b03)"/>
<circle cx="137.6" cy="393.7" r="0.99" fill="#0bf00b" opacity="0.22" filter="url(#b03)"/>
<circle cx="135.9" cy="392.9" r="0.78" fill="#0bf00b" opacity="0.34" filter="url(#b03)"/>
<circle cx="143.1" cy="393.6" r="0.83" fill="#0bf00b" opacity="0.27" filter="url(#b03)"/>
<circle cx="140.9" cy="392.6" r="1.00" fill="#0bf00b" opacity="0.25" filter="url(#b03)"/>
<circle cx="145.9" cy="393.6" r="0.75" fill="#0bf00b" opacity="0.27" filter="url(#b03)"/>
<circle cx="95" cy="342.4" r="1.20" fill="#032a03" opacity="0.75" filter="url(#b05)"/>
<circle cx="109.2" cy="355.7" r="1.20" fill="#032a03" opacity="0.75" filter="url(#b05)"/>
<circle cx="119.7" cy="353.5" r="1.04" fill="#032a03" opacity="0.75" filter="url(#b05)"/>
<circle cx="124.9" cy="363.2" r="1.60" fill="#032a03" opacity="0.75" filter="url(#b05)"/>
<circle cx="130.3" cy="358.2" r="0.80" fill="#032a03" opacity="0.75" filter="url(#b05)"/>
<circle cx="146.5" cy="371.3" r="1.20" fill="#032a03" opacity="0.75" filter="url(#b05)"/>
<circle cx="159.6" cy="381.3" r="1.04" fill="#032a03" opacity="0.75" filter="url(#b05)"/>
<circle cx="162.6" cy="374.3" r="0.80" fill="#032a03" opacity="0.75" filter="url(#b05)"/>
<circle cx="53.4" cy="414.6" r="1.20" fill="#032a03" opacity="0.75" filter="url(#b05)"/>
<circle cx="30" cy="341" r="0.96" fill="#032a03" opacity="0.75" filter="url(#b05)"/>
<circle cx="20" cy="346" r="0.80" fill="#032a03" opacity="0.75" filter="url(#b05)"/>
<rect x="9" y="338.8" width="159.5" height="85.4" fill="#000" filter="url(#noise)" opacity="0.22"/>
</g>
<clipPath id="cp6"><rect x="168.6" y="338.8" width="37.4" height="85.4"/></clipPath>
<g clip-path="url(#cp6)">
<rect x="168.6" y="338.8" width="37.4" height="85.4" fill="#026402" />
<path d="M176.9,415.0 C177.7,413.6 179.8,409.2 181.3,406.3 C182.8,403.5 184.8,400.9 186.1,397.9 C187.5,395.0 188.1,391.8 189.2,388.7 C190.3,385.7 191.3,382.6 192.6,379.6 C193.9,376.7 195.7,374.0 197.0,371.0 C198.4,368.1 199.9,363.5 200.5,362.0" stroke="#0ce80b" stroke-width="0.51" fill="none" opacity="0.48" stroke-linecap="round"/>
<path d="M189.2,388.7 C189.6,387.7 190.8,384.7 191.4,382.6 C192.0,380.5 192.2,378.3 192.7,376.2 C193.1,374.1 193.6,372.0 194.2,369.9 C194.8,367.8 195.9,365.9 196.5,363.8 C197.0,361.7 197.3,359.5 197.5,357.4 C197.7,355.2 197.6,352.0 197.6,350.9" stroke="#0ce80b" stroke-width="0.41" fill="none" opacity="0.41" stroke-linecap="round"/>
<path d="M176.8,415.0 C177.2,413.8 178.3,410.1 179.4,407.8 C180.4,405.6 182.2,403.6 183.3,401.3 C184.4,399.1 184.9,396.5 185.9,394.2 C186.9,391.9 188.0,389.6 189.2,387.3 C190.3,385.1 191.8,383.0 192.8,380.6 C193.8,378.3 194.8,374.6 195.2,373.4" stroke="#0ce80b" stroke-width="0.68" fill="none" opacity="0.59" stroke-linecap="round"/>
<path d="M183.3,401.3 C183.3,400.5 183.4,398.1 183.4,396.4 C183.4,394.8 183.2,393.2 183.2,391.5 C183.2,389.9 183.6,388.3 183.5,386.7 C183.4,385.0 182.9,383.4 182.6,381.8 C182.3,380.2 182.0,378.6 181.8,377.0 C181.5,375.4 181.3,372.9 181.3,372.1" stroke="#0ce80b" stroke-width="0.54" fill="none" opacity="0.50" stroke-linecap="round"/>
<path d="M176.8,415.0 C176.9,414.1 177.0,411.5 177.3,409.7 C177.5,408.0 178.0,406.2 178.5,404.5 C179.0,402.9 179.9,401.3 180.3,399.6 C180.7,397.9 180.7,396.1 180.9,394.3 C181.1,392.5 181.4,390.8 181.6,389.0 C181.8,387.3 182.0,384.6 182.1,383.7" stroke="#0ce80b" stroke-width="0.51" fill="none" opacity="0.31" stroke-linecap="round"/>
<path d="M180.3,399.6 C180.6,399.0 181.4,397.5 181.9,396.4 C182.4,395.3 182.6,394.1 183.2,393.1 C183.9,392.1 184.8,391.4 185.6,390.5 C186.4,389.6 187.1,388.6 187.8,387.7 C188.6,386.8 189.6,386.1 190.3,385.1 C190.9,384.1 191.6,382.4 191.8,381.9" stroke="#0ce80b" stroke-width="0.41" fill="none" opacity="0.26" stroke-linecap="round"/>
<path d="M174.0,417.0 C174.9,415.7 178.2,411.9 179.2,409.0 C180.3,406.1 179.7,402.6 180.3,399.5 C181.0,396.4 182.5,393.5 183.1,390.4 C183.7,387.3 183.1,383.9 184.0,380.9 C184.9,378.0 187.1,375.4 188.5,372.6 C189.9,369.7 191.8,365.3 192.5,363.9" stroke="#0ce80b" stroke-width="0.78" fill="none" opacity="0.35" stroke-linecap="round"/>
<path d="M180.3,399.5 C180.5,398.5 181.2,395.6 181.5,393.5 C181.8,391.5 182.0,389.5 182.0,387.5 C181.9,385.4 181.2,383.4 181.2,381.4 C181.3,379.4 182.3,377.4 182.4,375.4 C182.5,373.4 182.0,371.3 181.7,369.3 C181.4,367.3 180.7,364.3 180.5,363.3" stroke="#0ce80b" stroke-width="0.63" fill="none" opacity="0.30" stroke-linecap="round"/>
<path d="M173.6,417.0 C173.6,415.9 173.8,412.4 173.8,410.1 C173.8,407.8 173.5,405.5 173.7,403.2 C173.9,401.0 174.8,398.8 175.0,396.5 C175.3,394.2 174.9,391.9 175.1,389.6 C175.4,387.3 175.9,385.1 176.5,382.8 C177.1,380.6 178.4,377.4 178.7,376.3" stroke="#0ce80b" stroke-width="0.78" fill="none" opacity="0.59" stroke-linecap="round"/>
<path d="M175.0,396.5 C174.9,396.0 174.4,394.6 174.1,393.7 C173.7,392.7 173.2,391.9 173.0,390.9 C172.8,390.0 172.8,389.0 172.7,388.0 C172.6,387.0 172.4,386.0 172.3,385.0 C172.2,384.1 172.1,383.1 172.0,382.1 C171.8,381.1 171.5,379.7 171.4,379.2" stroke="#0ce80b" stroke-width="0.62" fill="none" opacity="0.50" stroke-linecap="round"/>
<path d="M173.9,417.0 C174.4,415.7 175.6,411.8 176.6,409.2 C177.5,406.7 178.4,404.1 179.7,401.6 C180.9,399.2 182.7,397.1 184.1,394.7 C185.4,392.3 186.5,389.8 187.7,387.4 C188.9,384.9 190.0,382.3 191.3,380.0 C192.7,377.6 195.2,374.3 196.0,373.2" stroke="#0ce80b" stroke-width="0.68" fill="none" opacity="0.37" stroke-linecap="round"/>
<path d="M179.7,401.6 C179.7,401.1 179.9,399.4 180.1,398.3 C180.3,397.2 180.8,396.2 181.0,395.1 C181.1,394.0 180.7,392.8 180.9,391.7 C181.0,390.7 181.8,389.6 182.0,388.6 C182.1,387.5 181.6,386.3 181.6,385.2 C181.6,384.1 181.9,382.5 182.0,381.9" stroke="#0ce80b" stroke-width="0.55" fill="none" opacity="0.32" stroke-linecap="round"/>
<path d="M195.5,416.0 C195.8,415.1 197.1,412.6 197.4,410.8 C197.6,409.0 197.1,407.1 197.2,405.2 C197.4,403.4 197.6,401.5 198.1,399.8 C198.6,398.0 199.7,396.4 200.1,394.6 C200.5,392.8 200.0,390.8 200.4,389.1 C200.8,387.3 202.2,384.8 202.6,384.0" stroke="#0ce80b" stroke-width="0.63" fill="none" opacity="0.43" stroke-linecap="round"/>
<path d="M197.2,405.2 C197.2,404.6 197.0,402.9 196.9,401.7 C196.8,400.5 196.7,399.4 196.5,398.2 C196.3,397.0 195.7,396.0 195.5,394.8 C195.4,393.6 195.7,392.4 195.7,391.3 C195.6,390.1 195.4,388.9 195.4,387.7 C195.3,386.6 195.4,384.8 195.5,384.2" stroke="#0ce80b" stroke-width="0.50" fill="none" opacity="0.37" stroke-linecap="round"/>
<path d="M195.5,416.0 C195.5,414.8 195.1,411.0 195.6,408.6 C196.1,406.2 197.5,404.0 198.4,401.8 C199.4,399.5 200.5,397.3 201.3,394.9 C202.0,392.6 202.1,390.0 202.8,387.7 C203.5,385.3 204.6,383.0 205.3,380.7 C206.1,378.4 207.2,374.8 207.5,373.6" stroke="#0ce80b" stroke-width="0.58" fill="none" opacity="0.57" stroke-linecap="round"/>
<path d="M201.3,394.9 C201.7,394.5 203.0,393.2 203.6,392.2 C204.3,391.2 204.5,389.9 205.2,388.9 C205.9,388.0 207.1,387.3 207.7,386.4 C208.4,385.4 208.7,384.1 209.1,383.0 C209.6,381.9 209.7,380.6 210.3,379.6 C210.9,378.6 212.4,377.4 212.8,377.0" stroke="#0ce80b" stroke-width="0.46" fill="none" opacity="0.48" stroke-linecap="round"/>
<path d="M195.7,416.0 C196.1,414.6 197.0,410.4 198.2,407.8 C199.3,405.2 201.1,402.9 202.6,400.5 C204.2,398.1 206.4,396.0 207.5,393.4 C208.5,390.8 208.3,387.7 209.0,384.9 C209.6,382.2 210.4,379.4 211.4,376.7 C212.4,374.0 214.3,370.2 214.9,368.9" stroke="#0ce80b" stroke-width="0.65" fill="none" opacity="0.51" stroke-linecap="round"/>
<path d="M202.6,400.5 C202.9,399.8 203.4,397.8 204.2,396.6 C204.9,395.5 206.2,394.7 207.0,393.6 C207.7,392.4 207.9,390.9 208.6,389.8 C209.4,388.6 210.5,387.8 211.4,386.7 C212.3,385.6 213.1,384.5 213.9,383.4 C214.7,382.3 215.8,380.5 216.2,379.9" stroke="#0ce80b" stroke-width="0.52" fill="none" opacity="0.43" stroke-linecap="round"/>
<path d="M199.7,421.4 C199.8,420.6 200.5,418.4 200.5,416.8 C200.5,415.3 200.0,413.8 199.9,412.2 C199.8,410.7 200.0,409.2 200.1,407.6 C200.1,406.1 200.4,404.5 200.4,403.0 C200.5,401.5 200.1,399.9 200.3,398.4 C200.4,396.9 201.3,394.7 201.5,393.9" stroke="#0ce80b" stroke-width="0.66" fill="none" opacity="0.49" stroke-linecap="round"/>
<path d="M199.9,412.2 C199.7,412.0 199.2,411.2 198.8,410.7 C198.4,410.2 197.9,409.7 197.6,409.2 C197.3,408.7 197.2,408.0 196.9,407.4 C196.6,406.9 196.0,406.4 195.7,405.9 C195.4,405.3 195.4,404.7 195.1,404.1 C194.9,403.5 194.4,402.7 194.3,402.4" stroke="#0ce80b" stroke-width="0.53" fill="none" opacity="0.41" stroke-linecap="round"/>
<path d="M200.0,421.4 C200.4,420.2 201.7,416.7 202.3,414.3 C202.8,411.8 203.2,409.3 203.5,406.9 C203.8,404.4 203.9,401.9 204.1,399.4 C204.3,396.9 203.9,394.3 204.5,391.9 C205.1,389.5 207.0,387.5 207.7,385.1 C208.3,382.8 208.4,378.9 208.5,377.7" stroke="#0ce80b" stroke-width="0.74" fill="none" opacity="0.48" stroke-linecap="round"/>
<path d="M204.1,399.4 C204.1,398.5 204.5,395.9 204.4,394.2 C204.3,392.5 203.9,390.7 203.6,389.0 C203.3,387.3 202.8,385.6 202.6,383.9 C202.3,382.2 202.3,380.4 202.3,378.7 C202.3,376.9 202.2,375.2 202.3,373.5 C202.4,371.7 202.7,369.1 202.7,368.2" stroke="#0ce80b" stroke-width="0.59" fill="none" opacity="0.41" stroke-linecap="round"/>
<path d="M199.6,421.4 C200.0,419.9 201.1,415.3 202.2,412.4 C203.4,409.6 205.0,406.9 206.5,404.1 C208.0,401.4 210.1,398.9 211.1,396.0 C212.0,393.1 211.5,389.7 212.1,386.7 C212.7,383.7 213.7,380.7 214.8,377.8 C215.9,374.9 218.2,370.8 218.9,369.4" stroke="#0ce80b" stroke-width="0.79" fill="none" opacity="0.34" stroke-linecap="round"/>
<path d="M206.5,404.1 C206.8,403.5 207.6,401.4 208.5,400.3 C209.3,399.2 210.6,398.4 211.6,397.3 C212.6,396.3 213.5,395.2 214.4,394.0 C215.2,392.8 215.6,391.3 216.5,390.2 C217.5,389.2 219.0,388.6 220.0,387.6 C221.0,386.6 222.1,384.7 222.5,384.1" stroke="#0ce80b" stroke-width="0.64" fill="none" opacity="0.29" stroke-linecap="round"/>
<path d="M186.5,419.0 C186.6,418.3 186.8,416.1 187.1,414.7 C187.4,413.2 187.9,411.9 188.1,410.4 C188.2,409.0 187.7,407.4 188.0,406.0 C188.2,404.6 189.2,403.4 189.7,402.0 C190.2,400.7 190.5,399.2 191.0,397.8 C191.4,396.5 192.3,394.5 192.6,393.8" stroke="#0ce80b" stroke-width="0.74" fill="none" opacity="0.42" stroke-linecap="round"/>
<path d="M188.1,410.4 C187.9,409.9 187.7,408.5 187.4,407.5 C187.1,406.6 186.4,405.8 186.2,404.8 C186.0,403.9 186.2,402.9 186.1,401.9 C186.0,400.9 185.6,400.0 185.4,399.0 C185.1,398.1 185.0,397.1 184.6,396.2 C184.3,395.2 183.6,393.9 183.4,393.5" stroke="#0ce80b" stroke-width="0.59" fill="none" opacity="0.36" stroke-linecap="round"/>
<path d="M185.5,419.0 C186.1,418.1 188.1,415.5 189.0,413.6 C190.0,411.7 190.7,409.6 191.4,407.6 C192.1,405.6 192.6,403.4 193.5,401.5 C194.4,399.5 195.9,397.9 196.8,396.0 C197.6,394.0 197.7,391.7 198.5,389.8 C199.3,387.8 201.2,385.1 201.8,384.2" stroke="#0ce80b" stroke-width="0.72" fill="none" opacity="0.51" stroke-linecap="round"/>
<path d="M193.5,401.5 C193.4,400.9 193.3,399.1 193.3,397.9 C193.4,396.7 193.5,395.4 193.7,394.3 C193.9,393.1 194.4,391.9 194.6,390.7 C194.8,389.6 195.2,388.3 195.2,387.2 C195.2,386.0 194.8,384.8 194.5,383.6 C194.3,382.4 193.8,380.6 193.7,380.1" stroke="#0ce80b" stroke-width="0.57" fill="none" opacity="0.44" stroke-linecap="round"/>
<path d="M186.0,419.0 C186.3,418.1 186.8,415.5 187.4,413.8 C188.1,412.1 189.1,410.6 189.8,409.0 C190.5,407.3 190.8,405.5 191.5,403.9 C192.3,402.3 193.4,400.8 194.4,399.3 C195.4,397.8 196.5,396.4 197.3,394.8 C198.2,393.2 199.0,390.6 199.3,389.8" stroke="#0ce80b" stroke-width="0.75" fill="none" opacity="0.53" stroke-linecap="round"/>
<path d="M191.5,403.9 C191.6,403.3 191.8,401.4 192.0,400.2 C192.2,399.0 192.6,397.8 192.8,396.6 C192.9,395.3 193.1,394.1 193.1,392.9 C193.0,391.6 192.4,390.4 192.5,389.2 C192.5,388.0 193.1,386.8 193.2,385.6 C193.2,384.4 192.8,382.5 192.7,381.9" stroke="#0ce80b" stroke-width="0.60" fill="none" opacity="0.45" stroke-linecap="round"/>
<path d="M205.8,415.8 C206.0,414.9 207.2,412.0 207.2,410.0 C207.2,408.1 206.0,406.2 205.8,404.2 C205.6,402.2 205.5,400.2 205.7,398.2 C205.9,396.3 207.0,394.3 207.0,392.4 C207.0,390.5 206.0,388.5 205.7,386.6 C205.3,384.6 205.1,381.6 205.0,380.6" stroke="#0ce80b" stroke-width="0.78" fill="none" opacity="0.42" stroke-linecap="round"/>
<path d="M205.7,398.2 C205.3,397.7 204.0,396.1 203.3,394.8 C202.7,393.6 202.4,392.2 201.9,390.9 C201.4,389.6 201.1,388.2 200.4,387.0 C199.8,385.8 198.5,385.0 197.8,383.8 C197.2,382.6 197.2,381.0 196.5,379.8 C195.9,378.6 194.5,377.0 194.1,376.4" stroke="#0ce80b" stroke-width="0.63" fill="none" opacity="0.36" stroke-linecap="round"/>
<path d="M175.0,423.5 C175.1,422.1 175.6,418.1 175.7,415.5 C175.8,412.8 175.7,410.1 175.7,407.4 C175.6,404.8 175.5,402.1 175.6,399.4 C175.7,396.7 176.3,394.1 176.5,391.4 C176.6,388.7 176.9,386.0 176.7,383.4 C176.4,380.7 175.2,376.9 174.9,375.5" stroke="#13f811" stroke-width="0.79" fill="none" opacity="0.18" stroke-linecap="round"/>
<path d="M175.7,407.4 C175.8,406.8 176.2,404.8 176.5,403.5 C176.8,402.1 177.1,400.8 177.3,399.5 C177.4,398.1 177.4,396.7 177.7,395.4 C177.9,394.1 178.7,392.9 178.9,391.6 C179.1,390.2 178.8,388.8 178.8,387.5 C178.9,386.1 179.0,384.1 179.0,383.4" stroke="#13f811" stroke-width="0.63" fill="none" opacity="0.15" stroke-linecap="round"/>
<path d="M178.9,414.1 C178.9,413.3 179.1,410.9 179.0,409.3 C179.0,407.7 178.8,406.1 178.7,404.4 C178.6,402.8 178.4,401.2 178.5,399.6 C178.6,398.0 179.0,396.4 179.1,394.8 C179.2,393.2 179.0,391.6 179.0,390.0 C178.9,388.4 178.9,385.9 178.9,385.1" stroke="#0ce80b" stroke-width="0.73" fill="none" opacity="0.46" stroke-linecap="round"/>
<path d="M178.7,404.4 C178.8,403.9 178.9,402.3 179.2,401.3 C179.5,400.3 180.0,399.4 180.5,398.5 C181.0,397.5 181.6,396.6 182.1,395.7 C182.6,394.8 183.2,394.0 183.7,393.0 C184.3,392.1 184.9,391.3 185.3,390.3 C185.6,389.3 185.7,387.7 185.8,387.2" stroke="#0ce80b" stroke-width="0.58" fill="none" opacity="0.39" stroke-linecap="round"/>
<path d="M184.3,423.4 C184.2,422.1 183.8,418.0 183.7,415.3 C183.5,412.6 183.2,409.9 183.6,407.2 C183.9,404.5 185.1,402.0 185.5,399.3 C185.9,396.7 185.9,393.9 185.8,391.2 C185.6,388.5 184.9,385.8 184.8,383.2 C184.7,380.5 185.3,376.4 185.4,375.1" stroke="#09d008" stroke-width="0.53" fill="none" opacity="0.52" stroke-linecap="round"/>
<path d="M183.6,407.2 C183.4,406.6 183.0,404.5 182.5,403.3 C181.9,402.1 180.9,401.1 180.3,399.9 C179.7,398.7 179.3,397.3 178.8,396.1 C178.4,394.8 177.9,393.5 177.5,392.2 C177.1,390.9 176.9,389.6 176.5,388.3 C176.0,387.0 175.1,385.2 174.8,384.6" stroke="#09d008" stroke-width="0.43" fill="none" opacity="0.44" stroke-linecap="round"/>
<path d="M167.9,413.1 C168.0,412.1 168.0,409.2 168.5,407.4 C168.9,405.5 169.7,403.8 170.4,402.0 C171.1,400.2 171.9,398.5 172.6,396.7 C173.3,395.0 174.2,393.2 174.5,391.4 C174.9,389.5 174.3,387.5 174.5,385.6 C174.7,383.8 175.5,381.0 175.7,380.0" stroke="#13f811" stroke-width="0.59" fill="none" opacity="0.51" stroke-linecap="round"/>
<path d="M172.6,396.7 C172.7,396.3 172.8,394.8 172.9,393.8 C173.0,392.8 173.4,391.9 173.3,390.9 C173.2,390.0 172.4,389.1 172.3,388.1 C172.2,387.2 172.5,386.2 172.5,385.2 C172.6,384.2 172.6,383.3 172.6,382.3 C172.7,381.3 172.6,379.8 172.6,379.4" stroke="#13f811" stroke-width="0.47" fill="none" opacity="0.43" stroke-linecap="round"/>
<circle cx="176.5" cy="415.0" r="2.4" fill="#11ff10" opacity="0.95" filter="url(#b03)"/>
<circle cx="174.0" cy="417.0" r="1.6" fill="#11ff10" opacity="0.95" filter="url(#b03)"/>
<circle cx="195.5" cy="416.0" r="1.4" fill="#11ff10" opacity="0.95" filter="url(#b03)"/>
<circle cx="199.8" cy="421.4" r="1.4" fill="#11ff10" opacity="0.95" filter="url(#b03)"/>
<circle cx="186.0" cy="419.0" r="1.0" fill="#11ff10" opacity="0.95" filter="url(#b03)"/>
<rect x="168.6" y="338.8" width="37.4" height="85.4" fill="#000" filter="url(#noise)" opacity="0.2"/>
</g>
<rect x="169.29999999999998" y="339.5" width="36.0" height="84.0" fill="none" stroke="#f040f0" stroke-width="1.4"/>
<rect x="74.1" y="343.1" width="13.800000000000011" height="30.399999999999977" fill="none" stroke="#b038b0" stroke-width="1.1"/>
<line x1="87.9" y1="343.1" x2="165" y2="341.6" stroke="#e040e0" stroke-width="0.9"/>
<path d="M164,339.5 L168,341.6 L164,343.70000000000005 Z" fill="#e040e0"/>
<clipPath id="cp7"><rect x="208.2" y="338.8" width="160.3" height="85.2"/></clipPath>
<g clip-path="url(#cp7)">
<rect x="208.2" y="338.8" width="160.3" height="85.2" fill="#027402" />
<path d="M205.0,335.0 C219.2,335.0 262.5,335.0 290.0,335.0 C317.5,335.0 356.7,332.2 370.0,335.0 C383.3,337.8 381.7,349.5 370.0,352.0 C358.3,354.5 318.3,348.7 300.0,350.0 C281.7,351.3 270.0,354.2 260.0,360.0 C250.0,365.8 246.7,378.3 240.0,385.0 C233.3,391.7 225.8,396.7 220.0,400.0 C214.2,403.3 207.5,415.8 205.0,405.0 C202.5,394.2 205.0,346.7 205.0,335.0 Z" fill="#015c01" opacity="0.85" filter="url(#b6)"/>
<path d="M235.0,398.0 C237.5,395.0 244.2,385.3 250.0,380.0 C255.8,374.7 261.7,369.0 270.0,366.0 C278.3,363.0 290.0,362.3 300.0,362.0 C310.0,361.7 320.8,362.8 330.0,364.0 C339.2,365.2 351.3,366.3 355.0,369.0 C358.7,371.7 357.8,378.8 352.0,380.0 C346.2,381.2 329.5,376.5 320.0,376.0 C310.5,375.5 303.3,375.5 295.0,377.0 C286.7,378.5 277.5,381.5 270.0,385.0 C262.5,388.5 255.8,395.8 250.0,398.0 C244.2,400.2 237.5,398.0 235.0,398.0 Z" fill="#059405" opacity="0.55" filter="url(#b3)"/>
<path d="M250.0,400.0 C253.3,398.0 261.7,391.3 270.0,388.0 C278.3,384.7 290.0,381.3 300.0,380.0 C310.0,378.7 322.5,379.7 330.0,380.0 C337.5,380.3 346.7,381.3 345.0,382.0 C343.3,382.7 327.5,383.0 320.0,384.0 C312.5,385.0 305.8,386.2 300.0,388.0 C294.2,389.8 289.2,392.2 285.0,395.0 C280.8,397.8 278.8,402.2 275.0,405.0 C271.2,407.8 266.2,412.8 262.0,412.0 C257.8,411.2 252.0,402.0 250.0,400.0 Z" fill="#015a01" opacity="0.6" filter="url(#b1)"/>
<path d="M268.0,420.0 C269.3,417.7 272.3,410.3 276.0,406.0 C279.7,401.7 283.5,397.2 290.0,394.0 C296.5,390.8 306.7,388.7 315.0,387.0 C323.3,385.3 333.3,383.8 340.0,384.0 C346.7,384.2 355.0,385.7 355.0,388.0 C355.0,390.3 346.7,395.3 340.0,398.0 C333.3,400.7 321.7,402.0 315.0,404.0 C308.3,406.0 305.0,407.0 300.0,410.0 C295.0,413.0 290.3,420.3 285.0,422.0 C279.7,423.7 270.8,420.3 268.0,420.0 Z" fill="#058e05" opacity="0.6" filter="url(#b3)"/>
<path d="M304.0,411.0 C304.7,410.0 306.0,406.3 308.0,405.0 C310.0,403.7 313.0,403.2 316.0,403.0 C319.0,402.8 322.8,403.7 326.0,403.5 C329.2,403.3 332.0,403.1 335.0,402.0 C338.0,400.9 341.2,399.0 344.0,397.0 C346.8,395.0 349.3,391.6 352.0,390.0 C354.7,388.4 357.0,388.2 360.0,387.5 C363.0,386.8 368.3,382.9 370.0,386.0 C371.7,389.1 371.7,402.8 370.0,406.0 C368.3,409.2 363.3,405.3 360.0,405.0 C356.7,404.7 353.0,404.0 350.0,404.0 C347.0,404.0 344.3,404.2 342.0,405.0 C339.7,405.8 337.7,407.3 336.0,409.0 C334.3,410.7 333.8,413.4 332.0,415.0 C330.2,416.6 327.8,417.8 325.0,418.5 C322.2,419.2 318.0,419.2 315.0,419.0 C312.0,418.8 308.8,418.3 307.0,417.0 C305.2,415.7 304.5,412.0 304.0,411.0 Z" fill="#021c02" opacity="1.0" filter="url(#b05)"/>
<path d="M228.2,404.5 C230.2,403.8 236.2,402.2 240.2,400.5 C244.2,398.8 248.3,396.2 252.4,394.4 C256.4,392.5 260.8,390.9 264.5,389.4 C268.2,387.9 270.6,386.8 274.5,385.4 C278.4,384.0 283.7,382.5 288.0,381.0 C292.3,379.5 295.1,377.1 300.1,376.3 C305.1,375.5 311.8,375.8 318.2,376.3 C324.6,376.8 333.0,378.5 338.4,379.3 C343.8,380.1 348.5,381.0 350.5,381.3" stroke="#04c804" stroke-width="4" fill="none" opacity="0.35" filter="url(#b1)" stroke-linecap="round"/>
<line x1="228.2" y1="404.5" x2="227.0" y2="398.6" stroke="#0cd80a" stroke-width="0.60" opacity="0.46"/>
<line x1="228.9" y1="404.3" x2="225.4" y2="397.3" stroke="#0cd80a" stroke-width="0.62" opacity="0.37"/>
<line x1="229.6" y1="404.0" x2="227.9" y2="396.0" stroke="#0cd80a" stroke-width="0.52" opacity="0.41"/>
<line x1="230.4" y1="403.8" x2="227.5" y2="398.4" stroke="#0cd80a" stroke-width="0.67" opacity="0.27"/>
<line x1="231.1" y1="403.5" x2="230.0" y2="395.9" stroke="#0cd80a" stroke-width="0.59" opacity="0.20"/>
<line x1="231.8" y1="403.3" x2="229.4" y2="392.6" stroke="#0cd80a" stroke-width="0.45" opacity="0.37"/>
<line x1="232.5" y1="403.1" x2="230.0" y2="397.4" stroke="#0cd80a" stroke-width="0.42" opacity="0.21"/>
<line x1="233.2" y1="402.8" x2="227.4" y2="388.2" stroke="#0cd80a" stroke-width="0.70" opacity="0.29"/>
<line x1="234.0" y1="402.6" x2="232.8" y2="391.0" stroke="#0cd80a" stroke-width="0.61" opacity="0.18"/>
<line x1="234.7" y1="402.3" x2="231.9" y2="391.3" stroke="#0cd80a" stroke-width="0.45" opacity="0.18"/>
<line x1="235.4" y1="402.1" x2="230.9" y2="388.2" stroke="#0cd80a" stroke-width="0.46" opacity="0.30"/>
<line x1="236.1" y1="401.9" x2="235.1" y2="394.7" stroke="#0cd80a" stroke-width="0.55" opacity="0.18"/>
<line x1="236.8" y1="401.6" x2="229.3" y2="389.9" stroke="#0cd80a" stroke-width="0.48" opacity="0.15"/>
<line x1="237.5" y1="401.4" x2="230.7" y2="390.2" stroke="#0cd80a" stroke-width="0.56" opacity="0.18"/>
<line x1="238.3" y1="401.1" x2="236.1" y2="391.2" stroke="#0cd80a" stroke-width="0.56" opacity="0.30"/>
<line x1="239.0" y1="400.9" x2="235.4" y2="391.3" stroke="#0cd80a" stroke-width="0.58" opacity="0.18"/>
<line x1="239.7" y1="400.7" x2="235.0" y2="391.7" stroke="#0cd80a" stroke-width="0.66" opacity="0.46"/>
<line x1="240.4" y1="400.4" x2="236.9" y2="396.1" stroke="#0cd80a" stroke-width="0.61" opacity="0.34"/>
<line x1="241.1" y1="400.1" x2="239.4" y2="395.3" stroke="#0cd80a" stroke-width="0.68" opacity="0.29"/>
<line x1="241.8" y1="399.7" x2="238.2" y2="391.8" stroke="#0cd80a" stroke-width="0.68" opacity="0.23"/>
<line x1="242.4" y1="399.4" x2="237.5" y2="392.9" stroke="#0cd80a" stroke-width="0.59" opacity="0.30"/>
<line x1="243.1" y1="399.0" x2="239.2" y2="392.4" stroke="#0cd80a" stroke-width="0.41" opacity="0.25"/>
<line x1="243.8" y1="398.7" x2="237.5" y2="384.2" stroke="#0cd80a" stroke-width="0.48" opacity="0.46"/>
<line x1="244.5" y1="398.4" x2="239.4" y2="391.1" stroke="#0cd80a" stroke-width="0.41" opacity="0.19"/>
<line x1="245.2" y1="398.0" x2="241.0" y2="392.3" stroke="#0cd80a" stroke-width="0.66" opacity="0.23"/>
<line x1="245.8" y1="397.7" x2="242.9" y2="390.7" stroke="#0cd80a" stroke-width="0.68" opacity="0.24"/>
<line x1="246.5" y1="397.3" x2="239.6" y2="385.9" stroke="#0cd80a" stroke-width="0.57" opacity="0.35"/>
<line x1="247.2" y1="397.0" x2="242.5" y2="382.4" stroke="#0cd80a" stroke-width="0.55" opacity="0.43"/>
<line x1="247.9" y1="396.7" x2="243.3" y2="389.0" stroke="#0cd80a" stroke-width="0.69" opacity="0.33"/>
<line x1="248.5" y1="396.3" x2="241.2" y2="385.0" stroke="#0cd80a" stroke-width="0.67" opacity="0.35"/>
<line x1="249.2" y1="396.0" x2="247.7" y2="388.6" stroke="#0cd80a" stroke-width="0.54" opacity="0.26"/>
<line x1="249.9" y1="395.6" x2="244.9" y2="389.7" stroke="#0cd80a" stroke-width="0.46" opacity="0.38"/>
<line x1="250.6" y1="395.3" x2="246.9" y2="390.1" stroke="#0cd80a" stroke-width="0.53" opacity="0.33"/>
<line x1="251.3" y1="395.0" x2="248.6" y2="386.3" stroke="#0cd80a" stroke-width="0.48" opacity="0.27"/>
<line x1="251.9" y1="394.6" x2="245.9" y2="387.2" stroke="#0cd80a" stroke-width="0.47" opacity="0.19"/>
<line x1="252.6" y1="394.3" x2="245.3" y2="383.7" stroke="#0cd80a" stroke-width="0.60" opacity="0.22"/>
<line x1="253.3" y1="394.0" x2="249.8" y2="382.5" stroke="#0cd80a" stroke-width="0.51" opacity="0.46"/>
<line x1="254.0" y1="393.7" x2="249.8" y2="382.3" stroke="#0cd80a" stroke-width="0.41" opacity="0.28"/>
<line x1="254.7" y1="393.4" x2="251.6" y2="386.3" stroke="#0cd80a" stroke-width="0.68" opacity="0.44"/>
<line x1="255.4" y1="393.1" x2="253.9" y2="387.9" stroke="#0cd80a" stroke-width="0.68" opacity="0.33"/>
<line x1="256.1" y1="392.9" x2="255.1" y2="387.1" stroke="#0cd80a" stroke-width="0.53" opacity="0.48"/>
<line x1="256.8" y1="392.6" x2="254.0" y2="378.3" stroke="#0cd80a" stroke-width="0.68" opacity="0.17"/>
<line x1="257.5" y1="392.3" x2="250.9" y2="380.3" stroke="#0cd80a" stroke-width="0.44" opacity="0.27"/>
<line x1="258.2" y1="392.0" x2="251.0" y2="383.2" stroke="#0cd80a" stroke-width="0.53" opacity="0.41"/>
<line x1="258.9" y1="391.7" x2="255.1" y2="382.1" stroke="#0cd80a" stroke-width="0.49" opacity="0.47"/>
<line x1="259.6" y1="391.4" x2="257.5" y2="384.1" stroke="#0cd80a" stroke-width="0.59" opacity="0.15"/>
<line x1="260.3" y1="391.1" x2="252.0" y2="377.5" stroke="#0cd80a" stroke-width="0.70" opacity="0.46"/>
<line x1="261.0" y1="390.8" x2="258.4" y2="376.2" stroke="#0cd80a" stroke-width="0.52" opacity="0.30"/>
<line x1="261.7" y1="390.5" x2="260.6" y2="381.9" stroke="#0cd80a" stroke-width="0.41" opacity="0.19"/>
<line x1="262.4" y1="390.3" x2="259.2" y2="375.1" stroke="#0cd80a" stroke-width="0.61" opacity="0.47"/>
<line x1="263.1" y1="390.0" x2="261.1" y2="379.5" stroke="#0cd80a" stroke-width="0.53" opacity="0.45"/>
<line x1="263.8" y1="389.7" x2="261.5" y2="384.6" stroke="#0cd80a" stroke-width="0.57" opacity="0.41"/>
<line x1="264.5" y1="389.4" x2="262.0" y2="380.2" stroke="#0cd80a" stroke-width="0.69" opacity="0.29"/>
<line x1="265.2" y1="389.1" x2="260.9" y2="383.6" stroke="#0cd80a" stroke-width="0.66" opacity="0.31"/>
<line x1="265.9" y1="388.8" x2="262.6" y2="380.3" stroke="#0cd80a" stroke-width="0.44" opacity="0.22"/>
<line x1="266.6" y1="388.5" x2="262.9" y2="382.1" stroke="#0cd80a" stroke-width="0.66" opacity="0.23"/>
<line x1="267.4" y1="388.3" x2="266.4" y2="382.5" stroke="#0cd80a" stroke-width="0.57" opacity="0.15"/>
<line x1="268.1" y1="388.0" x2="264.8" y2="376.1" stroke="#0cd80a" stroke-width="0.59" opacity="0.41"/>
<line x1="268.8" y1="387.7" x2="263.8" y2="379.5" stroke="#0cd80a" stroke-width="0.62" opacity="0.36"/>
<line x1="269.5" y1="387.4" x2="262.6" y2="376.7" stroke="#0cd80a" stroke-width="0.51" opacity="0.38"/>
<line x1="270.2" y1="387.1" x2="267.3" y2="378.5" stroke="#0cd80a" stroke-width="0.54" opacity="0.40"/>
<line x1="270.9" y1="386.9" x2="267.6" y2="378.8" stroke="#0cd80a" stroke-width="0.65" opacity="0.25"/>
<line x1="271.6" y1="386.6" x2="269.6" y2="380.1" stroke="#0cd80a" stroke-width="0.44" opacity="0.43"/>
<line x1="272.3" y1="386.3" x2="271.2" y2="378.5" stroke="#0cd80a" stroke-width="0.56" opacity="0.20"/>
<line x1="273.0" y1="386.0" x2="270.1" y2="375.8" stroke="#0cd80a" stroke-width="0.55" opacity="0.36"/>
<line x1="273.7" y1="385.7" x2="272.8" y2="376.8" stroke="#0cd80a" stroke-width="0.45" opacity="0.41"/>
<line x1="274.4" y1="385.4" x2="272.5" y2="380.7" stroke="#0cd80a" stroke-width="0.42" opacity="0.19"/>
<line x1="275.1" y1="385.2" x2="274.3" y2="373.8" stroke="#0cd80a" stroke-width="0.49" opacity="0.28"/>
<line x1="275.8" y1="385.0" x2="273.3" y2="375.2" stroke="#0cd80a" stroke-width="0.51" opacity="0.26"/>
<line x1="276.6" y1="384.7" x2="272.6" y2="370.9" stroke="#0cd80a" stroke-width="0.51" opacity="0.42"/>
<line x1="277.3" y1="384.5" x2="271.7" y2="369.5" stroke="#0cd80a" stroke-width="0.40" opacity="0.25"/>
<line x1="278.0" y1="384.3" x2="270.7" y2="371.3" stroke="#0cd80a" stroke-width="0.46" opacity="0.41"/>
<line x1="278.7" y1="384.0" x2="278.1" y2="378.0" stroke="#0cd80a" stroke-width="0.47" opacity="0.28"/>
<line x1="279.4" y1="383.8" x2="273.5" y2="374.0" stroke="#0cd80a" stroke-width="0.63" opacity="0.29"/>
<line x1="280.2" y1="383.6" x2="278.1" y2="370.3" stroke="#0cd80a" stroke-width="0.42" opacity="0.42"/>
<line x1="280.9" y1="383.3" x2="274.5" y2="370.8" stroke="#0cd80a" stroke-width="0.58" opacity="0.21"/>
<line x1="281.6" y1="383.1" x2="279.8" y2="372.4" stroke="#0cd80a" stroke-width="0.51" opacity="0.33"/>
<line x1="282.3" y1="382.9" x2="281.7" y2="376.6" stroke="#0cd80a" stroke-width="0.59" opacity="0.43"/>
<line x1="283.0" y1="382.6" x2="282.1" y2="377.0" stroke="#0cd80a" stroke-width="0.43" opacity="0.33"/>
<line x1="283.8" y1="382.4" x2="283.2" y2="375.0" stroke="#0cd80a" stroke-width="0.43" opacity="0.30"/>
<line x1="284.5" y1="382.1" x2="280.7" y2="372.8" stroke="#0cd80a" stroke-width="0.42" opacity="0.37"/>
<line x1="285.2" y1="381.9" x2="279.1" y2="367.5" stroke="#0cd80a" stroke-width="0.67" opacity="0.26"/>
<line x1="285.9" y1="381.7" x2="283.3" y2="374.3" stroke="#0cd80a" stroke-width="0.69" opacity="0.41"/>
<line x1="286.6" y1="381.4" x2="280.0" y2="371.6" stroke="#0cd80a" stroke-width="0.54" opacity="0.15"/>
<line x1="287.4" y1="381.2" x2="285.3" y2="376.1" stroke="#0cd80a" stroke-width="0.47" opacity="0.18"/>
<line x1="288.1" y1="381.0" x2="286.0" y2="370.6" stroke="#0cd80a" stroke-width="0.68" opacity="0.45"/>
<line x1="288.8" y1="380.7" x2="283.7" y2="372.6" stroke="#0cd80a" stroke-width="0.69" opacity="0.29"/>
<line x1="289.5" y1="380.4" x2="288.0" y2="371.9" stroke="#0cd80a" stroke-width="0.57" opacity="0.47"/>
<line x1="290.2" y1="380.1" x2="288.9" y2="367.6" stroke="#0cd80a" stroke-width="0.45" opacity="0.32"/>
<line x1="290.9" y1="379.9" x2="288.2" y2="369.3" stroke="#0cd80a" stroke-width="0.49" opacity="0.16"/>
<line x1="291.6" y1="379.6" x2="287.2" y2="372.8" stroke="#0cd80a" stroke-width="0.69" opacity="0.13"/>
<line x1="292.3" y1="379.3" x2="290.2" y2="372.1" stroke="#0cd80a" stroke-width="0.46" opacity="0.15"/>
<line x1="293.0" y1="379.0" x2="289.2" y2="372.5" stroke="#0cd80a" stroke-width="0.40" opacity="0.27"/>
<line x1="293.7" y1="378.8" x2="288.1" y2="368.0" stroke="#0cd80a" stroke-width="0.67" opacity="0.23"/>
<line x1="294.4" y1="378.5" x2="293.8" y2="371.3" stroke="#0cd80a" stroke-width="0.47" opacity="0.29"/>
<line x1="295.1" y1="378.2" x2="286.5" y2="367.3" stroke="#0cd80a" stroke-width="0.65" opacity="0.20"/>
<line x1="295.9" y1="377.9" x2="294.8" y2="367.6" stroke="#0cd80a" stroke-width="0.54" opacity="0.16"/>
<line x1="296.6" y1="377.7" x2="295.8" y2="372.4" stroke="#0cd80a" stroke-width="0.54" opacity="0.27"/>
<line x1="297.3" y1="377.4" x2="296.3" y2="365.5" stroke="#0cd80a" stroke-width="0.68" opacity="0.32"/>
<line x1="298.0" y1="377.1" x2="296.7" y2="366.8" stroke="#0cd80a" stroke-width="0.49" opacity="0.13"/>
<line x1="298.7" y1="376.9" x2="291.4" y2="367.4" stroke="#0cd80a" stroke-width="0.69" opacity="0.18"/>
<line x1="299.4" y1="376.6" x2="294.8" y2="368.2" stroke="#0cd80a" stroke-width="0.50" opacity="0.23"/>
<line x1="300.1" y1="376.3" x2="291.6" y2="365.4" stroke="#0cd80a" stroke-width="0.50" opacity="0.16"/>
<line x1="300.9" y1="376.3" x2="300.3" y2="360.8" stroke="#0cd80a" stroke-width="0.53" opacity="0.32"/>
<line x1="301.6" y1="376.3" x2="301.0" y2="367.2" stroke="#0cd80a" stroke-width="0.52" opacity="0.16"/>
<line x1="302.4" y1="376.3" x2="300.8" y2="363.7" stroke="#0cd80a" stroke-width="0.55" opacity="0.24"/>
<line x1="303.1" y1="376.3" x2="305.0" y2="363.1" stroke="#0cd80a" stroke-width="0.54" opacity="0.32"/>
<line x1="303.9" y1="376.3" x2="307.9" y2="361.4" stroke="#0cd80a" stroke-width="0.61" opacity="0.21"/>
<line x1="304.6" y1="376.3" x2="306.5" y2="367.7" stroke="#0cd80a" stroke-width="0.54" opacity="0.28"/>
<line x1="305.4" y1="376.3" x2="304.7" y2="367.2" stroke="#0cd80a" stroke-width="0.41" opacity="0.27"/>
<line x1="306.2" y1="376.3" x2="306.1" y2="368.3" stroke="#0cd80a" stroke-width="0.62" opacity="0.30"/>
<line x1="306.9" y1="376.3" x2="308.4" y2="361.0" stroke="#0cd80a" stroke-width="0.47" opacity="0.32"/>
<line x1="307.7" y1="376.3" x2="307.4" y2="370.9" stroke="#0cd80a" stroke-width="0.68" opacity="0.30"/>
<line x1="308.4" y1="376.3" x2="310.9" y2="365.1" stroke="#0cd80a" stroke-width="0.45" opacity="0.11"/>
<line x1="309.2" y1="376.3" x2="311.3" y2="368.4" stroke="#0cd80a" stroke-width="0.41" opacity="0.18"/>
<line x1="309.9" y1="376.3" x2="308.1" y2="366.0" stroke="#0cd80a" stroke-width="0.66" opacity="0.13"/>
<line x1="310.7" y1="376.3" x2="312.4" y2="370.8" stroke="#0cd80a" stroke-width="0.40" opacity="0.15"/>
<line x1="311.5" y1="376.3" x2="313.6" y2="367.2" stroke="#0cd80a" stroke-width="0.50" opacity="0.23"/>
<line x1="312.2" y1="376.3" x2="313.2" y2="362.5" stroke="#0cd80a" stroke-width="0.65" opacity="0.10"/>
<line x1="313.0" y1="376.3" x2="309.9" y2="365.9" stroke="#0cd80a" stroke-width="0.66" opacity="0.11"/>
<line x1="313.7" y1="376.3" x2="313.5" y2="370.4" stroke="#0cd80a" stroke-width="0.59" opacity="0.10"/>
<line x1="314.5" y1="376.3" x2="311.7" y2="364.7" stroke="#0cd80a" stroke-width="0.50" opacity="0.11"/>
<line x1="315.3" y1="376.3" x2="317.8" y2="363.6" stroke="#0cd80a" stroke-width="0.63" opacity="0.18"/>
<line x1="316.0" y1="376.3" x2="318.1" y2="369.0" stroke="#0cd80a" stroke-width="0.65" opacity="0.33"/>
<line x1="316.8" y1="376.3" x2="318.9" y2="367.1" stroke="#0cd80a" stroke-width="0.60" opacity="0.29"/>
<line x1="317.5" y1="376.3" x2="319.3" y2="365.9" stroke="#0cd80a" stroke-width="0.55" opacity="0.16"/>
<line x1="318.3" y1="376.3" x2="317.0" y2="366.2" stroke="#0cd80a" stroke-width="0.60" opacity="0.18"/>
<line x1="319.0" y1="376.4" x2="321.2" y2="370.0" stroke="#0cd80a" stroke-width="0.56" opacity="0.18"/>
<line x1="319.8" y1="376.5" x2="325.8" y2="362.7" stroke="#0cd80a" stroke-width="0.53" opacity="0.23"/>
<line x1="320.5" y1="376.6" x2="320.8" y2="371.9" stroke="#0cd80a" stroke-width="0.70" opacity="0.22"/>
<line x1="321.3" y1="376.8" x2="319.1" y2="361.0" stroke="#0cd80a" stroke-width="0.41" opacity="0.12"/>
<line x1="322.0" y1="376.9" x2="323.7" y2="371.5" stroke="#0cd80a" stroke-width="0.70" opacity="0.28"/>
<line x1="322.8" y1="377.0" x2="323.7" y2="365.4" stroke="#0cd80a" stroke-width="0.51" opacity="0.13"/>
<line x1="323.5" y1="377.1" x2="322.8" y2="367.9" stroke="#0cd80a" stroke-width="0.64" opacity="0.23"/>
<line x1="324.3" y1="377.2" x2="327.5" y2="368.7" stroke="#0cd80a" stroke-width="0.49" opacity="0.31"/>
<line x1="325.0" y1="377.3" x2="327.9" y2="364.8" stroke="#0cd80a" stroke-width="0.58" opacity="0.25"/>
<line x1="325.8" y1="377.4" x2="332.2" y2="364.0" stroke="#0cd80a" stroke-width="0.57" opacity="0.33"/>
<line x1="326.5" y1="377.5" x2="329.5" y2="370.6" stroke="#0cd80a" stroke-width="0.67" opacity="0.25"/>
<line x1="327.3" y1="377.6" x2="329.5" y2="372.0" stroke="#0cd80a" stroke-width="0.51" opacity="0.18"/>
<line x1="328.0" y1="377.8" x2="326.5" y2="362.4" stroke="#0cd80a" stroke-width="0.59" opacity="0.15"/>
<line x1="328.8" y1="377.9" x2="328.5" y2="363.3" stroke="#0cd80a" stroke-width="0.43" opacity="0.22"/>
<line x1="329.5" y1="378.0" x2="332.5" y2="368.5" stroke="#0cd80a" stroke-width="0.48" opacity="0.17"/>
<line x1="330.3" y1="378.1" x2="331.7" y2="370.1" stroke="#0cd80a" stroke-width="0.44" opacity="0.23"/>
<line x1="331.0" y1="378.2" x2="334.6" y2="364.7" stroke="#0cd80a" stroke-width="0.48" opacity="0.21"/>
<line x1="331.8" y1="378.3" x2="332.5" y2="372.5" stroke="#0cd80a" stroke-width="0.63" opacity="0.10"/>
<line x1="332.5" y1="378.4" x2="337.2" y2="367.3" stroke="#0cd80a" stroke-width="0.48" opacity="0.18"/>
<line x1="333.3" y1="378.5" x2="332.5" y2="366.1" stroke="#0cd80a" stroke-width="0.48" opacity="0.25"/>
<line x1="334.0" y1="378.7" x2="333.5" y2="368.1" stroke="#0cd80a" stroke-width="0.46" opacity="0.22"/>
<line x1="334.8" y1="378.8" x2="334.3" y2="364.3" stroke="#0cd80a" stroke-width="0.61" opacity="0.23"/>
<line x1="335.5" y1="378.9" x2="336.3" y2="371.0" stroke="#0cd80a" stroke-width="0.65" opacity="0.12"/>
<line x1="336.3" y1="379.0" x2="337.8" y2="368.2" stroke="#0cd80a" stroke-width="0.43" opacity="0.20"/>
<line x1="337.0" y1="379.1" x2="337.6" y2="372.4" stroke="#0cd80a" stroke-width="0.41" opacity="0.23"/>
<line x1="337.8" y1="379.2" x2="342.8" y2="366.3" stroke="#0cd80a" stroke-width="0.68" opacity="0.16"/>
<line x1="338.5" y1="379.3" x2="339.6" y2="365.6" stroke="#0cd80a" stroke-width="0.61" opacity="0.21"/>
<line x1="339.3" y1="379.4" x2="340.6" y2="366.4" stroke="#0cd80a" stroke-width="0.69" opacity="0.21"/>
<line x1="340.0" y1="379.6" x2="339.6" y2="365.8" stroke="#0cd80a" stroke-width="0.62" opacity="0.15"/>
<line x1="340.8" y1="379.7" x2="341.6" y2="370.4" stroke="#0cd80a" stroke-width="0.60" opacity="0.24"/>
<line x1="341.5" y1="379.8" x2="344.8" y2="372.6" stroke="#0cd80a" stroke-width="0.41" opacity="0.21"/>
<line x1="342.3" y1="379.9" x2="341.8" y2="373.7" stroke="#0cd80a" stroke-width="0.47" opacity="0.32"/>
<line x1="343.0" y1="380.1" x2="344.5" y2="375.2" stroke="#0cd80a" stroke-width="0.57" opacity="0.30"/>
<line x1="343.8" y1="380.2" x2="342.9" y2="365.9" stroke="#0cd80a" stroke-width="0.68" opacity="0.13"/>
<line x1="344.5" y1="380.3" x2="344.6" y2="374.2" stroke="#0cd80a" stroke-width="0.61" opacity="0.24"/>
<line x1="345.3" y1="380.4" x2="345.2" y2="367.9" stroke="#0cd80a" stroke-width="0.54" opacity="0.18"/>
<line x1="346.0" y1="380.6" x2="349.2" y2="365.3" stroke="#0cd80a" stroke-width="0.61" opacity="0.21"/>
<line x1="346.8" y1="380.7" x2="346.3" y2="374.6" stroke="#0cd80a" stroke-width="0.47" opacity="0.27"/>
<line x1="347.5" y1="380.8" x2="348.6" y2="373.8" stroke="#0cd80a" stroke-width="0.50" opacity="0.13"/>
<line x1="348.3" y1="380.9" x2="349.7" y2="372.1" stroke="#0cd80a" stroke-width="0.68" opacity="0.28"/>
<line x1="349.0" y1="381.1" x2="349.4" y2="371.4" stroke="#0cd80a" stroke-width="0.47" opacity="0.18"/>
<line x1="349.8" y1="381.2" x2="354.4" y2="371.5" stroke="#0cd80a" stroke-width="0.42" opacity="0.15"/>
<line x1="350.5" y1="381.3" x2="352.4" y2="372.2" stroke="#0cd80a" stroke-width="0.42" opacity="0.11"/>
<path d="M228.2,404.5 C230.2,403.8 236.2,402.2 240.2,400.5 C244.2,398.8 248.3,396.2 252.4,394.4 C256.4,392.5 260.8,390.9 264.5,389.4 C268.2,387.9 270.6,386.8 274.5,385.4 C278.4,384.0 283.7,382.5 288.0,381.0 C292.3,379.5 295.1,377.1 300.1,376.3 C305.1,375.5 311.8,375.8 318.2,376.3 C324.6,376.8 333.0,378.5 338.4,379.3 C343.8,380.1 348.5,381.0 350.5,381.3" stroke="#0cf40b" stroke-width="1.1" fill="none" opacity="0.44999999999999996" stroke-dasharray="2.7,1.1,3.5,3.0,2.4,4.0,2.5,3.8,1.7,1.2,2.3,2.6,3.0,1.4,3.1,1.9,3.8,3.4,3.3,1.1,1.2,1.1,2.3,1.1,1.4,1.2,4.0,2.4,1.8,1.5,1.8,1.3,3.4,3.8,3.4,1.2,2.8,3.6,2.2,3.3,1.0,2.6,3.2,2.3,1.3,3.9,3.4,1.9,3.2,1.5,2.8,3.1,2.8,2.3,3.5,2.2,1.2,1.5,1.4,3.3" filter="url(#b03)"/>
<circle cx="230.0" cy="403.7" r="1.13" fill="#0bf00b" opacity="0.85" filter="url(#b03)"/>
<circle cx="229.7" cy="404.3" r="1.15" fill="#0bf00b" opacity="0.82" filter="url(#b03)"/>
<circle cx="230.6" cy="403.5" r="0.99" fill="#0bf00b" opacity="0.79" filter="url(#b03)"/>
<circle cx="232.5" cy="403.1" r="0.63" fill="#0bf00b" opacity="0.50" filter="url(#b03)"/>
<circle cx="231.9" cy="402.9" r="1.07" fill="#0bf00b" opacity="1.00" filter="url(#b03)"/>
<circle cx="231.9" cy="404.1" r="1.06" fill="#0bf00b" opacity="0.74" filter="url(#b03)"/>
<circle cx="234.5" cy="402.6" r="1.09" fill="#0bf00b" opacity="0.49" filter="url(#b03)"/>
<circle cx="234.2" cy="402.0" r="1.19" fill="#0bf00b" opacity="0.48" filter="url(#b03)"/>
<circle cx="238.3" cy="401.1" r="0.52" fill="#0bf00b" opacity="0.58" filter="url(#b03)"/>
<circle cx="238.0" cy="401.3" r="1.03" fill="#0bf00b" opacity="0.59" filter="url(#b03)"/>
<circle cx="237.7" cy="400.9" r="0.94" fill="#0bf00b" opacity="0.60" filter="url(#b03)"/>
<circle cx="239.2" cy="399.7" r="1.14" fill="#0bf00b" opacity="0.72" filter="url(#b03)"/>
<circle cx="243.1" cy="400.7" r="0.58" fill="#0bf00b" opacity="0.53" filter="url(#b03)"/>
<circle cx="245.7" cy="398.3" r="0.63" fill="#0bf00b" opacity="0.87" filter="url(#b03)"/>
<circle cx="247.3" cy="396.0" r="0.77" fill="#0bf00b" opacity="0.91" filter="url(#b03)"/>
<circle cx="251.6" cy="394.4" r="0.95" fill="#0bf00b" opacity="0.81" filter="url(#b03)"/>
<circle cx="252.7" cy="393.2" r="0.57" fill="#0bf00b" opacity="0.93" filter="url(#b03)"/>
<circle cx="253.5" cy="393.5" r="0.86" fill="#0bf00b" opacity="0.78" filter="url(#b03)"/>
<circle cx="256.4" cy="392.7" r="1.11" fill="#0bf00b" opacity="0.78" filter="url(#b03)"/>
<circle cx="257.4" cy="392.9" r="0.70" fill="#0bf00b" opacity="0.79" filter="url(#b03)"/>
<circle cx="258.3" cy="392.7" r="0.98" fill="#0bf00b" opacity="1.00" filter="url(#b03)"/>
<circle cx="258.9" cy="392.9" r="0.99" fill="#0bf00b" opacity="0.51" filter="url(#b03)"/>
<circle cx="257.2" cy="390.9" r="1.06" fill="#0bf00b" opacity="0.52" filter="url(#b03)"/>
<circle cx="259.9" cy="391.0" r="0.84" fill="#0bf00b" opacity="0.59" filter="url(#b03)"/>
<circle cx="264.7" cy="388.9" r="0.96" fill="#0bf00b" opacity="0.56" filter="url(#b03)"/>
<circle cx="266.0" cy="389.0" r="0.62" fill="#0bf00b" opacity="0.88" filter="url(#b03)"/>
<circle cx="268.4" cy="388.0" r="1.03" fill="#0bf00b" opacity="0.55" filter="url(#b03)"/>
<circle cx="268.1" cy="387.7" r="0.76" fill="#0bf00b" opacity="0.83" filter="url(#b03)"/>
<circle cx="270.8" cy="384.7" r="1.01" fill="#0bf00b" opacity="0.93" filter="url(#b03)"/>
<circle cx="272.6" cy="384.8" r="0.62" fill="#0bf00b" opacity="0.94" filter="url(#b03)"/>
<circle cx="273.6" cy="387.8" r="0.55" fill="#0bf00b" opacity="0.89" filter="url(#b03)"/>
<circle cx="275.4" cy="384.5" r="0.95" fill="#0bf00b" opacity="0.89" filter="url(#b03)"/>
<circle cx="276.2" cy="383.6" r="0.61" fill="#0bf00b" opacity="0.91" filter="url(#b03)"/>
<circle cx="278.9" cy="383.8" r="0.96" fill="#0bf00b" opacity="0.81" filter="url(#b03)"/>
<circle cx="282.4" cy="382.7" r="1.08" fill="#0bf00b" opacity="1.00" filter="url(#b03)"/>
<circle cx="282.2" cy="382.6" r="0.77" fill="#0bf00b" opacity="0.52" filter="url(#b03)"/>
<circle cx="284.9" cy="382.9" r="0.87" fill="#0bf00b" opacity="0.72" filter="url(#b03)"/>
<circle cx="284.4" cy="381.2" r="1.08" fill="#0bf00b" opacity="0.48" filter="url(#b03)"/>
<circle cx="285.3" cy="381.5" r="0.99" fill="#0bf00b" opacity="0.51" filter="url(#b03)"/>
<circle cx="286.7" cy="381.3" r="0.50" fill="#0bf00b" opacity="0.90" filter="url(#b03)"/>
<circle cx="286.9" cy="380.5" r="1.14" fill="#0bf00b" opacity="0.55" filter="url(#b03)"/>
<circle cx="289.8" cy="380.2" r="0.72" fill="#0bf00b" opacity="0.86" filter="url(#b03)"/>
<circle cx="289.8" cy="380.9" r="0.65" fill="#0bf00b" opacity="0.53" filter="url(#b03)"/>
<circle cx="291.7" cy="379.9" r="1.17" fill="#0bf00b" opacity="0.67" filter="url(#b03)"/>
<circle cx="293.8" cy="380.2" r="0.72" fill="#0bf00b" opacity="0.42" filter="url(#b03)"/>
<circle cx="292.8" cy="379.3" r="0.66" fill="#0bf00b" opacity="0.60" filter="url(#b03)"/>
<circle cx="293.9" cy="379.2" r="0.68" fill="#0bf00b" opacity="0.69" filter="url(#b03)"/>
<circle cx="295.9" cy="377.7" r="0.69" fill="#0bf00b" opacity="0.55" filter="url(#b03)"/>
<circle cx="296.9" cy="376.6" r="1.03" fill="#0bf00b" opacity="0.61" filter="url(#b03)"/>
<circle cx="296.7" cy="377.2" r="0.53" fill="#0bf00b" opacity="0.46" filter="url(#b03)"/>
<circle cx="297.9" cy="378.0" r="1.19" fill="#0bf00b" opacity="0.53" filter="url(#b03)"/>
<circle cx="298.0" cy="376.5" r="0.99" fill="#0bf00b" opacity="0.68" filter="url(#b03)"/>
<circle cx="299.5" cy="377.9" r="0.68" fill="#0bf00b" opacity="0.56" filter="url(#b03)"/>
<circle cx="299.7" cy="375.9" r="0.96" fill="#0bf00b" opacity="0.34" filter="url(#b03)"/>
<circle cx="301.0" cy="376.7" r="1.07" fill="#0bf00b" opacity="0.62" filter="url(#b03)"/>
<circle cx="302.3" cy="376.9" r="0.84" fill="#0bf00b" opacity="0.69" filter="url(#b03)"/>
<circle cx="304.3" cy="377.0" r="0.82" fill="#0bf00b" opacity="0.40" filter="url(#b03)"/>
<circle cx="304.6" cy="376.4" r="0.94" fill="#0bf00b" opacity="0.65" filter="url(#b03)"/>
<circle cx="305.8" cy="376.6" r="1.12" fill="#0bf00b" opacity="0.50" filter="url(#b03)"/>
<circle cx="307.0" cy="374.9" r="0.50" fill="#0bf00b" opacity="0.40" filter="url(#b03)"/>
<circle cx="312.6" cy="375.1" r="0.79" fill="#0bf00b" opacity="0.43" filter="url(#b03)"/>
<circle cx="313.0" cy="375.1" r="0.86" fill="#0bf00b" opacity="0.43" filter="url(#b03)"/>
<circle cx="316.8" cy="375.5" r="1.11" fill="#0bf00b" opacity="0.67" filter="url(#b03)"/>
<circle cx="316.5" cy="377.2" r="0.76" fill="#0bf00b" opacity="0.40" filter="url(#b03)"/>
<circle cx="316.3" cy="376.3" r="1.16" fill="#0bf00b" opacity="0.71" filter="url(#b03)"/>
<circle cx="325.7" cy="376.8" r="0.89" fill="#0bf00b" opacity="0.70" filter="url(#b03)"/>
<circle cx="325.2" cy="378.9" r="1.17" fill="#0bf00b" opacity="0.72" filter="url(#b03)"/>
<circle cx="327.8" cy="377.5" r="0.62" fill="#0bf00b" opacity="0.41" filter="url(#b03)"/>
<circle cx="327.4" cy="376.1" r="0.58" fill="#0bf00b" opacity="0.51" filter="url(#b03)"/>
<circle cx="326.2" cy="377.4" r="1.05" fill="#0bf00b" opacity="0.34" filter="url(#b03)"/>
<circle cx="333.6" cy="379.6" r="0.60" fill="#0bf00b" opacity="0.70" filter="url(#b03)"/>
<circle cx="334.5" cy="379.1" r="1.08" fill="#0bf00b" opacity="0.67" filter="url(#b03)"/>
<circle cx="332.2" cy="377.7" r="0.64" fill="#0bf00b" opacity="0.34" filter="url(#b03)"/>
<circle cx="335.2" cy="378.9" r="0.97" fill="#0bf00b" opacity="0.62" filter="url(#b03)"/>
<circle cx="336.7" cy="379.0" r="0.71" fill="#0bf00b" opacity="0.35" filter="url(#b03)"/>
<circle cx="337.6" cy="379.9" r="0.77" fill="#0bf00b" opacity="0.67" filter="url(#b03)"/>
<circle cx="341.4" cy="379.1" r="1.16" fill="#0bf00b" opacity="0.62" filter="url(#b03)"/>
<circle cx="340.5" cy="379.6" r="0.78" fill="#0bf00b" opacity="0.36" filter="url(#b03)"/>
<circle cx="342.6" cy="381.2" r="0.75" fill="#0bf00b" opacity="0.57" filter="url(#b03)"/>
<circle cx="344.9" cy="379.5" r="0.91" fill="#0bf00b" opacity="0.60" filter="url(#b03)"/>
<circle cx="344.6" cy="378.6" r="0.51" fill="#0bf00b" opacity="0.33" filter="url(#b03)"/>
<circle cx="347.4" cy="380.8" r="0.86" fill="#0bf00b" opacity="0.52" filter="url(#b03)"/>
<circle cx="349.3" cy="382.2" r="0.59" fill="#0bf00b" opacity="0.39" filter="url(#b03)"/>
<circle cx="350.5" cy="380.6" r="1.11" fill="#0bf00b" opacity="0.47" filter="url(#b03)"/>
<circle cx="350.3" cy="381.2" r="1.20" fill="#0bf00b" opacity="0.47" filter="url(#b03)"/>
<path d="M288,378.5 C300,377.5 310,378.2 322,378.5" stroke="#022a02" stroke-width="0.9" fill="none" opacity="0.8"/>
<path d="M266.5,418.6 C267.8,416.6 271.8,409.9 274.5,406.5 C277.2,403.1 280.4,400.4 282.6,398.5 C284.9,396.6 285.1,396.9 288.0,395.0 C290.9,393.1 295.1,389.3 300.1,387.4 C305.1,385.5 311.8,384.4 318.2,383.4 C324.6,382.4 333.3,381.6 338.4,381.3 C343.4,381.0 346.8,381.3 348.5,381.3" stroke="#04c804" stroke-width="3" fill="none" opacity="0.3" filter="url(#b1)" stroke-linecap="round"/>
<line x1="266.5" y1="418.6" x2="274.9" y2="422.5" stroke="#0cd80a" stroke-width="0.46" opacity="0.17"/>
<line x1="267.1" y1="417.7" x2="271.9" y2="420.8" stroke="#0cd80a" stroke-width="0.62" opacity="0.22"/>
<line x1="267.7" y1="416.8" x2="271.7" y2="419.6" stroke="#0cd80a" stroke-width="0.59" opacity="0.28"/>
<line x1="268.3" y1="415.9" x2="274.5" y2="418.5" stroke="#0cd80a" stroke-width="0.51" opacity="0.32"/>
<line x1="268.9" y1="415.0" x2="271.4" y2="417.2" stroke="#0cd80a" stroke-width="0.54" opacity="0.25"/>
<line x1="269.5" y1="414.1" x2="275.8" y2="421.2" stroke="#0cd80a" stroke-width="0.49" opacity="0.14"/>
<line x1="270.1" y1="413.2" x2="274.2" y2="417.9" stroke="#0cd80a" stroke-width="0.63" opacity="0.39"/>
<line x1="270.6" y1="412.3" x2="276.7" y2="414.3" stroke="#0cd80a" stroke-width="0.60" opacity="0.31"/>
<line x1="271.2" y1="411.4" x2="279.4" y2="415.2" stroke="#0cd80a" stroke-width="0.66" opacity="0.21"/>
<line x1="271.8" y1="410.5" x2="276.9" y2="413.4" stroke="#0cd80a" stroke-width="0.52" opacity="0.27"/>
<line x1="272.4" y1="409.6" x2="279.3" y2="412.0" stroke="#0cd80a" stroke-width="0.42" opacity="0.13"/>
<line x1="273.0" y1="408.7" x2="279.2" y2="413.3" stroke="#0cd80a" stroke-width="0.59" opacity="0.40"/>
<line x1="273.6" y1="407.9" x2="279.7" y2="415.2" stroke="#0cd80a" stroke-width="0.55" opacity="0.22"/>
<line x1="274.2" y1="407.0" x2="280.0" y2="412.9" stroke="#0cd80a" stroke-width="0.67" opacity="0.17"/>
<line x1="274.9" y1="406.1" x2="281.6" y2="412.5" stroke="#0cd80a" stroke-width="0.51" opacity="0.22"/>
<line x1="275.6" y1="405.4" x2="281.7" y2="413.1" stroke="#0cd80a" stroke-width="0.42" opacity="0.32"/>
<line x1="276.4" y1="404.6" x2="282.0" y2="411.2" stroke="#0cd80a" stroke-width="0.60" opacity="0.19"/>
<line x1="277.2" y1="403.9" x2="281.4" y2="406.9" stroke="#0cd80a" stroke-width="0.42" opacity="0.35"/>
<line x1="277.9" y1="403.1" x2="281.2" y2="407.8" stroke="#0cd80a" stroke-width="0.57" opacity="0.34"/>
<line x1="278.7" y1="402.4" x2="286.2" y2="408.0" stroke="#0cd80a" stroke-width="0.68" opacity="0.28"/>
<line x1="279.5" y1="401.6" x2="283.2" y2="406.2" stroke="#0cd80a" stroke-width="0.49" opacity="0.24"/>
<line x1="280.2" y1="400.8" x2="285.3" y2="407.4" stroke="#0cd80a" stroke-width="0.60" opacity="0.20"/>
<line x1="281.0" y1="400.1" x2="283.5" y2="403.6" stroke="#0cd80a" stroke-width="0.44" opacity="0.12"/>
<line x1="281.7" y1="399.3" x2="284.2" y2="402.4" stroke="#0cd80a" stroke-width="0.45" opacity="0.19"/>
<line x1="282.5" y1="398.6" x2="288.3" y2="401.7" stroke="#0cd80a" stroke-width="0.69" opacity="0.33"/>
<line x1="283.4" y1="398.0" x2="288.2" y2="402.3" stroke="#0cd80a" stroke-width="0.56" opacity="0.38"/>
<line x1="284.3" y1="397.4" x2="286.6" y2="401.5" stroke="#0cd80a" stroke-width="0.69" opacity="0.24"/>
<line x1="285.2" y1="396.8" x2="286.3" y2="400.4" stroke="#0cd80a" stroke-width="0.68" opacity="0.23"/>
<line x1="286.1" y1="396.2" x2="287.7" y2="400.3" stroke="#0cd80a" stroke-width="0.50" opacity="0.18"/>
<line x1="287.0" y1="395.6" x2="293.5" y2="401.4" stroke="#0cd80a" stroke-width="0.55" opacity="0.21"/>
<line x1="287.9" y1="395.1" x2="289.5" y2="399.4" stroke="#0cd80a" stroke-width="0.53" opacity="0.34"/>
<line x1="288.8" y1="394.5" x2="290.1" y2="397.4" stroke="#0cd80a" stroke-width="0.55" opacity="0.32"/>
<line x1="289.7" y1="393.9" x2="292.5" y2="398.0" stroke="#0cd80a" stroke-width="0.47" opacity="0.20"/>
<line x1="290.6" y1="393.3" x2="291.7" y2="396.2" stroke="#0cd80a" stroke-width="0.49" opacity="0.18"/>
<line x1="291.5" y1="392.8" x2="295.2" y2="397.6" stroke="#0cd80a" stroke-width="0.56" opacity="0.20"/>
<line x1="292.4" y1="392.2" x2="295.5" y2="397.0" stroke="#0cd80a" stroke-width="0.63" opacity="0.37"/>
<line x1="293.4" y1="391.6" x2="297.4" y2="398.0" stroke="#0cd80a" stroke-width="0.69" opacity="0.19"/>
<line x1="294.3" y1="391.1" x2="299.4" y2="397.2" stroke="#0cd80a" stroke-width="0.46" opacity="0.31"/>
<line x1="295.2" y1="390.5" x2="299.2" y2="396.3" stroke="#0cd80a" stroke-width="0.44" opacity="0.17"/>
<line x1="296.1" y1="389.9" x2="300.2" y2="396.0" stroke="#0cd80a" stroke-width="0.69" opacity="0.18"/>
<line x1="297.0" y1="389.3" x2="299.8" y2="397.6" stroke="#0cd80a" stroke-width="0.49" opacity="0.17"/>
<line x1="297.9" y1="388.8" x2="299.6" y2="394.8" stroke="#0cd80a" stroke-width="0.46" opacity="0.18"/>
<line x1="298.8" y1="388.2" x2="301.3" y2="393.2" stroke="#0cd80a" stroke-width="0.46" opacity="0.36"/>
<line x1="299.7" y1="387.6" x2="300.9" y2="391.1" stroke="#0cd80a" stroke-width="0.68" opacity="0.28"/>
<line x1="300.7" y1="387.3" x2="302.7" y2="395.5" stroke="#0cd80a" stroke-width="0.62" opacity="0.19"/>
<line x1="301.8" y1="387.0" x2="302.0" y2="390.2" stroke="#0cd80a" stroke-width="0.45" opacity="0.32"/>
<line x1="302.8" y1="386.8" x2="303.1" y2="389.9" stroke="#0cd80a" stroke-width="0.46" opacity="0.16"/>
<line x1="303.9" y1="386.6" x2="306.6" y2="394.9" stroke="#0cd80a" stroke-width="0.49" opacity="0.22"/>
<line x1="304.9" y1="386.3" x2="305.7" y2="391.2" stroke="#0cd80a" stroke-width="0.53" opacity="0.15"/>
<line x1="306.0" y1="386.1" x2="306.0" y2="390.8" stroke="#0cd80a" stroke-width="0.58" opacity="0.12"/>
<line x1="307.0" y1="385.9" x2="309.8" y2="393.9" stroke="#0cd80a" stroke-width="0.55" opacity="0.27"/>
<line x1="308.1" y1="385.6" x2="309.5" y2="388.3" stroke="#0cd80a" stroke-width="0.56" opacity="0.18"/>
<line x1="309.1" y1="385.4" x2="309.4" y2="389.8" stroke="#0cd80a" stroke-width="0.48" opacity="0.16"/>
<line x1="310.1" y1="385.2" x2="310.1" y2="393.3" stroke="#0cd80a" stroke-width="0.59" opacity="0.16"/>
<line x1="311.2" y1="384.9" x2="312.2" y2="388.0" stroke="#0cd80a" stroke-width="0.49" opacity="0.17"/>
<line x1="312.2" y1="384.7" x2="314.9" y2="391.1" stroke="#0cd80a" stroke-width="0.44" opacity="0.37"/>
<line x1="313.3" y1="384.5" x2="315.7" y2="389.8" stroke="#0cd80a" stroke-width="0.63" opacity="0.16"/>
<line x1="314.3" y1="384.3" x2="314.3" y2="391.8" stroke="#0cd80a" stroke-width="0.65" opacity="0.14"/>
<line x1="315.4" y1="384.0" x2="318.8" y2="392.0" stroke="#0cd80a" stroke-width="0.53" opacity="0.26"/>
<line x1="316.4" y1="383.8" x2="319.8" y2="392.6" stroke="#0cd80a" stroke-width="0.42" opacity="0.23"/>
<line x1="317.5" y1="383.6" x2="319.5" y2="390.0" stroke="#0cd80a" stroke-width="0.47" opacity="0.23"/>
<line x1="318.5" y1="383.4" x2="320.7" y2="389.9" stroke="#0cd80a" stroke-width="0.48" opacity="0.37"/>
<line x1="319.6" y1="383.3" x2="318.1" y2="391.9" stroke="#0cd80a" stroke-width="0.49" opacity="0.21"/>
<line x1="320.7" y1="383.1" x2="323.0" y2="390.8" stroke="#0cd80a" stroke-width="0.59" opacity="0.13"/>
<line x1="321.7" y1="383.0" x2="323.6" y2="388.6" stroke="#0cd80a" stroke-width="0.44" opacity="0.32"/>
<line x1="322.8" y1="382.9" x2="322.8" y2="390.7" stroke="#0cd80a" stroke-width="0.43" opacity="0.37"/>
<line x1="323.9" y1="382.8" x2="325.8" y2="390.2" stroke="#0cd80a" stroke-width="0.52" opacity="0.26"/>
<line x1="325.0" y1="382.7" x2="325.1" y2="388.8" stroke="#0cd80a" stroke-width="0.44" opacity="0.32"/>
<line x1="326.0" y1="382.6" x2="325.3" y2="386.6" stroke="#0cd80a" stroke-width="0.51" opacity="0.33"/>
<line x1="327.1" y1="382.5" x2="327.6" y2="385.8" stroke="#0cd80a" stroke-width="0.69" opacity="0.33"/>
<line x1="328.2" y1="382.4" x2="327.6" y2="388.3" stroke="#0cd80a" stroke-width="0.68" opacity="0.18"/>
<line x1="329.2" y1="382.3" x2="331.3" y2="389.6" stroke="#0cd80a" stroke-width="0.52" opacity="0.18"/>
<line x1="330.3" y1="382.1" x2="330.9" y2="389.0" stroke="#0cd80a" stroke-width="0.51" opacity="0.15"/>
<line x1="331.4" y1="382.0" x2="331.3" y2="385.8" stroke="#0cd80a" stroke-width="0.42" opacity="0.36"/>
<line x1="332.4" y1="381.9" x2="334.9" y2="391.6" stroke="#0cd80a" stroke-width="0.58" opacity="0.33"/>
<line x1="333.5" y1="381.8" x2="335.6" y2="390.5" stroke="#0cd80a" stroke-width="0.46" opacity="0.32"/>
<line x1="334.6" y1="381.7" x2="333.8" y2="387.6" stroke="#0cd80a" stroke-width="0.54" opacity="0.33"/>
<line x1="335.6" y1="381.6" x2="338.3" y2="388.5" stroke="#0cd80a" stroke-width="0.46" opacity="0.20"/>
<line x1="336.7" y1="381.5" x2="337.4" y2="387.5" stroke="#0cd80a" stroke-width="0.69" opacity="0.20"/>
<line x1="337.8" y1="381.4" x2="337.7" y2="385.2" stroke="#0cd80a" stroke-width="0.48" opacity="0.34"/>
<line x1="338.8" y1="381.3" x2="337.8" y2="385.5" stroke="#0cd80a" stroke-width="0.56" opacity="0.13"/>
<line x1="339.9" y1="381.3" x2="340.3" y2="390.7" stroke="#0cd80a" stroke-width="0.42" opacity="0.18"/>
<line x1="341.0" y1="381.3" x2="341.4" y2="386.5" stroke="#0cd80a" stroke-width="0.61" opacity="0.21"/>
<line x1="342.1" y1="381.3" x2="344.6" y2="390.7" stroke="#0cd80a" stroke-width="0.57" opacity="0.37"/>
<line x1="343.1" y1="381.3" x2="344.3" y2="390.6" stroke="#0cd80a" stroke-width="0.42" opacity="0.31"/>
<line x1="344.2" y1="381.3" x2="344.8" y2="390.2" stroke="#0cd80a" stroke-width="0.56" opacity="0.27"/>
<line x1="345.3" y1="381.3" x2="345.4" y2="388.2" stroke="#0cd80a" stroke-width="0.63" opacity="0.13"/>
<line x1="346.4" y1="381.3" x2="346.2" y2="388.0" stroke="#0cd80a" stroke-width="0.70" opacity="0.20"/>
<line x1="347.4" y1="381.3" x2="348.5" y2="387.0" stroke="#0cd80a" stroke-width="0.43" opacity="0.36"/>
<line x1="348.5" y1="381.3" x2="346.9" y2="390.6" stroke="#0cd80a" stroke-width="0.61" opacity="0.26"/>
<path d="M266.5,418.6 C267.8,416.6 271.8,409.9 274.5,406.5 C277.2,403.1 280.4,400.4 282.6,398.5 C284.9,396.6 285.1,396.9 288.0,395.0 C290.9,393.1 295.1,389.3 300.1,387.4 C305.1,385.5 311.8,384.4 318.2,383.4 C324.6,382.4 333.3,381.6 338.4,381.3 C343.4,381.0 346.8,381.3 348.5,381.3" stroke="#0cf40b" stroke-width="1.1" fill="none" opacity="0.36" stroke-dasharray="2.9,1.7,3.7,2.1,1.4,2.5,1.7,2.1,1.8,1.6,3.4,2.4,3.1,1.8,3.7,3.6,1.1,2.8,1.8,2.4,2.3,2.4,2.4,3.7,1.8,2.3,2.0,2.9,1.0,3.1,3.3,1.9,3.8,1.2,3.8,3.0,3.4,1.1,2.8,2.0,1.4,3.2,2.7,3.5,1.0,3.2,3.6,1.5,3.7,2.0,2.6,1.6,1.1,1.3,1.9,3.1,2.9,2.2,1.3,3.0" filter="url(#b03)"/>
<circle cx="265.6" cy="418.1" r="1.12" fill="#0bf00b" opacity="0.68" filter="url(#b03)"/>
<circle cx="266.9" cy="417.7" r="1.14" fill="#0bf00b" opacity="0.38" filter="url(#b03)"/>
<circle cx="264.7" cy="418.2" r="0.86" fill="#0bf00b" opacity="0.38" filter="url(#b03)"/>
<circle cx="267.8" cy="416.0" r="0.91" fill="#0bf00b" opacity="0.76" filter="url(#b03)"/>
<circle cx="268.9" cy="414.8" r="1.05" fill="#0bf00b" opacity="0.48" filter="url(#b03)"/>
<circle cx="267.7" cy="414.4" r="0.91" fill="#0bf00b" opacity="0.53" filter="url(#b03)"/>
<circle cx="268.6" cy="413.1" r="0.86" fill="#0bf00b" opacity="0.56" filter="url(#b03)"/>
<circle cx="272.2" cy="413.1" r="0.57" fill="#0bf00b" opacity="0.71" filter="url(#b03)"/>
<circle cx="272.6" cy="410.1" r="0.51" fill="#0bf00b" opacity="0.79" filter="url(#b03)"/>
<circle cx="275.0" cy="406.4" r="0.50" fill="#0bf00b" opacity="0.62" filter="url(#b03)"/>
<circle cx="274.2" cy="405.7" r="1.06" fill="#0bf00b" opacity="0.65" filter="url(#b03)"/>
<circle cx="275.2" cy="404.4" r="1.07" fill="#0bf00b" opacity="0.65" filter="url(#b03)"/>
<circle cx="275.7" cy="405.4" r="0.72" fill="#0bf00b" opacity="0.50" filter="url(#b03)"/>
<circle cx="277.2" cy="405.6" r="0.53" fill="#0bf00b" opacity="0.41" filter="url(#b03)"/>
<circle cx="278.5" cy="402.6" r="1.05" fill="#0bf00b" opacity="0.78" filter="url(#b03)"/>
<circle cx="282.0" cy="398.0" r="0.88" fill="#0bf00b" opacity="0.63" filter="url(#b03)"/>
<circle cx="281.7" cy="399.6" r="1.07" fill="#0bf00b" opacity="0.57" filter="url(#b03)"/>
<circle cx="284.1" cy="398.9" r="1.20" fill="#0bf00b" opacity="0.42" filter="url(#b03)"/>
<circle cx="284.6" cy="397.1" r="0.90" fill="#0bf00b" opacity="0.41" filter="url(#b03)"/>
<circle cx="285.4" cy="396.0" r="1.15" fill="#0bf00b" opacity="0.62" filter="url(#b03)"/>
<circle cx="288.9" cy="394.2" r="0.95" fill="#0bf00b" opacity="0.77" filter="url(#b03)"/>
<circle cx="290.3" cy="394.6" r="0.95" fill="#0bf00b" opacity="0.51" filter="url(#b03)"/>
<circle cx="289.2" cy="395.2" r="0.69" fill="#0bf00b" opacity="0.71" filter="url(#b03)"/>
<circle cx="290.6" cy="392.4" r="1.19" fill="#0bf00b" opacity="0.69" filter="url(#b03)"/>
<circle cx="295.5" cy="389.2" r="0.57" fill="#0bf00b" opacity="0.46" filter="url(#b03)"/>
<circle cx="297.0" cy="389.6" r="1.15" fill="#0bf00b" opacity="0.71" filter="url(#b03)"/>
<circle cx="297.9" cy="388.5" r="1.12" fill="#0bf00b" opacity="0.74" filter="url(#b03)"/>
<circle cx="296.6" cy="388.6" r="0.54" fill="#0bf00b" opacity="0.69" filter="url(#b03)"/>
<circle cx="296.8" cy="390.3" r="1.16" fill="#0bf00b" opacity="0.37" filter="url(#b03)"/>
<circle cx="299.6" cy="388.1" r="0.86" fill="#0bf00b" opacity="0.61" filter="url(#b03)"/>
<circle cx="302.2" cy="385.7" r="0.57" fill="#0bf00b" opacity="0.39" filter="url(#b03)"/>
<circle cx="303.1" cy="387.5" r="0.64" fill="#0bf00b" opacity="0.62" filter="url(#b03)"/>
<circle cx="305.1" cy="385.4" r="0.98" fill="#0bf00b" opacity="0.41" filter="url(#b03)"/>
<circle cx="307.9" cy="386.2" r="0.85" fill="#0bf00b" opacity="0.61" filter="url(#b03)"/>
<circle cx="308.9" cy="383.6" r="0.61" fill="#0bf00b" opacity="0.45" filter="url(#b03)"/>
<circle cx="315.6" cy="383.8" r="0.51" fill="#0bf00b" opacity="0.52" filter="url(#b03)"/>
<circle cx="319.3" cy="381.5" r="0.63" fill="#0bf00b" opacity="0.44" filter="url(#b03)"/>
<circle cx="319.3" cy="383.6" r="0.98" fill="#0bf00b" opacity="0.57" filter="url(#b03)"/>
<circle cx="321.0" cy="384.4" r="1.12" fill="#0bf00b" opacity="0.58" filter="url(#b03)"/>
<circle cx="328.5" cy="382.7" r="0.56" fill="#0bf00b" opacity="0.50" filter="url(#b03)"/>
<circle cx="328.8" cy="383.9" r="0.89" fill="#0bf00b" opacity="0.77" filter="url(#b03)"/>
<circle cx="336.8" cy="382.3" r="0.64" fill="#0bf00b" opacity="0.47" filter="url(#b03)"/>
<circle cx="336.7" cy="382.6" r="0.53" fill="#0bf00b" opacity="0.78" filter="url(#b03)"/>
<circle cx="337.6" cy="383.0" r="0.66" fill="#0bf00b" opacity="0.43" filter="url(#b03)"/>
<circle cx="345.0" cy="382.4" r="0.87" fill="#0bf00b" opacity="0.54" filter="url(#b03)"/>
<circle cx="343.4" cy="381.4" r="1.07" fill="#0bf00b" opacity="0.68" filter="url(#b03)"/>
<circle cx="226.1" cy="374.3" r="3.08" fill="#032a03" opacity="0.6" filter="url(#b1)"/>
<circle cx="217.1" cy="382.4" r="2.64" fill="#032a03" opacity="0.6" filter="url(#b1)"/>
<circle cx="228.2" cy="386.4" r="2.64" fill="#032a03" opacity="0.6" filter="url(#b1)"/>
<circle cx="256.7" cy="364" r="2.42" fill="#032a03" opacity="0.6" filter="url(#b1)"/>
<circle cx="258" cy="352" r="1.98" fill="#032a03" opacity="0.6" filter="url(#b1)"/>
<circle cx="292" cy="347" r="1.76" fill="#032a03" opacity="0.6" filter="url(#b1)"/>
<circle cx="269.5" cy="346.1" r="1.65" fill="#032a03" opacity="0.6" filter="url(#b1)"/>
<circle cx="308.2" cy="346.1" r="1.98" fill="#032a03" opacity="0.6" filter="url(#b1)"/>
<circle cx="324.3" cy="343.5" r="1.87" fill="#032a03" opacity="0.6" filter="url(#b1)"/>
<circle cx="342.6" cy="355" r="1.65" fill="#032a03" opacity="0.6" filter="url(#b1)"/>
<circle cx="353.4" cy="359.5" r="2.20" fill="#032a03" opacity="0.6" filter="url(#b1)"/>
<circle cx="364.6" cy="368.2" r="1.10" fill="#032a03" opacity="0.6" filter="url(#b1)"/>
<circle cx="222" cy="378" r="1.98" fill="#032a03" opacity="0.6" filter="url(#b1)"/>
<rect x="208.2" y="338.8" width="160.3" height="85.2" fill="#000" filter="url(#noise)" opacity="0.22"/>
</g>
<clipPath id="cp8"><rect x="368.6" y="338.8" width="37.4" height="85.2"/></clipPath>
<g clip-path="url(#cp8)">
<rect x="368.6" y="338.8" width="37.4" height="85.2" fill="#025c02" />
<rect x="363.6" y="385" width="47.4" height="44.0" fill="#06a006" filter="url(#b6)" opacity="0.45"/>
<rect x="366.6" y="415.0" width="41.4" height="11" fill="#022602" filter="url(#b1)" opacity="0.85"/>
<path d="M396.5,410.6 C396.9,410.0 397.9,408.4 398.7,407.4 C399.5,406.4 400.5,405.5 401.3,404.5 C402.2,403.6 403.0,402.6 403.7,401.5 C404.3,400.4 404.5,399.0 405.2,397.9 C405.8,396.8 407.1,396.1 407.7,394.9 C408.3,393.8 408.5,391.8 408.7,391.2" stroke="#0ce80b" stroke-width="0.33" fill="none" opacity="0.73" stroke-linecap="round"/>
<path d="M403.7,401.5 C403.7,401.0 403.7,399.8 403.9,398.9 C404.0,398.1 404.2,397.2 404.5,396.4 C404.7,395.6 405.2,394.9 405.5,394.1 C405.8,393.3 406.1,392.5 406.3,391.7 C406.6,390.9 406.6,390.0 406.9,389.2 C407.3,388.4 407.9,387.3 408.1,387.0" stroke="#0ce80b" stroke-width="0.26" fill="none" opacity="0.62" stroke-linecap="round"/>
<path d="M395.4,419.9 C395.6,418.8 396.0,415.2 396.7,413.0 C397.4,410.7 398.7,408.7 399.7,406.6 C400.7,404.4 402.1,402.4 402.8,400.2 C403.5,398.0 403.2,395.4 403.9,393.2 C404.6,391.0 406.4,389.0 407.0,386.8 C407.5,384.5 407.1,380.9 407.2,379.7" stroke="#09d008" stroke-width="0.54" fill="none" opacity="0.33" stroke-linecap="round"/>
<path d="M399.7,406.6 C399.7,406.0 399.8,404.3 399.8,403.2 C399.8,402.1 399.9,400.9 399.7,399.8 C399.5,398.8 398.9,397.8 398.7,396.7 C398.4,395.6 398.4,394.4 398.4,393.3 C398.3,392.2 398.6,391.0 398.4,390.0 C398.1,388.9 397.2,387.4 397.0,386.9" stroke="#09d008" stroke-width="0.43" fill="none" opacity="0.28" stroke-linecap="round"/>
<path d="M387.1,421.5 C387.1,420.9 387.3,419.2 387.3,418.0 C387.3,416.8 387.2,415.6 387.2,414.4 C387.2,413.2 387.5,412.0 387.5,410.8 C387.5,409.6 387.2,408.4 387.3,407.3 C387.4,406.1 388.1,405.0 388.1,403.8 C388.2,402.6 387.8,400.8 387.7,400.2" stroke="#0ce80b" stroke-width="0.46" fill="none" opacity="0.93" stroke-linecap="round"/>
<path d="M387.2,414.4 C387.1,414.1 387.1,413.3 387.0,412.7 C386.9,412.1 386.6,411.6 386.5,411.1 C386.3,410.5 386.1,410.0 386.0,409.4 C385.9,408.9 386.0,408.3 385.8,407.7 C385.7,407.2 385.4,406.7 385.2,406.1 C384.9,405.6 384.6,404.8 384.5,404.6" stroke="#0ce80b" stroke-width="0.37" fill="none" opacity="0.79" stroke-linecap="round"/>
<path d="M390.5,417.0 C390.5,415.5 390.7,411.0 390.5,408.0 C390.3,405.0 389.5,402.0 389.3,399.0 C389.2,396.0 390.1,392.9 389.7,390.0 C389.3,387.0 387.9,384.2 387.0,381.3 C386.1,378.5 385.0,375.6 384.2,372.7 C383.5,369.8 382.8,365.3 382.6,363.8" stroke="#13f811" stroke-width="0.38" fill="none" opacity="0.32" stroke-linecap="round"/>
<path d="M389.7,390.0 C390.0,389.0 390.7,386.2 391.2,384.3 C391.6,382.4 392.2,380.6 392.6,378.7 C392.9,376.8 393.1,374.8 393.4,372.9 C393.8,371.0 394.2,369.1 394.6,367.2 C394.9,365.3 395.3,363.4 395.7,361.5 C396.1,359.6 396.7,356.7 396.9,355.8" stroke="#13f811" stroke-width="0.30" fill="none" opacity="0.27" stroke-linecap="round"/>
<path d="M405.0,411.2 C404.7,410.0 404.1,406.4 403.4,404.1 C402.8,401.7 401.8,399.5 401.0,397.2 C400.2,394.9 399.4,392.6 398.6,390.3 C397.7,388.0 396.6,385.8 395.8,383.5 C395.0,381.2 394.2,378.9 393.6,376.6 C392.9,374.2 392.4,370.6 392.1,369.4" stroke="#09d008" stroke-width="0.35" fill="none" opacity="0.65" stroke-linecap="round"/>
<path d="M398.6,390.3 C398.1,389.9 396.6,388.8 395.8,388.0 C395.0,387.1 394.4,386.0 393.6,385.1 C392.8,384.2 391.6,383.6 390.9,382.7 C390.1,381.8 389.7,380.6 389.2,379.5 C388.6,378.5 388.2,377.3 387.5,376.3 C386.9,375.3 385.8,373.8 385.4,373.3" stroke="#09d008" stroke-width="0.28" fill="none" opacity="0.55" stroke-linecap="round"/>
<path d="M404.6,420.6 C404.3,419.7 403.6,416.8 402.9,415.0 C402.3,413.2 401.0,411.5 400.7,409.6 C400.4,407.7 401.2,405.7 401.1,403.8 C401.0,401.9 400.6,399.9 400.2,398.0 C399.7,396.1 398.9,394.3 398.3,392.5 C397.8,390.6 397.2,387.7 396.9,386.8" stroke="#0ce80b" stroke-width="0.29" fill="none" opacity="0.83" stroke-linecap="round"/>
<path d="M401.1,403.8 C401.0,403.4 400.6,402.2 400.4,401.4 C400.1,400.6 399.9,399.8 399.6,399.0 C399.3,398.2 399.0,397.4 398.7,396.6 C398.3,395.9 398.0,395.1 397.6,394.3 C397.3,393.6 397.0,392.8 396.6,392.1 C396.2,391.3 395.5,390.2 395.3,389.9" stroke="#0ce80b" stroke-width="0.23" fill="none" opacity="0.71" stroke-linecap="round"/>
<path d="M395.4,409.3 C395.5,408.3 396.3,405.4 396.4,403.4 C396.5,401.5 396.1,399.5 395.9,397.5 C395.7,395.5 395.3,393.6 395.0,391.6 C394.7,389.6 394.4,387.7 394.0,385.7 C393.7,383.8 392.9,381.8 392.9,379.9 C393.0,377.9 394.1,375.1 394.3,374.1" stroke="#09d008" stroke-width="0.53" fill="none" opacity="0.72" stroke-linecap="round"/>
<path d="M395.0,391.6 C394.6,391.0 393.5,389.3 392.7,388.2 C392.0,387.1 390.9,386.1 390.4,384.8 C389.9,383.6 390.1,382.1 389.7,380.8 C389.4,379.5 388.8,378.2 388.4,376.9 C387.9,375.7 387.3,374.4 386.9,373.1 C386.6,371.8 386.2,369.8 386.1,369.1" stroke="#09d008" stroke-width="0.42" fill="none" opacity="0.62" stroke-linecap="round"/>
<path d="M405.5,416.6 C405.5,416.0 405.2,414.0 405.2,412.7 C405.2,411.4 405.6,410.1 405.7,408.8 C405.9,407.5 406.1,406.2 406.1,405.0 C406.0,403.7 405.7,402.4 405.4,401.1 C405.2,399.8 404.8,398.6 404.5,397.3 C404.3,396.0 404.0,394.1 403.9,393.4" stroke="#09d008" stroke-width="0.45" fill="none" opacity="0.82" stroke-linecap="round"/>
<path d="M405.7,408.8 C405.6,408.5 405.1,407.3 404.8,406.6 C404.6,405.8 404.4,405.0 404.2,404.2 C404.0,403.5 403.9,402.7 403.8,401.9 C403.6,401.1 403.4,400.3 403.2,399.5 C403.1,398.7 403.3,397.9 403.1,397.1 C402.9,396.3 402.4,395.2 402.2,394.8" stroke="#09d008" stroke-width="0.36" fill="none" opacity="0.70" stroke-linecap="round"/>
<path d="M378.3,416.4 C378.3,415.6 378.3,413.3 378.0,411.8 C377.7,410.3 377.0,408.9 376.5,407.5 C375.9,406.0 375.0,404.7 374.6,403.2 C374.2,401.7 374.2,400.2 374.1,398.6 C374.0,397.1 374.1,395.5 373.9,394.0 C373.6,392.5 372.8,390.3 372.6,389.6" stroke="#13f811" stroke-width="0.37" fill="none" opacity="0.68" stroke-linecap="round"/>
<path d="M374.6,403.2 C374.7,402.9 375.1,402.0 375.2,401.4 C375.3,400.7 375.2,400.1 375.2,399.4 C375.2,398.8 375.3,398.1 375.3,397.5 C375.4,396.8 375.5,396.2 375.6,395.5 C375.6,394.9 375.5,394.2 375.5,393.6 C375.4,392.9 375.3,391.9 375.3,391.6" stroke="#13f811" stroke-width="0.30" fill="none" opacity="0.58" stroke-linecap="round"/>
<path d="M388.1,408.5 C388.2,407.0 388.0,402.5 388.3,399.5 C388.6,396.5 389.5,393.6 389.9,390.6 C390.4,387.6 390.9,384.6 391.3,381.7 C391.6,378.7 391.8,375.6 391.9,372.6 C392.0,369.6 392.1,366.6 391.9,363.6 C391.7,360.6 390.9,356.1 390.7,354.6" stroke="#09d008" stroke-width="0.49" fill="none" opacity="0.84" stroke-linecap="round"/>
<path d="M389.9,390.6 C389.6,389.8 388.6,387.3 387.9,385.6 C387.3,383.9 387.0,382.1 386.2,380.5 C385.4,379.0 384.0,377.7 383.1,376.1 C382.2,374.6 381.7,372.9 380.9,371.3 C380.1,369.6 379.1,368.1 378.5,366.5 C377.9,364.8 377.4,362.1 377.1,361.3" stroke="#09d008" stroke-width="0.39" fill="none" opacity="0.71" stroke-linecap="round"/>
<path d="M372.7,410.4 C372.9,409.9 373.8,408.3 374.1,407.2 C374.4,406.0 374.1,404.8 374.3,403.6 C374.5,402.4 375.0,401.3 375.4,400.2 C375.9,399.1 376.5,398.1 376.9,397.0 C377.3,395.8 377.8,394.7 378.0,393.6 C378.2,392.4 378.0,390.6 378.0,390.0" stroke="#13f811" stroke-width="0.52" fill="none" opacity="0.34" stroke-linecap="round"/>
<path d="M374.3,403.6 C374.6,403.3 375.3,402.4 375.9,401.9 C376.4,401.3 377.0,400.8 377.4,400.2 C377.9,399.6 378.3,398.8 378.8,398.2 C379.2,397.6 379.9,397.2 380.4,396.6 C381.0,396.0 381.4,395.4 382.0,394.9 C382.6,394.4 383.5,393.7 383.9,393.5" stroke="#13f811" stroke-width="0.42" fill="none" opacity="0.29" stroke-linecap="round"/>
<path d="M375.5,414.7 C375.9,414.0 377.1,411.7 377.6,410.1 C378.1,408.5 378.3,406.8 378.6,405.2 C379.0,403.5 379.2,401.8 379.5,400.2 C379.7,398.5 379.9,396.8 380.0,395.1 C380.2,393.4 379.9,391.7 380.2,390.0 C380.5,388.4 381.6,386.1 381.9,385.3" stroke="#13f811" stroke-width="0.34" fill="none" opacity="0.78" stroke-linecap="round"/>
<path d="M378.6,405.2 C378.6,404.6 378.7,402.8 378.4,401.6 C378.1,400.5 377.3,399.5 376.8,398.5 C376.4,397.4 376.0,396.2 375.8,395.1 C375.5,394.0 375.5,392.8 375.3,391.6 C375.2,390.4 375.0,389.3 374.7,388.1 C374.5,387.0 374.1,385.2 374.0,384.7" stroke="#13f811" stroke-width="0.27" fill="none" opacity="0.67" stroke-linecap="round"/>
<path d="M388.6,414.1 C388.8,412.8 389.8,408.9 390.3,406.3 C390.7,403.6 390.5,400.9 391.2,398.3 C391.9,395.8 393.2,393.3 394.5,391.0 C395.8,388.7 397.8,386.7 399.0,384.4 C400.2,382.0 401.1,379.4 401.8,376.9 C402.4,374.3 402.7,370.2 402.9,368.9" stroke="#09d008" stroke-width="0.49" fill="none" opacity="0.89" stroke-linecap="round"/>
<path d="M391.2,398.3 C391.6,397.8 392.5,395.9 393.4,394.9 C394.3,394.0 395.8,393.5 396.7,392.6 C397.6,391.7 398.0,390.2 398.9,389.2 C399.8,388.3 401.1,387.7 402.2,386.9 C403.2,386.0 404.0,384.9 405.0,384.0 C406.0,383.1 407.7,382.1 408.3,381.7" stroke="#09d008" stroke-width="0.39" fill="none" opacity="0.75" stroke-linecap="round"/>
<path d="M399.2,420.8 C399.6,420.2 400.8,418.4 401.4,417.2 C401.9,415.9 401.9,414.4 402.4,413.1 C403.0,411.8 404.1,410.8 404.6,409.5 C405.1,408.2 405.1,406.7 405.4,405.3 C405.7,404.0 406.0,402.6 406.2,401.2 C406.5,399.8 406.8,397.7 406.9,397.1" stroke="#09d008" stroke-width="0.39" fill="none" opacity="0.62" stroke-linecap="round"/>
<path d="M404.6,409.5 C404.8,409.1 405.2,407.8 405.7,407.1 C406.2,406.4 407.1,406.1 407.7,405.5 C408.2,404.8 408.5,403.9 409.0,403.2 C409.5,402.5 410.1,401.9 410.6,401.2 C411.1,400.5 411.6,399.8 412.0,399.0 C412.5,398.3 413.1,397.1 413.3,396.7" stroke="#09d008" stroke-width="0.32" fill="none" opacity="0.53" stroke-linecap="round"/>
<path d="M376.8,422.8 C377.4,421.5 379.1,417.4 380.5,414.8 C381.8,412.1 383.8,409.8 384.8,407.0 C385.7,404.3 385.7,401.2 386.4,398.3 C387.0,395.5 388.0,392.7 388.7,389.8 C389.4,386.9 389.8,384.0 390.3,381.1 C390.8,378.2 391.4,373.8 391.6,372.3" stroke="#13f811" stroke-width="0.49" fill="none" opacity="0.38" stroke-linecap="round"/>
<path d="M386.4,398.3 C386.6,397.4 387.6,394.5 387.8,392.6 C388.0,390.7 387.2,388.7 387.4,386.7 C387.6,384.8 388.8,383.0 389.1,381.1 C389.4,379.2 389.1,377.2 389.1,375.2 C389.1,373.2 389.4,371.3 389.3,369.3 C389.1,367.4 388.5,364.5 388.3,363.5" stroke="#13f811" stroke-width="0.39" fill="none" opacity="0.33" stroke-linecap="round"/>
<path d="M381.4,408.5 C381.6,407.3 382.6,403.9 382.6,401.6 C382.6,399.3 381.5,397.0 381.3,394.7 C381.1,392.3 381.1,389.9 381.3,387.6 C381.5,385.3 382.1,383.0 382.5,380.7 C382.9,378.4 383.9,376.1 383.8,373.8 C383.8,371.5 382.5,368.1 382.2,366.9" stroke="#13f811" stroke-width="0.52" fill="none" opacity="0.89" stroke-linecap="round"/>
<path d="M381.3,387.6 C380.8,387.1 379.5,385.5 378.6,384.4 C377.7,383.4 376.9,382.3 376.1,381.1 C375.3,380.0 374.5,378.9 373.8,377.7 C373.0,376.5 372.4,375.3 371.7,374.1 C370.9,372.9 370.3,371.7 369.5,370.6 C368.7,369.5 367.3,367.9 366.9,367.4" stroke="#13f811" stroke-width="0.42" fill="none" opacity="0.76" stroke-linecap="round"/>
<path d="M399.3,420.0 C399.7,418.8 400.9,415.3 401.7,413.0 C402.5,410.7 403.1,408.3 404.0,406.0 C404.8,403.7 405.6,401.4 406.7,399.2 C407.7,397.0 409.6,395.1 410.4,392.9 C411.2,390.6 410.5,387.8 411.3,385.6 C412.0,383.3 414.4,380.3 415.0,379.2" stroke="#09d008" stroke-width="0.37" fill="none" opacity="0.45" stroke-linecap="round"/>
<path d="M404.0,406.0 C404.1,405.2 404.6,402.7 404.5,401.0 C404.4,399.3 403.6,397.7 403.5,396.0 C403.4,394.3 404.0,392.6 403.9,391.0 C403.9,389.3 403.7,387.6 403.5,385.9 C403.2,384.2 402.9,382.6 402.6,380.9 C402.3,379.3 401.8,376.8 401.7,375.9" stroke="#09d008" stroke-width="0.29" fill="none" opacity="0.39" stroke-linecap="round"/>
<path d="M367.7,409.8 C368.0,408.2 368.9,403.4 369.4,400.2 C370.0,396.9 371.0,393.7 371.1,390.5 C371.3,387.3 370.2,384.0 370.3,380.7 C370.4,377.5 371.4,374.3 371.6,371.0 C371.9,367.8 372.2,364.5 372.0,361.2 C371.8,358.0 370.9,353.1 370.6,351.5" stroke="#13f811" stroke-width="0.54" fill="none" opacity="0.37" stroke-linecap="round"/>
<path d="M371.1,390.5 C370.6,389.7 368.6,387.6 367.9,385.9 C367.1,384.2 367.1,382.2 366.6,380.4 C366.1,378.6 365.5,376.8 365.0,375.0 C364.6,373.2 364.5,371.2 363.8,369.5 C363.1,367.7 361.8,366.3 360.8,364.7 C359.9,363.0 358.4,360.6 357.9,359.8" stroke="#13f811" stroke-width="0.43" fill="none" opacity="0.32" stroke-linecap="round"/>
<path d="M397.0,409.2 C397.0,408.1 397.6,404.7 397.5,402.5 C397.3,400.3 396.4,398.1 396.1,395.9 C395.8,393.6 395.6,391.4 395.6,389.1 C395.7,386.9 396.5,384.7 396.5,382.4 C396.6,380.2 396.0,377.9 395.9,375.7 C395.9,373.4 396.2,370.0 396.3,368.9" stroke="#13f811" stroke-width="0.40" fill="none" opacity="0.45" stroke-linecap="round"/>
<path d="M396.1,395.9 C396.1,395.4 396.0,394.0 396.1,393.1 C396.3,392.2 396.7,391.3 397.1,390.4 C397.4,389.5 397.8,388.7 398.0,387.8 C398.2,386.9 398.1,385.9 398.1,385.0 C398.1,384.0 398.0,383.1 398.1,382.1 C398.1,381.2 398.3,379.8 398.3,379.3" stroke="#13f811" stroke-width="0.32" fill="none" opacity="0.38" stroke-linecap="round"/>
<path d="M406.6,408.5 C406.9,407.7 407.6,405.3 408.2,403.8 C408.8,402.3 409.6,400.9 410.4,399.4 C411.1,398.0 412.0,396.6 412.8,395.2 C413.6,393.8 414.8,392.5 415.3,391.0 C415.9,389.5 415.7,387.7 416.2,386.2 C416.6,384.6 417.7,382.4 418.0,381.6" stroke="#09d008" stroke-width="0.37" fill="none" opacity="0.56" stroke-linecap="round"/>
<path d="M410.4,399.4 C410.3,398.9 410.2,397.4 410.2,396.3 C410.3,395.3 410.7,394.3 410.8,393.3 C410.9,392.3 410.8,391.3 410.7,390.2 C410.6,389.2 410.3,388.2 410.2,387.2 C410.1,386.2 410.4,385.2 410.4,384.1 C410.4,383.1 410.1,381.6 410.0,381.1" stroke="#09d008" stroke-width="0.29" fill="none" opacity="0.47" stroke-linecap="round"/>
<path d="M404.9,422.3 C404.7,421.7 404.4,419.9 404.0,418.7 C403.5,417.6 402.7,416.6 402.4,415.4 C402.0,414.3 401.8,413.0 401.7,411.8 C401.6,410.6 401.6,409.4 401.5,408.2 C401.4,407.0 401.1,405.8 400.9,404.6 C400.8,403.3 400.6,401.5 400.6,400.9" stroke="#0ce80b" stroke-width="0.36" fill="none" opacity="0.81" stroke-linecap="round"/>
<path d="M401.7,411.8 C401.7,411.4 401.8,410.2 401.8,409.4 C401.8,408.6 401.7,407.8 401.6,407.0 C401.5,406.2 401.3,405.4 401.3,404.6 C401.4,403.9 401.7,403.1 401.8,402.3 C401.8,401.5 401.8,400.7 401.8,399.9 C401.7,399.1 401.6,397.9 401.6,397.5" stroke="#0ce80b" stroke-width="0.29" fill="none" opacity="0.68" stroke-linecap="round"/>
<path d="M386.4,421.7 C386.8,420.5 387.7,417.0 388.8,414.8 C389.9,412.7 391.7,410.9 392.9,408.8 C394.1,406.7 395.1,404.5 396.0,402.3 C396.9,400.0 397.2,397.6 398.1,395.3 C399.0,393.1 399.9,390.8 401.2,388.8 C402.5,386.7 405.1,384.1 405.9,383.1" stroke="#0ce80b" stroke-width="0.38" fill="none" opacity="0.31" stroke-linecap="round"/>
<path d="M396.0,402.3 C395.9,401.5 395.3,399.2 395.2,397.6 C395.1,396.0 395.1,394.4 395.3,392.9 C395.4,391.3 396.0,389.8 396.2,388.2 C396.5,386.7 396.9,385.1 396.9,383.5 C397.0,382.0 396.3,380.4 396.4,378.8 C396.5,377.3 397.3,375.0 397.5,374.2" stroke="#0ce80b" stroke-width="0.30" fill="none" opacity="0.26" stroke-linecap="round"/>
<path d="M369.6,414.3 C369.6,413.7 369.4,411.9 369.2,410.8 C369.1,409.6 368.9,408.4 368.7,407.3 C368.5,406.1 368.1,405.0 367.9,403.8 C367.8,402.7 368.1,401.4 367.8,400.3 C367.6,399.2 366.9,398.1 366.4,397.0 C366.0,396.0 365.4,394.3 365.2,393.7" stroke="#0ce80b" stroke-width="0.49" fill="none" opacity="0.58" stroke-linecap="round"/>
<path d="M368.7,407.3 C368.5,407.0 367.6,406.3 367.2,405.7 C366.7,405.2 366.3,404.6 365.9,404.0 C365.6,403.3 365.3,402.7 365.0,402.0 C364.8,401.3 364.7,400.5 364.3,399.9 C364.0,399.3 363.3,398.9 362.8,398.3 C362.3,397.8 361.6,397.0 361.4,396.7" stroke="#0ce80b" stroke-width="0.39" fill="none" opacity="0.50" stroke-linecap="round"/>
<path d="M383.7,423.6 C383.9,422.4 384.8,418.8 384.8,416.5 C384.8,414.1 383.6,411.6 383.8,409.3 C383.9,406.9 385.3,404.6 385.6,402.3 C385.9,399.9 385.4,397.4 385.6,395.0 C385.8,392.6 386.8,390.3 386.9,387.9 C387.0,385.5 386.2,381.9 386.1,380.7" stroke="#13f811" stroke-width="0.29" fill="none" opacity="0.51" stroke-linecap="round"/>
<path d="M385.6,402.3 C385.7,401.7 386.2,399.9 386.5,398.6 C386.7,397.4 386.8,396.2 387.1,395.0 C387.4,393.8 388.0,392.6 388.3,391.4 C388.7,390.2 388.8,389.0 389.2,387.8 C389.6,386.6 390.0,385.4 390.5,384.3 C391.0,383.2 392.1,381.6 392.4,381.1" stroke="#13f811" stroke-width="0.23" fill="none" opacity="0.43" stroke-linecap="round"/>
<path d="M398.7,409.3 C398.8,408.7 399.3,407.0 399.7,405.9 C400.0,404.8 400.2,403.7 400.6,402.6 C401.0,401.5 401.5,400.4 402.0,399.4 C402.5,398.3 403.1,397.3 403.7,396.3 C404.2,395.3 404.6,394.2 405.2,393.2 C405.7,392.2 406.6,390.7 406.9,390.2" stroke="#09d008" stroke-width="0.40" fill="none" opacity="0.92" stroke-linecap="round"/>
<path d="M402.0,399.4 C402.2,399.2 403.0,398.8 403.4,398.4 C403.8,398.0 404.1,397.4 404.4,397.0 C404.7,396.5 405.0,396.0 405.4,395.5 C405.8,395.1 406.3,394.8 406.7,394.4 C407.1,394.0 407.4,393.5 407.9,393.1 C408.3,392.7 409.0,392.2 409.2,392.0" stroke="#09d008" stroke-width="0.32" fill="none" opacity="0.78" stroke-linecap="round"/>
<path d="M369.6,416.2 C369.6,415.1 369.7,411.5 370.1,409.1 C370.4,406.8 371.5,404.6 371.8,402.2 C372.0,399.9 371.8,397.5 371.7,395.1 C371.6,392.8 371.2,390.4 371.3,388.0 C371.3,385.7 371.6,383.3 371.9,381.0 C372.3,378.6 373.1,375.1 373.3,374.0" stroke="#13f811" stroke-width="0.31" fill="none" opacity="0.34" stroke-linecap="round"/>
<path d="M371.8,402.2 C372.0,401.8 372.9,400.6 373.2,399.7 C373.6,398.8 373.7,397.8 374.0,396.9 C374.2,395.9 374.5,395.0 374.8,394.1 C375.1,393.1 375.3,392.2 375.7,391.3 C376.1,390.4 376.5,389.5 377.0,388.6 C377.5,387.8 378.4,386.7 378.7,386.3" stroke="#13f811" stroke-width="0.25" fill="none" opacity="0.29" stroke-linecap="round"/>
<path d="M372.6,423.3 C372.9,422.6 373.8,420.6 374.3,419.3 C374.8,417.9 375.3,416.5 375.5,415.0 C375.7,413.6 375.3,412.1 375.5,410.6 C375.7,409.2 376.2,407.8 376.6,406.4 C377.1,405.0 377.8,403.6 378.3,402.3 C378.8,400.9 379.4,398.8 379.6,398.1" stroke="#09d008" stroke-width="0.46" fill="none" opacity="0.64" stroke-linecap="round"/>
<path d="M375.5,410.6 C375.7,410.3 376.5,409.3 376.9,408.6 C377.4,407.9 377.8,407.2 378.3,406.5 C378.8,405.9 379.6,405.5 380.2,404.9 C380.8,404.3 381.3,403.7 381.8,403.1 C382.4,402.5 383.2,402.0 383.6,401.4 C384.1,400.7 384.5,399.5 384.7,399.1" stroke="#09d008" stroke-width="0.37" fill="none" opacity="0.55" stroke-linecap="round"/>
<path d="M402.6,410.2 C402.9,409.7 404.0,407.9 404.5,406.7 C405.0,405.5 405.0,404.1 405.5,402.9 C406.1,401.7 407.0,400.6 407.8,399.6 C408.6,398.5 409.6,397.6 410.3,396.5 C411.0,395.4 411.2,394.0 411.9,392.8 C412.5,391.7 413.8,390.1 414.2,389.6" stroke="#13f811" stroke-width="0.36" fill="none" opacity="0.65" stroke-linecap="round"/>
<path d="M405.5,402.9 C405.6,402.6 405.9,401.8 406.0,401.2 C406.1,400.7 406.2,400.1 406.2,399.5 C406.2,399.0 406.1,398.4 406.1,397.8 C406.0,397.3 405.8,396.7 405.9,396.1 C405.9,395.6 406.2,395.1 406.3,394.5 C406.5,393.9 406.6,393.1 406.6,392.8" stroke="#13f811" stroke-width="0.29" fill="none" opacity="0.55" stroke-linecap="round"/>
<path d="M408.6,419.8 C408.4,418.4 407.9,414.3 407.7,411.6 C407.4,408.9 407.5,406.1 406.8,403.5 C406.2,400.8 404.7,398.4 404.0,395.8 C403.3,393.2 402.8,390.4 402.5,387.7 C402.1,385.0 402.2,382.3 401.9,379.6 C401.6,376.8 401.0,372.8 400.8,371.4" stroke="#13f811" stroke-width="0.31" fill="none" opacity="0.55" stroke-linecap="round"/>
<path d="M404.0,395.8 C403.4,395.2 401.3,393.5 400.3,392.1 C399.4,390.7 399.2,388.8 398.5,387.3 C397.9,385.7 397.1,384.1 396.2,382.6 C395.2,381.2 394.0,380.0 392.9,378.6 C391.8,377.3 390.5,376.1 389.7,374.6 C388.9,373.1 388.3,370.5 388.0,369.7" stroke="#13f811" stroke-width="0.25" fill="none" opacity="0.47" stroke-linecap="round"/>
<path d="M393.5,419.4 C393.5,418.4 393.5,415.2 393.8,413.1 C394.1,411.1 395.1,409.1 395.4,407.0 C395.7,405.0 395.4,402.8 395.6,400.7 C395.8,398.6 395.9,396.5 396.6,394.5 C397.2,392.5 398.7,390.8 399.5,388.9 C400.4,387.0 401.2,384.0 401.6,383.0" stroke="#09d008" stroke-width="0.49" fill="none" opacity="0.48" stroke-linecap="round"/>
<path d="M395.4,407.0 C395.4,406.4 395.7,404.5 395.5,403.3 C395.4,402.0 395.1,400.8 394.7,399.6 C394.3,398.4 393.6,397.3 393.3,396.1 C393.0,394.9 393.2,393.6 393.0,392.3 C392.9,391.1 392.8,389.8 392.5,388.6 C392.1,387.4 391.2,385.8 390.9,385.2" stroke="#09d008" stroke-width="0.39" fill="none" opacity="0.41" stroke-linecap="round"/>
<path d="M387.0,414.2 C387.6,412.9 389.6,409.2 390.3,406.5 C391.1,403.9 390.8,401.0 391.4,398.3 C392.0,395.6 393.4,393.1 394.1,390.5 C394.7,387.8 395.1,385.0 395.3,382.2 C395.5,379.5 395.2,376.7 395.5,374.0 C395.8,371.2 396.9,367.2 397.1,365.8" stroke="#0ce80b" stroke-width="0.36" fill="none" opacity="0.34" stroke-linecap="round"/>
<path d="M391.4,398.3 C391.3,397.5 391.2,395.0 391.0,393.3 C390.8,391.7 390.5,390.0 390.2,388.4 C389.8,386.7 389.1,385.2 388.8,383.5 C388.6,381.9 388.8,380.2 388.4,378.6 C388.0,376.9 387.1,375.5 386.5,373.9 C385.9,372.4 385.0,370.0 384.6,369.3" stroke="#0ce80b" stroke-width="0.29" fill="none" opacity="0.29" stroke-linecap="round"/>
<path d="M371.0,420.9 C371.0,420.4 370.8,418.7 370.7,417.6 C370.7,416.5 370.7,415.4 370.6,414.2 C370.5,413.1 370.4,412.0 370.1,410.9 C369.9,409.8 369.3,408.8 369.1,407.7 C368.9,406.6 369.0,405.5 368.9,404.4 C368.8,403.3 368.6,401.6 368.6,401.0" stroke="#13f811" stroke-width="0.36" fill="none" opacity="0.75" stroke-linecap="round"/>
<path d="M370.1,410.9 C370.2,410.5 370.4,409.4 370.5,408.7 C370.6,407.9 370.6,407.2 370.7,406.4 C370.9,405.7 371.1,405.0 371.3,404.3 C371.6,403.6 371.9,402.9 372.2,402.2 C372.4,401.5 372.7,400.8 372.9,400.0 C373.1,399.3 373.3,398.2 373.4,397.9" stroke="#13f811" stroke-width="0.29" fill="none" opacity="0.64" stroke-linecap="round"/>
<path d="M376.8,416.9 C376.7,416.4 376.6,414.8 376.5,413.7 C376.5,412.7 376.7,411.6 376.7,410.6 C376.6,409.5 376.4,408.5 376.4,407.4 C376.3,406.4 376.3,405.3 376.2,404.2 C376.1,403.2 375.9,402.1 375.7,401.1 C375.6,400.0 375.4,398.5 375.3,397.9" stroke="#13f811" stroke-width="0.52" fill="none" opacity="0.87" stroke-linecap="round"/>
<path d="M376.4,407.4 C376.5,407.1 376.7,406.3 376.9,405.8 C377.2,405.2 377.6,404.8 377.9,404.3 C378.1,403.8 378.4,403.2 378.6,402.7 C378.8,402.2 379.0,401.6 379.2,401.0 C379.4,400.5 379.5,399.9 379.8,399.4 C380.0,398.9 380.4,398.1 380.6,397.8" stroke="#13f811" stroke-width="0.42" fill="none" opacity="0.74" stroke-linecap="round"/>
<path d="M376.0,416.3 C376.4,415.5 378.0,413.4 378.9,411.9 C379.9,410.4 380.8,409.0 381.7,407.4 C382.5,405.9 383.1,404.2 384.1,402.8 C385.1,401.3 386.6,400.3 387.5,398.8 C388.3,397.3 388.5,395.4 389.2,393.8 C390.0,392.2 391.5,390.0 391.9,389.3" stroke="#0ce80b" stroke-width="0.32" fill="none" opacity="0.81" stroke-linecap="round"/>
<path d="M384.1,402.8 C384.0,402.3 383.8,401.0 383.8,400.1 C383.8,399.2 383.9,398.3 384.0,397.4 C384.1,396.5 384.4,395.6 384.5,394.8 C384.6,393.9 384.7,393.0 384.7,392.1 C384.7,391.2 384.3,390.3 384.4,389.4 C384.4,388.5 384.8,387.2 384.9,386.7" stroke="#0ce80b" stroke-width="0.25" fill="none" opacity="0.69" stroke-linecap="round"/>
<path d="M400.7,423.3 C401.1,422.3 402.0,419.4 402.8,417.5 C403.6,415.6 404.7,413.9 405.5,412.0 C406.3,410.1 406.9,408.2 407.5,406.2 C408.2,404.3 408.3,402.1 409.1,400.3 C410.0,398.5 411.5,397.0 412.7,395.3 C413.8,393.6 415.5,391.0 416.1,390.2" stroke="#0ce80b" stroke-width="0.50" fill="none" opacity="0.75" stroke-linecap="round"/>
<path d="M407.5,406.2 C407.6,405.6 407.8,403.6 408.1,402.3 C408.4,401.0 409.0,399.7 409.3,398.5 C409.6,397.2 409.7,395.8 409.9,394.5 C410.2,393.2 410.5,391.9 410.5,390.6 C410.6,389.2 410.4,387.9 410.4,386.6 C410.4,385.2 410.4,383.2 410.4,382.6" stroke="#0ce80b" stroke-width="0.40" fill="none" opacity="0.64" stroke-linecap="round"/>
<path d="M378.6,412.9 C378.5,412.2 378.0,410.2 377.9,408.8 C377.8,407.5 378.1,406.1 378.0,404.8 C377.9,403.4 377.5,402.0 377.5,400.7 C377.6,399.3 378.1,398.0 378.3,396.7 C378.6,395.3 378.9,394.0 379.0,392.6 C379.1,391.3 378.9,389.2 378.9,388.5" stroke="#0ce80b" stroke-width="0.42" fill="none" opacity="0.35" stroke-linecap="round"/>
<path d="M377.5,400.7 C377.7,400.3 378.0,399.0 378.4,398.2 C378.8,397.4 379.4,396.8 379.8,396.0 C380.2,395.2 380.4,394.4 380.8,393.6 C381.2,392.9 381.8,392.2 382.1,391.4 C382.5,390.6 382.7,389.7 382.9,388.9 C383.1,388.0 383.2,386.7 383.2,386.3" stroke="#0ce80b" stroke-width="0.34" fill="none" opacity="0.30" stroke-linecap="round"/>
<path d="M385.8,414.9 C385.9,414.3 386.6,412.6 386.6,411.4 C386.7,410.3 386.2,409.1 386.2,407.9 C386.2,406.7 386.3,405.5 386.5,404.3 C386.8,403.2 387.4,402.1 387.6,400.9 C387.9,399.8 387.9,398.6 387.8,397.4 C387.7,396.2 387.4,394.4 387.3,393.8" stroke="#13f811" stroke-width="0.35" fill="none" opacity="0.50" stroke-linecap="round"/>
<path d="M386.5,404.3 C386.7,404.0 387.2,403.0 387.4,402.3 C387.7,401.6 387.7,400.8 388.0,400.1 C388.3,399.5 388.9,398.9 389.4,398.4 C389.9,397.8 390.5,397.3 390.8,396.6 C391.2,396.0 391.2,395.2 391.4,394.5 C391.6,393.8 391.9,392.7 392.0,392.3" stroke="#13f811" stroke-width="0.28" fill="none" opacity="0.43" stroke-linecap="round"/>
<path d="M366.8,418.1 C367.1,416.8 368.1,412.9 368.6,410.2 C369.1,407.5 369.9,404.8 369.8,402.1 C369.8,399.4 368.5,396.8 368.4,394.1 C368.2,391.4 368.8,388.7 368.8,386.0 C368.9,383.3 368.5,380.5 368.7,377.8 C368.9,375.1 369.7,371.1 369.9,369.8" stroke="#09d008" stroke-width="0.35" fill="none" opacity="0.59" stroke-linecap="round"/>
<path d="M369.8,402.1 C370.0,401.2 370.3,398.4 370.7,396.5 C371.1,394.7 371.5,392.8 372.2,391.1 C372.9,389.3 374.1,387.8 374.8,386.0 C375.4,384.2 375.7,382.3 376.0,380.5 C376.3,378.6 376.2,376.7 376.6,374.8 C376.9,373.0 378.0,370.3 378.3,369.4" stroke="#09d008" stroke-width="0.28" fill="none" opacity="0.50" stroke-linecap="round"/>
<path d="M408.5,423.8 C408.8,423.3 409.4,421.9 409.8,421.0 C410.2,420.0 410.6,419.1 410.9,418.1 C411.3,417.1 411.5,416.1 411.9,415.2 C412.3,414.2 412.9,413.3 413.2,412.4 C413.5,411.4 413.3,410.3 413.5,409.3 C413.7,408.3 414.4,406.9 414.6,406.4" stroke="#0ce80b" stroke-width="0.32" fill="none" opacity="0.90" stroke-linecap="round"/>
<path d="M411.9,415.2 C412.2,414.9 413.0,414.3 413.5,413.7 C413.9,413.2 414.1,412.4 414.5,411.9 C414.9,411.3 415.3,410.7 415.8,410.2 C416.2,409.6 416.8,409.2 417.3,408.7 C417.8,408.1 418.1,407.5 418.5,406.9 C419.0,406.4 419.8,405.7 420.1,405.5" stroke="#0ce80b" stroke-width="0.26" fill="none" opacity="0.77" stroke-linecap="round"/>
<path d="M383.9,421.8 C383.9,420.4 383.7,416.2 383.9,413.4 C384.0,410.6 384.7,407.8 384.7,405.0 C384.6,402.3 383.6,399.5 383.6,396.7 C383.5,393.9 384.7,391.1 384.6,388.4 C384.4,385.6 382.8,382.9 382.7,380.2 C382.5,377.4 383.5,373.2 383.7,371.8" stroke="#09d008" stroke-width="0.53" fill="none" opacity="0.52" stroke-linecap="round"/>
<path d="M384.7,405.0 C384.3,404.2 383.2,401.8 382.2,400.3 C381.3,398.8 379.9,397.5 378.9,396.0 C377.9,394.5 377.2,392.9 376.4,391.3 C375.7,389.6 375.0,388.0 374.4,386.3 C373.8,384.6 373.4,382.8 372.8,381.2 C372.1,379.5 371.0,377.0 370.6,376.2" stroke="#09d008" stroke-width="0.42" fill="none" opacity="0.44" stroke-linecap="round"/>
<path d="M396.0,417.0 C395.8,415.5 395.0,410.7 394.5,407.6 C393.9,404.5 393.5,401.3 392.7,398.2 C391.9,395.1 390.1,392.2 389.8,389.1 C389.5,386.0 390.8,382.7 390.8,379.6 C390.9,376.4 390.1,373.2 390.0,370.0 C389.9,366.9 390.3,362.1 390.3,360.5" stroke="#13f811" stroke-width="0.41" fill="none" opacity="0.53" stroke-linecap="round"/>
<path d="M392.7,398.2 C393.0,397.5 393.9,395.4 394.4,393.9 C394.8,392.5 395.2,391.0 395.5,389.5 C395.8,388.0 395.6,386.4 396.1,384.9 C396.5,383.5 397.6,382.3 398.1,380.8 C398.6,379.4 398.3,377.7 398.8,376.3 C399.4,374.9 400.9,373.1 401.4,372.5" stroke="#13f811" stroke-width="0.33" fill="none" opacity="0.45" stroke-linecap="round"/>
<path d="M373.4,420.4 C373.4,419.9 373.3,418.5 373.3,417.5 C373.3,416.6 373.3,415.6 373.2,414.6 C373.1,413.7 372.6,412.8 372.6,411.9 C372.6,410.9 372.9,410.0 373.0,409.0 C373.0,408.1 372.9,407.1 373.0,406.2 C373.1,405.2 373.4,403.8 373.5,403.4" stroke="#0ce80b" stroke-width="0.40" fill="none" opacity="0.81" stroke-linecap="round"/>
<path d="M372.6,411.9 C372.6,411.5 372.8,410.6 372.9,410.0 C373.0,409.4 373.1,408.8 373.3,408.2 C373.5,407.6 373.9,407.1 374.2,406.6 C374.5,406.0 374.7,405.5 375.0,404.9 C375.2,404.3 375.4,403.7 375.6,403.2 C375.8,402.6 376.0,401.7 376.1,401.4" stroke="#0ce80b" stroke-width="0.32" fill="none" opacity="0.69" stroke-linecap="round"/>
<path d="M397.1,421.4 C396.9,419.9 396.2,415.5 396.0,412.5 C395.7,409.5 395.4,406.5 395.5,403.5 C395.6,400.5 396.8,397.5 396.6,394.6 C396.3,391.6 394.8,388.8 394.0,385.9 C393.2,383.1 391.9,380.2 391.7,377.3 C391.5,374.3 392.7,369.8 392.9,368.4" stroke="#13f811" stroke-width="0.41" fill="none" opacity="0.68" stroke-linecap="round"/>
<path d="M395.5,403.5 C395.6,402.7 395.8,400.3 396.0,398.7 C396.2,397.2 396.6,395.6 396.7,394.0 C396.9,392.4 396.7,390.8 396.9,389.2 C397.1,387.7 397.6,386.1 397.9,384.6 C398.2,383.0 398.1,381.4 398.6,379.8 C399.0,378.3 400.1,376.2 400.4,375.4" stroke="#13f811" stroke-width="0.33" fill="none" opacity="0.57" stroke-linecap="round"/>
<path d="M403.8,410.3 C403.9,409.4 404.2,406.4 404.8,404.5 C405.4,402.7 406.5,401.0 407.5,399.3 C408.5,397.6 409.8,396.1 410.8,394.5 C411.8,392.8 412.7,391.0 413.4,389.2 C414.1,387.4 414.3,385.3 415.1,383.6 C415.9,381.8 417.9,379.5 418.5,378.7" stroke="#0ce80b" stroke-width="0.47" fill="none" opacity="0.86" stroke-linecap="round"/>
<path d="M407.5,399.3 C407.3,398.7 406.9,397.1 406.5,396.0 C406.2,395.0 405.5,393.9 405.4,392.8 C405.3,391.7 405.8,390.6 405.7,389.5 C405.7,388.3 405.4,387.2 405.3,386.1 C405.2,385.0 405.1,383.8 405.2,382.7 C405.2,381.6 405.6,379.9 405.7,379.4" stroke="#0ce80b" stroke-width="0.38" fill="none" opacity="0.74" stroke-linecap="round"/>
<path d="M366.1,416.9 C366.2,415.5 366.9,411.5 366.7,408.9 C366.5,406.2 365.2,403.6 365.0,401.0 C364.8,398.3 365.4,395.6 365.4,392.9 C365.3,390.3 364.9,387.6 364.6,384.9 C364.2,382.3 363.2,379.6 363.3,377.0 C363.4,374.4 364.7,370.4 365.0,369.1" stroke="#0ce80b" stroke-width="0.47" fill="none" opacity="0.46" stroke-linecap="round"/>
<path d="M365.0,401.0 C364.7,400.2 364.0,397.7 363.4,396.0 C362.8,394.4 362.1,392.7 361.5,391.1 C360.8,389.5 360.0,387.9 359.5,386.3 C358.9,384.7 358.8,382.8 358.2,381.2 C357.5,379.6 356.3,378.2 355.6,376.7 C354.9,375.1 354.3,372.5 354.0,371.7" stroke="#0ce80b" stroke-width="0.38" fill="none" opacity="0.39" stroke-linecap="round"/>
<path d="M391.1,419.0 C391.2,418.5 391.2,416.9 391.5,415.9 C391.9,414.9 392.7,414.2 393.1,413.2 C393.5,412.2 393.5,411.2 393.8,410.1 C394.1,409.1 394.5,408.2 394.7,407.1 C395.0,406.1 395.1,405.1 395.4,404.1 C395.6,403.1 396.2,401.6 396.4,401.1" stroke="#13f811" stroke-width="0.44" fill="none" opacity="0.89" stroke-linecap="round"/>
<path d="M393.8,410.1 C394.0,410.0 394.5,409.4 394.9,409.1 C395.2,408.7 395.7,408.4 395.9,408.0 C396.2,407.6 396.3,407.1 396.5,406.6 C396.7,406.1 397.0,405.7 397.2,405.2 C397.4,404.8 397.5,404.3 397.7,403.8 C397.9,403.3 398.2,402.6 398.3,402.4" stroke="#13f811" stroke-width="0.35" fill="none" opacity="0.76" stroke-linecap="round"/>
<path d="M366.5,420.9 C367.0,419.9 368.1,416.6 369.2,414.5 C370.4,412.5 372.0,410.8 373.3,408.9 C374.6,407.0 376.4,405.3 377.3,403.2 C378.2,401.1 378.2,398.7 378.9,396.5 C379.7,394.3 380.9,392.3 381.7,390.1 C382.4,387.9 383.2,384.5 383.5,383.4" stroke="#0ce80b" stroke-width="0.42" fill="none" opacity="0.38" stroke-linecap="round"/>
<path d="M377.3,403.2 C377.8,402.7 379.3,401.2 380.3,400.2 C381.2,399.3 382.2,398.2 383.2,397.2 C384.2,396.2 385.0,395.1 386.1,394.3 C387.2,393.5 388.6,393.0 389.9,392.3 C391.1,391.7 392.2,390.7 393.4,390.1 C394.6,389.5 396.6,388.8 397.3,388.6" stroke="#0ce80b" stroke-width="0.33" fill="none" opacity="0.32" stroke-linecap="round"/>
<path d="M401.4,409.2 C401.4,408.7 401.5,407.1 401.6,406.1 C401.8,405.1 402.3,404.1 402.4,403.1 C402.6,402.1 402.2,401.0 402.4,400.0 C402.5,399.0 403.1,398.0 403.2,397.0 C403.3,396.0 402.9,395.0 402.7,393.9 C402.6,392.9 402.3,391.4 402.2,390.9" stroke="#09d008" stroke-width="0.33" fill="none" opacity="0.73" stroke-linecap="round"/>
<path d="M402.4,400.0 C402.3,399.7 402.0,398.7 401.7,398.1 C401.5,397.5 401.2,396.9 400.9,396.3 C400.6,395.7 400.4,395.0 400.2,394.4 C400.0,393.8 399.9,393.1 399.7,392.4 C399.6,391.8 399.4,391.1 399.3,390.5 C399.1,389.8 398.9,388.9 398.8,388.5" stroke="#09d008" stroke-width="0.27" fill="none" opacity="0.62" stroke-linecap="round"/>
<path d="M401.6,417.9 C402.0,417.2 403.4,415.2 404.3,413.8 C405.2,412.4 406.3,411.0 407.0,409.5 C407.7,408.0 408.0,406.4 408.6,404.8 C409.1,403.2 409.5,401.5 410.2,400.0 C410.9,398.5 412.1,397.3 412.9,395.8 C413.6,394.3 414.6,392.0 414.9,391.2" stroke="#13f811" stroke-width="0.53" fill="none" opacity="0.83" stroke-linecap="round"/>
<path d="M408.6,404.8 C409.0,404.6 410.3,404.0 411.1,403.6 C411.9,403.1 412.6,402.5 413.4,402.0 C414.2,401.5 415.1,401.2 415.9,400.7 C416.6,400.1 417.3,399.4 417.9,398.8 C418.6,398.1 419.2,397.4 419.9,396.8 C420.6,396.1 421.7,395.3 422.1,395.1" stroke="#13f811" stroke-width="0.42" fill="none" opacity="0.71" stroke-linecap="round"/>
<path d="M403.6,422.3 C403.5,421.5 403.1,419.1 402.9,417.4 C402.7,415.8 402.6,414.2 402.3,412.5 C402.0,410.9 401.4,409.4 401.2,407.7 C401.0,406.1 401.1,404.4 401.2,402.8 C401.2,401.2 401.4,399.5 401.3,397.9 C401.2,396.2 400.7,393.8 400.6,393.0" stroke="#0ce80b" stroke-width="0.47" fill="none" opacity="0.63" stroke-linecap="round"/>
<path d="M401.2,407.7 C401.4,407.5 402.0,406.6 402.3,406.0 C402.7,405.4 402.9,404.8 403.3,404.2 C403.6,403.6 404.1,403.1 404.5,402.5 C404.8,402.0 405.2,401.4 405.4,400.7 C405.6,400.1 405.6,399.3 405.8,398.7 C406.1,398.1 406.8,397.3 407.0,397.0" stroke="#0ce80b" stroke-width="0.37" fill="none" opacity="0.54" stroke-linecap="round"/>
<path d="M376.4,420.3 C376.6,419.6 377.2,417.7 377.3,416.4 C377.5,415.0 377.0,413.6 377.3,412.4 C377.5,411.1 378.6,410.0 378.9,408.7 C379.1,407.4 378.9,406.0 378.9,404.7 C378.8,403.4 378.6,402.0 378.5,400.7 C378.4,399.4 378.4,397.4 378.3,396.7" stroke="#0ce80b" stroke-width="0.39" fill="none" opacity="0.46" stroke-linecap="round"/>
<path d="M377.3,412.4 C377.2,411.9 376.8,410.6 376.5,409.7 C376.2,408.8 375.8,408.0 375.4,407.1 C375.0,406.3 374.7,405.4 374.3,404.6 C373.9,403.7 373.5,402.9 373.1,402.0 C372.8,401.2 372.3,400.3 372.1,399.4 C372.0,398.5 372.1,397.1 372.1,396.6" stroke="#0ce80b" stroke-width="0.31" fill="none" opacity="0.39" stroke-linecap="round"/>
<path d="M392.9,421.6 C393.2,420.4 394.5,417.0 395.2,414.6 C395.8,412.2 395.9,409.7 396.8,407.4 C397.7,405.1 399.3,403.1 400.4,401.0 C401.5,398.8 402.5,396.5 403.5,394.2 C404.5,392.0 405.6,389.7 406.4,387.4 C407.2,385.1 408.1,381.5 408.5,380.3" stroke="#0ce80b" stroke-width="0.43" fill="none" opacity="0.49" stroke-linecap="round"/>
<path d="M400.4,401.0 C400.9,400.4 402.4,398.6 403.4,397.5 C404.4,396.3 405.5,395.3 406.4,394.0 C407.2,392.8 407.6,391.3 408.5,390.0 C409.4,388.8 410.8,388.0 411.7,386.8 C412.6,385.6 413.3,384.2 413.9,382.8 C414.5,381.5 415.1,379.2 415.3,378.5" stroke="#0ce80b" stroke-width="0.35" fill="none" opacity="0.42" stroke-linecap="round"/>
<path d="M404.3,422.7 C404.9,421.2 406.8,416.8 407.6,413.7 C408.5,410.6 408.5,407.3 409.3,404.1 C410.1,401.0 411.8,398.1 412.5,395.0 C413.1,391.9 412.5,388.5 413.1,385.4 C413.7,382.2 415.4,379.3 415.9,376.1 C416.3,373.0 416.0,368.1 416.1,366.5" stroke="#09d008" stroke-width="0.43" fill="none" opacity="0.60" stroke-linecap="round"/>
<path d="M412.5,395.0 C412.1,394.2 410.7,392.0 410.2,390.4 C409.7,388.8 410.1,386.9 409.5,385.3 C408.9,383.7 407.7,382.4 406.8,381.0 C405.8,379.5 404.5,378.2 404.0,376.6 C403.5,375.0 403.8,373.2 403.6,371.5 C403.4,369.8 402.9,367.2 402.8,366.4" stroke="#09d008" stroke-width="0.34" fill="none" opacity="0.51" stroke-linecap="round"/>
<path d="M388.7,424.0 C388.9,422.9 389.1,419.6 389.9,417.6 C390.7,415.7 392.5,414.2 393.4,412.2 C394.3,410.3 394.5,408.1 395.0,406.0 C395.6,403.9 396.0,401.8 396.8,399.8 C397.6,397.8 398.9,396.1 399.8,394.1 C400.8,392.2 402.0,389.2 402.5,388.3" stroke="#13f811" stroke-width="0.48" fill="none" opacity="0.92" stroke-linecap="round"/>
<path d="M395.0,406.0 C395.1,405.4 395.3,403.7 395.5,402.6 C395.6,401.4 395.6,400.2 395.8,399.1 C395.9,397.9 396.2,396.8 396.5,395.7 C396.8,394.6 397.2,393.5 397.5,392.3 C397.8,391.2 398.3,390.1 398.4,389.0 C398.5,387.9 398.1,386.1 398.1,385.5" stroke="#13f811" stroke-width="0.38" fill="none" opacity="0.78" stroke-linecap="round"/>
<path d="M379.5,412.5 C379.3,411.8 379.0,409.5 378.6,408.0 C378.2,406.5 377.6,405.1 377.3,403.6 C376.9,402.1 376.8,400.5 376.7,399.0 C376.7,397.5 376.7,395.9 376.8,394.4 C376.9,392.9 377.3,391.3 377.4,389.8 C377.4,388.3 377.2,386.0 377.1,385.2" stroke="#09d008" stroke-width="0.52" fill="none" opacity="0.85" stroke-linecap="round"/>
<path d="M377.3,403.6 C377.0,403.2 376.3,401.8 375.8,400.9 C375.4,400.0 375.2,399.0 374.7,398.1 C374.2,397.3 373.4,396.6 372.8,395.8 C372.1,395.0 371.6,394.2 371.0,393.4 C370.4,392.5 369.6,391.9 369.1,391.0 C368.6,390.2 368.1,388.7 367.9,388.2" stroke="#09d008" stroke-width="0.42" fill="none" opacity="0.72" stroke-linecap="round"/>
<path d="M393.4,422.0 C393.1,420.8 392.6,416.9 392.0,414.4 C391.5,411.9 390.8,409.4 390.1,406.9 C389.4,404.4 388.5,402.0 387.7,399.6 C387.0,397.1 385.9,394.7 385.4,392.2 C385.0,389.7 385.5,386.9 384.9,384.5 C384.3,382.0 382.4,378.5 381.9,377.3" stroke="#13f811" stroke-width="0.30" fill="none" opacity="0.51" stroke-linecap="round"/>
<path d="M390.1,406.9 C390.1,406.0 390.0,403.4 389.9,401.6 C389.8,399.9 389.5,398.1 389.5,396.3 C389.5,394.6 390.0,392.8 390.0,391.1 C389.9,389.3 389.4,387.6 389.4,385.8 C389.4,384.1 390.0,382.3 390.0,380.6 C390.1,378.8 389.6,376.2 389.5,375.3" stroke="#13f811" stroke-width="0.24" fill="none" opacity="0.43" stroke-linecap="round"/>
<path d="M371.6,411.0 C372.4,409.6 374.8,405.7 376.2,402.9 C377.6,400.1 378.7,397.2 379.9,394.3 C381.0,391.5 382.0,388.5 383.3,385.7 C384.6,382.9 386.7,380.4 387.7,377.5 C388.7,374.6 388.9,371.4 389.4,368.4 C390.0,365.3 390.7,360.7 390.9,359.2" stroke="#09d008" stroke-width="0.47" fill="none" opacity="0.61" stroke-linecap="round"/>
<path d="M379.9,394.3 C379.8,393.6 379.9,391.3 379.8,389.7 C379.8,388.2 379.4,386.6 379.5,385.1 C379.6,383.6 380.1,382.1 380.4,380.5 C380.8,379.0 381.3,377.6 381.6,376.1 C381.8,374.5 382.1,373.0 382.1,371.5 C382.0,369.9 381.5,367.6 381.4,366.9" stroke="#09d008" stroke-width="0.38" fill="none" opacity="0.52" stroke-linecap="round"/>
<path d="M407.4,412.3 C407.7,411.0 408.4,407.2 409.0,404.7 C409.6,402.2 410.2,399.7 410.8,397.2 C411.3,394.6 412.3,392.1 412.3,389.6 C412.3,387.0 410.8,384.5 410.9,381.9 C410.9,379.4 412.5,376.9 412.6,374.4 C412.7,371.8 411.7,368.0 411.5,366.7" stroke="#13f811" stroke-width="0.34" fill="none" opacity="0.91" stroke-linecap="round"/>
<path d="M410.8,397.2 C410.7,396.5 410.4,394.6 410.0,393.4 C409.6,392.1 408.9,391.0 408.4,389.8 C407.9,388.6 407.5,387.4 407.0,386.1 C406.6,384.9 406.2,383.7 405.7,382.5 C405.2,381.3 404.5,380.2 404.1,379.0 C403.6,377.7 403.1,375.9 402.9,375.2" stroke="#13f811" stroke-width="0.28" fill="none" opacity="0.77" stroke-linecap="round"/>
<path d="M404.7,420.8 C405.0,419.4 406.0,415.2 406.7,412.4 C407.4,409.6 407.9,406.8 408.9,404.1 C409.9,401.4 411.5,398.9 412.8,396.4 C414.1,393.8 416.0,391.4 416.7,388.7 C417.4,386.0 416.6,382.9 417.0,380.1 C417.3,377.3 418.6,373.1 418.9,371.7" stroke="#0ce80b" stroke-width="0.50" fill="none" opacity="0.38" stroke-linecap="round"/>
<path d="M412.8,396.4 C413.1,395.8 413.8,393.7 414.6,392.6 C415.4,391.6 416.9,391.0 417.8,389.9 C418.7,388.9 419.5,387.7 420.2,386.5 C420.9,385.3 421.4,384.0 422.1,382.8 C422.7,381.6 423.5,380.4 424.4,379.3 C425.2,378.2 426.8,376.8 427.3,376.3" stroke="#0ce80b" stroke-width="0.40" fill="none" opacity="0.33" stroke-linecap="round"/>
<path d="M406.9,414.4 C406.2,413.2 403.7,409.6 402.8,407.0 C401.9,404.4 402.0,401.4 401.4,398.7 C400.8,395.9 399.7,393.3 399.1,390.5 C398.6,387.8 398.4,384.9 398.0,382.1 C397.6,379.3 397.3,376.5 396.7,373.8 C396.1,371.0 394.7,367.0 394.4,365.6" stroke="#0ce80b" stroke-width="0.36" fill="none" opacity="0.78" stroke-linecap="round"/>
<path d="M399.1,390.5 C399.3,389.7 399.9,387.2 400.0,385.6 C400.1,383.9 399.9,382.2 399.8,380.6 C399.6,378.9 399.0,377.2 399.1,375.6 C399.2,373.9 400.1,372.4 400.3,370.7 C400.5,369.1 400.0,367.3 400.2,365.7 C400.4,364.1 401.2,361.6 401.4,360.8" stroke="#0ce80b" stroke-width="0.29" fill="none" opacity="0.66" stroke-linecap="round"/>
<path d="M399.3,415.0 C399.4,414.0 399.9,410.9 400.3,408.9 C400.7,406.9 401.2,404.9 401.7,402.9 C402.2,400.9 403.1,398.9 403.4,396.9 C403.8,394.9 404.0,392.8 404.1,390.8 C404.1,388.7 403.6,386.7 403.5,384.6 C403.4,382.5 403.4,379.4 403.3,378.4" stroke="#13f811" stroke-width="0.29" fill="none" opacity="0.42" stroke-linecap="round"/>
<path d="M403.4,396.9 C403.2,396.4 402.6,394.9 402.0,394.0 C401.5,393.0 400.8,392.1 400.3,391.2 C399.8,390.2 399.3,389.2 399.0,388.2 C398.6,387.1 398.5,386.0 398.2,385.0 C398.0,383.9 398.0,382.8 397.7,381.7 C397.4,380.7 396.5,379.3 396.3,378.8" stroke="#13f811" stroke-width="0.23" fill="none" opacity="0.35" stroke-linecap="round"/>
<path d="M378.0,412.8 C378.1,411.3 378.2,406.9 378.4,403.9 C378.7,401.0 379.6,398.0 379.8,395.1 C379.9,392.1 379.7,389.1 379.4,386.2 C379.1,383.2 378.7,380.3 378.0,377.4 C377.4,374.5 375.7,371.7 375.6,368.8 C375.4,365.9 376.9,361.5 377.1,360.0" stroke="#0ce80b" stroke-width="0.36" fill="none" opacity="0.94" stroke-linecap="round"/>
<path d="M379.8,395.1 C379.6,394.5 379.3,392.5 378.8,391.3 C378.3,390.2 377.2,389.2 376.8,388.0 C376.4,386.8 376.5,385.5 376.3,384.2 C376.1,382.9 376.0,381.6 375.7,380.4 C375.4,379.1 375.0,377.9 374.6,376.7 C374.2,375.5 373.4,373.7 373.2,373.1" stroke="#0ce80b" stroke-width="0.28" fill="none" opacity="0.80" stroke-linecap="round"/>
<path d="M399.3,422.9 C399.6,422.0 400.4,419.4 400.9,417.6 C401.4,415.9 401.7,414.1 402.4,412.4 C403.0,410.7 404.0,409.1 404.6,407.4 C405.2,405.7 405.4,403.8 406.1,402.1 C406.9,400.5 408.2,399.1 409.0,397.5 C409.9,395.9 410.9,393.3 411.2,392.5" stroke="#0ce80b" stroke-width="0.54" fill="none" opacity="0.71" stroke-linecap="round"/>
<path d="M402.4,412.4 C402.6,411.9 403.3,410.6 403.8,409.7 C404.3,408.9 404.9,408.0 405.6,407.3 C406.2,406.5 407.0,405.9 407.8,405.2 C408.5,404.6 409.5,404.2 410.2,403.5 C410.9,402.8 411.4,401.9 412.1,401.1 C412.7,400.4 413.9,399.5 414.3,399.1" stroke="#0ce80b" stroke-width="0.43" fill="none" opacity="0.60" stroke-linecap="round"/>
<path d="M376.7,417.5 C376.9,416.4 377.5,413.1 377.8,411.0 C378.2,408.8 378.6,406.6 378.9,404.5 C379.3,402.3 379.6,400.1 380.0,397.9 C380.4,395.8 380.8,393.6 381.2,391.4 C381.6,389.3 382.2,387.1 382.6,385.0 C383.0,382.8 383.4,379.5 383.6,378.4" stroke="#0ce80b" stroke-width="0.39" fill="none" opacity="0.37" stroke-linecap="round"/>
<path d="M378.9,404.5 C379.3,404.0 380.3,402.4 381.1,401.4 C381.9,400.5 382.9,399.7 383.7,398.7 C384.4,397.7 384.8,396.5 385.7,395.6 C386.5,394.7 387.6,394.1 388.6,393.3 C389.7,392.6 390.8,392.0 391.7,391.2 C392.6,390.4 393.7,388.8 394.1,388.4" stroke="#0ce80b" stroke-width="0.31" fill="none" opacity="0.31" stroke-linecap="round"/>
<path d="M393.1,413.2 C393.8,411.9 396.0,408.0 397.2,405.4 C398.4,402.7 398.9,399.7 400.3,397.1 C401.6,394.5 403.6,392.2 405.2,389.7 C406.9,387.3 408.9,385.0 410.1,382.3 C411.3,379.7 411.4,376.5 412.5,373.9 C413.7,371.2 416.3,367.5 417.1,366.3" stroke="#13f811" stroke-width="0.32" fill="none" opacity="0.89" stroke-linecap="round"/>
<path d="M405.2,389.7 C405.9,389.1 407.6,387.2 409.0,386.1 C410.4,385.1 412.2,384.6 413.5,383.5 C414.8,382.4 415.5,380.6 416.8,379.5 C418.1,378.4 420.0,378.1 421.4,377.1 C422.7,376.0 423.7,374.5 424.9,373.2 C426.1,372.0 428.1,370.3 428.7,369.7" stroke="#13f811" stroke-width="0.25" fill="none" opacity="0.76" stroke-linecap="round"/>
<path d="M379.7,414.0 C379.3,412.5 377.6,408.2 377.1,405.3 C376.6,402.3 376.9,399.2 376.6,396.2 C376.4,393.2 376.0,390.2 375.5,387.2 C374.9,384.2 374.2,381.3 373.4,378.4 C372.6,375.5 371.5,372.6 370.7,369.7 C369.9,366.8 369.0,362.3 368.6,360.9" stroke="#09d008" stroke-width="0.28" fill="none" opacity="0.29" stroke-linecap="round"/>
<path d="M376.6,396.2 C377.0,395.2 378.1,392.4 378.7,390.4 C379.3,388.4 379.7,386.4 380.4,384.5 C381.0,382.5 381.7,380.6 382.6,378.7 C383.5,376.8 384.9,375.2 385.6,373.3 C386.2,371.4 385.9,369.2 386.2,367.2 C386.5,365.1 387.2,362.1 387.4,361.1" stroke="#09d008" stroke-width="0.22" fill="none" opacity="0.25" stroke-linecap="round"/>
<path d="M393.4,418.7 C393.7,418.3 394.3,416.8 394.8,415.8 C395.3,414.9 396.1,414.1 396.5,413.2 C396.9,412.2 396.9,411.1 397.1,410.1 C397.4,409.0 397.8,408.0 398.2,407.1 C398.7,406.1 399.2,405.1 399.7,404.2 C400.2,403.3 401.1,402.0 401.4,401.5" stroke="#0ce80b" stroke-width="0.50" fill="none" opacity="0.56" stroke-linecap="round"/>
<path d="M397.1,410.1 C397.2,409.8 397.4,409.2 397.3,408.7 C397.3,408.3 397.0,407.9 397.0,407.5 C396.9,407.0 397.0,406.6 397.0,406.1 C397.0,405.7 397.0,405.2 397.0,404.8 C397.0,404.4 396.9,403.9 396.9,403.5 C396.9,403.0 397.1,402.4 397.1,402.2" stroke="#0ce80b" stroke-width="0.40" fill="none" opacity="0.48" stroke-linecap="round"/>
<path d="M383.0,415.4 C382.7,413.8 381.6,409.1 381.4,405.8 C381.2,402.6 381.5,399.4 381.6,396.2 C381.8,392.9 381.9,389.7 382.1,386.5 C382.3,383.2 382.6,380.0 382.8,376.8 C382.9,373.6 382.7,370.3 383.0,367.1 C383.3,363.9 384.3,359.1 384.6,357.5" stroke="#13f811" stroke-width="0.43" fill="none" opacity="0.31" stroke-linecap="round"/>
<path d="M382.1,386.5 C382.6,385.6 384.2,383.2 385.0,381.4 C385.7,379.6 386.0,377.7 386.5,375.8 C387.0,373.9 387.6,372.1 388.2,370.2 C388.7,368.4 389.1,366.5 389.6,364.6 C390.0,362.7 390.2,360.7 391.0,359.0 C391.8,357.3 393.9,355.1 394.5,354.3" stroke="#13f811" stroke-width="0.35" fill="none" opacity="0.27" stroke-linecap="round"/>
<path d="M377.9,420.9 C377.9,420.5 378.1,419.0 378.1,418.0 C378.0,417.0 377.8,416.1 377.7,415.1 C377.7,414.1 377.8,413.1 377.8,412.1 C377.7,411.2 377.3,410.2 377.2,409.3 C377.2,408.3 377.5,407.3 377.6,406.3 C377.8,405.4 378.0,403.9 378.0,403.4" stroke="#13f811" stroke-width="0.54" fill="none" opacity="0.85" stroke-linecap="round"/>
<path d="M377.7,415.1 C377.6,414.9 377.3,414.2 377.2,413.8 C377.1,413.3 377.1,412.8 377.0,412.4 C376.9,412.0 376.7,411.5 376.5,411.1 C376.3,410.7 376.0,410.3 375.9,409.8 C375.7,409.4 375.8,408.9 375.7,408.4 C375.5,408.0 375.1,407.4 375.0,407.2" stroke="#13f811" stroke-width="0.43" fill="none" opacity="0.72" stroke-linecap="round"/>
<path d="M383.8,408.7 C383.9,407.9 384.4,405.3 384.7,403.6 C385.0,401.9 385.0,400.1 385.6,398.4 C386.2,396.8 387.3,395.4 388.1,393.9 C389.0,392.4 390.2,391.0 390.7,389.4 C391.3,387.8 391.2,385.9 391.6,384.2 C392.0,382.5 392.8,380.0 393.1,379.2" stroke="#09d008" stroke-width="0.30" fill="none" opacity="0.77" stroke-linecap="round"/>
<path d="M388.1,393.9 C388.4,393.4 388.9,391.7 389.6,390.9 C390.3,390.0 391.5,389.6 392.3,388.8 C393.1,388.0 393.6,386.9 394.2,386.0 C394.8,385.1 395.4,384.1 396.1,383.2 C396.8,382.3 397.8,381.7 398.4,380.8 C399.1,379.9 399.8,378.3 400.1,377.8" stroke="#09d008" stroke-width="0.24" fill="none" opacity="0.66" stroke-linecap="round"/>
<path d="M373.1,418.3 C373.1,417.5 373.6,414.9 373.6,413.3 C373.5,411.6 372.9,410.0 372.7,408.3 C372.5,406.6 372.5,404.9 372.3,403.2 C372.2,401.5 371.9,399.9 371.8,398.2 C371.7,396.5 371.9,394.8 371.9,393.1 C372.0,391.4 372.1,388.9 372.2,388.0" stroke="#09d008" stroke-width="0.54" fill="none" opacity="0.65" stroke-linecap="round"/>
<path d="M372.7,408.3 C372.8,407.7 372.8,406.1 373.0,405.1 C373.2,404.0 373.7,403.1 374.0,402.0 C374.2,401.0 374.5,399.9 374.7,398.9 C374.8,397.8 374.9,396.8 375.0,395.7 C375.1,394.6 375.0,393.5 375.2,392.5 C375.4,391.5 376.1,390.0 376.2,389.5" stroke="#09d008" stroke-width="0.43" fill="none" opacity="0.56" stroke-linecap="round"/>
<path d="M406.0,413.1 C406.4,411.5 407.7,406.7 408.1,403.4 C408.4,400.1 408.2,396.8 408.2,393.5 C408.2,390.2 407.5,386.7 408.1,383.5 C408.7,380.3 411.2,377.5 411.8,374.3 C412.3,371.1 410.9,367.6 411.5,364.4 C412.0,361.2 414.4,356.6 414.9,355.1" stroke="#13f811" stroke-width="0.43" fill="none" opacity="0.76" stroke-linecap="round"/>
<path d="M408.2,393.5 C408.4,392.5 408.8,389.4 409.7,387.7 C410.6,386.0 412.4,384.8 413.6,383.3 C414.8,381.7 415.8,380.0 417.0,378.4 C418.1,376.8 419.7,375.4 420.6,373.7 C421.4,371.9 421.3,369.7 422.2,368.0 C423.1,366.3 425.4,364.2 426.0,363.4" stroke="#13f811" stroke-width="0.34" fill="none" opacity="0.65" stroke-linecap="round"/>
<path d="M398.0,417.2 C397.9,415.9 397.5,411.9 397.7,409.3 C398.0,406.7 399.3,404.2 399.6,401.6 C399.9,399.0 399.1,396.4 399.2,393.7 C399.4,391.1 399.6,388.4 400.2,385.9 C400.9,383.4 402.2,381.0 403.0,378.5 C403.7,376.0 404.4,372.1 404.7,370.8" stroke="#13f811" stroke-width="0.44" fill="none" opacity="0.62" stroke-linecap="round"/>
<path d="M399.2,393.7 C399.0,393.2 398.4,391.6 397.9,390.6 C397.5,389.5 397.1,388.4 396.7,387.4 C396.4,386.3 396.4,385.0 396.0,384.0 C395.6,383.0 394.6,382.2 394.1,381.1 C393.6,380.1 393.4,379.0 393.0,377.9 C392.7,376.8 392.3,375.1 392.1,374.6" stroke="#13f811" stroke-width="0.35" fill="none" opacity="0.52" stroke-linecap="round"/>
<path d="M378.4,412.3 C379.0,411.3 381.2,408.3 382.0,406.1 C382.8,403.9 382.8,401.4 383.3,399.1 C383.9,396.8 384.3,394.4 385.1,392.2 C385.9,390.0 387.1,387.8 388.3,385.8 C389.4,383.7 391.1,381.9 392.2,379.8 C393.2,377.7 394.2,374.2 394.6,373.1" stroke="#13f811" stroke-width="0.34" fill="none" opacity="0.87" stroke-linecap="round"/>
<path d="M385.1,392.2 C385.5,391.6 386.5,389.7 387.5,388.8 C388.5,387.9 390.1,387.7 391.1,386.8 C392.1,385.9 392.7,384.5 393.6,383.5 C394.5,382.5 395.5,381.6 396.6,380.7 C397.7,379.8 398.9,379.2 400.0,378.3 C401.0,377.4 402.3,375.7 402.7,375.2" stroke="#13f811" stroke-width="0.27" fill="none" opacity="0.74" stroke-linecap="round"/>
<path d="M388.7,408.4 C388.6,407.8 388.2,406.1 387.9,404.9 C387.6,403.8 387.4,402.6 387.0,401.5 C386.7,400.3 386.1,399.2 386.0,398.1 C385.8,396.9 386.3,395.7 386.2,394.5 C386.1,393.4 385.5,392.3 385.4,391.1 C385.2,389.9 385.4,388.1 385.5,387.5" stroke="#09d008" stroke-width="0.39" fill="none" opacity="0.90" stroke-linecap="round"/>
<path d="M386.0,398.1 C386.1,397.8 386.4,397.1 386.5,396.6 C386.6,396.1 386.5,395.6 386.7,395.1 C386.9,394.6 387.2,394.2 387.5,393.7 C387.7,393.3 388.0,392.8 388.1,392.3 C388.3,391.9 388.4,391.3 388.6,390.8 C388.8,390.4 389.2,389.7 389.3,389.5" stroke="#09d008" stroke-width="0.31" fill="none" opacity="0.77" stroke-linecap="round"/>
<path d="M392.2,413.7 C392.5,412.2 393.2,407.5 394.2,404.6 C395.1,401.7 397.2,399.1 397.9,396.2 C398.7,393.2 398.0,389.9 398.7,386.9 C399.5,384.0 401.8,381.4 402.5,378.5 C403.2,375.5 402.5,372.3 402.9,369.2 C403.3,366.2 404.7,361.7 405.1,360.2" stroke="#0ce80b" stroke-width="0.44" fill="none" opacity="0.46" stroke-linecap="round"/>
<path d="M397.9,396.2 C398.2,395.5 398.7,393.3 399.4,392.1 C400.1,390.8 401.5,390.0 402.4,388.9 C403.2,387.7 404.0,386.5 404.6,385.2 C405.2,383.9 405.3,382.2 406.0,381.0 C406.8,379.9 408.4,379.2 409.1,378.0 C409.9,376.8 410.3,374.6 410.5,373.9" stroke="#0ce80b" stroke-width="0.35" fill="none" opacity="0.39" stroke-linecap="round"/>
<path d="M380.2,421.5 C380.5,421.0 381.4,419.4 381.8,418.2 C382.2,417.1 382.1,415.7 382.6,414.7 C383.2,413.6 384.1,412.7 384.8,411.7 C385.5,410.7 386.4,409.8 386.9,408.7 C387.5,407.6 387.5,406.3 388.0,405.2 C388.4,404.1 389.4,402.5 389.7,402.0" stroke="#09d008" stroke-width="0.40" fill="none" opacity="0.30" stroke-linecap="round"/>
<path d="M382.6,414.7 C382.8,414.4 383.4,413.5 383.8,413.0 C384.3,412.6 385.0,412.3 385.5,411.8 C386.0,411.4 386.4,410.8 386.8,410.3 C387.2,409.8 387.4,409.1 387.9,408.6 C388.3,408.1 388.9,407.7 389.4,407.3 C389.9,406.8 390.6,406.1 390.8,405.8" stroke="#09d008" stroke-width="0.32" fill="none" opacity="0.26" stroke-linecap="round"/>
<path d="M374.7,415.6 C374.6,414.3 374.3,410.6 374.2,408.1 C374.1,405.6 374.2,403.1 374.1,400.6 C374.1,398.1 373.8,395.5 374.2,393.1 C374.5,390.7 376.0,388.4 376.3,385.9 C376.7,383.5 376.3,380.9 376.2,378.4 C376.1,375.9 375.9,372.2 375.9,370.9" stroke="#0ce80b" stroke-width="0.34" fill="none" opacity="0.64" stroke-linecap="round"/>
<path d="M374.2,393.1 C374.5,392.4 375.8,390.5 376.3,389.1 C376.7,387.7 376.4,386.1 377.0,384.7 C377.5,383.4 378.7,382.3 379.4,381.0 C380.2,379.7 381.0,378.4 381.6,377.1 C382.2,375.7 382.5,374.2 383.1,372.9 C383.7,371.5 384.8,369.5 385.2,368.9" stroke="#0ce80b" stroke-width="0.28" fill="none" opacity="0.55" stroke-linecap="round"/>
<path d="M395.7,411.4 C395.8,410.8 396.3,408.8 396.6,407.5 C397.0,406.2 397.6,404.9 397.8,403.6 C398.0,402.2 397.6,400.8 397.9,399.5 C398.2,398.2 399.2,397.1 399.7,395.8 C400.1,394.5 400.3,393.1 400.7,391.9 C401.2,390.6 402.1,388.7 402.3,388.1" stroke="#09d008" stroke-width="0.45" fill="none" opacity="0.29" stroke-linecap="round"/>
<path d="M397.8,403.6 C398.0,403.3 398.6,402.5 399.0,401.9 C399.4,401.4 399.9,400.9 400.1,400.3 C400.4,399.7 400.5,399.0 400.6,398.4 C400.8,397.7 400.8,397.0 401.1,396.5 C401.4,395.9 402.0,395.5 402.4,394.9 C402.9,394.4 403.5,393.7 403.7,393.4" stroke="#09d008" stroke-width="0.36" fill="none" opacity="0.25" stroke-linecap="round"/>
<path d="M407.9,418.8 C408.2,417.2 409.8,412.5 409.9,409.2 C410.0,406.0 408.8,402.8 408.5,399.5 C408.2,396.3 408.4,393.0 408.2,389.7 C408.0,386.5 407.8,383.2 407.4,380.0 C407.0,376.7 406.2,373.5 405.9,370.3 C405.6,367.0 405.4,362.1 405.3,360.5" stroke="#0ce80b" stroke-width="0.31" fill="none" opacity="0.57" stroke-linecap="round"/>
<path d="M408.5,399.5 C408.2,399.0 407.1,397.3 406.5,396.1 C406.0,394.9 405.4,393.7 405.0,392.4 C404.5,391.2 404.3,389.9 403.9,388.6 C403.5,387.4 403.0,386.1 402.5,384.9 C402.1,383.7 401.6,382.4 401.1,381.2 C400.6,380.0 399.9,378.1 399.6,377.5" stroke="#0ce80b" stroke-width="0.25" fill="none" opacity="0.48" stroke-linecap="round"/>
<path d="M393.0,421.7 C393.6,420.2 396.2,416.0 396.9,412.9 C397.7,409.9 396.9,406.5 397.2,403.3 C397.5,400.1 397.9,396.9 398.8,393.8 C399.6,390.7 401.5,387.9 402.2,384.8 C403.0,381.7 403.0,378.4 403.5,375.2 C403.9,372.1 404.7,367.3 404.9,365.7" stroke="#13f811" stroke-width="0.37" fill="none" opacity="0.56" stroke-linecap="round"/>
<path d="M397.2,403.3 C397.7,402.7 399.0,400.8 399.9,399.5 C400.9,398.3 401.7,397.0 402.7,395.8 C403.8,394.7 405.0,393.8 406.2,392.7 C407.4,391.7 408.7,390.8 409.7,389.7 C410.7,388.6 411.4,387.1 412.5,386.0 C413.5,384.9 415.5,383.6 416.1,383.1" stroke="#13f811" stroke-width="0.29" fill="none" opacity="0.47" stroke-linecap="round"/>
<path d="M380.0,422.7 C380.1,422.0 380.4,419.9 380.4,418.4 C380.4,417.0 379.9,415.6 380.0,414.2 C380.1,412.9 380.8,411.5 381.2,410.2 C381.6,408.8 382.2,407.5 382.5,406.1 C382.7,404.7 382.3,403.3 382.5,401.9 C382.7,400.5 383.4,398.5 383.6,397.8" stroke="#13f811" stroke-width="0.51" fill="none" opacity="0.90" stroke-linecap="round"/>
<path d="M381.2,410.2 C381.2,409.9 381.3,409.0 381.5,408.4 C381.6,407.9 381.8,407.3 382.1,406.8 C382.3,406.3 382.7,405.8 382.9,405.3 C383.1,404.7 383.1,404.1 383.4,403.6 C383.6,403.1 384.0,402.6 384.3,402.1 C384.6,401.6 385.0,400.8 385.2,400.6" stroke="#13f811" stroke-width="0.41" fill="none" opacity="0.76" stroke-linecap="round"/>
<path d="M378.0,411.4 C377.8,410.0 377.4,405.7 377.0,402.9 C376.5,400.1 375.6,397.3 375.1,394.5 C374.6,391.7 374.8,388.7 374.0,386.0 C373.1,383.3 371.1,381.0 370.1,378.4 C369.1,375.7 368.6,372.8 367.8,370.1 C366.9,367.4 365.2,363.5 364.7,362.1" stroke="#13f811" stroke-width="0.55" fill="none" opacity="0.36" stroke-linecap="round"/>
<path d="M374.0,386.0 C373.9,385.0 373.6,382.1 373.6,380.1 C373.6,378.2 374.0,376.2 374.0,374.3 C374.1,372.3 373.5,370.3 373.8,368.4 C374.1,366.5 375.3,364.8 375.8,362.9 C376.3,361.0 376.4,359.0 376.9,357.1 C377.4,355.2 378.6,352.5 379.0,351.6" stroke="#13f811" stroke-width="0.44" fill="none" opacity="0.31" stroke-linecap="round"/>
<path d="M406.9,414.2 C406.9,413.6 406.9,411.7 406.8,410.5 C406.7,409.3 406.1,408.1 406.2,406.9 C406.2,405.7 406.8,404.6 407.0,403.4 C407.1,402.2 407.1,400.9 406.9,399.7 C406.8,398.5 406.4,397.3 406.3,396.1 C406.2,394.9 406.2,393.1 406.2,392.5" stroke="#13f811" stroke-width="0.33" fill="none" opacity="0.34" stroke-linecap="round"/>
<path d="M407.0,403.4 C407.0,403.1 407.2,402.4 407.4,401.9 C407.7,401.5 408.0,401.1 408.3,400.7 C408.6,400.3 408.9,399.9 409.2,399.5 C409.5,399.0 409.7,398.6 409.9,398.1 C410.2,397.7 410.3,397.2 410.6,396.8 C410.8,396.3 411.3,395.8 411.5,395.6" stroke="#13f811" stroke-width="0.26" fill="none" opacity="0.29" stroke-linecap="round"/>
<path d="M389.0,421.8 C389.4,420.7 390.7,417.5 391.1,415.3 C391.5,413.1 391.3,410.8 391.4,408.5 C391.5,406.3 391.8,404.0 391.9,401.8 C391.9,399.5 391.4,397.3 391.5,395.0 C391.6,392.8 392.0,390.5 392.4,388.3 C392.7,386.1 393.5,382.7 393.7,381.6" stroke="#0ce80b" stroke-width="0.42" fill="none" opacity="0.36" stroke-linecap="round"/>
<path d="M391.9,401.8 C391.9,401.3 392.0,400.0 392.0,399.1 C392.0,398.2 391.9,397.3 391.9,396.4 C391.8,395.5 391.8,394.5 391.7,393.6 C391.5,392.8 391.0,391.9 390.9,391.0 C390.9,390.2 391.3,389.2 391.3,388.3 C391.3,387.4 391.1,386.1 391.1,385.6" stroke="#0ce80b" stroke-width="0.34" fill="none" opacity="0.31" stroke-linecap="round"/>
<path d="M387.0,417.9 C387.1,416.9 387.2,413.9 387.7,412.0 C388.2,410.1 389.5,408.4 390.0,406.6 C390.6,404.7 390.7,402.7 391.0,400.7 C391.3,398.8 391.5,396.8 391.9,394.9 C392.3,393.0 392.9,391.1 393.4,389.2 C393.9,387.3 394.7,384.4 395.0,383.5" stroke="#13f811" stroke-width="0.49" fill="none" opacity="0.55" stroke-linecap="round"/>
<path d="M390.0,406.6 C390.2,406.0 390.9,404.3 391.3,403.2 C391.8,402.1 392.3,401.0 392.8,399.9 C393.3,398.8 393.6,397.6 394.2,396.6 C394.9,395.6 395.9,394.8 396.5,393.8 C397.1,392.8 397.3,391.5 397.8,390.4 C398.4,389.4 399.5,388.0 399.9,387.5" stroke="#13f811" stroke-width="0.39" fill="none" opacity="0.47" stroke-linecap="round"/>
<path d="M406.7,423.0 C406.2,421.7 404.3,418.1 403.5,415.5 C402.7,412.9 402.4,410.2 401.9,407.6 C401.5,404.9 401.2,402.2 400.8,399.5 C400.5,396.9 400.1,394.2 399.7,391.5 C399.2,388.9 398.9,386.1 398.1,383.6 C397.2,381.0 395.2,377.5 394.6,376.3" stroke="#09d008" stroke-width="0.53" fill="none" opacity="0.76" stroke-linecap="round"/>
<path d="M401.9,407.6 C401.5,406.9 400.2,404.7 399.2,403.3 C398.3,401.9 397.1,400.7 396.2,399.3 C395.3,397.9 394.6,396.4 393.6,395.0 C392.6,393.7 391.2,392.6 390.3,391.2 C389.3,389.9 388.6,388.3 387.7,386.9 C386.8,385.5 385.3,383.5 384.8,382.8" stroke="#09d008" stroke-width="0.42" fill="none" opacity="0.65" stroke-linecap="round"/>
<path d="M377.4,409.9 C377.5,409.4 377.7,407.8 377.9,406.7 C378.1,405.6 378.3,404.5 378.6,403.4 C378.9,402.4 379.6,401.5 379.9,400.4 C380.3,399.4 380.3,398.2 380.6,397.2 C381.0,396.2 381.7,395.2 381.9,394.2 C382.1,393.1 381.9,391.4 381.9,390.9" stroke="#09d008" stroke-width="0.44" fill="none" opacity="0.88" stroke-linecap="round"/>
<path d="M379.9,400.4 C379.9,400.1 379.7,399.0 379.6,398.2 C379.5,397.5 379.6,396.7 379.4,396.0 C379.2,395.3 378.6,394.7 378.4,394.0 C378.1,393.3 378.1,392.6 377.9,391.8 C377.7,391.1 377.6,390.4 377.3,389.7 C377.0,389.0 376.4,388.1 376.2,387.7" stroke="#09d008" stroke-width="0.35" fill="none" opacity="0.74" stroke-linecap="round"/>
<path d="M390.8,414.8 C391.3,413.6 392.8,410.3 393.7,408.0 C394.6,405.7 395.5,403.4 396.0,401.0 C396.6,398.6 396.4,396.1 396.9,393.7 C397.3,391.3 397.6,388.7 398.5,386.5 C399.5,384.3 401.6,382.6 402.7,380.4 C403.8,378.2 404.7,374.6 405.1,373.4" stroke="#0ce80b" stroke-width="0.52" fill="none" opacity="0.86" stroke-linecap="round"/>
<path d="M396.9,393.7 C396.8,392.9 396.8,390.4 396.6,388.8 C396.3,387.2 395.4,385.7 395.3,384.1 C395.1,382.5 395.7,380.9 395.7,379.3 C395.7,377.7 395.3,376.0 395.4,374.4 C395.5,372.8 396.2,371.2 396.1,369.6 C395.9,368.0 394.8,365.7 394.6,365.0" stroke="#0ce80b" stroke-width="0.42" fill="none" opacity="0.73" stroke-linecap="round"/>
<path d="M398.2,422.5 C398.3,421.9 398.6,420.1 398.8,418.9 C399.0,417.8 399.4,416.6 399.7,415.5 C399.9,414.3 400.1,413.1 400.2,411.9 C400.3,410.7 400.2,409.5 400.3,408.3 C400.4,407.2 400.7,406.0 400.8,404.8 C400.8,403.6 400.5,401.8 400.4,401.2" stroke="#13f811" stroke-width="0.46" fill="none" opacity="0.91" stroke-linecap="round"/>
<path d="M400.2,411.9 C400.1,411.7 399.8,410.9 399.6,410.4 C399.4,409.9 399.3,409.3 399.1,408.8 C398.9,408.3 398.8,407.7 398.6,407.2 C398.4,406.7 398.1,406.3 397.9,405.7 C397.7,405.2 397.6,404.7 397.4,404.2 C397.3,403.6 397.0,402.8 396.9,402.6" stroke="#13f811" stroke-width="0.37" fill="none" opacity="0.78" stroke-linecap="round"/>
<path d="M376.3,422.4 C376.2,421.6 375.8,419.4 375.7,417.9 C375.7,416.4 375.6,414.9 375.8,413.4 C376.0,411.9 376.8,410.5 377.0,409.1 C377.1,407.6 377.0,406.0 376.9,404.6 C376.7,403.1 376.2,401.7 375.9,400.2 C375.6,398.7 375.3,396.5 375.2,395.8" stroke="#0ce80b" stroke-width="0.37" fill="none" opacity="0.65" stroke-linecap="round"/>
<path d="M375.8,413.4 C375.9,413.0 376.1,411.6 376.4,410.8 C376.7,410.0 377.4,409.3 377.7,408.5 C378.0,407.7 378.1,406.8 378.3,405.9 C378.5,405.0 378.6,404.1 378.8,403.3 C379.0,402.4 379.1,401.5 379.4,400.7 C379.7,399.8 380.4,398.7 380.6,398.3" stroke="#0ce80b" stroke-width="0.30" fill="none" opacity="0.55" stroke-linecap="round"/>
<path d="M397.7,414.2 C397.9,413.2 398.8,410.3 399.2,408.3 C399.7,406.3 399.8,404.2 400.4,402.2 C401.0,400.3 402.2,398.6 403.0,396.7 C403.9,394.8 404.9,393.0 405.5,391.1 C406.1,389.1 406.2,387.0 406.5,385.0 C406.8,383.0 407.0,379.9 407.1,378.9" stroke="#0ce80b" stroke-width="0.34" fill="none" opacity="0.61" stroke-linecap="round"/>
<path d="M403.0,396.7 C403.1,396.3 403.2,395.1 403.2,394.2 C403.1,393.4 403.0,392.6 402.9,391.8 C402.8,391.0 402.7,390.1 402.5,389.4 C402.3,388.6 401.8,387.8 401.7,387.0 C401.5,386.2 401.8,385.4 401.7,384.6 C401.7,383.7 401.4,382.5 401.4,382.1" stroke="#0ce80b" stroke-width="0.27" fill="none" opacity="0.52" stroke-linecap="round"/>
<path d="M369.1,416.4 C369.4,415.8 370.4,414.1 371.0,412.8 C371.5,411.6 372.0,410.3 372.4,409.0 C372.9,407.8 373.0,406.4 373.6,405.2 C374.2,404.0 375.4,403.1 376.0,401.9 C376.5,400.7 376.7,399.3 377.0,398.0 C377.3,396.7 377.6,394.6 377.7,394.0" stroke="#09d008" stroke-width="0.50" fill="none" opacity="0.81" stroke-linecap="round"/>
<path d="M372.4,409.0 C372.7,408.6 373.2,407.4 373.8,406.6 C374.3,405.9 375.1,405.3 375.7,404.6 C376.3,403.9 376.9,403.1 377.4,402.3 C377.9,401.6 378.3,400.7 378.9,400.0 C379.5,399.2 380.3,398.7 380.8,398.0 C381.4,397.2 381.9,395.9 382.1,395.5" stroke="#09d008" stroke-width="0.40" fill="none" opacity="0.69" stroke-linecap="round"/>
<path d="M389.5,408.3 C390.1,407.1 391.8,403.4 392.7,400.9 C393.7,398.3 394.5,395.8 395.3,393.2 C396.0,390.6 396.8,388.0 397.4,385.3 C398.0,382.7 398.4,380.0 398.9,377.4 C399.4,374.7 399.6,372.0 400.4,369.4 C401.2,366.8 403.1,363.2 403.7,362.0" stroke="#13f811" stroke-width="0.30" fill="none" opacity="0.60" stroke-linecap="round"/>
<path d="M395.3,393.2 C395.2,392.6 395.0,391.0 395.1,389.9 C395.2,388.8 395.6,387.7 395.7,386.6 C395.8,385.6 395.8,384.5 395.9,383.4 C396.1,382.3 396.3,381.2 396.5,380.1 C396.7,379.1 396.9,378.0 397.0,376.9 C397.1,375.8 397.1,374.1 397.1,373.6" stroke="#13f811" stroke-width="0.24" fill="none" opacity="0.51" stroke-linecap="round"/>
<path d="M371.5,418.4 C371.4,417.7 371.2,415.7 371.0,414.4 C370.7,413.1 370.3,411.8 370.0,410.5 C369.7,409.2 369.6,407.9 369.3,406.5 C369.0,405.2 368.6,404.0 368.2,402.7 C367.8,401.4 367.3,400.1 367.0,398.9 C366.7,397.6 366.3,395.6 366.2,394.9" stroke="#09d008" stroke-width="0.33" fill="none" opacity="0.58" stroke-linecap="round"/>
<path d="M369.3,406.5 C369.2,406.3 368.7,405.6 368.5,405.1 C368.2,404.6 367.9,404.1 367.6,403.6 C367.4,403.1 367.2,402.5 367.0,402.0 C366.7,401.5 366.5,401.0 366.1,400.5 C365.8,400.0 365.4,399.6 365.0,399.2 C364.7,398.8 364.2,398.1 364.0,397.9" stroke="#09d008" stroke-width="0.27" fill="none" opacity="0.50" stroke-linecap="round"/>
<circle cx="386.0" cy="422.7" r="1.0" fill="#11ff10" opacity="0.88" filter="url(#b03)"/>
<circle cx="372.6" cy="411.6" r="1.3" fill="#11ff10" opacity="0.78" filter="url(#b03)"/>
<circle cx="395.9" cy="410.1" r="1.4" fill="#11ff10" opacity="0.87" filter="url(#b03)"/>
<circle cx="375.9" cy="413.1" r="1.6" fill="#11ff10" opacity="0.74" filter="url(#b03)"/>
<circle cx="377.9" cy="420.5" r="1.3" fill="#11ff10" opacity="0.94" filter="url(#b03)"/>
<circle cx="376.9" cy="419.9" r="0.9" fill="#11ff10" opacity="0.58" filter="url(#b03)"/>
<circle cx="396.6" cy="418.5" r="1.1" fill="#11ff10" opacity="0.70" filter="url(#b03)"/>
<circle cx="399.9" cy="419.5" r="1.3" fill="#11ff10" opacity="0.63" filter="url(#b03)"/>
<circle cx="381.9" cy="408.0" r="0.9" fill="#11ff10" opacity="0.92" filter="url(#b03)"/>
<circle cx="378.9" cy="408.7" r="1.5" fill="#11ff10" opacity="0.68" filter="url(#b03)"/>
<circle cx="370.5" cy="409.1" r="1.0" fill="#11ff10" opacity="0.53" filter="url(#b03)"/>
<circle cx="374.9" cy="418.6" r="1.2" fill="#11ff10" opacity="0.87" filter="url(#b03)"/>
<circle cx="376.9" cy="420.3" r="1.6" fill="#11ff10" opacity="0.69" filter="url(#b03)"/>
<circle cx="380.1" cy="422.7" r="1.0" fill="#11ff10" opacity="0.68" filter="url(#b03)"/>
<circle cx="369.9" cy="413.9" r="1.3" fill="#11ff10" opacity="0.52" filter="url(#b03)"/>
<circle cx="403.3" cy="420.2" r="1.5" fill="#11ff10" opacity="0.63" filter="url(#b03)"/>
<circle cx="388.1" cy="416.1" r="1.6" fill="#11ff10" opacity="0.57" filter="url(#b03)"/>
<circle cx="400.9" cy="421.9" r="0.8" fill="#11ff10" opacity="0.90" filter="url(#b03)"/>
<rect x="368.6" y="338.8" width="37.4" height="85.2" fill="#000" filter="url(#noise)" opacity="0.2"/>
</g>
<rect x="369.3" y="339.5" width="36.0" height="83.8" fill="none" stroke="#f040f0" stroke-width="1.4"/>
<rect x="311.3" y="348.5" width="12.800000000000011" height="29.899999999999977" fill="none" stroke="#b038b0" stroke-width="1.1"/>
<line x1="324.1" y1="348.5" x2="365" y2="341.5" stroke="#e040e0" stroke-width="0.9"/>
<path d="M364,339.4 L368,341.5 L364,343.6 Z" fill="#e040e0"/>
<text x="512.6" y="15" font-size="10.5" text-anchor="start" font-weight="bold" fill="#000" >B.</text>
<path d="M573,10.5 L589,0.5 L634,1.5 L623.5,12.5 Z" fill="#3c679c"/>
<path d="M623.5,12.5 L634,1.8 L635.5,3.5 L639,22.5 L626.5,39 Z" fill="#2c5a8e"/>
<path d="M574.5,10 L622.5,11.6 Q624.5,11.7 624.6,13.6 L626.2,36.5 Q626.3,38.6 624.2,38.5 L569,35.6 Q566.8,35.4 567.3,33.3 L572.6,11.6 Q573,10 574.5,10 Z" fill="#dde9f2" stroke="#2e5c90" stroke-width="1"/>
<path d="M585.4,14.6 L608.4,15.3 L608.2,24 L585.2,23.3 Z" fill="#cfe2b0" stroke="#8a9a80" stroke-width="0.5"/>
<circle cx="617.7" cy="20.2" r="3.4" fill="#4a4a4a"/>
<circle cx="575.9" cy="18" r="1.6" fill="#c8c8c8" stroke="#999" stroke-width="0.3"/>
<circle cx="605.9" cy="32.9" r="0.9" fill="#222"/>
<circle cx="616.8" cy="34.6" r="1.9" fill="#8ec63f" stroke="#6a9a30" stroke-width="0.3"/>
<circle cx="587.7" cy="31.6" r="1.2" fill="#333"/>
<circle cx="591.6" cy="31.9" r="1.2" fill="#c84040"/>
<path d="M587.8,31.5 C587.5,35 586,39.5 581.6,41.6 C576,43.5 562,42.3 555.8,43 C549,43.8 546,47.5 546.1,56" stroke="#3a3a3a" stroke-width="0.9" fill="none"/>
<path d="M591.6,32 C591,37 588,42.5 585.4,43.7 C580,46.8 570,46.8 564.8,47.6 C560.3,48.7 558.6,52 558.4,58" stroke="#d34a3c" stroke-width="0.9" fill="none"/>
<path d="M596,102.2 C610,104 625,99.5 638,100 C650,101 660,108 659.3,121.5" stroke="#a97870" stroke-width="3.6" fill="none" stroke-linecap="round"/>
<path d="M596,102.2 C610,104 625,99.5 638,100 C650,101 660,108 659.3,121.5" stroke="#c4958d" stroke-width="2.2" fill="none" stroke-linecap="round"/>
<ellipse cx="538.6" cy="110" rx="5.6" ry="1.9" fill="#c89088"/>
<ellipse cx="577" cy="108.6" rx="7" ry="2.1" fill="#c89088"/>
<ellipse cx="584.5" cy="107.5" rx="4.5" ry="1.8" fill="#c89088"/>
<ellipse cx="532.3" cy="79" rx="4" ry="4.5" fill="#3e3938"/>
<path d="M514.5,103.8 C515,98 519,93 523,87.5 C527,82 531,78.5 537,77 C541,75.5 546,72.5 553,71 C560,69.8 570,70.5 578,74.6 C585,78.5 592,87 596.2,96.5 C597.5,99.5 598.2,103 597,105.3 C594,107.5 590,107 586,107.5 C575,108.5 565,108.8 556,108.4 C548,108.4 541.5,108.6 536,108.3 C530,107.8 523,107.5 519.6,106.8 C516.5,106.2 514.3,105.5 514.5,103.8 Z" fill="#504a48"/>
<path d="M560,107.5 C558,98 565,88 580,86 C588,86 594,93 596.5,100 C597.5,103 597,105 595,105.8 C585,107.8 570,108.5 560,107.5 Z" fill="#3f3a39" opacity="0.35"/>
<path d="M536,108.3 C538,101 544,99 548,100 C552,101 554,104 556,108.4 Z" fill="#3d3837" opacity="0.4"/>
<path d="M537,88.5 C535.5,84 536.5,79 540.5,77.8 C544.5,76.8 547.8,79.5 547.4,84 C547,88 543.5,90.6 540,90.4 C538.5,90.3 537.5,89.6 537,88.5 Z" fill="#b9837c"/>
<path d="M538.5,87.8 C537.6,84.2 538.5,80.5 541.2,79.6 C544.2,78.8 546.3,81 545.9,84.2 C545.5,87.3 543,89 540.6,89 C539.6,89 538.9,88.5 538.5,87.8 Z" fill="#d2a49c"/>
<ellipse cx="526.0" cy="94.6" rx="1.8" ry="1.5" fill="#1a1414"/>
<circle cx="514.8" cy="103.6" r="1" fill="#c8938b"/>
<path d="M517,99.5 L506,95 M517,100 L505,98.5 M517,100.5 L507,101.5 M518,101 L509,93" stroke="#d8d8d8" stroke-width="0.35" fill="none"/>
<path d="M547.4,56.9 C547.3,57.2 547.2,57.9 546.7,59.0 C546.2,60.0 545.2,61.7 544.2,63.3 C543.1,64.8 541.5,66.8 540.3,68.2 C539.1,69.5 538.0,71.1 537.1,71.3 C536.2,71.6 535.0,70.8 534.9,69.9 C534.9,68.9 536.0,67.3 536.8,65.7 C537.7,64.2 539.0,61.9 540.1,60.4 C541.1,58.9 542.4,57.4 543.3,56.5 C544.1,55.7 544.3,55.1 545.0,55.1 C545.7,55.2 547.0,56.6 547.4,56.9 Z" fill="#2a2a2a"/>
<path d="M535.6,70 L533.4,74.6 M537,70.8 L534.6,75.2" stroke="#9a9a9a" stroke-width="0.8"/>
<path d="M559.2,60.1 C559.1,60.4 559.1,61.0 558.6,62.1 C558.1,63.1 557.4,64.7 556.4,66.2 C555.5,67.7 554.0,69.6 552.9,70.9 C551.9,72.2 550.9,73.7 550.1,74.0 C549.2,74.3 548.0,73.5 547.9,72.6 C547.9,71.7 548.8,70.2 549.6,68.7 C550.3,67.2 551.4,65.1 552.4,63.6 C553.3,62.1 554.5,60.7 555.2,59.9 C556.0,59.1 556.2,58.5 556.8,58.5 C557.5,58.6 558.8,59.8 559.2,60.1 Z" fill="#d65a36"/>
<path d="M548.4,73 L546.2,79.2 M549.8,73.6 L547.6,79.6" stroke="#9a9a9a" stroke-width="0.8"/>
</svg>
</body></html>
